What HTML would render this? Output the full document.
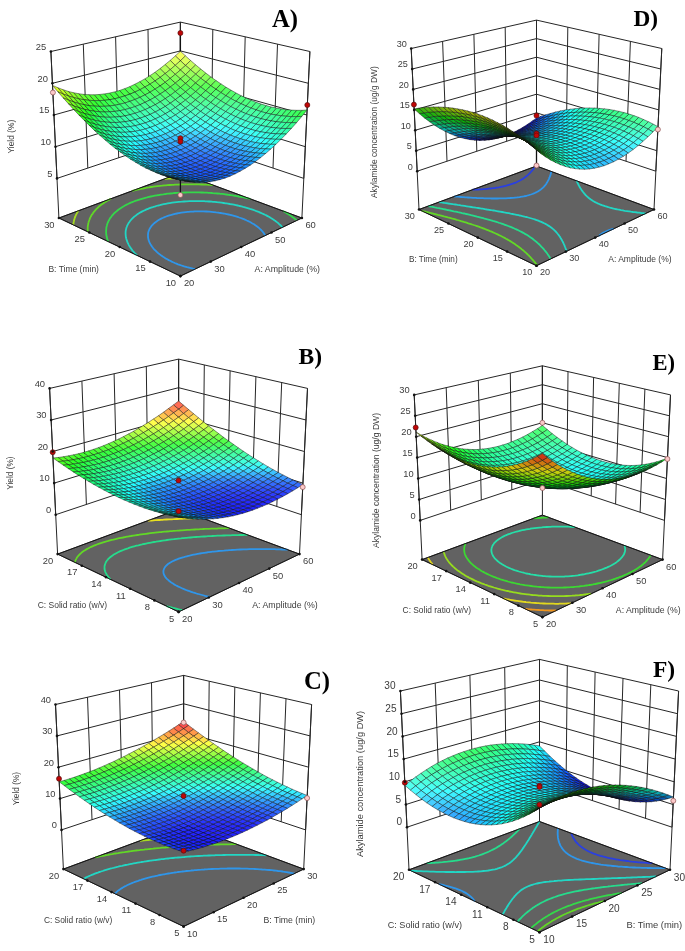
<!DOCTYPE html>
<html><head><meta charset="utf-8"><title>Response surface plots</title>
<style>html,body{margin:0;padding:0;background:#fff}svg{display:block}text{font-family:"Liberation Sans","DejaVu Sans",sans-serif}</style>
</head><body>
<svg width="685" height="951" viewBox="0 0 685 951">
<rect width="685" height="951" fill="#fff"/>
<g id="pA"><path d="M57.0,178.4L180.4,137.1L303.8,178.4M55.5,146.7L180.4,108.4L305.3,146.7M53.9,115.0L180.4,79.6L306.9,115.0M52.4,83.3L180.4,50.9L308.4,83.3M50.9,51.5L180.4,22.1L309.9,51.5M57.0,178.4L50.9,51.5M87.8,168.1L83.3,44.2M118.7,157.8L115.6,36.8M149.5,147.4L148.0,29.5M180.4,137.1L180.4,22.1M303.8,178.4L309.9,51.5M273.0,168.1L277.5,44.2M242.1,157.8L245.2,36.8M211.3,147.4L212.8,29.5M180.4,137.1L180.4,22.1M58.9,218.0L50.9,51.5M301.9,218.0L309.9,51.5M180.4,173.0L180.4,22.1" fill="none" stroke="#262626" stroke-width="1.00"/>
<path d="M58.9,218.0L180.4,276.1L301.9,218.0L180.4,173.0Z" fill="#626262" stroke="#222" stroke-width="0.8"/>
<path d="M78.3,210.8L77.8,211.6L77.3,212.5L77.2,212.6L76.7,213.6L76.4,214.1L76.1,214.6L75.7,215.6L75.7,215.7L75.2,216.7L75.1,217.1L74.8,217.8L74.6,218.6L74.5,218.9L74.1,220.0L74.1,220.1L73.9,221.2L73.8,221.5L73.6,222.4L73.6,222.8L73.4,223.6L73.4,224.2L73.3,224.9M194.2,178.1L194.0,178.1L191.1,178.1L191.0,178.1L188.1,178.1L187.9,178.1L185.1,178.1L184.9,178.1L181.9,178.1L181.9,178.1L179.0,178.2L178.7,178.2L176.2,178.3L175.4,178.3L173.5,178.4L171.9,178.5L170.8,178.5L168.3,178.7L168.2,178.7L165.6,178.8L164.6,178.9" fill="none" stroke="#a6dc20" stroke-width="1.8" stroke-linecap="butt"/>
<path d="M110.8,198.8L110.6,198.9L109.3,199.6L108.1,200.3L106.9,201.0L105.7,201.7L104.8,202.2L104.5,202.4L103.4,203.2L102.4,203.9L101.3,204.7L101.1,204.8L100.3,205.5L99.3,206.3L98.4,207.1L98.4,207.1L97.5,208.0L96.6,208.8L96.3,209.1L95.8,209.7L95.0,210.6L94.6,211.0L94.2,211.5L93.5,212.4L93.2,212.8L92.8,213.4L92.1,214.4L92.0,214.6L91.5,215.3L91.0,216.2L90.9,216.4L90.4,217.4L90.2,217.8L89.9,218.5L89.6,219.3L89.5,219.5L89.1,220.6L89.0,220.8L88.7,221.8L88.6,222.3L88.4,222.9L88.2,223.7L88.2,224.1L88.0,225.1L87.9,225.3L87.8,226.5L87.8,226.5L87.7,227.8L87.7,227.9L87.7,229.1L87.7,229.2L87.7,230.4L87.7,230.5L87.8,231.8L87.8,231.8M212.9,185.1L211.9,185.0L209.4,184.8L209.1,184.8L206.8,184.7L205.4,184.6L204.1,184.6L201.9,184.5L201.5,184.5L198.7,184.4L198.5,184.4L195.9,184.3L195.3,184.3L193.0,184.3L192.1,184.3L190.0,184.3L189.0,184.3L186.9,184.3L186.0,184.3L183.8,184.4L183.1,184.4L180.5,184.4L180.3,184.5L177.5,184.6L177.1,184.6L174.9,184.7L173.6,184.8L172.2,184.8L169.9,185.0L169.7,185.0L167.2,185.2L166.0,185.3L164.7,185.4L162.3,185.6L161.9,185.7L160.0,185.9L157.7,186.2L157.5,186.2L155.4,186.4L153.2,186.7L152.6,186.8L151.1,187.0L149.0,187.4L147.2,187.7L146.9,187.7L144.9,188.1L142.9,188.5L140.9,188.8L140.8,188.9L139.0,189.3L137.2,189.7L135.3,190.1L133.5,190.5L132.1,190.9" fill="none" stroke="#62d826" stroke-width="1.8" stroke-linecap="butt"/>
<path d="M250.4,198.9L250.2,198.9L248.4,198.5L246.6,198.0L244.7,197.6L242.8,197.2L242.1,197.1L240.9,196.8L238.9,196.5L236.9,196.1L235.6,195.9L234.9,195.8L232.8,195.4L230.7,195.1L230.0,195.0L228.6,194.8L226.4,194.5L225.0,194.3L224.2,194.2L221.9,193.9L220.4,193.8L219.6,193.7L217.3,193.5L216.1,193.4L214.9,193.3L212.4,193.1L212.1,193.0L209.9,192.9L208.3,192.8L207.4,192.7L204.7,192.6L204.7,192.6L202.0,192.5L201.2,192.5L199.3,192.4L197.9,192.4L196.4,192.4L194.7,192.4L193.5,192.4L191.6,192.4L190.4,192.4L188.7,192.4L187.3,192.4L185.8,192.5L184.0,192.5L183.0,192.6L180.5,192.7L180.3,192.7L177.7,192.9L176.9,192.9L175.1,193.0L173.1,193.2L172.6,193.3L170.2,193.5L169.0,193.6L167.8,193.7L165.5,194.0L164.5,194.1L163.3,194.3L161.1,194.6L159.6,194.9L159.0,195.0L156.9,195.3L154.8,195.7L153.8,195.9L152.8,196.1L150.9,196.5L149.0,196.9L147.1,197.4L146.2,197.6L145.3,197.8L143.6,198.3L141.8,198.8L140.1,199.3L138.5,199.8L136.9,200.4L135.3,200.9L133.8,201.5L132.3,202.1L130.8,202.7L129.4,203.3L128.0,204.0L126.7,204.6L125.4,205.3L124.1,206.0L123.8,206.2L122.9,206.7L121.7,207.4L120.6,208.2L119.5,209.0L119.0,209.3L118.4,209.7L117.4,210.5L116.4,211.4L115.9,211.7L115.4,212.2L114.5,213.0L113.7,213.9L113.6,213.9L112.8,214.8L112.0,215.7L111.9,215.8L111.3,216.7L110.6,217.6L110.6,217.6L109.9,218.6L109.5,219.3L109.3,219.6L108.7,220.7L108.6,221.0L108.2,221.7L107.9,222.5L107.7,222.8L107.3,223.9L107.3,224.1L107.0,225.0L106.9,225.5L106.7,226.2L106.5,227.0L106.4,227.4L106.3,228.4L106.3,228.6L106.2,229.8L106.2,229.9L106.1,231.1L106.1,231.2L106.1,232.4L106.1,232.5L106.2,233.7L106.2,233.9L106.4,235.0L106.4,235.3L106.6,236.2L106.7,236.8L106.9,237.5L107.1,238.3L107.2,238.7L107.5,239.9L107.6,239.9L108.0,241.0L108.1,241.5M296.8,220.4L295.8,219.6L295.8,219.6L294.8,218.8L293.8,218.0L292.8,217.2L292.8,217.2L291.7,216.4L290.6,215.6L289.5,214.9L288.9,214.5L288.4,214.1L287.2,213.4L286.0,212.7L284.8,212.0L283.6,211.3L283.2,211.1" fill="none" stroke="#34d84a" stroke-width="1.8" stroke-linecap="butt"/>
<path d="M282.5,227.3L281.6,226.4L280.9,225.6L280.8,225.5L279.8,224.6L278.9,223.8L278.5,223.4L277.9,222.9L276.9,222.1L275.8,221.3L275.2,220.8L274.7,220.5L273.6,219.7L272.5,219.0L271.3,218.2L270.5,217.8L270.1,217.5L268.9,216.8L267.6,216.1L266.3,215.4L265.0,214.8L263.6,214.1L262.2,213.5L260.8,212.9L259.4,212.3L259.4,212.2L257.9,211.6L256.4,211.1L254.9,210.5L253.4,209.9L253.3,209.9L251.7,209.4L250.1,208.9L248.4,208.3L246.7,207.8L245.0,207.3L243.2,206.9L241.4,206.4L239.7,206.0L239.6,206.0L237.7,205.5L235.8,205.1L233.9,204.7L232.4,204.4L231.9,204.3L229.9,204.0L227.8,203.6L226.5,203.4L225.7,203.3L223.6,203.0L221.5,202.7L221.4,202.7L219.1,202.4L216.9,202.2L216.8,202.1L214.4,201.9L212.7,201.8L212.0,201.7L209.5,201.5L208.9,201.5L206.9,201.4L205.2,201.3L204.3,201.2L201.8,201.2L201.6,201.1L198.7,201.1L198.5,201.1L195.8,201.1L195.4,201.1L192.7,201.1L192.4,201.1L189.5,201.2L189.5,201.2L186.8,201.3L186.1,201.4L184.1,201.5L182.5,201.6L181.6,201.7L179.1,201.9L178.6,201.9L176.7,202.1L174.3,202.4L174.3,202.4L172.1,202.7L169.9,203.1L169.5,203.1L167.7,203.4L165.7,203.8L163.8,204.2L163.7,204.2L161.7,204.6L159.8,205.1L158.0,205.5L156.2,206.0L155.4,206.3L154.5,206.5L152.8,207.1L151.1,207.6L149.6,208.2L148.0,208.8L146.5,209.4L145.1,210.1L143.7,210.7L142.3,211.4L141.9,211.6L141.0,212.1L139.8,212.8L138.6,213.5L137.4,214.3L136.3,215.1L136.2,215.2L135.3,215.9L134.2,216.7L133.3,217.6L133.2,217.6L132.4,218.4L131.5,219.3L131.1,219.7L130.7,220.3L129.9,221.2L129.6,221.7L129.2,222.2L128.5,223.2L128.4,223.4L128.0,224.2L127.5,225.1L127.4,225.3L126.9,226.4L126.8,226.7L126.5,227.5L126.3,228.2L126.2,228.6L126.0,229.6L125.9,229.8L125.7,231.0L125.7,231.1L125.6,232.3L125.6,232.4L125.6,233.6L125.6,233.8L125.7,235.0L125.7,235.1L125.8,236.3L125.8,236.4L126.0,237.6L126.1,237.9L126.3,238.8L126.5,239.4L126.7,240.0L127.0,241.0L127.1,241.2L127.5,242.3L127.7,242.7L128.1,243.5L128.5,244.4L128.6,244.6L129.2,245.7L129.6,246.3L129.9,246.8L130.6,247.9L130.9,248.3L131.3,248.9L132.1,250.0L132.4,250.4L132.9,251.0L133.8,252.0L134.4,252.7L134.7,253.0L135.6,254.0L136.6,254.9L136.9,255.3" fill="none" stroke="#22d6c4" stroke-width="1.8" stroke-linecap="butt"/>
<path d="M195.1,269.0L193.0,268.6L191.2,268.2L191.0,268.2L189.0,267.7L187.0,267.2L185.1,266.6L184.2,266.4L183.3,266.1L181.5,265.5L179.7,264.9L178.0,264.3L176.4,263.6L174.8,263.0L173.2,262.3L171.7,261.6L170.2,260.8L168.7,260.1L167.3,259.3L166.0,258.6L164.6,257.8L163.4,256.9L162.1,256.1L161.9,255.9L160.9,255.3L159.8,254.4L158.6,253.5L157.6,252.6L157.5,252.5L156.5,251.7L155.6,250.7L154.7,249.8L154.6,249.8L153.7,248.8L152.9,247.8L152.7,247.5L152.1,246.7L151.4,245.7L151.2,245.5L150.7,244.6L150.1,243.6L150.1,243.5L149.5,242.4L149.3,241.9L149.1,241.3L148.7,240.3L148.7,240.1L148.3,238.9L148.3,238.7L148.1,237.6L148.1,237.3L148.0,236.4L148.0,235.9L148.0,235.0L148.0,234.6L148.1,233.7L148.1,233.3L148.3,232.2L148.4,232.1L148.7,230.9L148.8,230.7L149.2,229.8L149.5,229.1L149.7,228.7L150.3,227.7L150.5,227.4L151.0,226.7L151.7,225.7L152.0,225.4L152.6,224.8L153.5,223.9L154.2,223.2L154.5,223.0L155.5,222.2L156.6,221.4L157.8,220.6L158.4,220.2L159.0,219.8L160.3,219.1L161.7,218.4L163.1,217.8L164.6,217.1L166.2,216.5L167.8,215.9L169.5,215.4L171.2,214.9L171.5,214.8L173.1,214.4L175.0,213.9L177.0,213.5L178.4,213.2L179.1,213.1L181.2,212.7L183.4,212.4L183.5,212.4L185.8,212.1L187.5,211.9L188.3,211.8L190.9,211.6L191.3,211.6L193.6,211.5L194.7,211.4L196.4,211.4L197.9,211.4L199.4,211.3L200.8,211.4L202.6,211.4L203.7,211.4L206.0,211.5L206.4,211.5L209.0,211.7L209.7,211.7L211.5,211.9L213.7,212.1L213.9,212.1L216.2,212.4L218.3,212.6L218.4,212.7L220.6,213.0L222.7,213.3L223.6,213.5L224.7,213.7L226.7,214.1L228.6,214.5L230.5,214.9L230.5,215.0L232.4,215.4L234.1,215.9L235.9,216.4L237.6,216.9L239.2,217.5L240.8,218.0L242.4,218.6L243.9,219.2L245.4,219.8L246.8,220.5L248.2,221.1L249.6,221.8L250.9,222.5L252.1,223.2L253.4,223.9L253.7,224.1L254.6,224.7L255.7,225.5L256.8,226.3L257.9,227.1L258.0,227.1L258.9,227.9L259.9,228.8L260.7,229.5L260.8,229.7L261.7,230.6L262.5,231.5L262.6,231.6L263.3,232.5L264.0,233.4L264.0,233.5L264.6,234.5L265.1,235.3L265.2,235.5" fill="none" stroke="#2f96ea" stroke-width="1.8" stroke-linecap="butt"/>
<path d="M58.9,218.0L180.4,276.1L301.9,218.0L180.4,173.0Z" fill="none" stroke="#111" stroke-width="0.9"/>
<path d="M180.4,195.0L180.4,179.6" stroke="#111" stroke-width="1.3" fill="none"/>
<circle cx="180.4" cy="195.0" r="2.5" fill="#fcc8c8" stroke="#8a5050" stroke-width="0.7"/>
<g stroke="#101010" stroke-width="0.45" stroke-linejoin="round"><path d="M180.4,60.7L185.5,55.9L180.4,51.2L175.3,55.9Z" fill="#f5ff5f"/><path d="M185.5,65.4L190.6,60.5L185.5,55.9L180.4,60.7Z" fill="#ddff5e"/><path d="M190.6,69.8L195.7,64.9L190.6,60.5L185.5,65.4Z" fill="#c6ff5d"/><path d="M195.7,74.1L200.8,69.1L195.7,64.9L190.6,69.8Z" fill="#b0ff5c"/><path d="M200.7,78.2L205.8,73.1L200.8,69.1L195.7,74.1Z" fill="#9cff5b"/><path d="M205.8,82.0L210.9,76.9L205.8,73.1L200.7,78.2Z" fill="#89ff5a"/><path d="M210.8,85.7L215.9,80.5L210.9,76.9L205.8,82.0Z" fill="#77ff59"/><path d="M215.9,89.2L221.0,83.9L215.9,80.5L210.8,85.7Z" fill="#66ff58"/><path d="M220.9,92.6L226.0,87.2L221.0,83.9L215.9,89.2Z" fill="#57ff56"/><path d="M225.9,95.7L231.1,90.2L226.0,87.2L220.9,92.6Z" fill="#55ff62"/><path d="M230.9,98.6L236.1,93.0L231.1,90.2L225.9,95.7Z" fill="#53ff6c"/><path d="M236.0,101.3L241.1,95.7L236.1,93.0L230.9,98.6Z" fill="#52ff74"/><path d="M241.0,103.7L246.2,98.1L241.1,95.7L236.0,101.3Z" fill="#50ff7b"/><path d="M246.0,106.0L251.2,100.3L246.2,98.1L241.0,103.7Z" fill="#4eff81"/><path d="M251.1,108.1L256.2,102.3L251.2,100.3L246.0,106.0Z" fill="#4dff85"/><path d="M256.1,109.9L261.3,104.1L256.2,102.3L251.1,108.1Z" fill="#4bff87"/><path d="M261.1,111.6L266.3,105.6L261.3,104.1L256.1,109.9Z" fill="#49ff88"/><path d="M266.2,113.0L271.4,107.0L266.3,105.6L261.1,111.6Z" fill="#47ff87"/><path d="M271.2,114.2L276.5,108.1L271.4,107.0L266.2,113.0Z" fill="#45ff84"/><path d="M276.3,115.1L281.5,109.0L276.5,108.1L271.2,114.2Z" fill="#43ff80"/><path d="M281.4,115.8L286.6,109.7L281.5,109.0L276.3,115.1Z" fill="#41ff7a"/><path d="M286.5,116.3L291.7,110.1L286.6,109.7L281.4,115.8Z" fill="#3fff72"/><path d="M291.6,116.6L296.8,110.3L291.7,110.1L286.5,116.3Z" fill="#3dff68"/><path d="M296.7,116.6L302.0,110.3L296.8,110.3L291.6,116.6Z" fill="#3bff5c"/><path d="M301.8,116.4L307.1,110.0L302.0,110.3L296.7,116.6Z" fill="#39ff4d"/><path d="M175.3,65.3L180.4,60.7L175.3,55.9L170.2,60.4Z" fill="#ddff5e"/><path d="M180.4,70.0L185.5,65.4L180.4,60.7L175.3,65.3Z" fill="#c4ff5d"/><path d="M185.5,74.5L190.6,69.8L185.5,65.4L180.4,70.0Z" fill="#adff5c"/><path d="M190.6,78.8L195.7,74.1L190.6,69.8L185.5,74.5Z" fill="#97ff5b"/><path d="M195.6,83.0L200.7,78.2L195.7,74.1L190.6,78.8Z" fill="#82ff5a"/><path d="M200.7,87.0L205.8,82.0L200.7,78.2L195.6,83.0Z" fill="#6eff59"/><path d="M205.7,90.7L210.8,85.7L205.8,82.0L200.7,87.0Z" fill="#5cff58"/><path d="M210.7,94.3L215.9,89.2L210.8,85.7L205.7,90.7Z" fill="#56ff62"/><path d="M215.8,97.7L220.9,92.6L215.9,89.2L210.7,94.3Z" fill="#55ff70"/><path d="M220.8,100.8L225.9,95.7L220.9,92.6L215.8,97.7Z" fill="#54ff7c"/><path d="M225.8,103.8L230.9,98.6L225.9,95.7L220.8,100.8Z" fill="#52ff86"/><path d="M230.8,106.6L236.0,101.3L230.9,98.6L225.8,103.8Z" fill="#50ff8f"/><path d="M235.9,109.1L241.0,103.7L236.0,101.3L230.8,106.6Z" fill="#4fff97"/><path d="M240.9,111.5L246.0,106.0L241.0,103.7L235.9,109.1Z" fill="#4dff9d"/><path d="M245.9,113.6L251.1,108.1L246.0,106.0L240.9,111.5Z" fill="#4bffa1"/><path d="M250.9,115.5L256.1,109.9L251.1,108.1L245.9,113.6Z" fill="#49ffa4"/><path d="M256.0,117.2L261.1,111.6L256.1,109.9L250.9,115.5Z" fill="#47ffa6"/><path d="M261.0,118.7L266.2,113.0L261.1,111.6L256.0,117.2Z" fill="#45ffa5"/><path d="M266.1,119.9L271.2,114.2L266.2,113.0L261.0,118.7Z" fill="#43ffa3"/><path d="M271.1,120.9L276.3,115.1L271.2,114.2L266.1,119.9Z" fill="#41ffa0"/><path d="M276.2,121.7L281.4,115.8L276.3,115.1L271.1,120.9Z" fill="#3fff9a"/><path d="M281.3,122.3L286.5,116.3L281.4,115.8L276.2,121.7Z" fill="#3dff92"/><path d="M286.4,122.6L291.6,116.6L286.5,116.3L281.3,122.3Z" fill="#3bff89"/><path d="M291.5,122.7L296.7,116.6L291.6,116.6L286.4,122.6Z" fill="#39ff7d"/><path d="M296.6,122.6L301.8,116.4L296.7,116.6L291.5,122.7Z" fill="#37ff70"/><path d="M170.2,69.6L175.3,65.3L170.2,60.4L165.1,64.6Z" fill="#c7ff5c"/><path d="M175.3,74.3L180.4,70.0L175.3,65.3L170.2,69.6Z" fill="#aeff5b"/><path d="M180.4,78.9L185.5,74.5L180.4,70.0L175.3,74.3Z" fill="#96ff5a"/><path d="M185.5,83.4L190.6,78.8L185.5,74.5L180.4,78.9Z" fill="#7fff5a"/><path d="M190.5,87.6L195.6,83.0L190.6,78.8L185.5,83.4Z" fill="#6aff59"/><path d="M195.6,91.6L200.7,87.0L195.6,83.0L190.5,87.6Z" fill="#57ff59"/><path d="M200.6,95.4L205.7,90.7L200.7,87.0L195.6,91.6Z" fill="#56ff6a"/><path d="M205.7,99.1L210.7,94.3L205.7,90.7L200.6,95.4Z" fill="#55ff79"/><path d="M210.7,102.5L215.8,97.7L210.7,94.3L205.7,99.1Z" fill="#54ff87"/><path d="M215.7,105.8L220.8,100.8L215.8,97.7L210.7,102.5Z" fill="#52ff94"/><path d="M220.7,108.8L225.8,103.8L220.8,100.8L215.7,105.8Z" fill="#51ff9f"/><path d="M225.7,111.6L230.8,106.6L225.8,103.8L220.7,108.8Z" fill="#4fffa8"/><path d="M230.8,114.3L235.9,109.1L230.8,106.6L225.7,111.6Z" fill="#4dffb1"/><path d="M235.8,116.7L240.9,111.5L235.9,109.1L230.8,114.3Z" fill="#4bffb7"/><path d="M240.8,118.9L245.9,113.6L240.9,111.5L235.8,116.7Z" fill="#4affbc"/><path d="M245.8,120.8L250.9,115.5L245.9,113.6L240.8,118.9Z" fill="#48ffc0"/><path d="M250.8,122.6L256.0,117.2L250.9,115.5L245.8,120.8Z" fill="#46ffc2"/><path d="M255.9,124.1L261.0,118.7L256.0,117.2L250.8,122.6Z" fill="#44ffc2"/><path d="M260.9,125.4L266.1,119.9L261.0,118.7L255.9,124.1Z" fill="#42ffc1"/><path d="M266.0,126.5L271.1,120.9L266.1,119.9L260.9,125.4Z" fill="#40ffbd"/><path d="M271.0,127.4L276.2,121.7L271.1,120.9L266.0,126.5Z" fill="#3dffb8"/><path d="M276.1,128.0L281.3,122.3L276.2,121.7L271.0,127.4Z" fill="#3bffb1"/><path d="M281.2,128.4L286.4,122.6L281.3,122.3L276.1,128.0Z" fill="#39ffa8"/><path d="M286.2,128.5L291.5,122.7L286.4,122.6L281.2,128.4Z" fill="#37ff9d"/><path d="M291.4,128.4L296.6,122.6L291.5,122.7L286.2,128.5Z" fill="#35ff90"/><path d="M165.1,73.6L170.2,69.6L165.1,64.6L160.0,68.6Z" fill="#b2ff5a"/><path d="M170.2,78.4L175.3,74.3L170.2,69.6L165.1,73.6Z" fill="#98ff5a"/><path d="M175.3,83.1L180.4,78.9L175.3,74.3L170.2,78.4Z" fill="#80ff59"/><path d="M180.4,87.6L185.5,83.4L180.4,78.9L175.3,83.1Z" fill="#69ff58"/><path d="M185.5,91.9L190.5,87.6L185.5,83.4L180.4,87.6Z" fill="#57ff5b"/><path d="M190.5,96.0L195.6,91.6L190.5,87.6L185.5,91.9Z" fill="#56ff6e"/><path d="M195.5,99.9L200.6,95.4L195.6,91.6L190.5,96.0Z" fill="#55ff7f"/><path d="M200.6,103.6L205.7,99.1L200.6,95.4L195.5,99.9Z" fill="#53ff8f"/><path d="M205.6,107.1L210.7,102.5L205.7,99.1L200.6,103.6Z" fill="#52ff9d"/><path d="M210.6,110.4L215.7,105.8L210.7,102.5L205.6,107.1Z" fill="#50ffaa"/><path d="M215.6,113.5L220.7,108.8L215.7,105.8L210.6,110.4Z" fill="#4fffb6"/><path d="M220.7,116.4L225.7,111.6L220.7,108.8L215.6,113.5Z" fill="#4dffc0"/><path d="M225.7,119.1L230.8,114.3L225.7,111.6L220.7,116.4Z" fill="#4cffc9"/><path d="M230.7,121.6L235.8,116.7L230.8,114.3L225.7,119.1Z" fill="#4affd0"/><path d="M235.7,123.8L240.8,118.9L235.8,116.7L230.7,121.6Z" fill="#48ffd5"/><path d="M240.7,125.9L245.8,120.8L240.8,118.9L235.7,123.8Z" fill="#46ffda"/><path d="M245.7,127.7L250.8,122.6L245.8,120.8L240.7,125.9Z" fill="#44ffdc"/><path d="M250.7,129.3L255.9,124.1L250.8,122.6L245.7,127.7Z" fill="#42ffdd"/><path d="M255.8,130.7L260.9,125.4L255.9,124.1L250.7,129.3Z" fill="#40ffdc"/><path d="M260.8,131.8L266.0,126.5L260.9,125.4L255.8,130.7Z" fill="#3effd9"/><path d="M265.9,132.7L271.0,127.4L266.0,126.5L260.8,131.8Z" fill="#3cffd4"/><path d="M270.9,133.4L276.1,128.0L271.0,127.4L265.9,132.7Z" fill="#39ffce"/><path d="M276.0,133.8L281.2,128.4L276.1,128.0L270.9,133.4Z" fill="#37ffc5"/><path d="M281.1,134.0L286.2,128.5L281.2,128.4L276.0,133.8Z" fill="#35ffbb"/><path d="M286.2,134.0L291.4,128.4L286.2,128.5L281.1,134.0Z" fill="#33ffae"/><path d="M160.1,77.4L165.1,73.6L160.0,68.6L155.0,72.3Z" fill="#9fff59"/><path d="M165.2,82.3L170.2,78.4L165.1,73.6L160.1,77.4Z" fill="#85ff58"/><path d="M170.3,87.0L175.3,83.1L170.2,78.4L165.2,82.3Z" fill="#6cff57"/><path d="M175.3,91.6L180.4,87.6L175.3,83.1L170.3,87.0Z" fill="#56ff58"/><path d="M180.4,95.9L185.5,91.9L180.4,87.6L175.3,91.6Z" fill="#55ff6d"/><path d="M185.4,100.1L190.5,96.0L185.5,91.9L180.4,95.9Z" fill="#54ff80"/><path d="M190.5,104.1L195.5,99.9L190.5,96.0L185.4,100.1Z" fill="#53ff92"/><path d="M195.5,107.9L200.6,103.6L195.5,99.9L190.5,104.1Z" fill="#51ffa2"/><path d="M200.5,111.4L205.6,107.1L200.6,103.6L195.5,107.9Z" fill="#50ffb1"/><path d="M205.6,114.8L210.6,110.4L205.6,107.1L200.5,111.4Z" fill="#4fffbf"/><path d="M210.6,118.0L215.6,113.5L210.6,110.4L205.6,114.8Z" fill="#4dffcb"/><path d="M215.6,120.9L220.7,116.4L215.6,113.5L210.6,118.0Z" fill="#4bffd6"/><path d="M220.6,123.7L225.7,119.1L220.7,116.4L215.6,120.9Z" fill="#4affdf"/><path d="M225.6,126.2L230.7,121.6L225.7,119.1L220.6,123.7Z" fill="#48ffe7"/><path d="M230.6,128.6L235.7,123.8L230.7,121.6L225.6,126.2Z" fill="#46ffed"/><path d="M235.6,130.7L240.7,125.9L235.7,123.8L230.6,128.6Z" fill="#44fff1"/><path d="M240.6,132.5L245.7,127.7L240.7,125.9L235.6,130.7Z" fill="#42fff4"/><path d="M245.6,134.2L250.7,129.3L245.7,127.7L240.6,132.5Z" fill="#40fff6"/><path d="M250.7,135.6L255.8,130.7L250.7,129.3L245.6,134.2Z" fill="#3efff5"/><path d="M255.7,136.8L260.8,131.8L255.8,130.7L250.7,135.6Z" fill="#3cfff3"/><path d="M260.7,137.8L265.9,132.7L260.8,131.8L255.7,136.8Z" fill="#3affef"/><path d="M265.8,138.5L270.9,133.4L265.9,132.7L260.7,137.8Z" fill="#37ffe9"/><path d="M270.8,139.0L276.0,133.8L270.9,133.4L265.8,138.5Z" fill="#35ffe1"/><path d="M275.9,139.3L281.1,134.0L276.0,133.8L270.8,139.0Z" fill="#33ffd7"/><path d="M281.0,139.3L286.2,134.0L281.1,134.0L275.9,139.3Z" fill="#31ffca"/><path d="M155.0,80.9L160.1,77.4L155.0,72.3L149.9,75.7Z" fill="#8eff57"/><path d="M160.1,85.9L165.2,82.3L160.1,77.4L155.0,80.9Z" fill="#73ff56"/><path d="M165.2,90.7L170.3,87.0L165.2,82.3L160.1,85.9Z" fill="#59ff55"/><path d="M170.3,95.3L175.3,91.6L170.3,87.0L165.2,90.7Z" fill="#54ff67"/><path d="M175.3,99.7L180.4,95.9L175.3,91.6L170.3,95.3Z" fill="#53ff7d"/><path d="M180.4,103.9L185.4,100.1L180.4,95.9L175.3,99.7Z" fill="#52ff90"/><path d="M185.4,108.0L190.5,104.1L185.4,100.1L180.4,103.9Z" fill="#51ffa3"/><path d="M190.5,111.8L195.5,107.9L190.5,104.1L185.4,108.0Z" fill="#4fffb4"/><path d="M195.5,115.5L200.5,111.4L195.5,107.9L190.5,111.8Z" fill="#4effc3"/><path d="M200.5,118.9L205.6,114.8L200.5,111.4L195.5,115.5Z" fill="#4dffd1"/><path d="M205.5,122.2L210.6,118.0L205.6,114.8L200.5,118.9Z" fill="#4bffde"/><path d="M210.5,125.2L215.6,120.9L210.6,118.0L205.5,122.2Z" fill="#49ffe9"/><path d="M215.5,128.0L220.6,123.7L215.6,120.9L210.5,125.2Z" fill="#48fff3"/><path d="M220.5,130.6L225.6,126.2L220.6,123.7L215.5,128.0Z" fill="#46fffb"/><path d="M225.5,133.0L230.6,128.6L225.6,126.2L220.5,130.6Z" fill="#44faff"/><path d="M230.5,135.2L235.6,130.7L230.6,128.6L225.5,133.0Z" fill="#42f3ff"/><path d="M235.5,137.1L240.6,132.5L235.6,130.7L230.5,135.2Z" fill="#40eeff"/><path d="M240.6,138.8L245.6,134.2L240.6,132.5L235.5,137.1Z" fill="#3eebff"/><path d="M245.6,140.3L250.7,135.6L245.6,134.2L240.6,138.8Z" fill="#3cebff"/><path d="M250.6,141.6L255.7,136.8L250.7,135.6L245.6,140.3Z" fill="#3aeeff"/><path d="M255.6,142.6L260.7,137.8L255.7,136.8L250.6,141.6Z" fill="#37f3ff"/><path d="M260.7,143.4L265.8,138.5L260.7,137.8L255.6,142.6Z" fill="#35fbff"/><path d="M265.7,143.9L270.8,139.0L265.8,138.5L260.7,143.4Z" fill="#33fffa"/><path d="M270.8,144.3L275.9,139.3L270.8,139.0L265.7,143.9Z" fill="#31fff0"/><path d="M275.9,144.3L281.0,139.3L275.9,139.3L270.8,144.3Z" fill="#2fffe5"/><path d="M150.0,84.1L155.0,80.9L149.9,75.7L144.8,78.9Z" fill="#7eff54"/><path d="M155.1,89.1L160.1,85.9L155.0,80.9L150.0,84.1Z" fill="#62ff54"/><path d="M160.2,94.0L165.2,90.7L160.1,85.9L155.1,89.1Z" fill="#53ff5e"/><path d="M165.2,98.7L170.3,95.3L165.2,90.7L160.2,94.0Z" fill="#52ff75"/><path d="M170.3,103.2L175.3,99.7L170.3,95.3L165.2,98.7Z" fill="#51ff8b"/><path d="M175.4,107.5L180.4,103.9L175.3,99.7L170.3,103.2Z" fill="#50ff9f"/><path d="M180.4,111.6L185.4,108.0L180.4,103.9L175.4,107.5Z" fill="#4fffb2"/><path d="M185.4,115.5L190.5,111.8L185.4,108.0L180.4,111.6Z" fill="#4dffc3"/><path d="M190.5,119.2L195.5,115.5L190.5,111.8L185.4,115.5Z" fill="#4cffd3"/><path d="M195.5,122.7L200.5,118.9L195.5,115.5L190.5,119.2Z" fill="#4affe2"/><path d="M200.5,126.0L205.5,122.2L200.5,118.9L195.5,122.7Z" fill="#49ffef"/><path d="M205.5,129.1L210.5,125.2L205.5,122.2L200.5,126.0Z" fill="#47fffb"/><path d="M210.5,132.0L215.5,128.0L210.5,125.2L205.5,129.1Z" fill="#45f5ff"/><path d="M215.5,134.7L220.5,130.6L215.5,128.0L210.5,132.0Z" fill="#44e8ff"/><path d="M220.5,137.1L225.5,133.0L220.5,130.6L215.5,134.7Z" fill="#42deff"/><path d="M225.5,139.4L230.5,135.2L225.5,133.0L220.5,137.1Z" fill="#40d6ff"/><path d="M230.5,141.4L235.5,137.1L230.5,135.2L225.5,139.4Z" fill="#3ed1ff"/><path d="M235.5,143.2L240.6,138.8L235.5,137.1L230.5,141.4Z" fill="#3ccdff"/><path d="M240.5,144.7L245.6,140.3L240.6,138.8L235.5,143.2Z" fill="#39cdff"/><path d="M245.5,146.0L250.6,141.6L245.6,140.3L240.5,144.7Z" fill="#37ceff"/><path d="M250.5,147.1L255.6,142.6L250.6,141.6L245.5,146.0Z" fill="#35d3ff"/><path d="M255.6,148.0L260.7,143.4L255.6,142.6L250.5,147.1Z" fill="#33daff"/><path d="M260.6,148.6L265.7,143.9L260.7,143.4L255.6,148.0Z" fill="#31e4ff"/><path d="M265.7,148.9L270.8,144.3L265.7,143.9L260.6,148.6Z" fill="#2ff1ff"/><path d="M270.7,149.1L275.9,144.3L270.8,144.3L265.7,148.9Z" fill="#2cfffd"/><path d="M144.9,87.0L150.0,84.1L144.8,78.9L139.8,81.7Z" fill="#6fff52"/><path d="M150.0,92.2L155.1,89.1L150.0,84.1L144.9,87.0Z" fill="#53ff51"/><path d="M155.1,97.1L160.2,94.0L155.1,89.1L150.0,92.2Z" fill="#51ff69"/><path d="M160.2,101.9L165.2,98.7L160.2,94.0L155.1,97.1Z" fill="#50ff80"/><path d="M165.3,106.4L170.3,103.2L165.2,98.7L160.2,101.9Z" fill="#4fff97"/><path d="M170.3,110.8L175.4,107.5L170.3,103.2L165.3,106.4Z" fill="#4dffac"/><path d="M175.4,115.0L180.4,111.6L175.4,107.5L170.3,110.8Z" fill="#4cffbf"/><path d="M180.4,118.9L185.4,115.5L180.4,111.6L175.4,115.0Z" fill="#4bffd1"/><path d="M185.4,122.7L190.5,119.2L185.4,115.5L180.4,118.9Z" fill="#49ffe2"/><path d="M190.4,126.3L195.5,122.7L190.5,119.2L185.4,122.7Z" fill="#48fff1"/><path d="M195.4,129.7L200.5,126.0L195.5,122.7L190.4,126.3Z" fill="#46ffff"/><path d="M200.5,132.8L205.5,129.1L200.5,126.0L195.4,129.7Z" fill="#45edff"/><path d="M205.5,135.8L210.5,132.0L205.5,129.1L200.5,132.8Z" fill="#43ddff"/><path d="M210.4,138.5L215.5,134.7L210.5,132.0L205.5,135.8Z" fill="#41d0ff"/><path d="M215.4,141.0L220.5,137.1L215.5,134.7L210.4,138.5Z" fill="#3fc6ff"/><path d="M220.4,143.3L225.5,139.4L220.5,137.1L215.4,141.0Z" fill="#3dbeff"/><path d="M225.4,145.4L230.5,141.4L225.5,139.4L220.4,143.3Z" fill="#3bb8ff"/><path d="M230.4,147.2L235.5,143.2L230.5,141.4L225.4,145.4Z" fill="#39b4ff"/><path d="M235.4,148.8L240.5,144.7L235.5,143.2L230.4,147.2Z" fill="#37b3ff"/><path d="M240.5,150.2L245.5,146.0L240.5,144.7L235.4,148.8Z" fill="#35b4ff"/><path d="M245.5,151.3L250.5,147.1L245.5,146.0L240.5,150.2Z" fill="#33b7ff"/><path d="M250.5,152.2L255.6,148.0L250.5,147.1L245.5,151.3Z" fill="#31bdff"/><path d="M255.5,152.9L260.6,148.6L255.6,148.0L250.5,152.2Z" fill="#2ec6ff"/><path d="M260.6,153.3L265.7,148.9L260.6,148.6L255.5,152.9Z" fill="#2cd3ff"/><path d="M265.6,153.5L270.7,149.1L265.7,148.9L260.6,153.3Z" fill="#2ae2ff"/><path d="M139.9,89.7L144.9,87.0L139.8,81.7L134.7,84.3Z" fill="#63ff50"/><path d="M145.0,94.9L150.0,92.2L144.9,87.0L139.9,89.7Z" fill="#4fff58"/><path d="M150.1,99.9L155.1,97.1L150.0,92.2L145.0,94.9Z" fill="#4eff72"/><path d="M155.2,104.7L160.2,101.9L155.1,97.1L150.1,99.9Z" fill="#4dff8a"/><path d="M160.2,109.4L165.3,106.4L160.2,101.9L155.2,104.7Z" fill="#4cffa1"/><path d="M165.3,113.8L170.3,110.8L165.3,106.4L160.2,109.4Z" fill="#4bffb6"/><path d="M170.3,118.0L175.4,115.0L170.3,110.8L165.3,113.8Z" fill="#4affca"/><path d="M175.4,122.1L180.4,118.9L175.4,115.0L170.3,118.0Z" fill="#48ffdd"/><path d="M180.4,125.9L185.4,122.7L180.4,118.9L175.4,122.1Z" fill="#47ffee"/><path d="M185.4,129.6L190.4,126.3L185.4,122.7L180.4,125.9Z" fill="#45fffe"/><path d="M190.4,133.0L195.4,129.7L190.4,126.3L185.4,129.6Z" fill="#44ebff"/><path d="M195.4,136.2L200.5,132.8L195.4,129.7L190.4,133.0Z" fill="#42d9ff"/><path d="M200.4,139.2L205.5,135.8L200.5,132.8L195.4,136.2Z" fill="#40c9ff"/><path d="M205.4,142.0L210.4,138.5L205.5,135.8L200.4,139.2Z" fill="#3fbcff"/><path d="M210.4,144.6L215.4,141.0L210.4,138.5L205.4,142.0Z" fill="#3db1ff"/><path d="M215.4,146.9L220.4,143.3L215.4,141.0L210.4,144.6Z" fill="#3ba9ff"/><path d="M220.4,149.0L225.4,145.4L220.4,143.3L215.4,146.9Z" fill="#39a3ff"/><path d="M225.4,150.9L230.4,147.2L225.4,145.4L220.4,149.0Z" fill="#379fff"/><path d="M230.4,152.6L235.4,148.8L230.4,147.2L225.4,150.9Z" fill="#349dff"/><path d="M235.4,154.1L240.5,150.2L235.4,148.8L230.4,152.6Z" fill="#329dff"/><path d="M240.4,155.3L245.5,151.3L240.5,150.2L235.4,154.1Z" fill="#30a0ff"/><path d="M245.4,156.2L250.5,152.2L245.5,151.3L240.4,155.3Z" fill="#2ea5ff"/><path d="M250.5,156.9L255.5,152.9L250.5,152.2L245.4,156.2Z" fill="#2cadff"/><path d="M255.5,157.4L260.6,153.3L255.5,152.9L250.5,156.9Z" fill="#2ab8ff"/><path d="M260.6,157.6L265.6,153.5L260.6,153.3L255.5,157.4Z" fill="#27c6ff"/><path d="M134.8,92.1L139.9,89.7L134.7,84.3L129.7,86.7Z" fill="#58ff4d"/><path d="M139.9,97.4L145.0,94.9L139.9,89.7L134.8,92.1Z" fill="#4cff5e"/><path d="M145.0,102.4L150.1,99.9L145.0,94.9L139.9,97.4Z" fill="#4bff78"/><path d="M150.1,107.3L155.2,104.7L150.1,99.9L145.0,102.4Z" fill="#4aff91"/><path d="M155.2,112.0L160.2,109.4L155.2,104.7L150.1,107.3Z" fill="#49ffa9"/><path d="M160.3,116.5L165.3,113.8L160.2,109.4L155.2,112.0Z" fill="#48ffbf"/><path d="M165.3,120.8L170.3,118.0L165.3,113.8L160.3,116.5Z" fill="#47ffd4"/><path d="M170.4,124.9L175.4,122.1L170.3,118.0L165.3,120.8Z" fill="#46ffe7"/><path d="M175.4,128.8L180.4,125.9L175.4,122.1L170.4,124.9Z" fill="#44fff9"/><path d="M180.4,132.5L185.4,129.6L180.4,125.9L175.4,128.8Z" fill="#43f0ff"/><path d="M185.4,136.0L190.4,133.0L185.4,129.6L180.4,132.5Z" fill="#41daff"/><path d="M190.4,139.3L195.4,136.2L190.4,133.0L185.4,136.0Z" fill="#3fc8ff"/><path d="M195.4,142.4L200.4,139.2L195.4,136.2L190.4,139.3Z" fill="#3eb8ff"/><path d="M200.4,145.2L205.4,142.0L200.4,139.2L195.4,142.4Z" fill="#3cabff"/><path d="M205.4,147.9L210.4,144.6L205.4,142.0L200.4,145.2Z" fill="#3aa0ff"/><path d="M210.4,150.3L215.4,146.9L210.4,144.6L205.4,147.9Z" fill="#3898ff"/><path d="M215.4,152.4L220.4,149.0L215.4,146.9L210.4,150.3Z" fill="#3691ff"/><path d="M220.4,154.4L225.4,150.9L220.4,149.0L215.4,152.4Z" fill="#348dff"/><path d="M225.4,156.1L230.4,152.6L225.4,150.9L220.4,154.4Z" fill="#328bff"/><path d="M230.4,157.6L235.4,154.1L230.4,152.6L225.4,156.1Z" fill="#308aff"/><path d="M235.4,158.9L240.4,155.3L235.4,154.1L230.4,157.6Z" fill="#2d8cff"/><path d="M240.4,159.9L245.4,156.2L240.4,155.3L235.4,158.9Z" fill="#2b91ff"/><path d="M245.4,160.7L250.5,156.9L245.4,156.2L240.4,159.9Z" fill="#2998ff"/><path d="M250.5,161.2L255.5,157.4L250.5,156.9L245.4,160.7Z" fill="#27a2ff"/><path d="M255.5,161.5L260.6,157.6L255.5,157.4L250.5,161.2Z" fill="#25afff"/><path d="M129.8,94.2L134.8,92.1L129.7,86.7L124.6,88.7Z" fill="#4fff4a"/><path d="M134.9,99.5L139.9,97.4L134.8,92.1L129.8,94.2Z" fill="#4aff62"/><path d="M140.0,104.7L145.0,102.4L139.9,97.4L134.9,99.5Z" fill="#49ff7d"/><path d="M145.1,109.6L150.1,107.3L145.0,102.4L140.0,104.7Z" fill="#48ff97"/><path d="M150.2,114.4L155.2,112.0L150.1,107.3L145.1,109.6Z" fill="#47ffaf"/><path d="M155.2,118.9L160.3,116.5L155.2,112.0L150.2,114.4Z" fill="#45ffc6"/><path d="M160.3,123.3L165.3,120.8L160.3,116.5L155.2,118.9Z" fill="#44ffdb"/><path d="M165.3,127.5L170.4,124.9L165.3,120.8L160.3,123.3Z" fill="#43ffef"/><path d="M170.4,131.4L175.4,128.8L170.4,124.9L165.3,127.5Z" fill="#41fbff"/><path d="M175.4,135.2L180.4,132.5L175.4,128.8L170.4,131.4Z" fill="#40e3ff"/><path d="M180.4,138.8L185.4,136.0L180.4,132.5L175.4,135.2Z" fill="#3ecdff"/><path d="M185.4,142.1L190.4,139.3L185.4,136.0L180.4,138.8Z" fill="#3dbaff"/><path d="M190.4,145.2L195.4,142.4L190.4,139.3L185.4,142.1Z" fill="#3babff"/><path d="M195.4,148.1L200.4,145.2L195.4,142.4L190.4,145.2Z" fill="#399dff"/><path d="M200.4,150.8L205.4,147.9L200.4,145.2L195.4,148.1Z" fill="#3792ff"/><path d="M205.4,153.3L210.4,150.3L205.4,147.9L200.4,150.8Z" fill="#358aff"/><path d="M210.4,155.5L215.4,152.4L210.4,150.3L205.4,153.3Z" fill="#3383ff"/><path d="M215.4,157.6L220.4,154.4L215.4,152.4L210.4,155.5Z" fill="#317eff"/><path d="M220.4,159.3L225.4,156.1L220.4,154.4L215.4,157.6Z" fill="#2f7cff"/><path d="M225.4,160.9L230.4,157.6L225.4,156.1L220.4,159.3Z" fill="#2d7bff"/><path d="M230.4,162.2L235.4,158.9L230.4,157.6L225.4,160.9Z" fill="#2b7cff"/><path d="M235.4,163.3L240.4,159.9L235.4,158.9L230.4,162.2Z" fill="#2880ff"/><path d="M240.4,164.1L245.4,160.7L240.4,159.9L235.4,163.3Z" fill="#2686ff"/><path d="M245.4,164.7L250.5,161.2L245.4,160.7L240.4,164.1Z" fill="#248fff"/><path d="M250.5,165.0L255.5,161.5L250.5,161.2L245.4,164.7Z" fill="#229bff"/><path d="M124.7,96.0L129.8,94.2L124.6,88.7L119.5,90.5Z" fill="#48ff47"/><path d="M129.8,101.4L134.9,99.5L129.8,94.2L124.7,96.0Z" fill="#47ff64"/><path d="M135.0,106.6L140.0,104.7L134.9,99.5L129.8,101.4Z" fill="#46ff80"/><path d="M140.1,111.6L145.1,109.6L140.0,104.7L135.0,106.6Z" fill="#45ff9a"/><path d="M145.2,116.4L150.2,114.4L145.1,109.6L140.1,111.6Z" fill="#44ffb3"/><path d="M150.2,121.1L155.2,118.9L150.2,114.4L145.2,116.4Z" fill="#42ffca"/><path d="M155.3,125.5L160.3,123.3L155.2,118.9L150.2,121.1Z" fill="#41ffe0"/><path d="M160.3,129.7L165.3,127.5L160.3,123.3L155.3,125.5Z" fill="#40fff5"/><path d="M165.4,133.8L170.4,131.4L165.3,127.5L160.3,129.7Z" fill="#3ef2ff"/><path d="M170.4,137.6L175.4,135.2L170.4,131.4L165.4,133.8Z" fill="#3dd9ff"/><path d="M175.4,141.2L180.4,138.8L175.4,135.2L170.4,137.6Z" fill="#3bc3ff"/><path d="M180.4,144.6L185.4,142.1L180.4,138.8L175.4,141.2Z" fill="#39b0ff"/><path d="M185.4,147.8L190.4,145.2L185.4,142.1L180.4,144.6Z" fill="#38a0ff"/><path d="M190.4,150.8L195.4,148.1L190.4,145.2L185.4,147.8Z" fill="#3692ff"/><path d="M195.4,153.5L200.4,150.8L195.4,148.1L190.4,150.8Z" fill="#3487ff"/><path d="M200.4,156.0L205.4,153.3L200.4,150.8L195.4,153.5Z" fill="#327eff"/><path d="M205.4,158.3L210.4,155.5L205.4,153.3L200.4,156.0Z" fill="#3077ff"/><path d="M210.4,160.4L215.4,157.6L210.4,155.5L205.4,158.3Z" fill="#2e72ff"/><path d="M215.4,162.2L220.4,159.3L215.4,157.6L210.4,160.4Z" fill="#2c6fff"/><path d="M220.3,163.8L225.4,160.9L220.4,159.3L215.4,162.2Z" fill="#2a6eff"/><path d="M225.3,165.2L230.4,162.2L225.4,160.9L220.3,163.8Z" fill="#286fff"/><path d="M230.4,166.3L235.4,163.3L230.4,162.2L225.3,165.2Z" fill="#2573ff"/><path d="M235.4,167.2L240.4,164.1L235.4,163.3L230.4,166.3Z" fill="#2378ff"/><path d="M240.4,167.8L245.4,164.7L240.4,164.1L235.4,167.2Z" fill="#2181ff"/><path d="M245.4,168.2L250.5,165.0L245.4,164.7L240.4,167.8Z" fill="#1f8cff"/><path d="M119.6,97.5L124.7,96.0L119.5,90.5L114.5,91.9Z" fill="#45ff45"/><path d="M124.8,103.0L129.8,101.4L124.7,96.0L119.6,97.5Z" fill="#44ff63"/><path d="M129.9,108.3L135.0,106.6L129.8,101.4L124.8,103.0Z" fill="#43ff80"/><path d="M135.0,113.3L140.1,111.6L135.0,106.6L129.9,108.3Z" fill="#42ff9b"/><path d="M140.1,118.2L145.2,116.4L140.1,111.6L135.0,113.3Z" fill="#40ffb5"/><path d="M145.2,122.9L150.2,121.1L145.2,116.4L140.1,118.2Z" fill="#3fffcd"/><path d="M150.3,127.4L155.3,125.5L150.2,121.1L145.2,122.9Z" fill="#3effe3"/><path d="M155.3,131.7L160.3,129.7L155.3,125.5L150.3,127.4Z" fill="#3dfff8"/><path d="M160.3,135.8L165.4,133.8L160.3,129.7L155.3,131.7Z" fill="#3becff"/><path d="M165.4,139.7L170.4,137.6L165.4,133.8L160.3,135.8Z" fill="#3ad2ff"/><path d="M170.4,143.3L175.4,141.2L170.4,137.6L165.4,139.7Z" fill="#38bcff"/><path d="M175.4,146.8L180.4,144.6L175.4,141.2L170.4,143.3Z" fill="#36a9ff"/><path d="M180.4,150.0L185.4,147.8L180.4,144.6L175.4,146.8Z" fill="#3598ff"/><path d="M185.4,153.1L190.4,150.8L185.4,147.8L180.4,150.0Z" fill="#338aff"/><path d="M190.4,155.9L195.4,153.5L190.4,150.8L185.4,153.1Z" fill="#317fff"/><path d="M195.4,158.5L200.4,156.0L195.4,153.5L190.4,155.9Z" fill="#2f76ff"/><path d="M200.4,160.8L205.4,158.3L200.4,156.0L195.4,158.5Z" fill="#2d6fff"/><path d="M205.4,162.9L210.4,160.4L205.4,158.3L200.4,160.8Z" fill="#2b69ff"/><path d="M210.4,164.8L215.4,162.2L210.4,160.4L205.4,162.9Z" fill="#2966ff"/><path d="M215.3,166.5L220.3,163.8L215.4,162.2L210.4,164.8Z" fill="#2765ff"/><path d="M220.3,167.9L225.3,165.2L220.3,163.8L215.3,166.5Z" fill="#2565ff"/><path d="M225.3,169.1L230.4,166.3L225.3,165.2L220.3,167.9Z" fill="#2368ff"/><path d="M230.4,170.0L235.4,167.2L230.4,166.3L225.3,169.1Z" fill="#206dff"/><path d="M235.4,170.7L240.4,167.8L235.4,167.2L230.4,170.0Z" fill="#1e75ff"/><path d="M240.4,171.1L245.4,168.2L240.4,167.8L235.4,170.7Z" fill="#1c7fff"/><path d="M114.6,98.8L119.6,97.5L114.5,91.9L109.4,93.1Z" fill="#42ff42"/><path d="M119.7,104.3L124.8,103.0L119.6,97.5L114.6,98.8Z" fill="#41ff61"/><path d="M124.9,109.6L129.9,108.3L124.8,103.0L119.7,104.3Z" fill="#40ff7e"/><path d="M130.0,114.7L135.0,113.3L129.9,108.3L124.9,109.6Z" fill="#3eff9a"/><path d="M135.1,119.7L140.1,118.2L135.0,113.3L130.0,114.7Z" fill="#3dffb4"/><path d="M140.2,124.4L145.2,122.9L140.1,118.2L135.1,119.7Z" fill="#3cffcd"/><path d="M145.2,129.0L150.3,127.4L145.2,122.9L140.2,124.4Z" fill="#3bffe4"/><path d="M150.3,133.3L155.3,131.7L150.3,127.4L145.2,129.0Z" fill="#39fffa"/><path d="M155.3,137.5L160.3,135.8L155.3,131.7L150.3,133.3Z" fill="#38e9ff"/><path d="M160.4,141.4L165.4,139.7L160.3,135.8L155.3,137.5Z" fill="#36cfff"/><path d="M165.4,145.2L170.4,143.3L165.4,139.7L160.4,141.4Z" fill="#35b8ff"/><path d="M170.4,148.7L175.4,146.8L170.4,143.3L165.4,145.2Z" fill="#33a4ff"/><path d="M175.4,152.0L180.4,150.0L175.4,146.8L170.4,148.7Z" fill="#3194ff"/><path d="M180.4,155.1L185.4,153.1L180.4,150.0L175.4,152.0Z" fill="#3085ff"/><path d="M185.4,157.9L190.4,155.9L185.4,153.1L180.4,155.1Z" fill="#2e79ff"/><path d="M190.4,160.6L195.4,158.5L190.4,155.9L185.4,157.9Z" fill="#2c70ff"/><path d="M195.4,163.0L200.4,160.8L195.4,158.5L190.4,160.6Z" fill="#2a69ff"/><path d="M200.4,165.2L205.4,162.9L200.4,160.8L195.4,163.0Z" fill="#2863ff"/><path d="M205.4,167.1L210.4,164.8L205.4,162.9L200.4,165.2Z" fill="#265fff"/><path d="M210.3,168.8L215.3,166.5L210.4,164.8L205.4,167.1Z" fill="#245eff"/><path d="M215.3,170.3L220.3,167.9L215.3,166.5L210.3,168.8Z" fill="#225eff"/><path d="M220.3,171.5L225.3,169.1L220.3,167.9L215.3,170.3Z" fill="#1f60ff"/><path d="M225.3,172.5L230.4,170.0L225.3,169.1L220.3,171.5Z" fill="#1d65ff"/><path d="M230.4,173.2L235.4,170.7L230.4,170.0L225.3,172.5Z" fill="#1b6cff"/><path d="M235.4,173.7L240.4,171.1L235.4,170.7L230.4,173.2Z" fill="#1976ff"/><path d="M109.5,99.7L114.6,98.8L109.4,93.1L104.3,93.9Z" fill="#41ff3e"/><path d="M114.7,105.3L119.7,104.3L114.6,98.8L109.5,99.7Z" fill="#3dff5b"/><path d="M119.8,110.7L124.9,109.6L119.7,104.3L114.7,105.3Z" fill="#3cff79"/><path d="M124.9,115.9L130.0,114.7L124.9,109.6L119.8,110.7Z" fill="#3bff96"/><path d="M130.0,120.9L135.1,119.7L130.0,114.7L124.9,115.9Z" fill="#3affb1"/><path d="M135.1,125.7L140.2,124.4L135.1,119.7L130.0,120.9Z" fill="#39ffca"/><path d="M140.2,130.3L145.2,129.0L140.2,124.4L135.1,125.7Z" fill="#38ffe2"/><path d="M145.3,134.7L150.3,133.3L145.2,129.0L140.2,130.3Z" fill="#36fff8"/><path d="M150.3,138.9L155.3,137.5L150.3,133.3L145.3,134.7Z" fill="#35eaff"/><path d="M155.4,142.9L160.4,141.4L155.3,137.5L150.3,138.9Z" fill="#33cfff"/><path d="M160.4,146.7L165.4,145.2L160.4,141.4L155.4,142.9Z" fill="#31b8ff"/><path d="M165.4,150.3L170.4,148.7L165.4,145.2L160.4,146.7Z" fill="#30a3ff"/><path d="M170.4,153.6L175.4,152.0L170.4,148.7L165.4,150.3Z" fill="#2e92ff"/><path d="M175.4,156.8L180.4,155.1L175.4,152.0L170.4,153.6Z" fill="#2c83ff"/><path d="M180.4,159.7L185.4,157.9L180.4,155.1L175.4,156.8Z" fill="#2a77ff"/><path d="M185.4,162.4L190.4,160.6L185.4,157.9L180.4,159.7Z" fill="#286dff"/><path d="M190.4,164.8L195.4,163.0L190.4,160.6L185.4,162.4Z" fill="#2665ff"/><path d="M195.4,167.1L200.4,165.2L195.4,163.0L190.4,164.8Z" fill="#245fff"/><path d="M200.4,169.1L205.4,167.1L200.4,165.2L195.4,167.1Z" fill="#225bff"/><path d="M205.4,170.8L210.3,168.8L205.4,167.1L200.4,169.1Z" fill="#2059ff"/><path d="M210.3,172.4L215.3,170.3L210.3,168.8L205.4,170.8Z" fill="#1e59ff"/><path d="M215.3,173.6L220.3,171.5L215.3,170.3L210.3,172.4Z" fill="#1c5cff"/><path d="M220.4,174.7L225.3,172.5L220.3,171.5L215.3,173.6Z" fill="#1a60ff"/><path d="M225.4,175.4L230.4,173.2L225.3,172.5L220.4,174.7Z" fill="#1867ff"/><path d="M230.4,176.0L235.4,173.7L230.4,173.2L225.4,175.4Z" fill="#1770ff"/><path d="M104.4,100.3L109.5,99.7L104.3,93.9L99.2,94.5Z" fill="#43ff3b"/><path d="M109.6,106.0L114.7,105.3L109.5,99.7L104.4,100.3Z" fill="#3aff54"/><path d="M114.7,111.4L119.8,110.7L114.7,105.3L109.6,106.0Z" fill="#39ff72"/><path d="M119.9,116.7L124.9,115.9L119.8,110.7L114.7,111.4Z" fill="#38ff8f"/><path d="M125.0,121.7L130.0,120.9L124.9,115.9L119.9,116.7Z" fill="#37ffab"/><path d="M130.1,126.6L135.1,125.7L130.0,120.9L125.0,121.7Z" fill="#36ffc5"/><path d="M135.2,131.3L140.2,130.3L135.1,125.7L130.1,126.6Z" fill="#34ffdd"/><path d="M140.2,135.7L145.3,134.7L140.2,130.3L135.2,131.3Z" fill="#33fff4"/><path d="M145.3,140.0L150.3,138.9L145.3,134.7L140.2,135.7Z" fill="#31efff"/><path d="M150.3,144.0L155.4,142.9L150.3,138.9L145.3,140.0Z" fill="#30d3ff"/><path d="M155.4,147.9L160.4,146.7L155.4,142.9L150.3,144.0Z" fill="#2ebaff"/><path d="M160.4,151.5L165.4,150.3L160.4,146.7L155.4,147.9Z" fill="#2ca5ff"/><path d="M165.4,154.9L170.4,153.6L165.4,150.3L160.4,151.5Z" fill="#2b93ff"/><path d="M170.4,158.1L175.4,156.8L170.4,153.6L165.4,154.9Z" fill="#2983ff"/><path d="M175.4,161.1L180.4,159.7L175.4,156.8L170.4,158.1Z" fill="#2777ff"/><path d="M180.4,163.9L185.4,162.4L180.4,159.7L175.4,161.1Z" fill="#256cff"/><path d="M185.4,166.4L190.4,164.8L185.4,162.4L180.4,163.9Z" fill="#2364ff"/><path d="M190.4,168.7L195.4,167.1L190.4,164.8L185.4,166.4Z" fill="#215eff"/><path d="M195.4,170.7L200.4,169.1L195.4,167.1L190.4,168.7Z" fill="#1f5aff"/><path d="M200.4,172.5L205.4,170.8L200.4,169.1L195.4,170.7Z" fill="#1d58ff"/><path d="M205.4,174.1L210.3,172.4L205.4,170.8L200.4,172.5Z" fill="#1b57ff"/><path d="M210.4,175.4L215.3,173.6L210.3,172.4L205.4,174.1Z" fill="#1959ff"/><path d="M215.4,176.5L220.4,174.7L215.3,173.6L210.4,175.4Z" fill="#175eff"/><path d="M220.4,177.3L225.4,175.4L220.4,174.7L215.4,176.5Z" fill="#1664ff"/><path d="M225.4,177.9L230.4,176.0L225.4,175.4L220.4,177.3Z" fill="#146eff"/><path d="M99.3,100.6L104.4,100.3L99.2,94.5L94.1,94.8Z" fill="#48ff38"/><path d="M104.5,106.3L109.6,106.0L104.4,100.3L99.3,100.6Z" fill="#37ff49"/><path d="M109.7,111.8L114.7,111.4L109.6,106.0L104.5,106.3Z" fill="#36ff68"/><path d="M114.8,117.1L119.9,116.7L114.7,111.4L109.7,111.8Z" fill="#35ff86"/><path d="M119.9,122.3L125.0,121.7L119.9,116.7L114.8,117.1Z" fill="#34ffa2"/><path d="M125.0,127.2L130.1,126.6L125.0,121.7L119.9,122.3Z" fill="#32ffbd"/><path d="M130.1,131.9L135.2,131.3L130.1,126.6L125.0,127.2Z" fill="#31ffd6"/><path d="M135.2,136.4L140.2,135.7L135.2,131.3L130.1,131.9Z" fill="#2fffee"/><path d="M140.3,140.8L145.3,140.0L140.2,135.7L135.2,136.4Z" fill="#2ef8ff"/><path d="M145.3,144.9L150.3,144.0L145.3,140.0L140.3,140.8Z" fill="#2cdaff"/><path d="M150.3,148.8L155.4,147.9L150.3,144.0L145.3,144.9Z" fill="#2bc1ff"/><path d="M155.4,152.5L160.4,151.5L155.4,147.9L150.3,148.8Z" fill="#29aaff"/><path d="M160.4,155.9L165.4,154.9L160.4,151.5L155.4,152.5Z" fill="#2797ff"/><path d="M165.4,159.2L170.4,158.1L165.4,154.9L160.4,155.9Z" fill="#2687ff"/><path d="M170.4,162.2L175.4,161.1L170.4,158.1L165.4,159.2Z" fill="#247aff"/><path d="M175.4,165.0L180.4,163.9L175.4,161.1L170.4,162.2Z" fill="#226fff"/><path d="M180.4,167.6L185.4,166.4L180.4,163.9L175.4,165.0Z" fill="#2066ff"/><path d="M185.4,169.9L190.4,168.7L185.4,166.4L180.4,167.6Z" fill="#1e60ff"/><path d="M190.4,172.0L195.4,170.7L190.4,168.7L185.4,169.9Z" fill="#1c5bff"/><path d="M195.4,173.9L200.4,172.5L195.4,170.7L190.4,172.0Z" fill="#1a59ff"/><path d="M200.4,175.5L205.4,174.1L200.4,172.5L195.4,173.9Z" fill="#1858ff"/><path d="M205.4,176.9L210.4,175.4L205.4,174.1L200.4,175.5Z" fill="#165aff"/><path d="M210.4,178.0L215.4,176.5L210.4,175.4L205.4,176.9Z" fill="#155eff"/><path d="M215.4,178.9L220.4,177.3L215.4,176.5L210.4,178.0Z" fill="#1365ff"/><path d="M220.4,179.5L225.4,177.9L220.4,177.3L215.4,178.9Z" fill="#116eff"/><path d="M94.2,100.6L99.3,100.6L94.1,94.8L89.0,94.7Z" fill="#50ff35"/><path d="M99.4,106.4L104.5,106.3L99.3,100.6L94.2,100.6Z" fill="#34ff3c"/><path d="M104.6,112.0L109.7,111.8L104.5,106.3L99.4,106.4Z" fill="#33ff5c"/><path d="M109.7,117.3L114.8,117.1L109.7,111.8L104.6,112.0Z" fill="#32ff7a"/><path d="M114.9,122.5L119.9,122.3L114.8,117.1L109.7,117.3Z" fill="#30ff97"/><path d="M120.0,127.5L125.0,127.2L119.9,122.3L114.9,122.5Z" fill="#2fffb2"/><path d="M125.1,132.3L130.1,131.9L125.0,127.2L120.0,127.5Z" fill="#2effcc"/><path d="M130.2,136.8L135.2,136.4L130.1,131.9L125.1,132.3Z" fill="#2cffe4"/><path d="M135.2,141.2L140.3,140.8L135.2,136.4L130.2,136.8Z" fill="#2bfffb"/><path d="M140.3,145.4L145.3,144.9L140.3,140.8L135.2,141.2Z" fill="#29e6ff"/><path d="M145.3,149.3L150.3,148.8L145.3,144.9L140.3,145.4Z" fill="#27cbff"/><path d="M150.4,153.1L155.4,152.5L150.3,148.8L145.3,149.3Z" fill="#26b4ff"/><path d="M155.4,156.6L160.4,155.9L155.4,152.5L150.4,153.1Z" fill="#24a0ff"/><path d="M160.4,159.9L165.4,159.2L160.4,155.9L155.4,156.6Z" fill="#228fff"/><path d="M165.4,163.0L170.4,162.2L165.4,159.2L160.4,159.9Z" fill="#2080ff"/><path d="M170.4,165.8L175.4,165.0L170.4,162.2L165.4,163.0Z" fill="#1f75ff"/><path d="M175.4,168.4L180.4,167.6L175.4,165.0L170.4,165.8Z" fill="#1d6bff"/><path d="M180.4,170.8L185.4,169.9L180.4,167.6L175.4,168.4Z" fill="#1b64ff"/><path d="M185.4,173.0L190.4,172.0L185.4,169.9L180.4,170.8Z" fill="#1960ff"/><path d="M190.4,174.9L195.4,173.9L190.4,172.0L185.4,173.0Z" fill="#175dff"/><path d="M195.4,176.6L200.4,175.5L195.4,173.9L190.4,174.9Z" fill="#155cff"/><path d="M200.4,178.0L205.4,176.9L200.4,175.5L195.4,176.6Z" fill="#135eff"/><path d="M205.4,179.2L210.4,178.0L205.4,176.9L200.4,178.0Z" fill="#1262ff"/><path d="M210.4,180.1L215.4,178.9L210.4,178.0L205.4,179.2Z" fill="#1069ff"/><path d="M215.4,180.7L220.4,179.5L215.4,178.9L210.4,180.1Z" fill="#0e72ff"/><path d="M89.1,100.3L94.2,100.6L89.0,94.7L83.8,94.4Z" fill="#5aff32"/><path d="M94.3,106.1L99.4,106.4L94.2,100.6L89.1,100.3Z" fill="#36ff31"/><path d="M99.5,111.8L104.6,112.0L99.4,106.4L94.3,106.1Z" fill="#30ff4c"/><path d="M104.6,117.2L109.7,117.3L104.6,112.0L99.5,111.8Z" fill="#2eff6b"/><path d="M109.8,122.4L114.9,122.5L109.7,117.3L104.6,117.2Z" fill="#2dff89"/><path d="M114.9,127.4L120.0,127.5L114.9,122.5L109.8,122.4Z" fill="#2cffa5"/><path d="M120.0,132.3L125.1,132.3L120.0,127.5L114.9,127.4Z" fill="#2affbf"/><path d="M125.1,136.9L130.2,136.8L125.1,132.3L120.0,132.3Z" fill="#29ffd8"/><path d="M130.2,141.3L135.2,141.2L130.2,136.8L125.1,136.9Z" fill="#27ffef"/><path d="M135.2,145.6L140.3,145.4L135.2,141.2L130.2,141.3Z" fill="#26f7ff"/><path d="M140.3,149.6L145.3,149.3L140.3,145.4L135.2,145.6Z" fill="#24daff"/><path d="M145.3,153.4L150.4,153.1L145.3,149.3L140.3,149.6Z" fill="#23c1ff"/><path d="M150.4,156.9L155.4,156.6L150.4,153.1L145.3,153.4Z" fill="#21acff"/><path d="M155.4,160.3L160.4,159.9L155.4,156.6L150.4,156.9Z" fill="#1f9aff"/><path d="M160.4,163.4L165.4,163.0L160.4,159.9L155.4,160.3Z" fill="#1d8bff"/><path d="M165.4,166.3L170.4,165.8L165.4,163.0L160.4,163.4Z" fill="#1b7eff"/><path d="M170.4,169.0L175.4,168.4L170.4,165.8L165.4,166.3Z" fill="#1a74ff"/><path d="M175.4,171.4L180.4,170.8L175.4,168.4L170.4,169.0Z" fill="#186dff"/><path d="M180.4,173.6L185.4,173.0L180.4,170.8L175.4,171.4Z" fill="#1667ff"/><path d="M185.4,175.6L190.4,174.9L185.4,173.0L180.4,173.6Z" fill="#1464ff"/><path d="M190.4,177.3L195.4,176.6L190.4,174.9L185.4,175.6Z" fill="#1264ff"/><path d="M195.4,178.8L200.4,178.0L195.4,176.6L190.4,177.3Z" fill="#1165ff"/><path d="M200.4,180.0L205.4,179.2L200.4,178.0L195.4,178.8Z" fill="#0f69ff"/><path d="M205.4,180.9L210.4,180.1L205.4,179.2L200.4,180.0Z" fill="#0d70ff"/><path d="M210.4,181.7L215.4,180.7L210.4,180.1L205.4,180.9Z" fill="#0c78fb"/><path d="M83.9,99.7L89.1,100.3L83.8,94.4L78.7,93.7Z" fill="#68ff2f"/><path d="M89.1,105.6L94.3,106.1L89.1,100.3L83.9,99.7Z" fill="#43ff2e"/><path d="M94.3,111.2L99.5,111.8L94.3,106.1L89.1,105.6Z" fill="#2cff3a"/><path d="M99.5,116.7L104.6,117.2L99.5,111.8L94.3,111.2Z" fill="#2bff5a"/><path d="M104.7,122.0L109.8,122.4L104.6,117.2L99.5,116.7Z" fill="#2aff78"/><path d="M109.8,127.1L114.9,127.4L109.8,122.4L104.7,122.0Z" fill="#29ff94"/><path d="M114.9,132.0L120.0,132.3L114.9,127.4L109.8,127.1Z" fill="#27ffaf"/><path d="M120.0,136.7L125.1,136.9L120.0,132.3L114.9,132.0Z" fill="#26ffc9"/><path d="M125.1,141.1L130.2,141.3L125.1,136.9L120.0,136.7Z" fill="#24ffe0"/><path d="M130.2,145.4L135.2,145.6L130.2,141.3L125.1,141.1Z" fill="#23fff6"/><path d="M135.3,149.5L140.3,149.6L135.2,145.6L130.2,145.4Z" fill="#21eeff"/><path d="M140.3,153.3L145.3,153.4L140.3,149.6L135.3,149.5Z" fill="#1fd4ff"/><path d="M145.3,156.9L150.4,156.9L145.3,153.4L140.3,153.3Z" fill="#1ebdff"/><path d="M150.4,160.3L155.4,160.3L150.4,156.9L145.3,156.9Z" fill="#1caaff"/><path d="M155.4,163.5L160.4,163.4L155.4,160.3L150.4,160.3Z" fill="#1a99ff"/><path d="M160.4,166.5L165.4,166.3L160.4,163.4L155.4,163.5Z" fill="#188cff"/><path d="M165.4,169.2L170.4,169.0L165.4,166.3L160.4,166.5Z" fill="#1781ff"/><path d="M170.4,171.7L175.4,171.4L170.4,169.0L165.4,169.2Z" fill="#1579ff"/><path d="M175.4,173.9L180.4,173.6L175.4,171.4L170.4,171.7Z" fill="#1373ff"/><path d="M180.4,175.9L185.4,175.6L180.4,173.6L175.4,173.9Z" fill="#1170ff"/><path d="M185.4,177.7L190.4,177.3L185.4,175.6L180.4,175.9Z" fill="#106fff"/><path d="M190.4,179.2L195.4,178.8L190.4,177.3L185.4,177.7Z" fill="#0e71ff"/><path d="M195.4,180.5L200.4,180.0L195.4,178.8L190.4,179.2Z" fill="#0c74fd"/><path d="M200.4,181.5L205.4,180.9L200.4,180.0L195.4,180.5Z" fill="#0b79f9"/><path d="M205.4,182.2L210.4,181.7L205.4,180.9L200.4,181.5Z" fill="#0981f6"/><path d="M78.8,98.8L83.9,99.7L78.7,93.7L73.5,92.7Z" fill="#79ff2c"/><path d="M84.0,104.7L89.1,105.6L83.9,99.7L78.8,98.8Z" fill="#53ff2b"/><path d="M89.2,110.4L94.3,111.2L89.1,105.6L84.0,104.7Z" fill="#2eff29"/><path d="M94.4,115.9L99.5,116.7L94.3,111.2L89.2,110.4Z" fill="#28ff45"/><path d="M99.6,121.3L104.7,122.0L99.5,116.7L94.4,115.9Z" fill="#27ff64"/><path d="M104.7,126.4L109.8,127.1L104.7,122.0L99.6,121.3Z" fill="#25ff81"/><path d="M109.8,131.3L114.9,132.0L109.8,127.1L104.7,126.4Z" fill="#24ff9c"/><path d="M115.0,136.1L120.0,136.7L114.9,132.0L109.8,131.3Z" fill="#23ffb6"/><path d="M120.0,140.6L125.1,141.1L120.0,136.7L115.0,136.1Z" fill="#21ffce"/><path d="M125.1,144.9L130.2,145.4L125.1,141.1L120.0,140.6Z" fill="#1fffe5"/><path d="M130.2,149.0L135.3,149.5L130.2,145.4L125.1,144.9Z" fill="#1efff9"/><path d="M135.2,152.9L140.3,153.3L135.3,149.5L130.2,149.0Z" fill="#1cecff"/><path d="M140.3,156.6L145.3,156.9L140.3,153.3L135.2,152.9Z" fill="#1bd3ff"/><path d="M145.3,160.1L150.4,160.3L145.3,156.9L140.3,156.6Z" fill="#19bfff"/><path d="M150.4,163.3L155.4,163.5L150.4,160.3L145.3,160.1Z" fill="#17adff"/><path d="M155.4,166.3L160.4,166.5L155.4,163.5L150.4,163.3Z" fill="#159eff"/><path d="M160.4,169.0L165.4,169.2L160.4,166.5L155.4,166.3Z" fill="#1493ff"/><path d="M165.4,171.6L170.4,171.7L165.4,169.2L160.4,169.0Z" fill="#128aff"/><path d="M170.4,173.9L175.4,173.9L170.4,171.7L165.4,171.6Z" fill="#1084ff"/><path d="M175.4,175.9L180.4,175.9L175.4,173.9L170.4,173.9Z" fill="#0f80ff"/><path d="M180.4,177.7L185.4,177.7L180.4,175.9L175.4,175.9Z" fill="#0d7ffe"/><path d="M185.4,179.3L190.4,179.2L185.4,177.7L180.4,177.7Z" fill="#0b7ffb"/><path d="M190.4,180.6L195.4,180.5L190.4,179.2L185.4,179.3Z" fill="#0a81f7"/><path d="M195.4,181.6L200.4,181.5L195.4,180.5L190.4,180.6Z" fill="#0886f4"/><path d="M200.4,182.4L205.4,182.2L200.4,181.5L195.4,181.6Z" fill="#078ef0"/><path d="M73.6,97.5L78.8,98.8L73.5,92.7L68.3,91.4Z" fill="#8dff29"/><path d="M78.8,103.5L84.0,104.7L78.8,98.8L73.6,97.5Z" fill="#66ff28"/><path d="M84.0,109.2L89.2,110.4L84.0,104.7L78.8,103.5Z" fill="#41ff26"/><path d="M89.2,114.8L94.4,115.9L89.2,110.4L84.0,109.2Z" fill="#25ff2d"/><path d="M94.4,120.2L99.6,121.3L94.4,115.9L89.2,114.8Z" fill="#24ff4c"/><path d="M99.6,125.4L104.7,126.4L99.6,121.3L94.4,120.2Z" fill="#22ff6a"/><path d="M104.7,130.4L109.8,131.3L104.7,126.4L99.6,125.4Z" fill="#21ff86"/><path d="M109.9,135.2L115.0,136.1L109.8,131.3L104.7,130.4Z" fill="#20ffa0"/><path d="M115.0,139.7L120.0,140.6L115.0,136.1L109.9,135.2Z" fill="#1effb9"/><path d="M120.0,144.1L125.1,144.9L120.0,140.6L115.0,139.7Z" fill="#1cffd0"/><path d="M125.1,148.3L130.2,149.0L125.1,144.9L120.0,144.1Z" fill="#1bffe5"/><path d="M130.2,152.2L135.2,152.9L130.2,149.0L125.1,148.3Z" fill="#19fff8"/><path d="M135.2,155.9L140.3,156.6L135.2,152.9L130.2,152.2Z" fill="#18f0ff"/><path d="M140.3,159.4L145.3,160.1L140.3,156.6L135.2,155.9Z" fill="#16d9ff"/><path d="M145.3,162.7L150.4,163.3L145.3,160.1L140.3,159.4Z" fill="#14c6ff"/><path d="M150.3,165.8L155.4,166.3L150.4,163.3L145.3,162.7Z" fill="#13b7ff"/><path d="M155.4,168.6L160.4,169.0L155.4,166.3L150.3,165.8Z" fill="#11aaff"/><path d="M160.4,171.1L165.4,171.6L160.4,169.0L155.4,168.6Z" fill="#0fa0ff"/><path d="M165.4,173.5L170.4,173.9L165.4,171.6L160.4,171.1Z" fill="#0e9aff"/><path d="M170.4,175.6L175.4,175.9L170.4,173.9L165.4,173.5Z" fill="#0c94fc"/><path d="M175.4,177.4L180.4,177.7L175.4,175.9L170.4,175.6Z" fill="#0b91f9"/><path d="M180.4,179.0L185.4,179.3L180.4,177.7L175.4,177.4Z" fill="#0990f5"/><path d="M185.4,180.3L190.4,180.6L185.4,179.3L180.4,179.0Z" fill="#0892f2"/><path d="M190.4,181.4L195.4,181.6L190.4,180.6L185.4,180.3Z" fill="#0697ee"/><path d="M195.4,182.3L200.4,182.4L195.4,181.6L190.4,181.4Z" fill="#059feb"/><path d="M68.3,95.9L73.6,97.5L68.3,91.4L63.1,89.7Z" fill="#a4ff26"/><path d="M73.6,101.9L78.8,103.5L73.6,97.5L68.3,95.9Z" fill="#7dff25"/><path d="M78.9,107.7L84.0,109.2L78.8,103.5L73.6,101.9Z" fill="#57ff24"/><path d="M84.1,113.4L89.2,114.8L84.0,109.2L78.9,107.7Z" fill="#33ff22"/><path d="M89.3,118.8L94.4,120.2L89.2,114.8L84.1,113.4Z" fill="#21ff31"/><path d="M94.4,124.0L99.6,125.4L94.4,120.2L89.3,118.8Z" fill="#1fff50"/><path d="M99.6,129.1L104.7,130.4L99.6,125.4L94.4,124.0Z" fill="#1eff6c"/><path d="M104.7,133.9L109.9,135.2L104.7,130.4L99.6,129.1Z" fill="#1dff87"/><path d="M109.8,138.5L115.0,139.7L109.9,135.2L104.7,133.9Z" fill="#1bffa0"/><path d="M115.0,143.0L120.0,144.1L115.0,139.7L109.8,138.5Z" fill="#1affb7"/><path d="M120.0,147.2L125.1,148.3L120.0,144.1L115.0,143.0Z" fill="#18ffcd"/><path d="M125.1,151.2L130.2,152.2L125.1,148.3L120.0,147.2Z" fill="#16ffe1"/><path d="M130.2,154.9L135.2,155.9L130.2,152.2L125.1,151.2Z" fill="#15fff2"/><path d="M135.2,158.5L140.3,159.4L135.2,155.9L130.2,154.9Z" fill="#13faff"/><path d="M140.3,161.8L145.3,162.7L140.3,159.4L135.2,158.5Z" fill="#12e6ff"/><path d="M145.3,164.9L150.3,165.8L145.3,162.7L140.3,161.8Z" fill="#10d5ff"/><path d="M150.3,167.7L155.4,168.6L150.3,165.8L145.3,164.9Z" fill="#0ec7ff"/><path d="M155.3,170.3L160.4,171.1L155.4,168.6L150.3,167.7Z" fill="#0dbcfe"/><path d="M160.4,172.7L165.4,173.5L160.4,171.1L155.3,170.3Z" fill="#0bb2fb"/><path d="M165.4,174.9L170.4,175.6L165.4,173.5L160.4,172.7Z" fill="#0aabf7"/><path d="M170.4,176.7L175.4,177.4L170.4,175.6L165.4,174.9Z" fill="#08a7f4"/><path d="M175.4,178.4L180.4,179.0L175.4,177.4L170.4,176.7Z" fill="#07a6f0"/><path d="M180.4,179.8L185.4,180.3L180.4,179.0L175.4,178.4Z" fill="#06a8ed"/><path d="M185.4,180.9L190.4,181.4L185.4,180.3L180.4,179.8Z" fill="#04ade9"/><path d="M190.4,181.8L195.4,182.3L190.4,181.4L185.4,180.9Z" fill="#03b4e5"/><path d="M63.1,94.0L68.3,95.9L63.1,89.7L57.8,87.7Z" fill="#bfff23"/><path d="M68.4,100.0L73.6,101.9L68.3,95.9L63.1,94.0Z" fill="#97ff22"/><path d="M73.6,105.9L78.9,107.7L73.6,101.9L68.4,100.0Z" fill="#71ff21"/><path d="M78.9,111.6L84.1,113.4L78.9,107.7L73.6,105.9Z" fill="#4cff1f"/><path d="M84.1,117.1L89.3,118.8L84.1,113.4L78.9,111.6Z" fill="#29ff1e"/><path d="M89.3,122.3L94.4,124.0L89.3,118.8L84.1,117.1Z" fill="#1dff32"/><path d="M94.4,127.4L99.6,129.1L94.4,124.0L89.3,122.3Z" fill="#1bff4f"/><path d="M99.6,132.3L104.7,133.9L99.6,129.1L94.4,127.4Z" fill="#1aff6a"/><path d="M104.7,137.0L109.8,138.5L104.7,133.9L99.6,132.3Z" fill="#18ff84"/><path d="M109.8,141.5L115.0,143.0L109.8,138.5L104.7,137.0Z" fill="#17ff9c"/><path d="M114.9,145.7L120.0,147.2L115.0,143.0L109.8,141.5Z" fill="#15ffb2"/><path d="M120.0,149.7L125.1,151.2L120.0,147.2L114.9,145.7Z" fill="#14ffc6"/><path d="M125.1,153.6L130.2,154.9L125.1,151.2L120.0,149.7Z" fill="#12ffd8"/><path d="M130.1,157.1L135.2,158.5L130.2,154.9L125.1,153.6Z" fill="#11ffe8"/><path d="M135.2,160.5L140.3,161.8L135.2,158.5L130.1,157.1Z" fill="#0ffff6"/><path d="M140.2,163.6L145.3,164.9L140.3,161.8L135.2,160.5Z" fill="#0efaff"/><path d="M145.3,166.5L150.3,167.7L145.3,164.9L140.2,163.6Z" fill="#0ce9fc"/><path d="M150.3,169.2L155.3,170.3L150.3,167.7L145.3,166.5Z" fill="#0adaf9"/><path d="M155.3,171.6L160.4,172.7L155.3,170.3L150.3,169.2Z" fill="#09cff5"/><path d="M160.3,173.8L165.4,174.9L160.4,172.7L155.3,171.6Z" fill="#08c8f2"/><path d="M165.4,175.7L170.4,176.7L165.4,174.9L160.3,173.8Z" fill="#06c3ee"/><path d="M170.4,177.4L175.4,178.4L170.4,176.7L165.4,175.7Z" fill="#05c1eb"/><path d="M175.4,178.8L180.4,179.8L175.4,178.4L170.4,177.4Z" fill="#04c3e7"/><path d="M180.4,180.0L185.4,180.9L180.4,179.8L175.4,178.8Z" fill="#03c7e4"/><path d="M185.4,180.9L190.4,181.8L185.4,180.9L180.4,180.0Z" fill="#02cee0"/><path d="M57.8,91.7L63.1,94.0L57.8,87.7L52.5,85.4Z" fill="#deff21"/><path d="M63.1,97.8L68.4,100.0L63.1,94.0L57.8,91.7Z" fill="#b5ff1f"/><path d="M68.4,103.7L73.6,105.9L68.4,100.0L63.1,97.8Z" fill="#8eff1e"/><path d="M73.7,109.5L78.9,111.6L73.6,105.9L68.4,103.7Z" fill="#69ff1d"/><path d="M78.9,115.0L84.1,117.1L78.9,111.6L73.7,109.5Z" fill="#45ff1b"/><path d="M84.1,120.3L89.3,122.3L84.1,117.1L78.9,115.0Z" fill="#23ff1a"/><path d="M89.3,125.4L94.4,127.4L89.3,122.3L84.1,120.3Z" fill="#19ff2f"/><path d="M94.4,130.4L99.6,132.3L94.4,127.4L89.3,125.4Z" fill="#17ff4a"/><path d="M99.6,135.1L104.7,137.0L99.6,132.3L94.4,130.4Z" fill="#16ff64"/><path d="M104.7,139.6L109.8,141.5L104.7,137.0L99.6,135.1Z" fill="#14ff7d"/><path d="M109.8,143.9L114.9,145.7L109.8,141.5L104.7,139.6Z" fill="#13ff93"/><path d="M114.9,148.0L120.0,149.7L114.9,145.7L109.8,143.9Z" fill="#11ffa7"/><path d="M120.0,151.8L125.1,153.6L120.0,149.7L114.9,148.0Z" fill="#10ffba"/><path d="M125.1,155.5L130.1,157.1L125.1,153.6L120.0,151.8Z" fill="#0effca"/><path d="M130.1,158.9L135.2,160.5L130.1,157.1L125.1,155.5Z" fill="#0dfed7"/><path d="M135.2,162.0L140.2,163.6L135.2,160.5L130.1,158.9Z" fill="#0bfae1"/><path d="M140.2,165.0L145.3,166.5L140.2,163.6L135.2,162.0Z" fill="#0af7e8"/><path d="M145.2,167.7L150.3,169.2L145.3,166.5L140.2,165.0Z" fill="#08f4ed"/><path d="M150.3,170.1L155.3,171.6L150.3,169.2L145.2,167.7Z" fill="#07f0ef"/><path d="M155.3,172.3L160.3,173.8L155.3,171.6L150.3,170.1Z" fill="#06eaed"/><path d="M160.3,174.3L165.4,175.7L160.3,173.8L155.3,172.3Z" fill="#04e4e9"/><path d="M165.3,176.0L170.4,177.4L165.4,175.7L160.3,174.3Z" fill="#03e2e6"/><path d="M170.4,177.5L175.4,178.8L170.4,177.4L165.3,176.0Z" fill="#02e2e2"/><path d="M175.4,178.7L180.4,180.0L175.4,178.8L170.4,177.5Z" fill="#01ded9"/><path d="M180.4,179.6L185.4,180.9L180.4,180.0L175.4,178.7Z" fill="#01dbcf"/></g>
<path d="M180.4,33.0L180.4,51.2" stroke="#111" stroke-width="1.3" fill="none"/>
<circle cx="180.4" cy="33.0" r="2.5" fill="#c00606" stroke="#5a1010" stroke-width="0.7"/>
<circle cx="52.9" cy="92.5" r="2.5" fill="#fcc8c8" stroke="#8a5050" stroke-width="0.7"/>
<circle cx="307.3" cy="105.0" r="2.5" fill="#c00606" stroke="#5a1010" stroke-width="0.7"/>
<circle cx="180.4" cy="138.2" r="2.5" fill="#c00606" stroke="#5a1010" stroke-width="0.7"/>
<circle cx="180.4" cy="141.4" r="2.5" fill="#c00606" stroke="#5a1010" stroke-width="0.7"/>
<circle cx="57.0" cy="178.4" r="1.3" fill="#111"/><circle cx="55.5" cy="146.7" r="1.3" fill="#111"/><circle cx="53.9" cy="115.0" r="1.3" fill="#111"/><circle cx="52.4" cy="83.3" r="1.3" fill="#111"/><circle cx="50.9" cy="51.5" r="1.3" fill="#111"/><circle cx="180.4" cy="276.1" r="1.3" fill="#111"/><circle cx="150.0" cy="261.6" r="1.3" fill="#111"/><circle cx="119.7" cy="247.0" r="1.3" fill="#111"/><circle cx="89.3" cy="232.5" r="1.3" fill="#111"/><circle cx="58.9" cy="218.0" r="1.3" fill="#111"/><circle cx="180.4" cy="276.1" r="1.3" fill="#111"/><circle cx="210.8" cy="261.6" r="1.3" fill="#111"/><circle cx="241.2" cy="247.0" r="1.3" fill="#111"/><circle cx="271.5" cy="232.5" r="1.3" fill="#111"/><circle cx="301.9" cy="218.0" r="1.3" fill="#111"/>
<g font-size="9.4" fill="#3c3c3c"><text x="52.4" y="176.7" text-anchor="end">5</text><text x="50.9" y="145.0" text-anchor="end">10</text><text x="49.4" y="113.2" text-anchor="end">15</text><text x="47.9" y="81.5" text-anchor="end">20</text><text x="46.3" y="49.8" text-anchor="end">25</text><text x="176.1" y="285.9" text-anchor="end">10</text><text x="145.7" y="271.4" text-anchor="end">15</text><text x="115.3" y="256.8" text-anchor="end">20</text><text x="84.9" y="242.3" text-anchor="end">25</text><text x="54.6" y="227.8" text-anchor="end">30</text><text x="183.9" y="286.2" text-anchor="start">20</text><text x="214.3" y="271.7" text-anchor="start">30</text><text x="244.7" y="257.1" text-anchor="start">40</text><text x="275.1" y="242.6" text-anchor="start">50</text><text x="305.4" y="228.1" text-anchor="start">60</text></g>
<text x="73.7" y="272.3" font-size="8.5" fill="#3c3c3c" text-anchor="middle">B: Time (min)</text>
<text x="287.3" y="272.3" font-size="8.8" fill="#3c3c3c" text-anchor="middle">A: Amplitude (%)</text>
<text transform="translate(13.9,136.6) rotate(-90)" font-size="8.4" fill="#3c3c3c" text-anchor="middle">Yield (%)</text>
<text x="272.0" y="27.3" style="font-family:'Liberation Serif',serif;font-weight:bold;font-size:24.7px" fill="#000">A)</text></g>
<g id="pB"><path d="M55.7,514.7L178.6,473.6L301.4,514.7M54.2,483.1L178.6,445.0L302.9,483.1M52.7,451.5L178.6,416.4L304.4,451.5M51.1,420.0L178.6,387.7L306.0,420.0M49.6,388.4L178.6,359.1L307.5,388.4M55.7,514.7L49.6,388.4M86.4,504.4L81.9,381.1M117.1,494.1L114.1,373.8M147.8,483.9L146.3,366.4M178.6,473.6L178.6,359.1M301.4,514.7L307.5,388.4M276.8,506.4L281.7,382.5M252.3,498.2L255.9,376.7M227.7,490.0L230.1,370.8M203.1,481.8L204.3,365.0M178.6,473.6L178.6,359.1M57.6,554.1L49.6,388.4M299.5,554.1L307.5,388.4M178.6,509.3L178.6,359.1" fill="none" stroke="#262626" stroke-width="1.00"/>
<path d="M57.6,554.1L178.6,611.9L299.5,554.1L178.6,509.3Z" fill="#626262" stroke="#222" stroke-width="0.8"/>
<path d="M202.1,518.1L200.3,518.1L199.2,518.1L197.0,518.2L196.4,518.2L193.8,518.3L193.6,518.3L190.8,518.4L190.5,518.4L188.0,518.5L187.2,518.6L185.2,518.7L183.8,518.7L182.5,518.8L180.5,518.9L179.7,518.9L177.0,519.0L177.0,519.0L174.4,519.1L173.6,519.2L171.7,519.3L170.0,519.4L169.1,519.4L166.5,519.5L166.4,519.5L163.8,519.7L162.8,519.8L161.3,519.8L159.2,520.0L158.7,520.0L156.2,520.2L155.4,520.2L153.6,520.3L151.6,520.5L151.1,520.5L148.6,520.7L147.8,520.7" fill="none" stroke="#e8e020" stroke-width="1.8" stroke-linecap="butt"/>
<path d="M229.3,528.1L227.5,528.2L226.3,528.2L224.5,528.3L223.4,528.3L221.4,528.4L220.4,528.4L218.3,528.4L217.5,528.5L215.1,528.6L214.6,528.6L211.9,528.7L211.7,528.7L208.9,528.8L208.7,528.8L206.1,528.9L205.4,528.9L203.3,529.0L202.1,529.1L200.5,529.2L198.7,529.3L197.8,529.3L195.3,529.4L195.1,529.5L192.4,529.6L191.8,529.6L189.7,529.8L188.3,529.9L187.1,529.9L184.7,530.1L184.5,530.1L181.9,530.3L181.1,530.3L179.4,530.5L177.4,530.6L176.8,530.7L174.3,530.9L173.6,530.9L171.8,531.1L169.7,531.2L169.3,531.3L166.9,531.5L165.7,531.6L164.5,531.7L162.1,531.9L161.6,532.0L159.7,532.2L157.4,532.4L157.4,532.4L155.0,532.7L153.1,532.9L152.7,532.9L150.4,533.2L148.6,533.4L148.2,533.5L146.0,533.8L143.8,534.1L143.7,534.1L141.6,534.4L139.4,534.7L138.9,534.8L137.3,535.0L135.2,535.3L133.5,535.6L133.1,535.6L131.0,536.0L129.0,536.3L127.7,536.6L126.9,536.7L125.0,537.1L123.0,537.5L121.2,537.8L121.1,537.8L119.1,538.2L117.3,538.6L115.4,539.1L113.6,539.5L113.4,539.6L111.8,539.9L110.0,540.4L108.3,540.9L106.5,541.3L104.9,541.8L103.2,542.3L101.6,542.9L100.0,543.4L98.6,543.9L98.4,543.9L96.9,544.5L95.4,545.1L95.4,545.1L93.9,545.7L92.5,546.3L91.1,546.9L89.8,547.5L88.5,548.2L87.2,548.9L86.0,549.6L84.9,550.3L84.8,550.3L83.7,551.1L82.6,551.8L81.6,552.6L81.3,552.9L80.6,553.5L79.7,554.3L79.0,555.1L78.9,555.2L78.1,556.1L77.4,556.9L77.3,557.0L76.7,558.0L76.4,558.6L76.1,559.1L75.6,560.1L75.6,560.2L75.2,561.2L75.1,561.7L74.9,562.4" fill="none" stroke="#62d826" stroke-width="1.8" stroke-linecap="butt"/>
<path d="M182.3,610.1L180.2,609.7L179.6,609.5L178.2,609.2L176.2,608.7L174.2,608.2L173.4,608.0L172.2,607.7L170.3,607.2L168.3,606.7L166.6,606.2M247.6,534.9L245.7,534.9L244.4,534.9L242.7,535.0L241.3,535.0L239.8,535.0L238.2,535.1L236.8,535.1L235.2,535.1L233.8,535.2L232.2,535.2L230.7,535.3L229.2,535.3L227.6,535.4L226.3,535.4L224.5,535.5L223.4,535.5L221.3,535.6L220.5,535.6L218.1,535.7L217.7,535.7L214.9,535.9L214.8,535.9L212.1,536.0L211.5,536.1L209.3,536.2L208.1,536.2L206.6,536.3L204.7,536.5L203.9,536.5L201.3,536.7L201.2,536.7L198.7,536.9L197.6,536.9L196.1,537.0L193.9,537.2L193.5,537.2L190.9,537.5L190.2,537.5L188.4,537.7L186.4,537.9L185.9,537.9L183.5,538.1L182.4,538.2L181.0,538.4L178.6,538.6L178.4,538.7L176.3,538.9L174.2,539.1L173.9,539.2L171.6,539.4L169.8,539.7L169.3,539.7L167.0,540.0L165.2,540.3L164.8,540.3L162.6,540.6L160.4,541.0L160.4,541.0L158.3,541.3L156.1,541.7L155.2,541.8L154.1,542.0L152.0,542.4L149.9,542.8L149.4,542.9L147.9,543.2L146.0,543.6L144.0,544.0L142.9,544.2L142.1,544.4L140.2,544.8L138.4,545.3L136.6,545.7L134.8,546.2L134.3,546.3L133.0,546.7L131.3,547.2L129.6,547.7L128.0,548.3L126.4,548.8L124.8,549.4L123.3,550.0L121.8,550.6L120.3,551.2L118.9,551.8L117.6,552.5L116.3,553.2L115.0,553.9L114.8,554.0L113.8,554.6L112.6,555.4L111.5,556.2L110.5,557.0L110.4,557.0L109.5,557.8L108.6,558.7L108.1,559.2L107.8,559.6L107.0,560.5L106.6,561.1L106.3,561.5L105.7,562.5L105.6,562.8L105.3,563.6L105.0,564.3L104.9,564.8L104.7,565.8L104.6,565.9L104.5,567.2L104.5,567.2L104.5,568.5L104.6,568.5L104.7,569.7L104.8,570.0L105.0,570.9L105.2,571.5L105.4,572.1L105.9,573.2L105.9,573.2L106.5,574.3L106.9,575.0L107.2,575.4L107.9,576.4L108.4,577.0L108.7,577.4L109.6,578.4L110.4,579.3" fill="none" stroke="#26dc8c" stroke-width="1.8" stroke-linecap="butt"/>
<path d="M209.9,596.9L207.9,596.5L206.0,596.0L205.1,595.8L204.0,595.5L202.1,595.0L200.2,594.5L198.3,594.0L197.6,593.8L196.5,593.5L194.7,592.9L192.9,592.4L191.2,591.8L189.5,591.2L187.8,590.6L186.1,590.0L186.0,589.9L184.5,589.3L182.9,588.7L181.4,588.0L179.9,587.3L178.4,586.6L177.0,585.9L176.2,585.5L175.6,585.2L174.2,584.4L173.0,583.6L171.7,582.8L170.5,582.0L169.4,581.1L169.2,581.0L168.4,580.2L167.4,579.3L166.4,578.4L166.4,578.4L165.6,577.4L164.9,576.4L164.9,576.3L164.3,575.3L164.0,574.6L163.8,574.2L163.5,573.0L163.5,573.0L163.4,571.7L163.4,571.6L163.5,570.4L163.5,570.3L163.9,569.2L164.1,568.7L164.4,568.1L165.0,567.1L165.1,567.0L165.8,566.1L166.7,565.2L167.2,564.8L167.7,564.3L168.8,563.5L170.0,562.7L171.3,562.0L172.6,561.3L174.1,560.6L175.6,559.9L177.1,559.3L178.7,558.7L180.4,558.1L182.1,557.6L183.9,557.1L185.7,556.5L187.6,556.1L187.7,556.0L189.5,555.6L191.5,555.1L193.5,554.7L194.0,554.6L195.6,554.3L197.7,553.9L199.3,553.6L199.9,553.5L202.1,553.1L204.1,552.8L204.3,552.8L206.6,552.5L208.4,552.2L209.0,552.1L211.4,551.8L212.5,551.7L213.8,551.6L216.3,551.3L216.5,551.3L218.8,551.0L220.2,550.9L221.3,550.8L223.9,550.6L223.9,550.6L226.6,550.3L227.4,550.3L229.3,550.2L230.8,550.1L232.0,550.0L234.1,549.8L234.8,549.8L237.4,549.7L237.7,549.7L240.5,549.5L240.5,549.5L243.5,549.4L243.6,549.4L246.5,549.3L246.7,549.3L249.5,549.2L249.7,549.2L252.6,549.2L252.6,549.2L255.5,549.1L255.8,549.1L258.4,549.1L259.0,549.1L261.2,549.1L262.3,549.1L263.9,549.1L265.7,549.1L266.7,549.1L269.2,549.1L269.3,549.1L272.0,549.2L272.7,549.2L274.6,549.2L276.3,549.3L277.2,549.3L279.7,549.4L280.0,549.4L282.3,549.5L283.8,549.6L284.7,549.6L287.2,549.7L287.7,549.7" fill="none" stroke="#2f96ea" stroke-width="1.8" stroke-linecap="butt"/>
<path d="M57.6,554.1L178.6,611.9L299.5,554.1L178.6,509.3Z" fill="none" stroke="#111" stroke-width="0.9"/>
<g stroke="#101010" stroke-width="0.45" stroke-linejoin="round"><path d="M178.6,409.2L183.6,405.3L178.6,401.0L173.5,404.9Z" fill="#ff6b54"/><path d="M183.6,413.5L188.7,409.6L183.6,405.3L178.6,409.2Z" fill="#ff9354"/><path d="M188.6,417.6L193.7,413.8L188.7,409.6L183.6,413.5Z" fill="#ffb953"/><path d="M193.7,421.7L198.7,417.9L193.7,413.8L188.6,417.6Z" fill="#ffde52"/><path d="M198.7,425.8L203.7,422.0L198.7,417.9L193.7,421.7Z" fill="#fcff51"/><path d="M203.7,429.7L208.7,426.0L203.7,422.0L198.7,425.8Z" fill="#d8ff4f"/><path d="M208.7,433.6L213.7,429.8L208.7,426.0L203.7,429.7Z" fill="#b6ff4e"/><path d="M213.7,437.4L218.7,433.6L213.7,429.8L208.7,433.6Z" fill="#94ff4d"/><path d="M218.7,441.1L223.7,437.4L218.7,433.6L213.7,437.4Z" fill="#74ff4c"/><path d="M223.6,444.7L228.7,441.0L223.7,437.4L218.7,441.1Z" fill="#54ff4b"/><path d="M228.6,448.2L233.7,444.5L228.7,441.0L223.6,444.7Z" fill="#4aff5e"/><path d="M233.6,451.6L238.6,448.0L233.7,444.5L228.6,448.2Z" fill="#48ff79"/><path d="M238.5,455.0L243.6,451.4L238.6,448.0L233.6,451.6Z" fill="#47ff93"/><path d="M243.5,458.2L248.5,454.7L243.6,451.4L238.5,455.0Z" fill="#46ffac"/><path d="M248.4,461.4L253.5,457.8L248.5,454.7L243.5,458.2Z" fill="#44ffc3"/><path d="M253.4,464.5L258.4,460.9L253.5,457.8L248.4,461.4Z" fill="#43ffda"/><path d="M258.3,467.4L263.4,464.0L258.4,460.9L253.4,464.5Z" fill="#41ffef"/><path d="M263.3,470.3L268.3,466.9L263.4,464.0L258.3,467.4Z" fill="#40f8ff"/><path d="M268.2,473.1L273.2,469.7L268.3,466.9L263.3,470.3Z" fill="#3edbff"/><path d="M273.1,475.8L278.2,472.4L273.2,469.7L268.2,473.1Z" fill="#3dc1ff"/><path d="M278.1,478.4L283.1,475.0L278.2,472.4L273.1,475.8Z" fill="#3babff"/><path d="M283.0,480.9L288.0,477.5L283.1,475.0L278.1,478.4Z" fill="#3a97ff"/><path d="M287.9,483.2L293.0,480.0L288.0,477.5L283.0,480.9Z" fill="#3887ff"/><path d="M292.9,485.5L297.9,482.3L293.0,480.0L287.9,483.2Z" fill="#3679ff"/><path d="M297.8,487.7L302.9,484.5L297.9,482.3L292.9,485.5Z" fill="#356dff"/><path d="M173.5,412.9L178.6,409.2L173.5,404.9L168.4,408.6Z" fill="#ff8c53"/><path d="M178.5,417.2L183.6,413.5L178.6,409.2L173.5,412.9Z" fill="#ffb252"/><path d="M183.6,421.3L188.6,417.6L183.6,413.5L178.5,417.2Z" fill="#ffd851"/><path d="M188.6,425.4L193.7,421.7L188.6,417.6L183.6,421.3Z" fill="#fffd50"/><path d="M193.6,429.4L198.7,425.8L193.7,421.7L188.6,425.4Z" fill="#ddff4f"/><path d="M198.6,433.4L203.7,429.7L198.7,425.8L193.6,429.4Z" fill="#b9ff4e"/><path d="M203.6,437.2L208.7,433.6L203.7,429.7L198.6,433.4Z" fill="#97ff4d"/><path d="M208.6,440.9L213.7,437.4L208.7,433.6L203.6,437.2Z" fill="#76ff4c"/><path d="M213.6,444.6L218.7,441.1L213.7,437.4L208.6,440.9Z" fill="#56ff4a"/><path d="M218.6,448.2L223.6,444.7L218.7,441.1L213.6,444.6Z" fill="#49ff5c"/><path d="M223.6,451.7L228.6,448.2L223.6,444.7L218.6,448.2Z" fill="#48ff77"/><path d="M228.5,455.1L233.6,451.6L228.6,448.2L223.6,451.7Z" fill="#46ff92"/><path d="M233.5,458.4L238.5,455.0L233.6,451.6L228.5,455.1Z" fill="#45ffac"/><path d="M238.4,461.7L243.5,458.2L238.5,455.0L233.5,458.4Z" fill="#44ffc4"/><path d="M243.4,464.8L248.4,461.4L243.5,458.2L238.4,461.7Z" fill="#42ffdb"/><path d="M248.3,467.8L253.4,464.5L248.4,461.4L243.4,464.8Z" fill="#41fff2"/><path d="M253.3,470.8L258.3,467.4L253.4,464.5L248.3,467.8Z" fill="#3ff3ff"/><path d="M258.2,473.6L263.3,470.3L258.3,467.4L253.3,470.8Z" fill="#3ed5ff"/><path d="M263.2,476.4L268.2,473.1L263.3,470.3L258.2,473.6Z" fill="#3cbbff"/><path d="M268.1,479.0L273.1,475.8L268.2,473.1L263.2,476.4Z" fill="#3ba4ff"/><path d="M273.0,481.6L278.1,478.4L273.1,475.8L268.1,479.0Z" fill="#3990ff"/><path d="M278.0,484.0L283.0,480.9L278.1,478.4L273.0,481.6Z" fill="#377fff"/><path d="M282.9,486.4L287.9,483.2L283.0,480.9L278.0,484.0Z" fill="#3671ff"/><path d="M287.9,488.6L292.9,485.5L287.9,483.2L282.9,486.4Z" fill="#3465ff"/><path d="M292.8,490.8L297.8,487.7L292.9,485.5L287.9,488.6Z" fill="#325bff"/><path d="M168.5,416.6L173.5,412.9L168.4,408.6L163.4,412.3Z" fill="#ffaa52"/><path d="M173.5,420.8L178.5,417.2L173.5,412.9L168.5,416.6Z" fill="#ffd151"/><path d="M178.6,424.9L183.6,421.3L178.5,417.2L173.5,420.8Z" fill="#fff650"/><path d="M183.6,429.0L188.6,425.4L183.6,421.3L178.6,424.9Z" fill="#e3ff4f"/><path d="M188.6,433.0L193.6,429.4L188.6,425.4L183.6,429.0Z" fill="#bfff4d"/><path d="M193.6,436.9L198.6,433.4L193.6,429.4L188.6,433.0Z" fill="#9cff4c"/><path d="M198.6,440.7L203.6,437.2L198.6,433.4L193.6,436.9Z" fill="#7aff4b"/><path d="M203.6,444.4L208.6,440.9L203.6,437.2L198.6,440.7Z" fill="#59ff4a"/><path d="M208.6,448.1L213.6,444.6L208.6,440.9L203.6,444.4Z" fill="#49ff58"/><path d="M213.6,451.6L218.6,448.2L213.6,444.6L208.6,448.1Z" fill="#47ff74"/><path d="M218.5,455.1L223.6,451.7L218.6,448.2L213.6,451.6Z" fill="#46ff90"/><path d="M223.5,458.5L228.5,455.1L223.6,451.7L218.5,455.1Z" fill="#45ffaa"/><path d="M228.5,461.8L233.5,458.4L228.5,455.1L223.5,458.5Z" fill="#43ffc3"/><path d="M233.4,465.0L238.4,461.7L233.5,458.4L228.5,461.8Z" fill="#42ffdb"/><path d="M238.4,468.1L243.4,464.8L238.4,461.7L233.4,465.0Z" fill="#40fff2"/><path d="M243.3,471.1L248.3,467.8L243.4,464.8L238.4,468.1Z" fill="#3ff1ff"/><path d="M248.3,474.0L253.3,470.8L248.3,467.8L243.3,471.1Z" fill="#3dd2ff"/><path d="M253.2,476.8L258.2,473.6L253.3,470.8L248.3,474.0Z" fill="#3cb7ff"/><path d="M258.1,479.5L263.2,476.4L258.2,473.6L253.2,476.8Z" fill="#3aa0ff"/><path d="M263.1,482.2L268.1,479.0L263.2,476.4L258.1,479.5Z" fill="#388bff"/><path d="M268.0,484.7L273.0,481.6L268.1,479.0L263.1,482.2Z" fill="#377aff"/><path d="M273.0,487.1L278.0,484.0L273.0,481.6L268.0,484.7Z" fill="#356bff"/><path d="M277.9,489.4L282.9,486.4L278.0,484.0L273.0,487.1Z" fill="#335fff"/><path d="M282.9,491.6L287.9,488.6L282.9,486.4L277.9,489.4Z" fill="#3254ff"/><path d="M287.8,493.7L292.8,490.8L287.9,488.6L282.9,491.6Z" fill="#304cff"/><path d="M163.4,420.0L168.5,416.6L163.4,412.3L158.4,415.8Z" fill="#ffc750"/><path d="M168.5,424.2L173.5,420.8L168.5,416.6L163.4,420.0Z" fill="#ffee4f"/><path d="M173.5,428.4L178.6,424.9L173.5,420.8L168.5,424.2Z" fill="#ebff4e"/><path d="M178.5,432.4L183.6,429.0L178.6,424.9L173.5,428.4Z" fill="#c6ff4d"/><path d="M183.6,436.4L188.6,433.0L183.6,429.0L178.5,432.4Z" fill="#a3ff4c"/><path d="M188.6,440.2L193.6,436.9L188.6,433.0L183.6,436.4Z" fill="#80ff4b"/><path d="M193.6,444.0L198.6,440.7L193.6,436.9L188.6,440.2Z" fill="#5fff49"/><path d="M198.6,447.7L203.6,444.4L198.6,440.7L193.6,444.0Z" fill="#48ff52"/><path d="M203.6,451.4L208.6,448.1L203.6,444.4L198.6,447.7Z" fill="#47ff6f"/><path d="M208.5,454.9L213.6,451.6L208.6,448.1L203.6,451.4Z" fill="#45ff8b"/><path d="M213.5,458.3L218.5,455.1L213.6,451.6L208.5,454.9Z" fill="#44ffa6"/><path d="M218.5,461.7L223.5,458.5L218.5,455.1L213.5,458.3Z" fill="#43ffc0"/><path d="M223.4,465.0L228.5,461.8L223.5,458.5L218.5,461.7Z" fill="#41ffd9"/><path d="M228.4,468.1L233.4,465.0L228.5,461.8L223.4,465.0Z" fill="#40fff0"/><path d="M233.4,471.2L238.4,468.1L233.4,465.0L228.4,468.1Z" fill="#3ef3ff"/><path d="M238.3,474.2L243.3,471.1L238.4,468.1L233.4,471.2Z" fill="#3dd3ff"/><path d="M243.3,477.1L248.3,474.0L243.3,471.1L238.3,474.2Z" fill="#3bb6ff"/><path d="M248.2,479.9L253.2,476.8L248.3,474.0L243.3,477.1Z" fill="#399eff"/><path d="M253.1,482.5L258.1,479.5L253.2,476.8L248.2,479.9Z" fill="#3889ff"/><path d="M258.1,485.1L263.1,482.2L258.1,479.5L253.1,482.5Z" fill="#3677ff"/><path d="M263.0,487.6L268.0,484.7L263.1,482.2L258.1,485.1Z" fill="#3468ff"/><path d="M268.0,490.0L273.0,487.1L268.0,484.7L263.0,487.6Z" fill="#335bff"/><path d="M272.9,492.3L277.9,489.4L273.0,487.1L268.0,490.0Z" fill="#3150ff"/><path d="M277.9,494.4L282.9,491.6L277.9,489.4L272.9,492.3Z" fill="#2f48ff"/><path d="M282.8,496.5L287.8,493.7L282.9,491.6L277.9,494.4Z" fill="#2e41ff"/><path d="M158.4,423.4L163.4,420.0L158.4,415.8L153.3,419.1Z" fill="#ffe34f"/><path d="M163.5,427.6L168.5,424.2L163.4,420.0L158.4,423.4Z" fill="#f5ff4e"/><path d="M168.5,431.7L173.5,428.4L168.5,424.2L163.5,427.6Z" fill="#d0ff4c"/><path d="M173.5,435.7L178.5,432.4L173.5,428.4L168.5,431.7Z" fill="#acff4b"/><path d="M178.5,439.6L183.6,436.4L178.5,432.4L173.5,435.7Z" fill="#88ff4a"/><path d="M183.6,443.5L188.6,440.2L183.6,436.4L178.5,439.6Z" fill="#66ff49"/><path d="M188.6,447.3L193.6,444.0L188.6,440.2L183.6,443.5Z" fill="#48ff4a"/><path d="M193.6,450.9L198.6,447.7L193.6,444.0L188.6,447.3Z" fill="#46ff68"/><path d="M198.6,454.5L203.6,451.4L198.6,447.7L193.6,450.9Z" fill="#45ff85"/><path d="M203.5,458.0L208.5,454.9L203.6,451.4L198.6,454.5Z" fill="#43ffa0"/><path d="M208.5,461.5L213.5,458.3L208.5,454.9L203.5,458.0Z" fill="#42ffbb"/><path d="M213.5,464.8L218.5,461.7L213.5,458.3L208.5,461.5Z" fill="#41ffd4"/><path d="M218.4,468.0L223.4,465.0L218.5,461.7L213.5,464.8Z" fill="#3fffed"/><path d="M223.4,471.2L228.4,468.1L223.4,465.0L218.4,468.0Z" fill="#3ef7ff"/><path d="M228.3,474.2L233.4,471.2L228.4,468.1L223.4,471.2Z" fill="#3cd6ff"/><path d="M233.3,477.1L238.3,474.2L233.4,471.2L228.3,474.2Z" fill="#3ab8ff"/><path d="M238.2,480.0L243.3,477.1L238.3,474.2L233.3,477.1Z" fill="#399fff"/><path d="M243.2,482.7L248.2,479.9L243.3,477.1L238.2,480.0Z" fill="#3789ff"/><path d="M248.1,485.4L253.1,482.5L248.2,479.9L243.2,482.7Z" fill="#3676ff"/><path d="M253.1,488.0L258.1,485.1L253.1,482.5L248.1,485.4Z" fill="#3466ff"/><path d="M258.0,490.4L263.0,487.6L258.1,485.1L253.1,488.0Z" fill="#3259ff"/><path d="M263.0,492.7L268.0,490.0L263.0,487.6L258.0,490.4Z" fill="#304eff"/><path d="M267.9,495.0L272.9,492.3L268.0,490.0L263.0,492.7Z" fill="#2f45ff"/><path d="M272.9,497.1L277.9,494.4L272.9,492.3L267.9,495.0Z" fill="#2d3dff"/><path d="M277.8,499.1L282.8,496.5L277.9,494.4L272.9,497.1Z" fill="#2b38ff"/><path d="M153.4,426.6L158.4,423.4L153.3,419.1L148.3,422.4Z" fill="#fffd4d"/><path d="M158.4,430.8L163.5,427.6L158.4,423.4L153.4,426.6Z" fill="#dbff4c"/><path d="M163.5,434.9L168.5,431.7L163.5,427.6L158.4,430.8Z" fill="#b6ff4b"/><path d="M168.5,438.9L173.5,435.7L168.5,431.7L163.5,434.9Z" fill="#92ff4a"/><path d="M173.5,442.8L178.5,439.6L173.5,435.7L168.5,438.9Z" fill="#6fff48"/><path d="M178.5,446.6L183.6,443.5L178.5,439.6L173.5,442.8Z" fill="#4dff47"/><path d="M183.6,450.3L188.6,447.3L183.6,443.5L178.5,446.6Z" fill="#46ff5f"/><path d="M188.6,454.0L193.6,450.9L188.6,447.3L183.6,450.3Z" fill="#44ff7d"/><path d="M193.5,457.6L198.6,454.5L193.6,450.9L188.6,454.0Z" fill="#43ff99"/><path d="M198.5,461.0L203.5,458.0L198.6,454.5L193.5,457.6Z" fill="#41ffb4"/><path d="M203.5,464.4L208.5,461.5L203.5,458.0L198.5,461.0Z" fill="#40ffce"/><path d="M208.5,467.7L213.5,464.8L208.5,461.5L203.5,464.4Z" fill="#3fffe7"/><path d="M213.4,470.9L218.4,468.0L213.5,464.8L208.5,467.7Z" fill="#3dffff"/><path d="M218.4,474.0L223.4,471.2L218.4,468.0L213.4,470.9Z" fill="#3bdcff"/><path d="M223.4,477.1L228.3,474.2L223.4,471.2L218.4,474.0Z" fill="#3abdff"/><path d="M228.3,480.0L233.3,477.1L228.3,474.2L223.4,477.1Z" fill="#38a2ff"/><path d="M233.3,482.8L238.2,480.0L233.3,477.1L228.3,480.0Z" fill="#378bff"/><path d="M238.2,485.5L243.2,482.7L238.2,480.0L233.3,482.8Z" fill="#3577ff"/><path d="M243.1,488.1L248.1,485.4L243.2,482.7L238.2,485.5Z" fill="#3366ff"/><path d="M248.1,490.6L253.1,488.0L248.1,485.4L243.1,488.1Z" fill="#3158ff"/><path d="M253.0,493.0L258.0,490.4L253.1,488.0L248.1,490.6Z" fill="#304dff"/><path d="M258.0,495.3L263.0,492.7L258.0,490.4L253.0,493.0Z" fill="#2e43ff"/><path d="M262.9,497.5L267.9,495.0L263.0,492.7L258.0,495.3Z" fill="#2c3bff"/><path d="M267.9,499.6L272.9,497.1L267.9,495.0L262.9,497.5Z" fill="#2b35ff"/><path d="M272.8,501.6L277.8,499.1L272.9,497.1L267.9,499.6Z" fill="#2931ff"/><path d="M148.4,429.7L153.4,426.6L148.3,422.4L143.3,425.5Z" fill="#e8ff4c"/><path d="M153.4,433.9L158.4,430.8L153.4,426.6L148.4,429.7Z" fill="#c2ff4a"/><path d="M158.5,437.9L163.5,434.9L158.4,430.8L153.4,433.9Z" fill="#9eff49"/><path d="M163.5,441.9L168.5,438.9L163.5,434.9L158.5,437.9Z" fill="#7aff48"/><path d="M168.5,445.8L173.5,442.8L168.5,438.9L163.5,441.9Z" fill="#58ff47"/><path d="M173.5,449.6L178.5,446.6L173.5,442.8L168.5,445.8Z" fill="#45ff54"/><path d="M178.5,453.3L183.6,450.3L178.5,446.6L173.5,449.6Z" fill="#44ff72"/><path d="M183.5,456.9L188.6,454.0L183.6,450.3L178.5,453.3Z" fill="#42ff8f"/><path d="M188.5,460.5L193.5,457.6L188.6,454.0L183.5,456.9Z" fill="#41ffab"/><path d="M193.5,463.9L198.5,461.0L193.5,457.6L188.5,460.5Z" fill="#3fffc6"/><path d="M198.5,467.3L203.5,464.4L198.5,461.0L193.5,463.9Z" fill="#3effe0"/><path d="M203.5,470.5L208.5,467.7L203.5,464.4L198.5,467.3Z" fill="#3cfff8"/><path d="M208.4,473.7L213.4,470.9L208.5,467.7L203.5,470.5Z" fill="#3be5ff"/><path d="M213.4,476.8L218.4,474.0L213.4,470.9L208.4,473.7Z" fill="#39c4ff"/><path d="M218.4,479.8L223.4,477.1L218.4,474.0L213.4,476.8Z" fill="#38a8ff"/><path d="M223.3,482.6L228.3,480.0L223.4,477.1L218.4,479.8Z" fill="#3690ff"/><path d="M228.3,485.4L233.3,482.8L228.3,480.0L223.3,482.6Z" fill="#347aff"/><path d="M233.2,488.1L238.2,485.5L233.3,482.8L228.3,485.4Z" fill="#3369ff"/><path d="M238.2,490.7L243.1,488.1L238.2,485.5L233.2,488.1Z" fill="#315aff"/><path d="M243.1,493.2L248.1,490.6L243.1,488.1L238.2,490.7Z" fill="#2f4dff"/><path d="M248.1,495.5L253.0,493.0L248.1,490.6L243.1,493.2Z" fill="#2d43ff"/><path d="M253.0,497.8L258.0,495.3L253.0,493.0L248.1,495.5Z" fill="#2c3bff"/><path d="M258.0,500.0L262.9,497.5L258.0,495.3L253.0,497.8Z" fill="#2a34ff"/><path d="M262.9,502.0L267.9,499.6L262.9,497.5L258.0,500.0Z" fill="#282fff"/><path d="M267.9,504.0L272.8,501.6L267.9,499.6L262.9,502.0Z" fill="#262bff"/><path d="M143.4,432.7L148.4,429.7L143.3,425.5L138.3,428.5Z" fill="#d1ff4a"/><path d="M148.4,436.8L153.4,433.9L148.4,429.7L143.4,432.7Z" fill="#acff49"/><path d="M153.5,440.9L158.5,437.9L153.4,433.9L148.4,436.8Z" fill="#87ff47"/><path d="M158.5,444.8L163.5,441.9L158.5,437.9L153.5,440.9Z" fill="#64ff46"/><path d="M163.5,448.7L168.5,445.8L163.5,441.9L158.5,444.8Z" fill="#45ff48"/><path d="M168.5,452.4L173.5,449.6L168.5,445.8L163.5,448.7Z" fill="#43ff66"/><path d="M173.5,456.1L178.5,453.3L173.5,449.6L168.5,452.4Z" fill="#42ff84"/><path d="M178.6,459.7L183.5,456.9L178.5,453.3L173.5,456.1Z" fill="#40ffa0"/><path d="M183.5,463.2L188.5,460.5L183.5,456.9L178.6,459.7Z" fill="#3fffbc"/><path d="M188.5,466.6L193.5,463.9L188.5,460.5L183.5,463.2Z" fill="#3dffd6"/><path d="M193.5,470.0L198.5,467.3L193.5,463.9L188.5,466.6Z" fill="#3cffef"/><path d="M198.5,473.2L203.5,470.5L198.5,467.3L193.5,470.0Z" fill="#3af2ff"/><path d="M203.4,476.3L208.4,473.7L203.5,470.5L198.5,473.2Z" fill="#39cfff"/><path d="M208.4,479.4L213.4,476.8L208.4,473.7L203.4,476.3Z" fill="#37b1ff"/><path d="M213.4,482.3L218.4,479.8L213.4,476.8L208.4,479.4Z" fill="#3597ff"/><path d="M218.3,485.2L223.3,482.6L218.4,479.8L213.4,482.3Z" fill="#3480ff"/><path d="M223.3,487.9L228.3,485.4L223.3,482.6L218.3,485.2Z" fill="#326dff"/><path d="M228.2,490.6L233.2,488.1L228.3,485.4L223.3,487.9Z" fill="#305dff"/><path d="M233.2,493.1L238.2,490.7L233.2,488.1L228.2,490.6Z" fill="#2e50ff"/><path d="M238.1,495.5L243.1,493.2L238.2,490.7L233.2,493.1Z" fill="#2d45ff"/><path d="M243.1,497.9L248.1,495.5L243.1,493.2L238.1,495.5Z" fill="#2b3cff"/><path d="M248.0,500.1L253.0,497.8L248.1,495.5L243.1,497.9Z" fill="#2935ff"/><path d="M253.0,502.2L258.0,500.0L253.0,497.8L248.0,500.1Z" fill="#272fff"/><path d="M257.9,504.2L262.9,502.0L258.0,500.0L253.0,502.2Z" fill="#262bff"/><path d="M262.9,506.1L267.9,504.0L262.9,502.0L257.9,504.2Z" fill="#2427ff"/><path d="M138.3,435.6L143.4,432.7L138.3,428.5L133.3,431.4Z" fill="#bbff48"/><path d="M143.4,439.6L148.4,436.8L143.4,432.7L138.3,435.6Z" fill="#96ff47"/><path d="M148.5,443.6L153.5,440.9L148.4,436.8L143.4,439.6Z" fill="#72ff45"/><path d="M153.5,447.6L158.5,444.8L153.5,440.9L148.5,443.6Z" fill="#4fff44"/><path d="M158.5,451.4L163.5,448.7L158.5,444.8L153.5,447.6Z" fill="#43ff58"/><path d="M163.5,455.1L168.5,452.4L163.5,448.7L158.5,451.4Z" fill="#41ff76"/><path d="M168.6,458.8L173.5,456.1L168.5,452.4L163.5,455.1Z" fill="#40ff94"/><path d="M173.6,462.4L178.6,459.7L173.5,456.1L168.6,458.8Z" fill="#3effb0"/><path d="M178.5,465.8L183.5,463.2L178.6,459.7L173.6,462.4Z" fill="#3dffcb"/><path d="M183.5,469.2L188.5,466.6L183.5,463.2L178.5,465.8Z" fill="#3bffe5"/><path d="M188.5,472.5L193.5,470.0L188.5,466.6L183.5,469.2Z" fill="#3afffd"/><path d="M193.5,475.7L198.5,473.2L193.5,470.0L188.5,472.5Z" fill="#38ddff"/><path d="M198.5,478.8L203.4,476.3L198.5,473.2L193.5,475.7Z" fill="#36bdff"/><path d="M203.4,481.8L208.4,479.4L203.4,476.3L198.5,478.8Z" fill="#35a1ff"/><path d="M208.4,484.8L213.4,482.3L208.4,479.4L203.4,481.8Z" fill="#3389ff"/><path d="M213.3,487.6L218.3,485.2L213.4,482.3L208.4,484.8Z" fill="#3174ff"/><path d="M218.3,490.3L223.3,487.9L218.3,485.2L213.3,487.6Z" fill="#3062ff"/><path d="M223.3,492.9L228.2,490.6L223.3,487.9L218.3,490.3Z" fill="#2e54ff"/><path d="M228.2,495.4L233.2,493.1L228.2,490.6L223.3,492.9Z" fill="#2c48ff"/><path d="M233.2,497.8L238.1,495.5L233.2,493.1L228.2,495.4Z" fill="#2a3eff"/><path d="M238.1,500.1L243.1,497.9L238.1,495.5L233.2,497.8Z" fill="#2936ff"/><path d="M243.1,502.3L248.0,500.1L243.1,497.9L238.1,500.1Z" fill="#2730ff"/><path d="M248.0,504.3L253.0,502.2L248.0,500.1L243.1,502.3Z" fill="#252bff"/><path d="M253.0,506.3L257.9,504.2L253.0,502.2L248.0,504.3Z" fill="#2327ff"/><path d="M257.9,508.1L262.9,506.1L257.9,504.2L253.0,506.3Z" fill="#2124ff"/><path d="M133.3,438.3L138.3,435.6L133.3,431.4L128.3,434.1Z" fill="#a7ff46"/><path d="M138.4,442.3L143.4,439.6L138.3,435.6L133.3,438.3Z" fill="#83ff45"/><path d="M143.5,446.3L148.5,443.6L143.4,439.6L138.4,442.3Z" fill="#5fff44"/><path d="M148.5,450.2L153.5,447.6L148.5,443.6L143.5,446.3Z" fill="#42ff48"/><path d="M153.5,454.0L158.5,451.4L153.5,447.6L148.5,450.2Z" fill="#41ff67"/><path d="M158.5,457.7L163.5,455.1L158.5,451.4L153.5,454.0Z" fill="#3fff85"/><path d="M163.6,461.3L168.6,458.8L163.5,455.1L158.5,457.7Z" fill="#3effa1"/><path d="M168.6,464.9L173.6,462.4L168.6,458.8L163.6,461.3Z" fill="#3cffbd"/><path d="M173.6,468.3L178.5,465.8L173.6,462.4L168.6,464.9Z" fill="#3bffd8"/><path d="M178.5,471.7L183.5,469.2L178.5,465.8L173.6,468.3Z" fill="#39fff1"/><path d="M183.5,474.9L188.5,472.5L183.5,469.2L178.5,471.7Z" fill="#37efff"/><path d="M188.5,478.1L193.5,475.7L188.5,472.5L183.5,474.9Z" fill="#36ccff"/><path d="M193.5,481.2L198.5,478.8L193.5,475.7L188.5,478.1Z" fill="#34aeff"/><path d="M198.4,484.2L203.4,481.8L198.5,478.8L193.5,481.2Z" fill="#3294ff"/><path d="M203.4,487.0L208.4,484.8L203.4,481.8L198.4,484.2Z" fill="#317dff"/><path d="M208.4,489.8L213.3,487.6L208.4,484.8L203.4,487.0Z" fill="#2f6aff"/><path d="M213.3,492.5L218.3,490.3L213.3,487.6L208.4,489.8Z" fill="#2d5aff"/><path d="M218.3,495.0L223.3,492.9L218.3,490.3L213.3,492.5Z" fill="#2b4dff"/><path d="M223.2,497.5L228.2,495.4L223.3,492.9L218.3,495.0Z" fill="#2a42ff"/><path d="M228.2,499.9L233.2,497.8L228.2,495.4L223.2,497.5Z" fill="#2839ff"/><path d="M233.1,502.1L238.1,500.1L233.2,497.8L228.2,499.9Z" fill="#2632ff"/><path d="M238.1,504.2L243.1,502.3L238.1,500.1L233.1,502.1Z" fill="#242cff"/><path d="M243.1,506.3L248.0,504.3L243.1,502.3L238.1,504.2Z" fill="#2328ff"/><path d="M248.0,508.2L253.0,506.3L248.0,504.3L243.1,506.3Z" fill="#2125ff"/><path d="M253.0,510.0L257.9,508.1L253.0,506.3L248.0,508.2Z" fill="#1f22ff"/><path d="M128.3,440.9L133.3,438.3L128.3,434.1L123.3,436.7Z" fill="#95ff44"/><path d="M133.4,444.9L138.4,442.3L133.3,438.3L128.3,440.9Z" fill="#71ff43"/><path d="M138.5,448.8L143.5,446.3L138.4,442.3L133.4,444.9Z" fill="#4dff42"/><path d="M143.5,452.7L148.5,450.2L143.5,446.3L138.5,448.8Z" fill="#40ff55"/><path d="M148.5,456.5L153.5,454.0L148.5,450.2L143.5,452.7Z" fill="#3fff74"/><path d="M153.6,460.1L158.5,457.7L153.5,454.0L148.5,456.5Z" fill="#3dff91"/><path d="M158.6,463.7L163.6,461.3L158.5,457.7L153.6,460.1Z" fill="#3cffad"/><path d="M163.6,467.2L168.6,464.9L163.6,461.3L158.6,463.7Z" fill="#3affc9"/><path d="M168.6,470.7L173.6,468.3L168.6,464.9L163.6,467.2Z" fill="#38ffe3"/><path d="M173.6,474.0L178.5,471.7L173.6,468.3L168.6,470.7Z" fill="#37fffc"/><path d="M178.5,477.2L183.5,474.9L178.5,471.7L173.6,474.0Z" fill="#35e0ff"/><path d="M183.5,480.3L188.5,478.1L183.5,474.9L178.5,477.2Z" fill="#33bfff"/><path d="M188.5,483.4L193.5,481.2L188.5,478.1L183.5,480.3Z" fill="#32a3ff"/><path d="M193.5,486.3L198.4,484.2L193.5,481.2L188.5,483.4Z" fill="#308aff"/><path d="M198.4,489.1L203.4,487.0L198.4,484.2L193.5,486.3Z" fill="#2e75ff"/><path d="M203.4,491.9L208.4,489.8L203.4,487.0L198.4,489.1Z" fill="#2d63ff"/><path d="M208.4,494.5L213.3,492.5L208.4,489.8L203.4,491.9Z" fill="#2b54ff"/><path d="M213.3,497.0L218.3,495.0L213.3,492.5L208.4,494.5Z" fill="#2948ff"/><path d="M218.3,499.5L223.2,497.5L218.3,495.0L213.3,497.0Z" fill="#273eff"/><path d="M223.2,501.8L228.2,499.9L223.2,497.5L218.3,499.5Z" fill="#2536ff"/><path d="M228.2,504.0L233.1,502.1L228.2,499.9L223.2,501.8Z" fill="#242fff"/><path d="M233.1,506.1L238.1,504.2L233.1,502.1L228.2,504.0Z" fill="#222aff"/><path d="M238.1,508.1L243.1,506.3L238.1,504.2L233.1,506.1Z" fill="#2026ff"/><path d="M243.1,509.9L248.0,508.2L243.1,506.3L238.1,508.1Z" fill="#1e23ff"/><path d="M248.0,511.7L253.0,510.0L248.0,508.2L243.1,509.9Z" fill="#1d21ff"/><path d="M123.3,443.3L128.3,440.9L123.3,436.7L118.3,439.2Z" fill="#84ff42"/><path d="M128.4,447.3L133.4,444.9L128.3,440.9L123.3,443.3Z" fill="#60ff41"/><path d="M133.5,451.2L138.5,448.8L133.4,444.9L128.4,447.3Z" fill="#40ff42"/><path d="M138.5,455.0L143.5,452.7L138.5,448.8L133.5,451.2Z" fill="#3eff61"/><path d="M143.5,458.8L148.5,456.5L143.5,452.7L138.5,455.0Z" fill="#3dff7f"/><path d="M148.6,462.4L153.6,460.1L148.5,456.5L143.5,458.8Z" fill="#3bff9c"/><path d="M153.6,466.0L158.6,463.7L153.6,460.1L148.6,462.4Z" fill="#39ffb8"/><path d="M158.6,469.5L163.6,467.2L158.6,463.7L153.6,466.0Z" fill="#38ffd2"/><path d="M163.6,472.8L168.6,470.7L163.6,467.2L158.6,469.5Z" fill="#36ffec"/><path d="M168.6,476.1L173.6,474.0L168.6,470.7L163.6,472.8Z" fill="#35f7ff"/><path d="M173.6,479.3L178.5,477.2L173.6,474.0L168.6,476.1Z" fill="#33d4ff"/><path d="M178.5,482.4L183.5,480.3L178.5,477.2L173.6,479.3Z" fill="#31b5ff"/><path d="M183.5,485.4L188.5,483.4L183.5,480.3L178.5,482.4Z" fill="#2f9aff"/><path d="M188.5,488.3L193.5,486.3L188.5,483.4L183.5,485.4Z" fill="#2e83ff"/><path d="M193.5,491.1L198.4,489.1L193.5,486.3L188.5,488.3Z" fill="#2c6fff"/><path d="M198.4,493.8L203.4,491.9L198.4,489.1L193.5,491.1Z" fill="#2a5eff"/><path d="M203.4,496.4L208.4,494.5L203.4,491.9L198.4,493.8Z" fill="#2850ff"/><path d="M208.3,498.9L213.3,497.0L208.4,494.5L203.4,496.4Z" fill="#2745ff"/><path d="M213.3,501.3L218.3,499.5L213.3,497.0L208.3,498.9Z" fill="#253bff"/><path d="M218.3,503.5L223.2,501.8L218.3,499.5L213.3,501.3Z" fill="#2334ff"/><path d="M223.2,505.7L228.2,504.0L223.2,501.8L218.3,503.5Z" fill="#212eff"/><path d="M228.2,507.7L233.1,506.1L228.2,504.0L223.2,505.7Z" fill="#2029ff"/><path d="M233.1,509.7L238.1,508.1L233.1,506.1L228.2,507.7Z" fill="#1e25ff"/><path d="M238.1,511.5L243.1,509.9L238.1,508.1L233.1,509.7Z" fill="#1c23ff"/><path d="M243.1,513.2L248.0,511.7L243.1,509.9L238.1,511.5Z" fill="#1a21ff"/><path d="M118.3,445.6L123.3,443.3L118.3,439.2L113.3,441.5Z" fill="#75ff40"/><path d="M123.4,449.6L128.4,447.3L123.3,443.3L118.3,445.6Z" fill="#52ff3f"/><path d="M128.5,453.4L133.5,451.2L128.4,447.3L123.4,449.6Z" fill="#3dff4c"/><path d="M133.5,457.2L138.5,455.0L133.5,451.2L128.5,453.4Z" fill="#3cff6a"/><path d="M138.6,460.9L143.5,458.8L138.5,455.0L133.5,457.2Z" fill="#3aff88"/><path d="M143.6,464.6L148.6,462.4L143.5,458.8L138.6,460.9Z" fill="#39ffa4"/><path d="M148.6,468.1L153.6,466.0L148.6,462.4L143.6,464.6Z" fill="#37ffc0"/><path d="M153.6,471.5L158.6,469.5L153.6,466.0L148.6,468.1Z" fill="#36ffda"/><path d="M158.6,474.9L163.6,472.8L158.6,469.5L153.6,471.5Z" fill="#34fff3"/><path d="M163.6,478.1L168.6,476.1L163.6,472.8L158.6,474.9Z" fill="#32edff"/><path d="M168.6,481.3L173.6,479.3L168.6,476.1L163.6,478.1Z" fill="#31cbff"/><path d="M173.6,484.4L178.5,482.4L173.6,479.3L168.6,481.3Z" fill="#2faeff"/><path d="M178.6,487.3L183.5,485.4L178.5,482.4L173.6,484.4Z" fill="#2d94ff"/><path d="M183.5,490.2L188.5,488.3L183.5,485.4L178.6,487.3Z" fill="#2b7eff"/><path d="M188.5,492.9L193.5,491.1L188.5,488.3L183.5,490.2Z" fill="#2a6bff"/><path d="M193.5,495.6L198.4,493.8L193.5,491.1L188.5,492.9Z" fill="#285bff"/><path d="M198.4,498.1L203.4,496.4L198.4,493.8L193.5,495.6Z" fill="#264eff"/><path d="M203.4,500.6L208.3,498.9L203.4,496.4L198.4,498.1Z" fill="#2443ff"/><path d="M208.3,502.9L213.3,501.3L208.3,498.9L203.4,500.6Z" fill="#223aff"/><path d="M213.3,505.1L218.3,503.5L213.3,501.3L208.3,502.9Z" fill="#2133ff"/><path d="M218.3,507.2L223.2,505.7L218.3,503.5L213.3,505.1Z" fill="#1f2eff"/><path d="M223.2,509.2L228.2,507.7L223.2,505.7L218.3,507.2Z" fill="#1d29ff"/><path d="M228.2,511.1L233.1,509.7L228.2,507.7L223.2,509.2Z" fill="#1b26ff"/><path d="M233.2,512.9L238.1,511.5L233.1,509.7L228.2,511.1Z" fill="#1a24ff"/><path d="M238.1,514.6L243.1,513.2L238.1,511.5L233.2,512.9Z" fill="#1822ff"/><path d="M113.3,447.7L118.3,445.6L113.3,441.5L108.3,443.7Z" fill="#68ff3e"/><path d="M118.4,451.7L123.4,449.6L118.3,445.6L113.3,447.7Z" fill="#45ff3d"/><path d="M123.5,455.5L128.5,453.4L123.4,449.6L118.4,451.7Z" fill="#3bff54"/><path d="M128.5,459.3L133.5,457.2L128.5,453.4L123.5,455.5Z" fill="#3aff72"/><path d="M133.6,463.0L138.6,460.9L133.5,457.2L128.5,459.3Z" fill="#38ff8f"/><path d="M138.6,466.6L143.6,464.6L138.6,460.9L133.6,463.0Z" fill="#37ffab"/><path d="M143.6,470.1L148.6,468.1L143.6,464.6L138.6,466.6Z" fill="#35ffc6"/><path d="M148.6,473.5L153.6,471.5L148.6,468.1L143.6,470.1Z" fill="#33ffdf"/><path d="M153.6,476.8L158.6,474.9L153.6,471.5L148.6,473.5Z" fill="#32fff8"/><path d="M158.6,480.0L163.6,478.1L158.6,474.9L153.6,476.8Z" fill="#30e6ff"/><path d="M163.6,483.1L168.6,481.3L163.6,478.1L158.6,480.0Z" fill="#2ec6ff"/><path d="M168.6,486.1L173.6,484.4L168.6,481.3L163.6,483.1Z" fill="#2caaff"/><path d="M173.6,489.0L178.6,487.3L173.6,484.4L168.6,486.1Z" fill="#2b91ff"/><path d="M178.6,491.9L183.5,490.2L178.6,487.3L173.6,489.0Z" fill="#297cff"/><path d="M183.5,494.6L188.5,492.9L183.5,490.2L178.6,491.9Z" fill="#276aff"/><path d="M188.5,497.2L193.5,495.6L188.5,492.9L183.5,494.6Z" fill="#255bff"/><path d="M193.5,499.7L198.4,498.1L193.5,495.6L188.5,497.2Z" fill="#244eff"/><path d="M198.4,502.1L203.4,500.6L198.4,498.1L193.5,499.7Z" fill="#2244ff"/><path d="M203.4,504.4L208.3,502.9L203.4,500.6L198.4,502.1Z" fill="#203bff"/><path d="M208.3,506.6L213.3,505.1L208.3,502.9L203.4,504.4Z" fill="#1e35ff"/><path d="M213.3,508.6L218.3,507.2L213.3,505.1L208.3,506.6Z" fill="#1d2fff"/><path d="M218.3,510.6L223.2,509.2L218.3,507.2L213.3,508.6Z" fill="#1b2bff"/><path d="M223.2,512.4L228.2,511.1L223.2,509.2L218.3,510.6Z" fill="#1928ff"/><path d="M228.2,514.2L233.2,512.9L228.2,511.1L223.2,512.4Z" fill="#1727ff"/><path d="M233.2,515.8L238.1,514.6L233.2,512.9L228.2,514.2Z" fill="#1626ff"/><path d="M108.3,449.8L113.3,447.7L108.3,443.7L103.3,445.8Z" fill="#5dff3c"/><path d="M113.4,453.7L118.4,451.7L113.3,447.7L108.3,449.8Z" fill="#3bff3b"/><path d="M118.5,457.5L123.5,455.5L118.4,451.7L113.4,453.7Z" fill="#39ff5a"/><path d="M123.5,461.2L128.5,459.3L123.5,455.5L118.5,457.5Z" fill="#38ff78"/><path d="M128.6,464.9L133.6,463.0L128.5,459.3L123.5,461.2Z" fill="#36ff94"/><path d="M133.6,468.4L138.6,466.6L133.6,463.0L128.6,464.9Z" fill="#34ffaf"/><path d="M138.6,471.9L143.6,470.1L138.6,466.6L133.6,468.4Z" fill="#33ffca"/><path d="M143.6,475.2L148.6,473.5L143.6,470.1L138.6,471.9Z" fill="#31ffe3"/><path d="M148.6,478.5L153.6,476.8L148.6,473.5L143.6,475.2Z" fill="#2ffffa"/><path d="M153.6,481.7L158.6,480.0L153.6,476.8L148.6,478.5Z" fill="#2ee3ff"/><path d="M158.6,484.8L163.6,483.1L158.6,480.0L153.6,481.7Z" fill="#2cc4ff"/><path d="M163.6,487.7L168.6,486.1L163.6,483.1L158.6,484.8Z" fill="#2aa9ff"/><path d="M168.6,490.6L173.6,489.0L168.6,486.1L163.6,487.7Z" fill="#2891ff"/><path d="M173.6,493.4L178.6,491.9L173.6,489.0L168.6,490.6Z" fill="#277dff"/><path d="M178.5,496.1L183.5,494.6L178.6,491.9L173.6,493.4Z" fill="#256cff"/><path d="M183.5,498.6L188.5,497.2L183.5,494.6L178.5,496.1Z" fill="#235dff"/><path d="M188.5,501.1L193.5,499.7L188.5,497.2L183.5,498.6Z" fill="#2151ff"/><path d="M193.5,503.5L198.4,502.1L193.5,499.7L188.5,501.1Z" fill="#1f47ff"/><path d="M198.4,505.7L203.4,504.4L198.4,502.1L193.5,503.5Z" fill="#1e3fff"/><path d="M203.4,507.8L208.3,506.6L203.4,504.4L198.4,505.7Z" fill="#1c38ff"/><path d="M208.4,509.9L213.3,508.6L208.3,506.6L203.4,507.8Z" fill="#1a33ff"/><path d="M213.3,511.8L218.3,510.6L213.3,508.6L208.4,509.9Z" fill="#1930ff"/><path d="M218.3,513.5L223.2,512.4L218.3,510.6L213.3,511.8Z" fill="#172dff"/><path d="M223.3,515.2L228.2,514.2L223.2,512.4L218.3,513.5Z" fill="#152cff"/><path d="M228.2,516.8L233.2,515.8L228.2,514.2L223.3,515.2Z" fill="#142dff"/><path d="M103.3,451.6L108.3,449.8L103.3,445.8L98.3,447.7Z" fill="#54ff3a"/><path d="M108.4,455.5L113.4,453.7L108.3,449.8L103.3,451.6Z" fill="#39ff40"/><path d="M113.5,459.3L118.5,457.5L113.4,453.7L108.4,455.5Z" fill="#37ff5e"/><path d="M118.5,463.0L123.5,461.2L118.5,457.5L113.5,459.3Z" fill="#35ff7b"/><path d="M123.6,466.6L128.6,464.9L123.5,461.2L118.5,463.0Z" fill="#34ff97"/><path d="M128.6,470.1L133.6,468.4L128.6,464.9L123.6,466.6Z" fill="#32ffb2"/><path d="M133.6,473.5L138.6,471.9L133.6,468.4L128.6,470.1Z" fill="#30ffcb"/><path d="M138.6,476.9L143.6,475.2L138.6,471.9L133.6,473.5Z" fill="#2fffe4"/><path d="M143.7,480.1L148.6,478.5L143.6,475.2L138.6,476.9Z" fill="#2dfffb"/><path d="M148.7,483.2L153.6,481.7L148.6,478.5L143.7,480.1Z" fill="#2be4ff"/><path d="M153.6,486.3L158.6,484.8L153.6,481.7L148.7,483.2Z" fill="#2ac5ff"/><path d="M158.6,489.2L163.6,487.7L158.6,484.8L153.6,486.3Z" fill="#28abff"/><path d="M163.6,492.0L168.6,490.6L163.6,487.7L158.6,489.2Z" fill="#2694ff"/><path d="M168.6,494.8L173.6,493.4L168.6,490.6L163.6,492.0Z" fill="#2480ff"/><path d="M173.6,497.4L178.5,496.1L173.6,493.4L168.6,494.8Z" fill="#2270ff"/><path d="M178.5,499.9L183.5,498.6L178.5,496.1L173.6,497.4Z" fill="#2162ff"/><path d="M183.5,502.3L188.5,501.1L183.5,498.6L178.5,499.9Z" fill="#1f56ff"/><path d="M188.5,504.7L193.5,503.5L188.5,501.1L183.5,502.3Z" fill="#1d4cff"/><path d="M193.5,506.8L198.4,505.7L193.5,503.5L188.5,504.7Z" fill="#1b44ff"/><path d="M198.4,508.9L203.4,507.8L198.4,505.7L193.5,506.8Z" fill="#1a3eff"/><path d="M203.4,510.9L208.4,509.9L203.4,507.8L198.4,508.9Z" fill="#183aff"/><path d="M208.4,512.8L213.3,511.8L208.4,509.9L203.4,510.9Z" fill="#1637ff"/><path d="M213.3,514.5L218.3,513.5L213.3,511.8L208.4,512.8Z" fill="#1536ff"/><path d="M218.3,516.1L223.3,515.2L218.3,513.5L213.3,514.5Z" fill="#1335ff"/><path d="M223.3,517.6L228.2,516.8L223.3,515.2L218.3,516.1Z" fill="#1137ff"/><path d="M98.3,453.3L103.3,451.6L98.3,447.7L93.3,449.4Z" fill="#4dff38"/><path d="M103.4,457.2L108.4,455.5L103.3,451.6L98.3,453.3Z" fill="#36ff42"/><path d="M108.5,460.9L113.5,459.3L108.4,455.5L103.4,457.2Z" fill="#35ff60"/><path d="M113.5,464.6L118.5,463.0L113.5,459.3L108.5,460.9Z" fill="#33ff7c"/><path d="M118.6,468.2L123.6,466.6L118.5,463.0L113.5,464.6Z" fill="#32ff98"/><path d="M123.6,471.7L128.6,470.1L123.6,466.6L118.6,468.2Z" fill="#30ffb2"/><path d="M128.6,475.0L133.6,473.5L128.6,470.1L123.6,471.7Z" fill="#2effcb"/><path d="M133.7,478.3L138.6,476.9L133.6,473.5L128.6,475.0Z" fill="#2cffe2"/><path d="M138.7,481.5L143.7,480.1L138.6,476.9L133.7,478.3Z" fill="#2bfff9"/><path d="M143.7,484.6L148.7,483.2L143.7,480.1L138.7,481.5Z" fill="#29e8ff"/><path d="M148.7,487.6L153.6,486.3L148.7,483.2L143.7,484.6Z" fill="#27caff"/><path d="M153.7,490.5L158.6,489.2L153.6,486.3L148.7,487.6Z" fill="#25b1ff"/><path d="M158.6,493.3L163.6,492.0L158.6,489.2L153.7,490.5Z" fill="#249aff"/><path d="M163.6,496.0L168.6,494.8L163.6,492.0L158.6,493.3Z" fill="#2287ff"/><path d="M168.6,498.6L173.6,497.4L168.6,494.8L163.6,496.0Z" fill="#2077ff"/><path d="M173.6,501.1L178.5,499.9L173.6,497.4L168.6,498.6Z" fill="#1e69ff"/><path d="M178.5,503.4L183.5,502.3L178.5,499.9L173.6,501.1Z" fill="#1d5eff"/><path d="M183.5,505.7L188.5,504.7L183.5,502.3L178.5,503.4Z" fill="#1b55ff"/><path d="M188.5,507.8L193.5,506.8L188.5,504.7L183.5,505.7Z" fill="#194dff"/><path d="M193.5,509.9L198.4,508.9L193.5,506.8L188.5,507.8Z" fill="#1748ff"/><path d="M198.4,511.8L203.4,510.9L198.4,508.9L193.5,509.9Z" fill="#1644ff"/><path d="M203.4,513.6L208.4,512.8L203.4,510.9L198.4,511.8Z" fill="#1442ff"/><path d="M208.4,515.3L213.3,514.5L208.4,512.8L203.4,513.6Z" fill="#1242ff"/><path d="M213.3,516.8L218.3,516.1L213.3,514.5L208.4,515.3Z" fill="#1143ff"/><path d="M218.3,518.3L223.3,517.6L218.3,516.1L213.3,516.8Z" fill="#0f46ff"/><path d="M93.3,454.9L98.3,453.3L93.3,449.4L88.2,451.0Z" fill="#48ff36"/><path d="M98.4,458.7L103.4,457.2L98.3,453.3L93.3,454.9Z" fill="#34ff42"/><path d="M103.5,462.4L108.5,460.9L103.4,457.2L98.4,458.7Z" fill="#33ff5f"/><path d="M108.5,466.1L113.5,464.6L108.5,460.9L103.5,462.4Z" fill="#31ff7b"/><path d="M113.6,469.6L118.6,468.2L113.5,464.6L108.5,466.1Z" fill="#2fff96"/><path d="M118.6,473.0L123.6,471.7L118.6,468.2L113.6,469.6Z" fill="#2effb0"/><path d="M123.6,476.4L128.6,475.0L123.6,471.7L118.6,473.0Z" fill="#2cffc8"/><path d="M128.7,479.6L133.7,478.3L128.6,475.0L123.6,476.4Z" fill="#2affdf"/><path d="M133.7,482.8L138.7,481.5L133.7,478.3L128.7,479.6Z" fill="#28fff4"/><path d="M138.7,485.8L143.7,484.6L138.7,481.5L133.7,482.8Z" fill="#27f0ff"/><path d="M143.7,488.8L148.7,487.6L143.7,484.6L138.7,485.8Z" fill="#25d3ff"/><path d="M148.7,491.7L153.7,490.5L148.7,487.6L143.7,488.8Z" fill="#23baff"/><path d="M153.7,494.4L158.6,493.3L153.7,490.5L148.7,491.7Z" fill="#21a4ff"/><path d="M158.6,497.0L163.6,496.0L158.6,493.3L153.7,494.4Z" fill="#2091ff"/><path d="M163.6,499.6L168.6,498.6L163.6,496.0L158.6,497.0Z" fill="#1e82ff"/><path d="M168.6,502.0L173.6,501.1L168.6,498.6L163.6,499.6Z" fill="#1c74ff"/><path d="M173.6,504.3L178.5,503.4L173.6,501.1L168.6,502.0Z" fill="#1a69ff"/><path d="M178.5,506.5L183.5,505.7L178.5,503.4L173.6,504.3Z" fill="#1961ff"/><path d="M183.5,508.6L188.5,507.8L183.5,505.7L178.5,506.5Z" fill="#175aff"/><path d="M188.5,510.6L193.5,509.9L188.5,507.8L183.5,508.6Z" fill="#1555ff"/><path d="M193.5,512.5L198.4,511.8L193.5,509.9L188.5,510.6Z" fill="#1452ff"/><path d="M198.4,514.2L203.4,513.6L198.4,511.8L193.5,512.5Z" fill="#1251ff"/><path d="M203.4,515.9L208.4,515.3L203.4,513.6L198.4,514.2Z" fill="#1052ff"/><path d="M208.4,517.4L213.3,516.8L208.4,515.3L203.4,515.9Z" fill="#0f55ff"/><path d="M213.4,518.8L218.3,518.3L213.3,516.8L208.4,517.4Z" fill="#0d5aff"/><path d="M88.3,456.3L93.3,454.9L88.2,451.0L83.2,452.5Z" fill="#45ff34"/><path d="M93.4,460.1L98.4,458.7L93.3,454.9L88.3,456.3Z" fill="#32ff40"/><path d="M98.5,463.8L103.5,462.4L98.4,458.7L93.4,460.1Z" fill="#30ff5d"/><path d="M103.5,467.4L108.5,466.1L103.5,462.4L98.5,463.8Z" fill="#2fff78"/><path d="M108.6,470.9L113.6,469.6L108.5,466.1L103.5,467.4Z" fill="#2dff92"/><path d="M113.6,474.3L118.6,473.0L113.6,469.6L108.6,470.9Z" fill="#2bffab"/><path d="M118.6,477.6L123.6,476.4L118.6,473.0L113.6,474.3Z" fill="#2affc2"/><path d="M123.7,480.8L128.7,479.6L123.6,476.4L118.6,477.6Z" fill="#28ffd9"/><path d="M128.7,483.9L133.7,482.8L128.7,479.6L123.7,480.8Z" fill="#26ffee"/><path d="M133.7,486.9L138.7,485.8L133.7,482.8L128.7,483.9Z" fill="#24fcff"/><path d="M138.7,489.8L143.7,488.8L138.7,485.8L133.7,486.9Z" fill="#22e0ff"/><path d="M143.7,492.6L148.7,491.7L143.7,488.8L138.7,489.8Z" fill="#21c7ff"/><path d="M148.7,495.3L153.7,494.4L148.7,491.7L143.7,492.6Z" fill="#1fb2ff"/><path d="M153.7,497.9L158.6,497.0L153.7,494.4L148.7,495.3Z" fill="#1da0ff"/><path d="M158.6,500.4L163.6,499.6L158.6,497.0L153.7,497.9Z" fill="#1b90ff"/><path d="M163.6,502.8L168.6,502.0L163.6,499.6L158.6,500.4Z" fill="#1a83ff"/><path d="M168.6,505.1L173.6,504.3L168.6,502.0L163.6,502.8Z" fill="#1879ff"/><path d="M173.6,507.2L178.5,506.5L173.6,504.3L168.6,505.1Z" fill="#1671ff"/><path d="M178.6,509.3L183.5,508.6L178.5,506.5L173.6,507.2Z" fill="#156bff"/><path d="M183.5,511.2L188.5,510.6L183.5,508.6L178.6,509.3Z" fill="#1367ff"/><path d="M188.5,513.0L193.5,512.5L188.5,510.6L183.5,511.2Z" fill="#1165ff"/><path d="M193.5,514.7L198.4,514.2L193.5,512.5L188.5,513.0Z" fill="#1066ff"/><path d="M198.5,516.3L203.4,515.9L198.4,514.2L193.5,514.7Z" fill="#0e68ff"/><path d="M203.4,517.7L208.4,517.4L203.4,515.9L198.5,516.3Z" fill="#0d6cfe"/><path d="M208.4,519.1L213.4,518.8L208.4,517.4L203.4,517.7Z" fill="#0b72fb"/><path d="M83.3,457.6L88.3,456.3L83.2,452.5L78.2,453.8Z" fill="#44ff31"/><path d="M88.4,461.3L93.4,460.1L88.3,456.3L83.3,457.6Z" fill="#30ff3c"/><path d="M93.4,465.0L98.5,463.8L93.4,460.1L88.4,461.3Z" fill="#2eff58"/><path d="M98.5,468.5L103.5,467.4L98.5,463.8L93.4,465.0Z" fill="#2cff72"/><path d="M103.6,472.0L108.6,470.9L103.5,467.4L98.5,468.5Z" fill="#2bff8c"/><path d="M108.6,475.3L113.6,474.3L108.6,470.9L103.6,472.0Z" fill="#29ffa4"/><path d="M113.6,478.6L118.6,477.6L113.6,474.3L108.6,475.3Z" fill="#27ffbb"/><path d="M118.7,481.8L123.7,480.8L118.6,477.6L113.6,478.6Z" fill="#25ffd0"/><path d="M123.7,484.9L128.7,483.9L123.7,480.8L118.7,481.8Z" fill="#24ffe4"/><path d="M128.7,487.8L133.7,486.9L128.7,483.9L123.7,484.9Z" fill="#22fff7"/><path d="M133.7,490.7L138.7,489.8L133.7,486.9L128.7,487.8Z" fill="#20f1ff"/><path d="M138.7,493.4L143.7,492.6L138.7,489.8L133.7,490.7Z" fill="#1ed9ff"/><path d="M143.7,496.1L148.7,495.3L143.7,492.6L138.7,493.4Z" fill="#1dc4ff"/><path d="M148.7,498.7L153.7,497.9L148.7,495.3L143.7,496.1Z" fill="#1bb2ff"/><path d="M153.7,501.1L158.6,500.4L153.7,497.9L148.7,498.7Z" fill="#19a3ff"/><path d="M158.6,503.4L163.6,502.8L158.6,500.4L153.7,501.1Z" fill="#1797ff"/><path d="M163.6,505.6L168.6,505.1L163.6,502.8L158.6,503.4Z" fill="#168eff"/><path d="M168.6,507.7L173.6,507.2L168.6,505.1L163.6,505.6Z" fill="#1486ff"/><path d="M173.6,509.7L178.6,509.3L173.6,507.2L168.6,507.7Z" fill="#1381ff"/><path d="M178.6,511.6L183.5,511.2L178.6,509.3L173.6,509.7Z" fill="#117fff"/><path d="M183.5,513.4L188.5,513.0L183.5,511.2L178.6,511.6Z" fill="#0f7eff"/><path d="M188.5,515.0L193.5,514.7L188.5,513.0L183.5,513.4Z" fill="#0e80ff"/><path d="M193.5,516.5L198.5,516.3L193.5,514.7L188.5,515.0Z" fill="#0c84fd"/><path d="M198.5,517.9L203.4,517.7L198.5,516.3L193.5,516.5Z" fill="#0b89fa"/><path d="M203.5,519.2L208.4,519.1L203.4,517.7L198.5,517.9Z" fill="#0a90f7"/><path d="M78.3,458.7L83.3,457.6L78.2,453.8L73.2,454.9Z" fill="#46ff2f"/><path d="M83.4,462.4L88.4,461.3L83.3,457.6L78.3,458.7Z" fill="#2eff35"/><path d="M88.4,466.0L93.4,465.0L88.4,461.3L83.4,462.4Z" fill="#2cff50"/><path d="M93.5,469.5L98.5,468.5L93.4,465.0L88.4,466.0Z" fill="#2aff6a"/><path d="M98.5,472.9L103.6,472.0L98.5,468.5L93.5,469.5Z" fill="#28ff83"/><path d="M103.6,476.3L108.6,475.3L103.6,472.0L98.5,472.9Z" fill="#27ff9a"/><path d="M108.6,479.5L113.6,478.6L108.6,475.3L103.6,476.3Z" fill="#25ffb0"/><path d="M113.6,482.6L118.7,481.8L113.6,478.6L108.6,479.5Z" fill="#23ffc5"/><path d="M118.7,485.6L123.7,484.9L118.7,481.8L113.6,482.6Z" fill="#21ffd8"/><path d="M123.7,488.6L128.7,487.8L123.7,484.9L118.7,485.6Z" fill="#20ffea"/><path d="M128.7,491.4L133.7,490.7L128.7,487.8L123.7,488.6Z" fill="#1efffa"/><path d="M133.7,494.1L138.7,493.4L133.7,490.7L128.7,491.4Z" fill="#1cefff"/><path d="M138.7,496.7L143.7,496.1L138.7,493.4L133.7,494.1Z" fill="#1adbff"/><path d="M143.7,499.2L148.7,498.7L143.7,496.1L138.7,496.7Z" fill="#19caff"/><path d="M148.7,501.6L153.7,501.1L148.7,498.7L143.7,499.2Z" fill="#17bcff"/><path d="M153.6,503.9L158.6,503.4L153.7,501.1L148.7,501.6Z" fill="#15b1ff"/><path d="M158.6,506.0L163.6,505.6L158.6,503.4L153.6,503.9Z" fill="#14a8ff"/><path d="M163.6,508.1L168.6,507.7L163.6,505.6L158.6,506.0Z" fill="#12a2ff"/><path d="M168.6,510.0L173.6,509.7L168.6,507.7L163.6,508.1Z" fill="#109eff"/><path d="M173.6,511.8L178.6,511.6L173.6,509.7L168.6,510.0Z" fill="#0f9cff"/><path d="M178.5,513.5L183.5,513.4L178.6,511.6L173.6,511.8Z" fill="#0d9eff"/><path d="M183.5,515.1L188.5,515.0L183.5,513.4L178.5,513.5Z" fill="#0ca0fc"/><path d="M188.5,516.6L193.5,516.5L188.5,515.0L183.5,515.1Z" fill="#0ba4f9"/><path d="M193.5,517.9L198.5,517.9L193.5,516.5L188.5,516.6Z" fill="#09abf6"/><path d="M198.5,519.1L203.5,519.2L198.5,517.9L193.5,517.9Z" fill="#08b5f3"/><path d="M73.2,459.7L78.3,458.7L73.2,454.9L68.1,455.9Z" fill="#4aff2d"/><path d="M78.3,463.3L83.4,462.4L78.3,458.7L73.2,459.7Z" fill="#2bff2c"/><path d="M83.4,466.9L88.4,466.0L83.4,462.4L78.3,463.3Z" fill="#2aff46"/><path d="M88.5,470.4L93.5,469.5L88.4,466.0L83.4,466.9Z" fill="#28ff5f"/><path d="M93.5,473.7L98.5,472.9L93.5,469.5L88.5,470.4Z" fill="#26ff77"/><path d="M98.6,477.0L103.6,476.3L98.5,472.9L93.5,473.7Z" fill="#24ff8e"/><path d="M103.6,480.2L108.6,479.5L103.6,476.3L98.6,477.0Z" fill="#23ffa3"/><path d="M108.6,483.3L113.6,482.6L108.6,479.5L103.6,480.2Z" fill="#21ffb7"/><path d="M113.6,486.3L118.7,485.6L113.6,482.6L108.6,483.3Z" fill="#1fffc9"/><path d="M118.7,489.1L123.7,488.6L118.7,485.6L113.6,486.3Z" fill="#1dffda"/><path d="M123.7,491.9L128.7,491.4L123.7,488.6L118.7,489.1Z" fill="#1cffe9"/><path d="M128.7,494.6L133.7,494.1L128.7,491.4L123.7,491.9Z" fill="#1afff7"/><path d="M133.7,497.1L138.7,496.7L133.7,494.1L128.7,494.6Z" fill="#18f8ff"/><path d="M138.7,499.6L143.7,499.2L138.7,496.7L133.7,497.1Z" fill="#16e8ff"/><path d="M143.7,501.9L148.7,501.6L143.7,499.2L138.7,499.6Z" fill="#15daff"/><path d="M148.6,504.1L153.6,503.9L148.7,501.6L143.7,501.9Z" fill="#13d0ff"/><path d="M153.6,506.3L158.6,506.0L153.6,503.9L148.6,504.1Z" fill="#12c8ff"/><path d="M158.6,508.3L163.6,508.1L158.6,506.0L153.6,506.3Z" fill="#10c3ff"/><path d="M163.6,510.1L168.6,510.0L163.6,508.1L158.6,508.3Z" fill="#0ec1ff"/><path d="M168.6,511.9L173.6,511.8L168.6,510.0L163.6,510.1Z" fill="#0dc1fe"/><path d="M173.6,513.5L178.5,513.5L173.6,511.8L168.6,511.9Z" fill="#0cc2fb"/><path d="M178.5,515.1L183.5,515.1L178.5,513.5L173.6,513.5Z" fill="#0ac5f8"/><path d="M183.5,516.5L188.5,516.6L183.5,515.1L178.5,515.1Z" fill="#09ccf5"/><path d="M188.5,517.7L193.5,517.9L188.5,516.6L183.5,516.5Z" fill="#08d5f2"/><path d="M193.5,518.9L198.5,519.1L193.5,517.9L188.5,517.7Z" fill="#06e1ee"/><path d="M68.2,460.5L73.2,459.7L68.1,455.9L63.1,456.8Z" fill="#50ff2b"/><path d="M73.3,464.1L78.3,463.3L73.2,459.7L68.2,460.5Z" fill="#32ff29"/><path d="M78.4,467.6L83.4,466.9L78.3,463.3L73.3,464.1Z" fill="#27ff3a"/><path d="M83.4,471.0L88.5,470.4L83.4,466.9L78.4,467.6Z" fill="#26ff52"/><path d="M88.5,474.4L93.5,473.7L88.5,470.4L83.4,471.0Z" fill="#24ff69"/><path d="M93.5,477.6L98.6,477.0L93.5,473.7L88.5,474.4Z" fill="#22ff7f"/><path d="M98.6,480.7L103.6,480.2L98.6,477.0L93.5,477.6Z" fill="#20ff93"/><path d="M103.6,483.8L108.6,483.3L103.6,480.2L98.6,480.7Z" fill="#1fffa6"/><path d="M108.6,486.7L113.6,486.3L108.6,483.3L103.6,483.8Z" fill="#1dffb8"/><path d="M113.6,489.5L118.7,489.1L113.6,486.3L108.6,486.7Z" fill="#1bffc7"/><path d="M118.7,492.3L123.7,491.9L118.7,489.1L113.6,489.5Z" fill="#19ffd6"/><path d="M123.7,494.9L128.7,494.6L123.7,491.9L118.7,492.3Z" fill="#18ffe3"/><path d="M128.7,497.4L133.7,497.1L128.7,494.6L123.7,494.9Z" fill="#16ffee"/><path d="M133.7,499.8L138.7,499.6L133.7,497.1L128.7,497.4Z" fill="#14fff7"/><path d="M138.7,502.1L143.7,501.9L138.7,499.6L133.7,499.8Z" fill="#13ffff"/><path d="M143.6,504.2L148.6,504.1L143.7,501.9L138.7,502.1Z" fill="#11f6ff"/><path d="M148.6,506.3L153.6,506.3L148.6,504.1L143.6,504.2Z" fill="#10f0ff"/><path d="M153.6,508.2L158.6,508.3L153.6,506.3L148.6,506.3Z" fill="#0eecff"/><path d="M158.6,510.1L163.6,510.1L158.6,508.3L153.6,508.2Z" fill="#0deafd"/><path d="M163.6,511.8L168.6,511.9L163.6,510.1L158.6,510.1Z" fill="#0beafa"/><path d="M168.6,513.3L173.6,513.5L168.6,511.9L163.6,511.8Z" fill="#0aecf7"/><path d="M173.6,514.8L178.5,515.1L173.6,513.5L168.6,513.3Z" fill="#08f2f4"/><path d="M178.6,516.1L183.5,516.5L178.5,515.1L173.6,514.8Z" fill="#07f1eb"/><path d="M183.5,517.3L188.5,517.7L183.5,516.5L178.6,516.1Z" fill="#06eedf"/><path d="M188.5,518.4L193.5,518.9L188.5,517.7L183.5,517.3Z" fill="#05ead1"/><path d="M63.1,461.1L68.2,460.5L63.1,456.8L58.0,457.5Z" fill="#59ff28"/><path d="M68.2,464.7L73.3,464.1L68.2,460.5L63.1,461.1Z" fill="#3cff27"/><path d="M73.3,468.2L78.4,467.6L73.3,464.1L68.2,464.7Z" fill="#25ff2b"/><path d="M78.4,471.6L83.4,471.0L78.4,467.6L73.3,468.2Z" fill="#23ff42"/><path d="M83.4,474.9L88.5,474.4L83.4,471.0L78.4,471.6Z" fill="#22ff58"/><path d="M88.5,478.0L93.5,477.6L88.5,474.4L83.4,474.9Z" fill="#20ff6d"/><path d="M93.5,481.1L98.6,480.7L93.5,477.6L88.5,478.0Z" fill="#1eff81"/><path d="M98.6,484.1L103.6,483.8L98.6,480.7L93.5,481.1Z" fill="#1cff93"/><path d="M103.6,487.0L108.6,486.7L103.6,483.8L98.6,484.1Z" fill="#1bffa3"/><path d="M108.6,489.8L113.6,489.5L108.6,486.7L103.6,487.0Z" fill="#19ffb2"/><path d="M113.6,492.4L118.7,492.3L113.6,489.5L108.6,489.8Z" fill="#17ffbf"/><path d="M118.6,495.0L123.7,494.9L118.7,492.3L113.6,492.4Z" fill="#16ffcb"/><path d="M123.6,497.5L128.7,497.4L123.7,494.9L118.6,495.0Z" fill="#14ffd5"/><path d="M128.6,499.8L133.7,499.8L128.7,497.4L123.6,497.5Z" fill="#12ffdd"/><path d="M133.6,502.0L138.7,502.1L133.7,499.8L128.6,499.8Z" fill="#11ffe4"/><path d="M138.6,504.2L143.6,504.2L138.7,502.1L133.6,502.0Z" fill="#0fffe8"/><path d="M143.6,506.2L148.6,506.3L143.6,504.2L138.6,504.2Z" fill="#0effeb"/><path d="M148.6,508.0L153.6,508.2L148.6,506.3L143.6,506.2Z" fill="#0cfcea"/><path d="M153.6,509.8L158.6,510.1L153.6,508.2L148.6,508.0Z" fill="#0bf9e6"/><path d="M158.6,511.4L163.6,511.8L158.6,510.1L153.6,509.8Z" fill="#09f6e0"/><path d="M163.6,513.0L168.6,513.3L163.6,511.8L158.6,511.4Z" fill="#08f3d9"/><path d="M168.6,514.4L173.6,514.8L168.6,513.3L163.6,513.0Z" fill="#07f0d0"/><path d="M173.6,515.6L178.6,516.1L173.6,514.8L168.6,514.4Z" fill="#06edc4"/><path d="M178.6,516.8L183.5,517.3L178.6,516.1L173.6,515.6Z" fill="#05e9b8"/><path d="M183.5,517.8L188.5,518.4L183.5,517.3L178.6,516.8Z" fill="#03e6aa"/><path d="M58.1,461.6L63.1,461.1L58.0,457.5L53.0,458.0Z" fill="#65ff26"/><path d="M63.2,465.1L68.2,464.7L63.1,461.1L58.1,461.6Z" fill="#48ff24"/><path d="M68.3,468.6L73.3,468.2L68.2,464.7L63.2,465.1Z" fill="#2dff23"/><path d="M73.3,471.9L78.4,471.6L73.3,468.2L68.3,468.6Z" fill="#21ff2f"/><path d="M78.4,475.2L83.4,474.9L78.4,471.6L73.3,471.9Z" fill="#1fff45"/><path d="M83.4,478.3L88.5,478.0L83.4,474.9L78.4,475.2Z" fill="#1eff59"/><path d="M88.5,481.3L93.5,481.1L88.5,478.0L83.4,478.3Z" fill="#1cff6b"/><path d="M93.5,484.3L98.6,484.1L93.5,481.1L88.5,481.3Z" fill="#1aff7c"/><path d="M98.5,487.1L103.6,487.0L98.6,484.1L93.5,484.3Z" fill="#18ff8c"/><path d="M103.6,489.8L108.6,489.8L103.6,487.0L98.5,487.1Z" fill="#17ff99"/><path d="M108.6,492.5L113.6,492.4L108.6,489.8L103.6,489.8Z" fill="#15ffa6"/><path d="M113.6,495.0L118.6,495.0L113.6,492.4L108.6,492.5Z" fill="#13ffb0"/><path d="M118.6,497.4L123.6,497.5L118.6,495.0L113.6,495.0Z" fill="#12ffb9"/><path d="M123.6,499.7L128.6,499.8L123.6,497.5L118.6,497.4Z" fill="#10ffc0"/><path d="M128.6,501.8L133.6,502.0L128.6,499.8L123.6,499.7Z" fill="#0fffc6"/><path d="M133.6,503.9L138.6,504.2L133.6,502.0L128.6,501.8Z" fill="#0dffc9"/><path d="M138.6,505.8L143.6,506.2L138.6,504.2L133.6,503.9Z" fill="#0cfcc8"/><path d="M143.6,507.7L148.6,508.0L143.6,506.2L138.6,505.8Z" fill="#0af8c5"/><path d="M148.6,509.4L153.6,509.8L148.6,508.0L143.6,507.7Z" fill="#09f5c1"/><path d="M153.6,510.9L158.6,511.4L153.6,509.8L148.6,509.4Z" fill="#08f2ba"/><path d="M158.6,512.4L163.6,513.0L158.6,511.4L153.6,510.9Z" fill="#06efb2"/><path d="M163.6,513.7L168.6,514.4L163.6,513.0L158.6,512.4Z" fill="#05eca8"/><path d="M168.6,514.9L173.6,515.6L168.6,514.4L163.6,513.7Z" fill="#04e89c"/><path d="M173.6,516.0L178.6,516.8L173.6,515.6L168.6,514.9Z" fill="#03e58f"/><path d="M178.6,517.0L183.5,517.8L178.6,516.8L173.6,516.0Z" fill="#02e280"/></g>
<circle cx="52.7" cy="452.2" r="2.5" fill="#c00606" stroke="#5a1010" stroke-width="0.7"/>
<circle cx="302.7" cy="487.1" r="2.5" fill="#fcc8c8" stroke="#8a5050" stroke-width="0.7"/>
<circle cx="178.6" cy="511.2" r="2.5" fill="#c00606" stroke="#5a1010" stroke-width="0.7"/>
<circle cx="178.5" cy="480.5" r="2.5" fill="#c00606" stroke="#5a1010" stroke-width="0.7"/>
<circle cx="55.7" cy="514.7" r="1.3" fill="#111"/><circle cx="54.2" cy="483.1" r="1.3" fill="#111"/><circle cx="52.7" cy="451.5" r="1.3" fill="#111"/><circle cx="51.1" cy="420.0" r="1.3" fill="#111"/><circle cx="49.6" cy="388.4" r="1.3" fill="#111"/><circle cx="178.6" cy="611.9" r="1.3" fill="#111"/><circle cx="154.4" cy="600.4" r="1.3" fill="#111"/><circle cx="130.2" cy="588.8" r="1.3" fill="#111"/><circle cx="106.0" cy="577.2" r="1.3" fill="#111"/><circle cx="81.8" cy="565.7" r="1.3" fill="#111"/><circle cx="57.6" cy="554.1" r="1.3" fill="#111"/><circle cx="178.6" cy="611.9" r="1.3" fill="#111"/><circle cx="208.8" cy="597.5" r="1.3" fill="#111"/><circle cx="239.0" cy="583.0" r="1.3" fill="#111"/><circle cx="269.3" cy="568.6" r="1.3" fill="#111"/><circle cx="299.5" cy="554.1" r="1.3" fill="#111"/>
<g font-size="9.4" fill="#3c3c3c"><text x="51.2" y="513.0" text-anchor="end">0</text><text x="49.7" y="481.4" text-anchor="end">10</text><text x="48.1" y="449.8" text-anchor="end">20</text><text x="46.6" y="418.3" text-anchor="end">30</text><text x="45.1" y="386.7" text-anchor="end">40</text><text x="174.2" y="621.7" text-anchor="end">5</text><text x="150.0" y="610.1" text-anchor="end">8</text><text x="125.8" y="598.5" text-anchor="end">11</text><text x="101.7" y="587.0" text-anchor="end">14</text><text x="77.5" y="575.4" text-anchor="end">17</text><text x="53.3" y="563.9" text-anchor="end">20</text><text x="182.1" y="622.0" text-anchor="start">20</text><text x="212.3" y="607.5" text-anchor="start">30</text><text x="242.5" y="593.1" text-anchor="start">40</text><text x="272.8" y="578.6" text-anchor="start">50</text><text x="303.0" y="564.2" text-anchor="start">60</text></g>
<text x="72.4" y="608.2" font-size="8.5" fill="#3c3c3c" text-anchor="middle">C: Solid ratio (w/v)</text>
<text x="285.0" y="608.2" font-size="8.8" fill="#3c3c3c" text-anchor="middle">A: Amplitude (%)</text>
<text transform="translate(12.8,473.1) rotate(-90)" font-size="8.3" fill="#3c3c3c" text-anchor="middle">Yield (%)</text>
<text x="298.5" y="364.2" style="font-family:'Liberation Serif',serif;font-weight:bold;font-size:23.5px" fill="#000">B)</text></g>
<g id="pC"><path d="M61.5,829.9L183.6,789.1L305.6,829.9M60.0,798.6L183.6,760.7L307.1,798.6M58.5,767.2L183.6,732.3L308.6,767.2M57.0,735.9L183.6,703.8L310.1,735.9M55.5,704.5L183.6,675.4L311.6,704.5M61.5,829.9L55.5,704.5M92.0,819.7L87.5,697.2M122.5,809.5L119.5,690.0M153.0,799.3L151.5,682.7M183.6,789.1L183.6,675.4M305.6,829.9L311.6,704.5M281.2,821.8L286.0,698.7M256.8,813.6L260.4,692.9M232.4,805.4L234.8,687.0M208.0,797.3L209.2,681.2M183.6,789.1L183.6,675.4M63.4,869.1L55.5,704.5M303.7,869.1L311.6,704.5M183.6,824.6L183.6,675.4" fill="none" stroke="#262626" stroke-width="1.00"/>
<path d="M63.4,869.1L183.6,926.5L303.7,869.1L183.6,824.6Z" fill="#626262" stroke="#222" stroke-width="0.8"/>
<path d="M214.9,836.2L212.2,836.3L212.0,836.3L209.2,836.4L209.0,836.4L206.3,836.5L205.8,836.5L203.5,836.6L202.5,836.7L200.8,836.7L199.3,836.8L198.0,836.8L195.9,836.9L195.3,837.0L192.6,837.1L192.6,837.1L189.9,837.2L189.2,837.3L187.2,837.4L185.7,837.4L184.5,837.5L182.2,837.6L181.9,837.6L179.3,837.8L178.7,837.8L176.7,837.9L175.1,838.0L174.1,838.1L171.6,838.3L171.4,838.3L169.1,838.4L167.7,838.5L166.5,838.6L164.1,838.8L164.0,838.8L161.6,839.0L160.2,839.1L159.1,839.1L156.7,839.3L156.3,839.4L154.2,839.5L152.3,839.7L151.8,839.7L149.4,839.9L148.3,840.0L147.1,840.1L144.7,840.3L144.1,840.4L142.4,840.6L140.0,840.8L139.9,840.8" fill="none" stroke="#a6dc20" stroke-width="1.8" stroke-linecap="butt"/>
<path d="M236.3,844.2L235.9,844.2L233.2,844.2L233.0,844.2L230.2,844.3L230.0,844.3L227.2,844.3L227.1,844.3L224.2,844.4L224.0,844.4L221.2,844.4L221.0,844.4L218.3,844.5L217.9,844.5L215.4,844.6L214.8,844.6L212.5,844.7L211.6,844.7L209.7,844.8L208.4,844.9L206.9,844.9L205.1,845.0L204.1,845.0L201.9,845.1L201.3,845.1L198.6,845.3L198.5,845.3L195.9,845.4L195.1,845.4L193.2,845.5L191.7,845.6L190.6,845.7L188.2,845.8L187.9,845.8L185.3,846.0L184.7,846.0L182.7,846.2L181.1,846.3L180.2,846.3L177.6,846.5L177.4,846.5L175.1,846.7L173.7,846.8L172.6,846.9L170.1,847.1L169.9,847.1L167.6,847.3L166.1,847.4L165.2,847.5L162.8,847.7L162.1,847.7L160.4,847.9L158.1,848.1L158.0,848.1L155.6,848.3L153.9,848.5L153.3,848.6L151.0,848.8L149.7,849.0L148.7,849.1L146.4,849.3L145.3,849.4L144.1,849.6L141.8,849.8L140.8,849.9L139.6,850.1L137.4,850.4L136.1,850.5L135.2,850.6L133.0,850.9L131.3,851.1L130.9,851.2L128.7,851.5L126.6,851.8L126.2,851.8L124.5,852.1L122.4,852.4L120.9,852.6L120.3,852.7L118.2,853.1L116.2,853.4L115.3,853.5L114.2,853.7L112.2,854.1L110.2,854.4L109.2,854.6L108.2,854.8L106.3,855.1L104.3,855.5L102.6,855.8L102.4,855.9L100.5,856.2L98.6,856.6L96.7,857.0L95.2,857.3" fill="none" stroke="#62d826" stroke-width="1.8" stroke-linecap="butt"/>
<path d="M266.4,855.3L266.0,855.3L263.4,855.2L262.8,855.2L260.8,855.1L259.2,855.1L258.2,855.0L255.7,855.0L255.6,855.0L252.9,854.9L252.2,854.9L250.2,854.9L248.9,854.9L247.5,854.8L245.6,854.8L244.8,854.8L242.3,854.8L242.0,854.8L239.2,854.8L239.1,854.8L236.3,854.8L235.9,854.8L233.4,854.8L232.8,854.8L230.5,854.9L229.7,854.9L227.5,854.9L226.7,854.9L224.5,855.0L223.7,855.0L221.5,855.1L220.8,855.1L218.4,855.1L217.8,855.2L215.2,855.2L215.0,855.3L212.1,855.4L212.0,855.4L209.3,855.5L208.8,855.5L206.6,855.6L205.5,855.6L203.8,855.7L202.2,855.8L201.1,855.9L198.8,856.0L198.4,856.0L195.8,856.2L195.3,856.2L193.1,856.3L191.8,856.4L190.6,856.5L188.2,856.7L188.0,856.7L185.4,856.9L184.5,857.0L182.9,857.1L180.7,857.3L180.4,857.3L178.0,857.5L176.8,857.6L175.5,857.7L173.1,858.0L172.9,858.0L170.7,858.2L168.8,858.4L168.4,858.5L166.0,858.7L164.6,858.9L163.7,859.0L161.4,859.2L160.3,859.4L159.1,859.5L156.9,859.8L155.7,860.0L154.7,860.1L152.5,860.4L151.0,860.6L150.3,860.7L148.1,861.0L146.1,861.3L146.0,861.3L143.9,861.7L141.8,862.0L140.8,862.2L139.7,862.3L137.6,862.7L135.6,863.1L135.2,863.1L133.6,863.4L131.6,863.8L129.6,864.2L129.0,864.3L127.7,864.6L125.7,865.0L123.8,865.4L122.1,865.8L122.0,865.8L120.1,866.2L118.2,866.7L116.4,867.1L114.6,867.5L113.6,867.8L112.8,868.0L111.1,868.5L109.4,868.9L107.7,869.4L106.0,869.9L104.3,870.4L102.7,871.0L101.0,871.5L99.6,872.0L99.4,872.0L97.9,872.6L96.3,873.1L94.8,873.7L93.3,874.3L91.8,874.9L90.4,875.5L89.4,875.9L89.0,876.1L87.6,876.7L86.2,877.4L84.9,878.1L83.6,878.7" fill="none" stroke="#22d6c4" stroke-width="1.8" stroke-linecap="butt"/>
<path d="M294.5,873.5L292.5,873.2L290.6,872.8L289.0,872.5L288.6,872.5L286.6,872.1L284.5,871.8L283.3,871.7L282.4,871.5L280.3,871.2L278.2,871.0L278.2,871.0L276.0,870.7L273.8,870.5L273.5,870.4L271.5,870.2L269.2,870.0L269.0,870.0L266.9,869.8L264.8,869.7L264.6,869.6L262.2,869.5L260.8,869.4L259.8,869.3L257.3,869.1L256.9,869.1L254.8,869.0L253.2,868.9L252.3,868.9L249.7,868.8L249.5,868.8L247.1,868.7L246.0,868.7L244.4,868.6L242.6,868.6L241.7,868.6L239.2,868.5L239.0,868.5L236.2,868.5L236.0,868.5L233.4,868.5L232.8,868.5L230.5,868.5L229.7,868.5L227.6,868.5L226.6,868.6L224.6,868.6L223.6,868.6L221.5,868.7L220.7,868.7L218.4,868.8L217.8,868.8L215.3,868.9L214.9,868.9L212.1,869.0L212.0,869.0L209.4,869.2L208.7,869.2L206.7,869.3L205.3,869.4L204.0,869.5L201.8,869.6L201.4,869.7L198.8,869.9L198.2,869.9L196.3,870.1L194.5,870.2L193.8,870.3L191.3,870.5L190.7,870.6L188.9,870.8L186.7,871.0L186.5,871.0L184.1,871.3L182.6,871.5L181.8,871.6L179.5,871.9L178.2,872.0L177.2,872.2L174.9,872.5L173.7,872.7L172.7,872.8L170.6,873.2L168.8,873.5L168.4,873.5L166.3,873.9L164.2,874.3L163.5,874.4L162.2,874.6L160.1,875.0L158.1,875.4L157.6,875.6L156.2,875.9L154.2,876.3L152.3,876.7L150.7,877.1L150.5,877.2L148.6,877.7L146.8,878.2L145.0,878.7L143.3,879.2L141.5,879.7L141.2,879.8L139.9,880.2L138.2,880.8L136.6,881.3L135.0,881.9L133.4,882.5L131.9,883.1L130.4,883.7L129.0,884.4L127.5,885.0L126.2,885.7L124.8,886.4L123.8,887.0L123.5,887.1L122.3,887.9L121.1,888.6L119.9,889.4L118.8,890.2L118.3,890.6L117.7,891.0L116.7,891.9L115.7,892.8L115.4,893.1L114.8,893.7" fill="none" stroke="#2f96ea" stroke-width="1.8" stroke-linecap="butt"/>
<path d="M63.4,869.1L183.6,926.5L303.7,869.1L183.6,824.6Z" fill="none" stroke="#111" stroke-width="0.9"/>
<g stroke="#101010" stroke-width="0.45" stroke-linejoin="round"><path d="M183.6,728.7L188.6,725.4L183.6,721.5L178.5,724.8Z" fill="#ff4c4c"/><path d="M188.6,732.5L193.6,729.2L188.6,725.4L183.6,728.7Z" fill="#ff734b"/><path d="M193.6,736.2L198.6,732.9L193.6,729.2L188.6,732.5Z" fill="#ff994a"/><path d="M198.6,739.9L203.6,736.6L198.6,732.9L193.6,736.2Z" fill="#ffbe49"/><path d="M203.5,743.5L208.6,740.2L203.6,736.6L198.6,739.9Z" fill="#ffe249"/><path d="M208.5,747.0L213.5,743.7L208.6,740.2L203.5,743.5Z" fill="#faff48"/><path d="M213.5,750.5L218.5,747.1L213.5,743.7L208.5,747.0Z" fill="#d8ff47"/><path d="M218.4,753.9L223.5,750.5L218.5,747.1L213.5,750.5Z" fill="#b7ff46"/><path d="M223.4,757.2L228.4,753.8L223.5,750.5L218.4,753.9Z" fill="#98ff45"/><path d="M228.3,760.4L233.4,757.0L228.4,753.8L223.4,757.2Z" fill="#7aff44"/><path d="M233.3,763.5L238.3,760.2L233.4,757.0L228.3,760.4Z" fill="#5dff43"/><path d="M238.2,766.6L243.2,763.2L238.3,760.2L233.3,763.5Z" fill="#42ff43"/><path d="M243.2,769.6L248.2,766.2L243.2,763.2L238.2,766.6Z" fill="#41ff5c"/><path d="M248.1,772.5L253.1,769.1L248.2,766.2L243.2,769.6Z" fill="#40ff73"/><path d="M253.0,775.3L258.0,771.9L253.1,769.1L248.1,772.5Z" fill="#3fff89"/><path d="M257.9,778.1L262.9,774.7L258.0,771.9L253.0,775.3Z" fill="#3eff9e"/><path d="M262.9,780.7L267.9,777.4L262.9,774.7L257.9,778.1Z" fill="#3dffb2"/><path d="M267.8,783.3L272.8,779.9L267.9,777.4L262.9,780.7Z" fill="#3cffc4"/><path d="M272.7,785.8L277.7,782.4L272.8,779.9L267.8,783.3Z" fill="#3bffd5"/><path d="M277.6,788.2L282.6,784.8L277.7,782.4L272.7,785.8Z" fill="#3affe4"/><path d="M282.5,790.5L287.6,787.1L282.6,784.8L277.6,788.2Z" fill="#39fff2"/><path d="M287.5,792.7L292.5,789.4L287.6,787.1L282.5,790.5Z" fill="#38ffff"/><path d="M292.4,794.8L297.4,791.5L292.5,789.4L287.5,792.7Z" fill="#36f1ff"/><path d="M297.3,796.9L302.3,793.5L297.4,791.5L292.4,794.8Z" fill="#35e5ff"/><path d="M302.2,798.8L307.2,795.5L302.3,793.5L297.3,796.9Z" fill="#34daff"/><path d="M178.5,732.0L183.6,728.7L178.5,724.8L173.5,728.1Z" fill="#ff6a4b"/><path d="M183.6,735.8L188.6,732.5L183.6,728.7L178.5,732.0Z" fill="#ff914a"/><path d="M188.6,739.5L193.6,736.2L188.6,732.5L183.6,735.8Z" fill="#ffb749"/><path d="M193.5,743.2L198.6,739.9L193.6,736.2L188.6,739.5Z" fill="#ffdc48"/><path d="M198.5,746.8L203.5,743.5L198.6,739.9L193.5,743.2Z" fill="#ffff48"/><path d="M203.5,750.3L208.5,747.0L203.5,743.5L198.5,746.8Z" fill="#dcff47"/><path d="M208.5,753.8L213.5,750.5L208.5,747.0L203.5,750.3Z" fill="#baff46"/><path d="M213.4,757.1L218.4,753.9L213.5,750.5L208.5,753.8Z" fill="#9aff45"/><path d="M218.4,760.5L223.4,757.2L218.4,753.9L213.4,757.1Z" fill="#7bff44"/><path d="M223.3,763.7L228.3,760.4L223.4,757.2L218.4,760.5Z" fill="#5dff43"/><path d="M228.3,766.8L233.3,763.5L228.3,760.4L223.3,763.7Z" fill="#42ff44"/><path d="M233.2,769.9L238.2,766.6L233.3,763.5L228.3,766.8Z" fill="#41ff5e"/><path d="M238.2,772.9L243.2,769.6L238.2,766.6L233.2,769.9Z" fill="#40ff76"/><path d="M243.1,775.8L248.1,772.5L243.2,769.6L238.2,772.9Z" fill="#3fff8d"/><path d="M248.0,778.6L253.0,775.3L248.1,772.5L243.1,775.8Z" fill="#3effa3"/><path d="M252.9,781.4L257.9,778.1L253.0,775.3L248.0,778.6Z" fill="#3dffb8"/><path d="M257.9,784.0L262.9,780.7L257.9,778.1L252.9,781.4Z" fill="#3cffcb"/><path d="M262.8,786.6L267.8,783.3L262.9,780.7L257.9,784.0Z" fill="#3bffdd"/><path d="M267.7,789.1L272.7,785.8L267.8,783.3L262.8,786.6Z" fill="#3affee"/><path d="M272.6,791.5L277.6,788.2L272.7,785.8L267.7,789.1Z" fill="#39fffd"/><path d="M277.5,793.8L282.5,790.5L277.6,788.2L272.6,791.5Z" fill="#38f0ff"/><path d="M282.5,796.0L287.5,792.7L282.5,790.5L277.5,793.8Z" fill="#36e1ff"/><path d="M287.4,798.1L292.4,794.8L287.5,792.7L282.5,796.0Z" fill="#35d3ff"/><path d="M292.3,800.2L297.3,796.9L292.4,794.8L287.4,798.1Z" fill="#34c8ff"/><path d="M297.2,802.1L302.2,798.8L297.3,796.9L292.3,800.2Z" fill="#33beff"/><path d="M173.5,735.2L178.5,732.0L173.5,728.1L168.5,731.3Z" fill="#ff874a"/><path d="M178.5,739.0L183.6,735.8L178.5,732.0L173.5,735.2Z" fill="#ffae49"/><path d="M183.6,742.7L188.6,739.5L183.6,735.8L178.5,739.0Z" fill="#ffd448"/><path d="M188.5,746.4L193.5,743.2L188.6,739.5L183.6,742.7Z" fill="#fff848"/><path d="M193.5,750.0L198.5,746.8L193.5,743.2L188.5,746.4Z" fill="#e2ff47"/><path d="M198.5,753.5L203.5,750.3L198.5,746.8L193.5,750.0Z" fill="#c0ff46"/><path d="M203.5,757.0L208.5,753.8L203.5,750.3L198.5,753.5Z" fill="#9eff45"/><path d="M208.4,760.4L213.4,757.1L208.5,753.8L203.5,757.0Z" fill="#7eff44"/><path d="M213.4,763.7L218.4,760.5L213.4,757.1L208.4,760.4Z" fill="#5fff43"/><path d="M218.3,766.9L223.3,763.7L218.4,760.5L213.4,763.7Z" fill="#42ff43"/><path d="M223.3,770.0L228.3,766.8L223.3,763.7L218.3,766.9Z" fill="#41ff5e"/><path d="M228.2,773.1L233.2,769.9L228.3,766.8L223.3,770.0Z" fill="#40ff77"/><path d="M233.2,776.1L238.2,772.9L233.2,769.9L228.2,773.1Z" fill="#3fff8f"/><path d="M238.1,779.0L243.1,775.8L238.2,772.9L233.2,776.1Z" fill="#3effa6"/><path d="M243.0,781.8L248.0,778.6L243.1,775.8L238.1,779.0Z" fill="#3dffbc"/><path d="M247.9,784.6L252.9,781.4L248.0,778.6L243.0,781.8Z" fill="#3cffd0"/><path d="M252.9,787.2L257.9,784.0L252.9,781.4L247.9,784.6Z" fill="#3bffe3"/><path d="M257.8,789.8L262.8,786.6L257.9,784.0L252.9,787.2Z" fill="#3afff5"/><path d="M262.7,792.3L267.7,789.1L262.8,786.6L257.8,789.8Z" fill="#39f7ff"/><path d="M267.6,794.7L272.6,791.5L267.7,789.1L262.7,792.3Z" fill="#38e4ff"/><path d="M272.5,797.0L277.5,793.8L272.6,791.5L267.6,794.7Z" fill="#36d3ff"/><path d="M277.5,799.2L282.5,796.0L277.5,793.8L272.5,797.0Z" fill="#35c5ff"/><path d="M282.4,801.3L287.4,798.1L282.5,796.0L277.5,799.2Z" fill="#34b8ff"/><path d="M287.3,803.3L292.3,800.2L287.4,798.1L282.4,801.3Z" fill="#33aeff"/><path d="M292.2,805.3L297.2,802.1L292.3,800.2L287.3,803.3Z" fill="#32a5ff"/><path d="M168.5,738.3L173.5,735.2L168.5,731.3L163.5,734.4Z" fill="#ffa349"/><path d="M173.6,742.1L178.5,739.0L173.5,735.2L168.5,738.3Z" fill="#ffca48"/><path d="M178.6,745.8L183.6,742.7L178.5,739.0L173.6,742.1Z" fill="#fff048"/><path d="M183.5,749.5L188.5,746.4L183.6,742.7L178.6,745.8Z" fill="#eaff47"/><path d="M188.5,753.1L193.5,750.0L188.5,746.4L183.5,749.5Z" fill="#c6ff46"/><path d="M193.5,756.7L198.5,753.5L193.5,750.0L188.5,753.1Z" fill="#a4ff45"/><path d="M198.5,760.1L203.5,757.0L198.5,753.5L193.5,756.7Z" fill="#83ff44"/><path d="M203.4,763.5L208.4,760.4L203.5,757.0L198.5,760.1Z" fill="#63ff43"/><path d="M208.4,766.8L213.4,763.7L208.4,760.4L203.4,763.5Z" fill="#44ff42"/><path d="M213.4,770.0L218.3,766.9L213.4,763.7L208.4,766.8Z" fill="#41ff5c"/><path d="M218.3,773.2L223.3,770.0L218.3,766.9L213.4,770.0Z" fill="#40ff76"/><path d="M223.2,776.3L228.2,773.1L223.3,770.0L218.3,773.2Z" fill="#3fff8f"/><path d="M228.2,779.3L233.2,776.1L228.2,773.1L223.2,776.3Z" fill="#3effa7"/><path d="M233.1,782.2L238.1,779.0L233.2,776.1L228.2,779.3Z" fill="#3dffbe"/><path d="M238.0,785.0L243.0,781.8L238.1,779.0L233.1,782.2Z" fill="#3cffd4"/><path d="M243.0,787.7L247.9,784.6L243.0,781.8L238.0,785.0Z" fill="#3bffe8"/><path d="M247.9,790.4L252.9,787.2L247.9,784.6L243.0,787.7Z" fill="#3afffa"/><path d="M252.8,792.9L257.8,789.8L252.9,787.2L247.9,790.4Z" fill="#39efff"/><path d="M257.7,795.4L262.7,792.3L257.8,789.8L252.8,792.9Z" fill="#38dbff"/><path d="M262.6,797.8L267.6,794.7L262.7,792.3L257.7,795.4Z" fill="#36c9ff"/><path d="M267.6,800.1L272.5,797.0L267.6,794.7L262.6,797.8Z" fill="#35b9ff"/><path d="M272.5,802.3L277.5,799.2L272.5,797.0L267.6,800.1Z" fill="#34abff"/><path d="M277.4,804.4L282.4,801.3L277.5,799.2L272.5,802.3Z" fill="#33a0ff"/><path d="M282.3,806.4L287.3,803.3L282.4,801.3L277.4,804.4Z" fill="#3296ff"/><path d="M287.3,808.4L292.2,805.3L287.3,803.3L282.3,806.4Z" fill="#308eff"/><path d="M163.5,741.3L168.5,738.3L163.5,734.4L158.5,737.4Z" fill="#ffbe48"/><path d="M168.6,745.1L173.6,742.1L168.5,738.3L163.5,741.3Z" fill="#ffe548"/><path d="M173.6,748.9L178.6,745.8L173.6,742.1L168.6,745.1Z" fill="#f4ff47"/><path d="M178.6,752.6L183.5,749.5L178.6,745.8L173.6,748.9Z" fill="#cfff46"/><path d="M183.6,756.2L188.5,753.1L183.5,749.5L178.6,752.6Z" fill="#acff45"/><path d="M188.5,759.7L193.5,756.7L188.5,753.1L183.6,756.2Z" fill="#8aff44"/><path d="M193.5,763.2L198.5,760.1L193.5,756.7L188.5,759.7Z" fill="#69ff43"/><path d="M198.5,766.6L203.4,763.5L198.5,760.1L193.5,763.2Z" fill="#49ff42"/><path d="M203.4,769.9L208.4,766.8L203.4,763.5L198.5,766.6Z" fill="#41ff58"/><path d="M208.4,773.1L213.4,770.0L208.4,766.8L203.4,769.9Z" fill="#40ff73"/><path d="M213.3,776.3L218.3,773.2L213.4,770.0L208.4,773.1Z" fill="#3fff8e"/><path d="M218.3,779.3L223.2,776.3L218.3,773.2L213.3,776.3Z" fill="#3effa7"/><path d="M223.2,782.3L228.2,779.3L223.2,776.3L218.3,779.3Z" fill="#3dffbe"/><path d="M228.1,785.2L233.1,782.2L228.2,779.3L223.2,782.3Z" fill="#3cffd5"/><path d="M233.1,788.0L238.0,785.0L233.1,782.2L228.1,785.2Z" fill="#3bffea"/><path d="M238.0,790.8L243.0,787.7L238.0,785.0L233.1,788.0Z" fill="#3afffe"/><path d="M242.9,793.4L247.9,790.4L243.0,787.7L238.0,790.8Z" fill="#39e9ff"/><path d="M247.8,796.0L252.8,792.9L247.9,790.4L242.9,793.4Z" fill="#38d4ff"/><path d="M252.7,798.5L257.7,795.4L252.8,792.9L247.8,796.0Z" fill="#36c1ff"/><path d="M257.7,800.9L262.6,797.8L257.7,795.4L252.7,798.5Z" fill="#35b0ff"/><path d="M262.6,803.1L267.6,800.1L262.6,797.8L257.7,800.9Z" fill="#34a1ff"/><path d="M267.5,805.3L272.5,802.3L267.6,800.1L262.6,803.1Z" fill="#3395ff"/><path d="M272.4,807.5L277.4,804.4L272.5,802.3L267.5,805.3Z" fill="#328aff"/><path d="M277.3,809.5L282.3,806.4L277.4,804.4L272.4,807.5Z" fill="#3081ff"/><path d="M282.3,811.4L287.3,808.4L282.3,806.4L277.3,809.5Z" fill="#2f7aff"/><path d="M158.6,744.3L163.5,741.3L158.5,737.4L153.5,740.4Z" fill="#ffd848"/><path d="M163.6,748.1L168.6,745.1L163.5,741.3L158.6,744.3Z" fill="#ffff47"/><path d="M168.6,751.9L173.6,748.9L168.6,745.1L163.6,748.1Z" fill="#daff46"/><path d="M173.6,755.6L178.6,752.6L173.6,748.9L168.6,751.9Z" fill="#b6ff45"/><path d="M178.6,759.2L183.6,756.2L178.6,752.6L173.6,755.6Z" fill="#93ff44"/><path d="M183.5,762.7L188.5,759.7L183.6,756.2L178.6,759.2Z" fill="#71ff43"/><path d="M188.5,766.2L193.5,763.2L188.5,759.7L183.5,762.7Z" fill="#50ff42"/><path d="M193.5,769.6L198.5,766.6L193.5,763.2L188.5,766.2Z" fill="#41ff52"/><path d="M198.4,772.9L203.4,769.9L198.5,766.6L193.5,769.6Z" fill="#40ff6e"/><path d="M203.4,776.1L208.4,773.1L203.4,769.9L198.4,772.9Z" fill="#3fff8a"/><path d="M208.3,779.3L213.3,776.3L208.4,773.1L203.4,776.1Z" fill="#3effa4"/><path d="M213.3,782.3L218.3,779.3L213.3,776.3L208.3,779.3Z" fill="#3dffbc"/><path d="M218.2,785.3L223.2,782.3L218.3,779.3L213.3,782.3Z" fill="#3cffd4"/><path d="M223.2,788.2L228.1,785.2L223.2,782.3L218.2,785.3Z" fill="#3bffea"/><path d="M228.1,791.0L233.1,788.0L228.1,785.2L223.2,788.2Z" fill="#3affff"/><path d="M233.0,793.8L238.0,790.8L233.1,788.0L228.1,791.0Z" fill="#39e6ff"/><path d="M237.9,796.4L242.9,793.4L238.0,790.8L233.0,793.8Z" fill="#38d0ff"/><path d="M242.9,799.0L247.8,796.0L242.9,793.4L237.9,796.4Z" fill="#36bbff"/><path d="M247.8,801.4L252.7,798.5L247.8,796.0L242.9,799.0Z" fill="#35a9ff"/><path d="M252.7,803.8L257.7,800.9L252.7,798.5L247.8,801.4Z" fill="#349aff"/><path d="M257.6,806.1L262.6,803.1L257.7,800.9L252.7,803.8Z" fill="#338cff"/><path d="M262.5,808.3L267.5,805.3L262.6,803.1L257.6,806.1Z" fill="#3280ff"/><path d="M267.5,810.4L272.4,807.5L267.5,805.3L262.5,808.3Z" fill="#3076ff"/><path d="M272.4,812.4L277.3,809.5L272.4,807.5L267.5,810.4Z" fill="#2f6eff"/><path d="M277.3,814.3L282.3,811.4L277.3,809.5L272.4,812.4Z" fill="#2e68ff"/><path d="M153.6,747.2L158.6,744.3L153.5,740.4L148.6,743.3Z" fill="#fff147"/><path d="M158.6,751.0L163.6,748.1L158.6,744.3L153.6,747.2Z" fill="#e7ff46"/><path d="M163.6,754.8L168.6,751.9L163.6,748.1L158.6,751.0Z" fill="#c2ff45"/><path d="M168.6,758.5L173.6,755.6L168.6,751.9L163.6,754.8Z" fill="#9eff44"/><path d="M173.6,762.1L178.6,759.2L173.6,755.6L168.6,758.5Z" fill="#7bff43"/><path d="M178.6,765.6L183.5,762.7L178.6,759.2L173.6,762.1Z" fill="#59ff42"/><path d="M183.5,769.1L188.5,766.2L183.5,762.7L178.6,765.6Z" fill="#41ff4a"/><path d="M188.5,772.5L193.5,769.6L188.5,766.2L183.5,769.1Z" fill="#40ff67"/><path d="M193.5,775.8L198.4,772.9L193.5,769.6L188.5,772.5Z" fill="#3fff84"/><path d="M198.4,779.0L203.4,776.1L198.4,772.9L193.5,775.8Z" fill="#3eff9f"/><path d="M203.4,782.2L208.3,779.3L203.4,776.1L198.4,779.0Z" fill="#3dffb8"/><path d="M208.3,785.2L213.3,782.3L208.3,779.3L203.4,782.2Z" fill="#3cffd1"/><path d="M213.3,788.2L218.2,785.3L213.3,782.3L208.3,785.2Z" fill="#3bffe8"/><path d="M218.2,791.1L223.2,788.2L218.2,785.3L213.3,788.2Z" fill="#3afffe"/><path d="M223.1,793.9L228.1,791.0L223.2,788.2L218.2,791.1Z" fill="#39e6ff"/><path d="M228.0,796.7L233.0,793.8L228.1,791.0L223.1,793.9Z" fill="#38ceff"/><path d="M233.0,799.3L237.9,796.4L233.0,793.8L228.0,796.7Z" fill="#36b9ff"/><path d="M237.9,801.9L242.9,799.0L237.9,796.4L233.0,799.3Z" fill="#35a5ff"/><path d="M242.8,804.3L247.8,801.4L242.9,799.0L237.9,801.9Z" fill="#3495ff"/><path d="M247.7,806.7L252.7,803.8L247.8,801.4L242.8,804.3Z" fill="#3386ff"/><path d="M252.6,809.0L257.6,806.1L252.7,803.8L247.7,806.7Z" fill="#3279ff"/><path d="M257.6,811.2L262.5,808.3L257.6,806.1L252.6,809.0Z" fill="#306eff"/><path d="M262.5,813.3L267.5,810.4L262.5,808.3L257.6,811.2Z" fill="#2f65ff"/><path d="M267.4,815.3L272.4,812.4L267.5,810.4L262.5,813.3Z" fill="#2e5eff"/><path d="M272.3,817.2L277.3,814.3L272.4,812.4L267.4,815.3Z" fill="#2d58ff"/><path d="M148.6,750.0L153.6,747.2L148.6,743.3L143.6,746.1Z" fill="#f6ff46"/><path d="M153.6,753.9L158.6,751.0L153.6,747.2L148.6,750.0Z" fill="#d0ff45"/><path d="M158.6,757.6L163.6,754.8L158.6,751.0L153.6,753.9Z" fill="#abff44"/><path d="M163.6,761.3L168.6,758.5L163.6,754.8L158.6,757.6Z" fill="#87ff43"/><path d="M168.6,764.9L173.6,762.1L168.6,758.5L163.6,761.3Z" fill="#64ff42"/><path d="M173.6,768.5L178.6,765.6L173.6,762.1L168.6,764.9Z" fill="#42ff41"/><path d="M178.6,771.9L183.5,769.1L178.6,765.6L173.6,768.5Z" fill="#40ff5e"/><path d="M183.6,775.3L188.5,772.5L183.5,769.1L178.6,771.9Z" fill="#3fff7c"/><path d="M188.5,778.6L193.5,775.8L188.5,772.5L183.6,775.3Z" fill="#3eff98"/><path d="M193.5,781.9L198.4,779.0L193.5,775.8L188.5,778.6Z" fill="#3dffb2"/><path d="M198.4,785.0L203.4,782.2L198.4,779.0L193.5,781.9Z" fill="#3cffcc"/><path d="M203.4,788.1L208.3,785.2L203.4,782.2L198.4,785.0Z" fill="#3bffe4"/><path d="M208.3,791.1L213.3,788.2L208.3,785.2L203.4,788.1Z" fill="#3afffb"/><path d="M213.2,794.0L218.2,791.1L213.3,788.2L208.3,791.1Z" fill="#39e8ff"/><path d="M218.2,796.8L223.1,793.9L218.2,791.1L213.2,794.0Z" fill="#38cfff"/><path d="M223.1,799.5L228.0,796.7L223.1,793.9L218.2,796.8Z" fill="#36b8ff"/><path d="M228.0,802.1L233.0,799.3L228.0,796.7L223.1,799.5Z" fill="#35a4ff"/><path d="M232.9,804.7L237.9,801.9L233.0,799.3L228.0,802.1Z" fill="#3492ff"/><path d="M237.9,807.1L242.8,804.3L237.9,801.9L232.9,804.7Z" fill="#3382ff"/><path d="M242.8,809.5L247.7,806.7L242.8,804.3L237.9,807.1Z" fill="#3274ff"/><path d="M247.7,811.8L252.6,809.0L247.7,806.7L242.8,809.5Z" fill="#3069ff"/><path d="M252.6,813.9L257.6,811.2L252.6,809.0L247.7,811.8Z" fill="#2f5fff"/><path d="M257.5,816.0L262.5,813.3L257.6,811.2L252.6,813.9Z" fill="#2e57ff"/><path d="M262.5,818.0L267.4,815.3L262.5,813.3L257.5,816.0Z" fill="#2d50ff"/><path d="M267.4,819.9L272.3,817.2L267.4,815.3L262.5,818.0Z" fill="#2c4bff"/><path d="M143.6,752.8L148.6,750.0L143.6,746.1L138.6,748.9Z" fill="#dfff45"/><path d="M148.7,756.6L153.6,753.9L148.6,750.0L143.6,752.8Z" fill="#b9ff44"/><path d="M153.7,760.4L158.6,757.6L153.6,753.9L148.7,756.6Z" fill="#95ff43"/><path d="M158.7,764.1L163.6,761.3L158.6,757.6L153.7,760.4Z" fill="#71ff42"/><path d="M163.7,767.7L168.6,764.9L163.6,761.3L158.7,764.1Z" fill="#4eff41"/><path d="M168.6,771.2L173.6,768.5L168.6,764.9L163.7,767.7Z" fill="#40ff53"/><path d="M173.6,774.7L178.6,771.9L173.6,768.5L168.6,771.2Z" fill="#3fff72"/><path d="M178.6,778.1L183.6,775.3L178.6,771.9L173.6,774.7Z" fill="#3eff8f"/><path d="M183.5,781.4L188.5,778.6L183.6,775.3L178.6,778.1Z" fill="#3dffaa"/><path d="M188.5,784.6L193.5,781.9L188.5,778.6L183.5,781.4Z" fill="#3cffc5"/><path d="M193.5,787.8L198.4,785.0L193.5,781.9L188.5,784.6Z" fill="#3bffde"/><path d="M198.4,790.8L203.4,788.1L198.4,785.0L193.5,787.8Z" fill="#3afff6"/><path d="M203.3,793.8L208.3,791.1L203.4,788.1L198.4,790.8Z" fill="#39edff"/><path d="M208.3,796.7L213.2,794.0L208.3,791.1L203.3,793.8Z" fill="#38d2ff"/><path d="M213.2,799.5L218.2,796.8L213.2,794.0L208.3,796.7Z" fill="#36baff"/><path d="M218.1,802.2L223.1,799.5L218.2,796.8L213.2,799.5Z" fill="#35a5ff"/><path d="M223.1,804.9L228.0,802.1L223.1,799.5L218.1,802.2Z" fill="#3491ff"/><path d="M228.0,807.4L232.9,804.7L228.0,802.1L223.1,804.9Z" fill="#3381ff"/><path d="M232.9,809.8L237.9,807.1L232.9,804.7L228.0,807.4Z" fill="#3272ff"/><path d="M237.8,812.2L242.8,809.5L237.9,807.1L232.9,809.8Z" fill="#3065ff"/><path d="M242.7,814.5L247.7,811.8L242.8,809.5L237.8,812.2Z" fill="#2f5aff"/><path d="M247.7,816.6L252.6,813.9L247.7,811.8L242.7,814.5Z" fill="#2e51ff"/><path d="M252.6,818.7L257.5,816.0L252.6,813.9L247.7,816.6Z" fill="#2d4aff"/><path d="M257.5,820.7L262.5,818.0L257.5,816.0L252.6,818.7Z" fill="#2c44ff"/><path d="M262.4,822.6L267.4,819.9L262.5,818.0L257.5,820.7Z" fill="#2a40ff"/><path d="M138.7,755.5L143.6,752.8L138.6,748.9L133.6,751.5Z" fill="#caff44"/><path d="M143.7,759.3L148.7,756.6L143.6,752.8L138.7,755.5Z" fill="#a4ff43"/><path d="M148.7,763.1L153.7,760.4L148.7,756.6L143.7,759.3Z" fill="#80ff42"/><path d="M153.7,766.8L158.7,764.1L153.7,760.4L148.7,763.1Z" fill="#5cff41"/><path d="M158.7,770.4L163.7,767.7L158.7,764.1L153.7,766.8Z" fill="#40ff46"/><path d="M163.7,773.9L168.6,771.2L163.7,767.7L158.7,770.4Z" fill="#3fff66"/><path d="M168.7,777.4L173.6,774.7L168.6,771.2L163.7,773.9Z" fill="#3eff84"/><path d="M173.6,780.8L178.6,778.1L173.6,774.7L168.7,777.4Z" fill="#3dffa0"/><path d="M178.6,784.1L183.5,781.4L178.6,778.1L173.6,780.8Z" fill="#3cffbc"/><path d="M183.5,787.3L188.5,784.6L183.5,781.4L178.6,784.1Z" fill="#3bffd6"/><path d="M188.5,790.4L193.5,787.8L188.5,784.6L183.5,787.3Z" fill="#3affef"/><path d="M193.4,793.5L198.4,790.8L193.5,787.8L188.5,790.4Z" fill="#39f5ff"/><path d="M198.4,796.5L203.3,793.8L198.4,790.8L193.4,793.5Z" fill="#38d9ff"/><path d="M203.3,799.4L208.3,796.7L203.3,793.8L198.4,796.5Z" fill="#36bfff"/><path d="M208.3,802.2L213.2,799.5L208.3,796.7L203.3,799.4Z" fill="#35a8ff"/><path d="M213.2,804.9L218.1,802.2L213.2,799.5L208.3,802.2Z" fill="#3493ff"/><path d="M218.1,807.5L223.1,804.9L218.1,802.2L213.2,804.9Z" fill="#3381ff"/><path d="M223.0,810.0L228.0,807.4L223.1,804.9L218.1,807.5Z" fill="#3271ff"/><path d="M228.0,812.5L232.9,809.8L228.0,807.4L223.0,810.0Z" fill="#3064ff"/><path d="M232.9,814.8L237.8,812.2L232.9,809.8L228.0,812.5Z" fill="#2f58ff"/><path d="M237.8,817.1L242.7,814.5L237.8,812.2L232.9,814.8Z" fill="#2e4eff"/><path d="M242.7,819.2L247.7,816.6L242.7,814.5L237.8,817.1Z" fill="#2d46ff"/><path d="M247.6,821.3L252.6,818.7L247.7,816.6L242.7,819.2Z" fill="#2b3fff"/><path d="M252.6,823.3L257.5,820.7L252.6,818.7L247.6,821.3Z" fill="#2a3aff"/><path d="M257.5,825.1L262.4,822.6L257.5,820.7L252.6,823.3Z" fill="#2937ff"/><path d="M133.7,758.1L138.7,755.5L133.6,751.5L128.7,754.1Z" fill="#b6ff43"/><path d="M138.7,761.9L143.7,759.3L138.7,755.5L133.7,758.1Z" fill="#91ff42"/><path d="M143.7,765.7L148.7,763.1L143.7,759.3L138.7,761.9Z" fill="#6cff41"/><path d="M148.7,769.3L153.7,766.8L148.7,763.1L143.7,765.7Z" fill="#49ff40"/><path d="M153.7,773.0L158.7,770.4L153.7,766.8L148.7,769.3Z" fill="#3fff58"/><path d="M158.7,776.5L163.7,773.9L158.7,770.4L153.7,773.0Z" fill="#3eff77"/><path d="M163.7,780.0L168.7,777.4L163.7,773.9L158.7,776.5Z" fill="#3dff94"/><path d="M168.7,783.4L173.6,780.8L168.7,777.4L163.7,780.0Z" fill="#3cffb1"/><path d="M173.6,786.7L178.6,784.1L173.6,780.8L168.7,783.4Z" fill="#3bffcc"/><path d="M178.6,789.9L183.5,787.3L178.6,784.1L173.6,786.7Z" fill="#3affe6"/><path d="M183.5,793.0L188.5,790.4L183.5,787.3L178.6,789.9Z" fill="#39ffff"/><path d="M188.5,796.1L193.4,793.5L188.5,790.4L183.5,793.0Z" fill="#38e1ff"/><path d="M193.4,799.0L198.4,796.5L193.4,793.5L188.5,796.1Z" fill="#36c6ff"/><path d="M198.4,801.9L203.3,799.4L198.4,796.5L193.4,799.0Z" fill="#35aeff"/><path d="M203.3,804.7L208.3,802.2L203.3,799.4L198.4,801.9Z" fill="#3498ff"/><path d="M208.2,807.4L213.2,804.9L208.3,802.2L203.3,804.7Z" fill="#3384ff"/><path d="M213.2,810.1L218.1,807.5L213.2,804.9L208.2,807.4Z" fill="#3273ff"/><path d="M218.1,812.6L223.0,810.0L218.1,807.5L213.2,810.1Z" fill="#3064ff"/><path d="M223.0,815.0L228.0,812.5L223.0,810.0L218.1,812.6Z" fill="#2f57ff"/><path d="M227.9,817.4L232.9,814.8L228.0,812.5L223.0,815.0Z" fill="#2e4dff"/><path d="M232.9,819.6L237.8,817.1L232.9,814.8L227.9,817.4Z" fill="#2d44ff"/><path d="M237.8,821.8L242.7,819.2L237.8,817.1L232.9,819.6Z" fill="#2b3cff"/><path d="M242.7,823.8L247.6,821.3L242.7,819.2L237.8,821.8Z" fill="#2a37ff"/><path d="M247.6,825.8L252.6,823.3L247.6,821.3L242.7,823.8Z" fill="#2932ff"/><path d="M252.5,827.6L257.5,825.1L252.6,823.3L247.6,825.8Z" fill="#282fff"/><path d="M128.7,760.6L133.7,758.1L128.7,754.1L123.7,756.7Z" fill="#a3ff42"/><path d="M133.8,764.4L138.7,761.9L133.7,758.1L128.7,760.6Z" fill="#7eff41"/><path d="M138.8,768.2L143.7,765.7L138.7,761.9L133.8,764.4Z" fill="#5aff40"/><path d="M143.8,771.9L148.7,769.3L143.7,765.7L138.8,768.2Z" fill="#3fff48"/><path d="M148.8,775.5L153.7,773.0L148.7,769.3L143.8,771.9Z" fill="#3eff67"/><path d="M153.8,779.0L158.7,776.5L153.7,773.0L148.8,775.5Z" fill="#3dff86"/><path d="M158.8,782.5L163.7,780.0L158.7,776.5L153.8,779.0Z" fill="#3cffa4"/><path d="M163.7,785.9L168.7,783.4L163.7,780.0L158.8,782.5Z" fill="#3bffc0"/><path d="M168.7,789.2L173.6,786.7L168.7,783.4L163.7,785.9Z" fill="#3affdb"/><path d="M173.7,792.4L178.6,789.9L173.6,786.7L168.7,789.2Z" fill="#39fff5"/><path d="M178.6,795.5L183.5,793.0L178.6,789.9L173.7,792.4Z" fill="#38edff"/><path d="M183.6,798.6L188.5,796.1L183.5,793.0L178.6,795.5Z" fill="#36d0ff"/><path d="M188.5,801.5L193.4,799.0L188.5,796.1L183.6,798.6Z" fill="#35b6ff"/><path d="M193.4,804.4L198.4,801.9L193.4,799.0L188.5,801.5Z" fill="#349eff"/><path d="M198.4,807.2L203.3,804.7L198.4,801.9L193.4,804.4Z" fill="#3389ff"/><path d="M203.3,809.9L208.2,807.4L203.3,804.7L198.4,807.2Z" fill="#3277ff"/><path d="M208.2,812.5L213.2,810.1L208.2,807.4L203.3,809.9Z" fill="#3067ff"/><path d="M213.1,815.1L218.1,812.6L213.2,810.1L208.2,812.5Z" fill="#2f59ff"/><path d="M218.1,817.5L223.0,815.0L218.1,812.6L213.1,815.1Z" fill="#2e4dff"/><path d="M223.0,819.8L227.9,817.4L223.0,815.0L218.1,817.5Z" fill="#2d43ff"/><path d="M227.9,822.0L232.9,819.6L227.9,817.4L223.0,819.8Z" fill="#2b3bff"/><path d="M232.8,824.2L237.8,821.8L232.9,819.6L227.9,822.0Z" fill="#2a35ff"/><path d="M237.8,826.2L242.7,823.8L237.8,821.8L232.8,824.2Z" fill="#2930ff"/><path d="M242.7,828.2L247.6,825.8L242.7,823.8L237.8,826.2Z" fill="#282cff"/><path d="M247.6,830.0L252.5,827.6L247.6,825.8L242.7,828.2Z" fill="#262aff"/><path d="M123.8,763.0L128.7,760.6L123.7,756.7L118.7,759.1Z" fill="#92ff41"/><path d="M128.8,766.8L133.8,764.4L128.7,760.6L123.8,763.0Z" fill="#6dff40"/><path d="M133.8,770.6L138.8,768.2L133.8,764.4L128.8,766.8Z" fill="#49ff3f"/><path d="M138.8,774.3L143.8,771.9L138.8,768.2L133.8,770.6Z" fill="#3eff56"/><path d="M143.8,777.9L148.8,775.5L143.8,771.9L138.8,774.3Z" fill="#3dff76"/><path d="M148.8,781.5L153.8,779.0L148.8,775.5L143.8,777.9Z" fill="#3cff94"/><path d="M153.8,784.9L158.8,782.5L153.8,779.0L148.8,781.5Z" fill="#3bffb2"/><path d="M158.8,788.3L163.7,785.9L158.8,782.5L153.8,784.9Z" fill="#3affce"/><path d="M163.7,791.6L168.7,789.2L163.7,785.9L158.8,788.3Z" fill="#39ffe8"/><path d="M168.7,794.8L173.7,792.4L168.7,789.2L163.7,791.6Z" fill="#38fbff"/><path d="M173.7,797.9L178.6,795.5L173.7,792.4L168.7,794.8Z" fill="#36dcff"/><path d="M178.6,801.0L183.6,798.6L178.6,795.5L173.7,797.9Z" fill="#35c1ff"/><path d="M183.6,804.0L188.5,801.5L183.6,798.6L178.6,801.0Z" fill="#34a7ff"/><path d="M188.5,806.8L193.4,804.4L188.5,801.5L183.6,804.0Z" fill="#3391ff"/><path d="M193.4,809.6L198.4,807.2L193.4,804.4L188.5,806.8Z" fill="#327dff"/><path d="M198.4,812.3L203.3,809.9L198.4,807.2L193.4,809.6Z" fill="#306bff"/><path d="M203.3,814.9L208.2,812.5L203.3,809.9L198.4,812.3Z" fill="#2f5cff"/><path d="M208.2,817.4L213.1,815.1L208.2,812.5L203.3,814.9Z" fill="#2e4fff"/><path d="M213.1,819.8L218.1,817.5L213.1,815.1L208.2,817.4Z" fill="#2d44ff"/><path d="M218.1,822.2L223.0,819.8L218.1,817.5L213.1,819.8Z" fill="#2b3cff"/><path d="M223.0,824.4L227.9,822.0L223.0,819.8L218.1,822.2Z" fill="#2a34ff"/><path d="M227.9,826.5L232.8,824.2L227.9,822.0L223.0,824.4Z" fill="#292fff"/><path d="M232.8,828.6L237.8,826.2L232.8,824.2L227.9,826.5Z" fill="#282bff"/><path d="M237.7,830.5L242.7,828.2L237.8,826.2L232.8,828.6Z" fill="#2628ff"/><path d="M242.7,832.3L247.6,830.0L242.7,828.2L237.7,830.5Z" fill="#2526ff"/><path d="M118.8,765.4L123.8,763.0L118.7,759.1L113.8,761.5Z" fill="#82ff40"/><path d="M123.9,769.2L128.8,766.8L123.8,763.0L118.8,765.4Z" fill="#5dff3f"/><path d="M128.9,773.0L133.8,770.6L128.8,766.8L123.9,769.2Z" fill="#3eff43"/><path d="M133.9,776.7L138.8,774.3L133.8,770.6L128.9,773.0Z" fill="#3dff64"/><path d="M138.9,780.3L143.8,777.9L138.8,774.3L133.9,776.7Z" fill="#3cff83"/><path d="M143.9,783.8L148.8,781.5L143.8,777.9L138.9,780.3Z" fill="#3bffa1"/><path d="M148.9,787.3L153.8,784.9L148.8,781.5L143.9,783.8Z" fill="#3affbe"/><path d="M153.8,790.6L158.8,788.3L153.8,784.9L148.9,787.3Z" fill="#39ffda"/><path d="M158.8,793.9L163.7,791.6L158.8,788.3L153.8,790.6Z" fill="#38fff5"/><path d="M163.8,797.1L168.7,794.8L163.7,791.6L158.8,793.9Z" fill="#36ecff"/><path d="M168.7,800.3L173.7,797.9L168.7,794.8L163.8,797.1Z" fill="#35ceff"/><path d="M173.7,803.3L178.6,801.0L173.7,797.9L168.7,800.3Z" fill="#34b3ff"/><path d="M178.6,806.3L183.6,804.0L178.6,801.0L173.7,803.3Z" fill="#339bff"/><path d="M183.6,809.1L188.5,806.8L183.6,804.0L178.6,806.3Z" fill="#3285ff"/><path d="M188.5,811.9L193.4,809.6L188.5,806.8L183.6,809.1Z" fill="#3072ff"/><path d="M193.4,814.6L198.4,812.3L193.4,809.6L188.5,811.9Z" fill="#2f62ff"/><path d="M198.3,817.2L203.3,814.9L198.4,812.3L193.4,814.6Z" fill="#2e54ff"/><path d="M203.3,819.7L208.2,817.4L203.3,814.9L198.3,817.2Z" fill="#2d48ff"/><path d="M208.2,822.1L213.1,819.8L208.2,817.4L203.3,819.7Z" fill="#2b3eff"/><path d="M213.1,824.4L218.1,822.2L213.1,819.8L208.2,822.1Z" fill="#2a35ff"/><path d="M218.0,826.6L223.0,824.4L218.1,822.2L213.1,824.4Z" fill="#292fff"/><path d="M223.0,828.8L227.9,826.5L223.0,824.4L218.0,826.6Z" fill="#282aff"/><path d="M227.9,830.8L232.8,828.6L227.9,826.5L223.0,828.8Z" fill="#2627ff"/><path d="M232.8,832.7L237.7,830.5L232.8,828.6L227.9,830.8Z" fill="#2525ff"/><path d="M237.7,834.5L242.7,832.3L237.7,830.5L232.8,832.7Z" fill="#2424ff"/><path d="M113.9,767.6L118.8,765.4L113.8,761.5L108.8,763.7Z" fill="#73ff3f"/><path d="M118.9,771.5L123.9,769.2L118.8,765.4L113.9,767.6Z" fill="#4eff3e"/><path d="M123.9,775.2L128.9,773.0L123.9,769.2L118.9,771.5Z" fill="#3dff50"/><path d="M128.9,778.9L133.9,776.7L128.9,773.0L123.9,775.2Z" fill="#3cff70"/><path d="M133.9,782.5L138.9,780.3L133.9,776.7L128.9,778.9Z" fill="#3bff8f"/><path d="M138.9,786.1L143.9,783.8L138.9,780.3L133.9,782.5Z" fill="#3affad"/><path d="M143.9,789.5L148.9,787.3L143.9,783.8L138.9,786.1Z" fill="#39ffca"/><path d="M148.9,792.9L153.8,790.6L148.9,787.3L143.9,789.5Z" fill="#38ffe5"/><path d="M153.9,796.2L158.8,793.9L153.8,790.6L148.9,792.9Z" fill="#36feff"/><path d="M158.8,799.4L163.8,797.1L158.8,793.9L153.9,796.2Z" fill="#35dfff"/><path d="M163.8,802.5L168.7,800.3L163.8,797.1L158.8,799.4Z" fill="#34c2ff"/><path d="M168.7,805.6L173.7,803.3L168.7,800.3L163.8,802.5Z" fill="#33a8ff"/><path d="M173.7,808.5L178.6,806.3L173.7,803.3L168.7,805.6Z" fill="#3291ff"/><path d="M178.6,811.4L183.6,809.1L178.6,806.3L173.7,808.5Z" fill="#307cff"/><path d="M183.5,814.1L188.5,811.9L183.6,809.1L178.6,811.4Z" fill="#2f6aff"/><path d="M188.5,816.8L193.4,814.6L188.5,811.9L183.5,814.1Z" fill="#2e5aff"/><path d="M193.4,819.4L198.3,817.2L193.4,814.6L188.5,816.8Z" fill="#2d4cff"/><path d="M198.3,821.9L203.3,819.7L198.3,817.2L193.4,819.4Z" fill="#2b41ff"/><path d="M203.3,824.3L208.2,822.1L203.3,819.7L198.3,821.9Z" fill="#2a38ff"/><path d="M208.2,826.6L213.1,824.4L208.2,822.1L203.3,824.3Z" fill="#2931ff"/><path d="M213.1,828.8L218.0,826.6L213.1,824.4L208.2,826.6Z" fill="#282bff"/><path d="M218.0,830.9L223.0,828.8L218.0,826.6L213.1,828.8Z" fill="#2627ff"/><path d="M223.0,832.9L227.9,830.8L223.0,828.8L218.0,830.9Z" fill="#2525ff"/><path d="M227.9,834.8L232.8,832.7L227.9,830.8L223.0,832.9Z" fill="#2424ff"/><path d="M232.8,836.6L237.7,834.5L232.8,832.7L227.9,834.8Z" fill="#2323ff"/><path d="M108.9,769.8L113.9,767.6L108.8,763.7L103.9,765.9Z" fill="#65ff3e"/><path d="M114.0,773.7L118.9,771.5L113.9,767.6L108.9,769.8Z" fill="#41ff3d"/><path d="M119.0,777.4L123.9,775.2L118.9,771.5L114.0,773.7Z" fill="#3cff5b"/><path d="M124.0,781.1L128.9,778.9L123.9,775.2L119.0,777.4Z" fill="#3bff7b"/><path d="M129.0,784.7L133.9,782.5L128.9,778.9L124.0,781.1Z" fill="#3aff9a"/><path d="M134.0,788.3L138.9,786.1L133.9,782.5L129.0,784.7Z" fill="#39ffb7"/><path d="M139.0,791.7L143.9,789.5L138.9,786.1L134.0,788.3Z" fill="#38ffd4"/><path d="M143.9,795.1L148.9,792.9L143.9,789.5L139.0,791.7Z" fill="#36ffef"/><path d="M148.9,798.4L153.9,796.2L148.9,792.9L143.9,795.1Z" fill="#35f2ff"/><path d="M153.9,801.6L158.8,799.4L153.9,796.2L148.9,798.4Z" fill="#34d3ff"/><path d="M158.8,804.7L163.8,802.5L158.8,799.4L153.9,801.6Z" fill="#33b7ff"/><path d="M163.8,807.7L168.7,805.6L163.8,802.5L158.8,804.7Z" fill="#329eff"/><path d="M168.7,810.6L173.7,808.5L168.7,805.6L163.8,807.7Z" fill="#3088ff"/><path d="M173.7,813.5L178.6,811.4L173.7,808.5L168.7,810.6Z" fill="#2f74ff"/><path d="M178.6,816.3L183.5,814.1L178.6,811.4L173.7,813.5Z" fill="#2e63ff"/><path d="M183.5,818.9L188.5,816.8L183.5,814.1L178.6,816.3Z" fill="#2d54ff"/><path d="M188.5,821.5L193.4,819.4L188.5,816.8L183.5,818.9Z" fill="#2c47ff"/><path d="M193.4,824.0L198.3,821.9L193.4,819.4L188.5,821.5Z" fill="#2a3cff"/><path d="M198.3,826.4L203.3,824.3L198.3,821.9L193.4,824.0Z" fill="#2934ff"/><path d="M203.3,828.7L208.2,826.6L203.3,824.3L198.3,826.4Z" fill="#282dff"/><path d="M208.2,830.9L213.1,828.8L208.2,826.6L203.3,828.7Z" fill="#2628ff"/><path d="M213.1,833.0L218.0,830.9L213.1,828.8L208.2,830.9Z" fill="#2525ff"/><path d="M218.0,834.9L223.0,832.9L218.0,830.9L213.1,833.0Z" fill="#2424ff"/><path d="M223.0,836.8L227.9,834.8L223.0,832.9L218.0,834.9Z" fill="#2323ff"/><path d="M227.9,838.6L232.8,836.6L227.9,834.8L223.0,836.8Z" fill="#2121ff"/><path d="M104.0,771.9L108.9,769.8L103.9,765.9L98.9,768.0Z" fill="#59ff3d"/><path d="M109.0,775.8L114.0,773.7L108.9,769.8L104.0,771.9Z" fill="#3cff43"/><path d="M114.0,779.5L119.0,777.4L114.0,773.7L109.0,775.8Z" fill="#3bff64"/><path d="M119.0,783.2L124.0,781.1L119.0,777.4L114.0,779.5Z" fill="#3aff84"/><path d="M124.0,786.8L129.0,784.7L124.0,781.1L119.0,783.2Z" fill="#39ffa3"/><path d="M129.0,790.3L134.0,788.3L129.0,784.7L124.0,786.8Z" fill="#38ffc0"/><path d="M134.0,793.8L139.0,791.7L134.0,788.3L129.0,790.3Z" fill="#36ffdc"/><path d="M139.0,797.2L143.9,795.1L139.0,791.7L134.0,793.8Z" fill="#35fff7"/><path d="M144.0,800.4L148.9,798.4L143.9,795.1L139.0,797.2Z" fill="#34e8ff"/><path d="M148.9,803.6L153.9,801.6L148.9,798.4L144.0,800.4Z" fill="#33caff"/><path d="M153.9,806.7L158.8,804.7L153.9,801.6L148.9,803.6Z" fill="#32afff"/><path d="M158.9,809.8L163.8,807.7L158.8,804.7L153.9,806.7Z" fill="#3097ff"/><path d="M163.8,812.7L168.7,810.6L163.8,807.7L158.9,809.8Z" fill="#2f81ff"/><path d="M168.7,815.5L173.7,813.5L168.7,810.6L163.8,812.7Z" fill="#2e6eff"/><path d="M173.7,818.3L178.6,816.3L173.7,813.5L168.7,815.5Z" fill="#2d5dff"/><path d="M178.6,820.9L183.5,818.9L178.6,816.3L173.7,818.3Z" fill="#2c4fff"/><path d="M183.5,823.5L188.5,821.5L183.5,818.9L178.6,820.9Z" fill="#2a43ff"/><path d="M188.5,826.0L193.4,824.0L188.5,821.5L183.5,823.5Z" fill="#2939ff"/><path d="M193.4,828.4L198.3,826.4L193.4,824.0L188.5,826.0Z" fill="#2831ff"/><path d="M198.3,830.6L203.3,828.7L198.3,826.4L193.4,828.4Z" fill="#262bff"/><path d="M203.3,832.8L208.2,830.9L203.3,828.7L198.3,830.6Z" fill="#2526ff"/><path d="M208.2,834.9L213.1,833.0L208.2,830.9L203.3,832.8Z" fill="#2424ff"/><path d="M213.1,836.9L218.0,834.9L213.1,833.0L208.2,834.9Z" fill="#2323ff"/><path d="M218.0,838.8L223.0,836.8L218.0,834.9L213.1,836.9Z" fill="#2121ff"/><path d="M223.0,840.5L227.9,838.6L223.0,836.8L218.0,838.8Z" fill="#2020ff"/><path d="M99.0,774.0L104.0,771.9L98.9,768.0L94.0,770.1Z" fill="#4eff3c"/><path d="M104.0,777.8L109.0,775.8L104.0,771.9L99.0,774.0Z" fill="#3bff4c"/><path d="M109.1,781.5L114.0,779.5L109.0,775.8L104.0,777.8Z" fill="#3aff6d"/><path d="M114.1,785.2L119.0,783.2L114.0,779.5L109.1,781.5Z" fill="#39ff8c"/><path d="M119.1,788.8L124.0,786.8L119.0,783.2L114.1,785.2Z" fill="#38ffab"/><path d="M124.1,792.3L129.0,790.3L124.0,786.8L119.1,788.8Z" fill="#36ffc8"/><path d="M129.1,795.8L134.0,793.8L129.0,790.3L124.1,792.3Z" fill="#35ffe4"/><path d="M134.1,799.1L139.0,797.2L134.0,793.8L129.1,795.8Z" fill="#34fffe"/><path d="M139.0,802.4L144.0,800.4L139.0,797.2L134.1,799.1Z" fill="#33e0ff"/><path d="M144.0,805.6L148.9,803.6L144.0,800.4L139.0,802.4Z" fill="#32c3ff"/><path d="M149.0,808.7L153.9,806.7L148.9,803.6L144.0,805.6Z" fill="#30a8ff"/><path d="M153.9,811.7L158.9,809.8L153.9,806.7L149.0,808.7Z" fill="#2f91ff"/><path d="M158.9,814.6L163.8,812.7L158.9,809.8L153.9,811.7Z" fill="#2e7bff"/><path d="M163.8,817.5L168.7,815.5L163.8,812.7L158.9,814.6Z" fill="#2d69ff"/><path d="M168.8,820.2L173.7,818.3L168.7,815.5L163.8,817.5Z" fill="#2c59ff"/><path d="M173.7,822.9L178.6,820.9L173.7,818.3L168.8,820.2Z" fill="#2a4bff"/><path d="M178.6,825.4L183.5,823.5L178.6,820.9L173.7,822.9Z" fill="#2940ff"/><path d="M183.5,827.9L188.5,826.0L183.5,823.5L178.6,825.4Z" fill="#2836ff"/><path d="M188.5,830.3L193.4,828.4L188.5,826.0L183.5,827.9Z" fill="#262fff"/><path d="M193.4,832.5L198.3,830.6L193.4,828.4L188.5,830.3Z" fill="#2529ff"/><path d="M198.3,834.7L203.3,832.8L198.3,830.6L193.4,832.5Z" fill="#2425ff"/><path d="M203.3,836.8L208.2,834.9L203.3,832.8L198.3,834.7Z" fill="#2323ff"/><path d="M208.2,838.7L213.1,836.9L208.2,834.9L203.3,836.8Z" fill="#2121ff"/><path d="M213.1,840.6L218.0,838.8L213.1,836.9L208.2,838.7Z" fill="#2020ff"/><path d="M218.0,842.3L223.0,840.5L218.0,838.8L213.1,840.6Z" fill="#1f1fff"/><path d="M94.1,775.9L99.0,774.0L94.0,770.1L89.0,772.0Z" fill="#44ff3b"/><path d="M99.1,779.7L104.0,777.8L99.0,774.0L94.1,775.9Z" fill="#3aff53"/><path d="M104.1,783.5L109.1,781.5L104.0,777.8L99.1,779.7Z" fill="#39ff74"/><path d="M109.1,787.1L114.1,785.2L109.1,781.5L104.1,783.5Z" fill="#38ff93"/><path d="M114.1,790.7L119.1,788.8L114.1,785.2L109.1,787.1Z" fill="#36ffb1"/><path d="M119.1,794.3L124.1,792.3L119.1,788.8L114.1,790.7Z" fill="#35ffce"/><path d="M124.1,797.7L129.1,795.8L124.1,792.3L119.1,794.3Z" fill="#34ffe9"/><path d="M129.1,801.0L134.1,799.1L129.1,795.8L124.1,797.7Z" fill="#33f9ff"/><path d="M134.1,804.3L139.0,802.4L134.1,799.1L129.1,801.0Z" fill="#32daff"/><path d="M139.1,807.5L144.0,805.6L139.0,802.4L134.1,804.3Z" fill="#31bdff"/><path d="M144.0,810.6L149.0,808.7L144.0,805.6L139.1,807.5Z" fill="#2fa3ff"/><path d="M149.0,813.6L153.9,811.7L149.0,808.7L144.0,810.6Z" fill="#2e8cff"/><path d="M153.9,816.5L158.9,814.6L153.9,811.7L149.0,813.6Z" fill="#2d78ff"/><path d="M158.9,819.3L163.8,817.5L158.9,814.6L153.9,816.5Z" fill="#2c66ff"/><path d="M163.8,822.1L168.8,820.2L163.8,817.5L158.9,819.3Z" fill="#2a56ff"/><path d="M168.8,824.7L173.7,822.9L168.8,820.2L163.8,822.1Z" fill="#2949ff"/><path d="M173.7,827.3L178.6,825.4L173.7,822.9L168.8,824.7Z" fill="#283eff"/><path d="M178.6,829.7L183.5,827.9L178.6,825.4L173.7,827.3Z" fill="#2735ff"/><path d="M183.6,832.0L188.5,830.3L183.5,827.9L178.6,829.7Z" fill="#252eff"/><path d="M188.5,834.3L193.4,832.5L188.5,830.3L183.6,832.0Z" fill="#2428ff"/><path d="M193.4,836.5L198.3,834.7L193.4,832.5L188.5,834.3Z" fill="#2324ff"/><path d="M198.3,838.5L203.3,836.8L198.3,834.7L193.4,836.5Z" fill="#2122ff"/><path d="M203.3,840.4L208.2,838.7L203.3,836.8L198.3,838.5Z" fill="#2020ff"/><path d="M208.2,842.3L213.1,840.6L208.2,838.7L203.3,840.4Z" fill="#1f1fff"/><path d="M213.1,844.0L218.0,842.3L213.1,840.6L208.2,842.3Z" fill="#1e1eff"/><path d="M89.1,777.7L94.1,775.9L89.0,772.0L84.0,773.8Z" fill="#3cff3a"/><path d="M94.1,781.6L99.1,779.7L94.1,775.9L89.1,777.7Z" fill="#39ff59"/><path d="M99.2,785.3L104.1,783.5L99.1,779.7L94.1,781.6Z" fill="#38ff79"/><path d="M104.2,789.0L109.1,787.1L104.1,783.5L99.2,785.3Z" fill="#36ff98"/><path d="M109.2,792.6L114.1,790.7L109.1,787.1L104.2,789.0Z" fill="#35ffb6"/><path d="M114.2,796.1L119.1,794.3L114.1,790.7L109.2,792.6Z" fill="#34ffd2"/><path d="M119.2,799.5L124.1,797.7L119.1,794.3L114.2,796.1Z" fill="#33ffed"/><path d="M124.2,802.9L129.1,801.0L124.1,797.7L119.2,799.5Z" fill="#32f4ff"/><path d="M129.2,806.1L134.1,804.3L129.1,801.0L124.2,802.9Z" fill="#31d5ff"/><path d="M134.1,809.3L139.1,807.5L134.1,804.3L129.2,806.1Z" fill="#2fb9ff"/><path d="M139.1,812.4L144.0,810.6L139.1,807.5L134.1,809.3Z" fill="#2ea0ff"/><path d="M144.0,815.4L149.0,813.6L144.0,810.6L139.1,812.4Z" fill="#2d8aff"/><path d="M149.0,818.3L153.9,816.5L149.0,813.6L144.0,815.4Z" fill="#2c76ff"/><path d="M153.9,821.1L158.9,819.3L153.9,816.5L149.0,818.3Z" fill="#2a64ff"/><path d="M158.9,823.8L163.8,822.1L158.9,819.3L153.9,821.1Z" fill="#2955ff"/><path d="M163.8,826.4L168.8,824.7L163.8,822.1L158.9,823.8Z" fill="#2848ff"/><path d="M168.8,829.0L173.7,827.3L168.8,824.7L163.8,826.4Z" fill="#273eff"/><path d="M173.7,831.4L178.6,829.7L173.7,827.3L168.8,829.0Z" fill="#2535ff"/><path d="M178.6,833.7L183.6,832.0L178.6,829.7L173.7,831.4Z" fill="#242eff"/><path d="M183.6,836.0L188.5,834.3L183.6,832.0L178.6,833.7Z" fill="#2328ff"/><path d="M188.5,838.1L193.4,836.5L188.5,834.3L183.6,836.0Z" fill="#2124ff"/><path d="M193.4,840.1L198.3,838.5L193.4,836.5L188.5,838.1Z" fill="#2022ff"/><path d="M198.3,842.1L203.3,840.4L198.3,838.5L193.4,840.1Z" fill="#1f20ff"/><path d="M203.3,843.9L208.2,842.3L203.3,840.4L198.3,842.1Z" fill="#1e1fff"/><path d="M208.2,845.6L213.1,844.0L208.2,842.3L203.3,843.9Z" fill="#1c1eff"/><path d="M84.1,779.5L89.1,777.7L84.0,773.8L79.1,775.6Z" fill="#39ff3c"/><path d="M89.2,783.3L94.1,781.6L89.1,777.7L84.1,779.5Z" fill="#38ff5d"/><path d="M94.2,787.1L99.2,785.3L94.1,781.6L89.2,783.3Z" fill="#36ff7d"/><path d="M99.2,790.7L104.2,789.0L99.2,785.3L94.2,787.1Z" fill="#35ff9c"/><path d="M104.2,794.3L109.2,792.6L104.2,789.0L99.2,790.7Z" fill="#34ffb9"/><path d="M109.3,797.8L114.2,796.1L109.2,792.6L104.2,794.3Z" fill="#33ffd5"/><path d="M114.2,801.2L119.2,799.5L114.2,796.1L109.3,797.8Z" fill="#32fff0"/><path d="M119.2,804.6L124.2,802.9L119.2,799.5L114.2,801.2Z" fill="#31f1ff"/><path d="M124.2,807.8L129.2,806.1L124.2,802.9L119.2,804.6Z" fill="#2fd3ff"/><path d="M129.2,811.0L134.1,809.3L129.2,806.1L124.2,807.8Z" fill="#2eb8ff"/><path d="M134.1,814.1L139.1,812.4L134.1,809.3L129.2,811.0Z" fill="#2d9fff"/><path d="M139.1,817.0L144.0,815.4L139.1,812.4L134.1,814.1Z" fill="#2c89ff"/><path d="M144.1,819.9L149.0,818.3L144.0,815.4L139.1,817.0Z" fill="#2a75ff"/><path d="M149.0,822.7L153.9,821.1L149.0,818.3L144.1,819.9Z" fill="#2964ff"/><path d="M154.0,825.5L158.9,823.8L153.9,821.1L149.0,822.7Z" fill="#2855ff"/><path d="M158.9,828.1L163.8,826.4L158.9,823.8L154.0,825.5Z" fill="#2749ff"/><path d="M163.8,830.6L168.8,829.0L163.8,826.4L158.9,828.1Z" fill="#253eff"/><path d="M168.8,833.0L173.7,831.4L168.8,829.0L163.8,830.6Z" fill="#2436ff"/><path d="M173.7,835.3L178.6,833.7L173.7,831.4L168.8,833.0Z" fill="#232fff"/><path d="M178.6,837.6L183.6,836.0L178.6,833.7L173.7,835.3Z" fill="#212aff"/><path d="M183.5,839.7L188.5,838.1L183.6,836.0L178.6,837.6Z" fill="#2026ff"/><path d="M188.5,841.7L193.4,840.1L188.5,838.1L183.5,839.7Z" fill="#1f23ff"/><path d="M193.4,843.6L198.3,842.1L193.4,840.1L188.5,841.7Z" fill="#1e21ff"/><path d="M198.3,845.4L203.3,843.9L198.3,842.1L193.4,843.6Z" fill="#1c20ff"/><path d="M203.3,847.1L208.2,845.6L203.3,843.9L198.3,845.4Z" fill="#1b20ff"/><path d="M79.2,781.2L84.1,779.5L79.1,775.6L74.1,777.3Z" fill="#38ff3f"/><path d="M84.2,785.0L89.2,783.3L84.1,779.5L79.2,781.2Z" fill="#36ff60"/><path d="M89.3,788.7L94.2,787.1L89.2,783.3L84.2,785.0Z" fill="#35ff80"/><path d="M94.3,792.4L99.2,790.7L94.2,787.1L89.3,788.7Z" fill="#34ff9e"/><path d="M99.3,796.0L104.2,794.3L99.2,790.7L94.3,792.4Z" fill="#33ffbb"/><path d="M104.3,799.5L109.3,797.8L104.2,794.3L99.3,796.0Z" fill="#32ffd7"/><path d="M109.3,802.9L114.2,801.2L109.3,797.8L104.3,799.5Z" fill="#31fff1"/><path d="M114.3,806.2L119.2,804.6L114.2,801.2L109.3,802.9Z" fill="#2ff0ff"/><path d="M119.3,809.4L124.2,807.8L119.2,804.6L114.3,806.2Z" fill="#2ed3ff"/><path d="M124.2,812.6L129.2,811.0L124.2,807.8L119.3,809.4Z" fill="#2db8ff"/><path d="M129.2,815.7L134.1,814.1L129.2,811.0L124.2,812.6Z" fill="#2c9fff"/><path d="M134.2,818.6L139.1,817.0L134.1,814.1L129.2,815.7Z" fill="#2a8aff"/><path d="M139.1,821.5L144.1,819.9L139.1,817.0L134.2,818.6Z" fill="#2976ff"/><path d="M144.1,824.3L149.0,822.7L144.1,819.9L139.1,821.5Z" fill="#2866ff"/><path d="M149.0,827.0L154.0,825.5L149.0,822.7L144.1,824.3Z" fill="#2757ff"/><path d="M154.0,829.6L158.9,828.1L154.0,825.5L149.0,827.0Z" fill="#254bff"/><path d="M158.9,832.1L163.8,830.6L158.9,828.1L154.0,829.6Z" fill="#2441ff"/><path d="M163.8,834.5L168.8,833.0L163.8,830.6L158.9,832.1Z" fill="#2338ff"/><path d="M168.8,836.8L173.7,835.3L168.8,833.0L163.8,834.5Z" fill="#2132ff"/><path d="M173.7,839.0L178.6,837.6L173.7,835.3L168.8,836.8Z" fill="#202cff"/><path d="M178.6,841.1L183.5,839.7L178.6,837.6L173.7,839.0Z" fill="#1f28ff"/><path d="M183.6,843.1L188.5,841.7L183.5,839.7L178.6,841.1Z" fill="#1e26ff"/><path d="M188.5,845.0L193.4,843.6L188.5,841.7L183.6,843.1Z" fill="#1c24ff"/><path d="M193.4,846.8L198.3,845.4L193.4,843.6L188.5,845.0Z" fill="#1b24ff"/><path d="M198.3,848.5L203.3,847.1L198.3,845.4L193.4,846.8Z" fill="#1a25ff"/><path d="M74.2,782.7L79.2,781.2L74.1,777.3L69.1,778.9Z" fill="#37ff41"/><path d="M79.3,786.6L84.2,785.0L79.2,781.2L74.2,782.7Z" fill="#35ff61"/><path d="M84.3,790.3L89.3,788.7L84.2,785.0L79.3,786.6Z" fill="#34ff81"/><path d="M89.3,793.9L94.3,792.4L89.3,788.7L84.3,790.3Z" fill="#33ff9f"/><path d="M94.3,797.5L99.3,796.0L94.3,792.4L89.3,793.9Z" fill="#32ffbb"/><path d="M99.3,801.0L104.3,799.5L99.3,796.0L94.3,797.5Z" fill="#31ffd7"/><path d="M104.3,804.4L109.3,802.9L104.3,799.5L99.3,801.0Z" fill="#2ffff1"/><path d="M109.3,807.7L114.3,806.2L109.3,802.9L104.3,804.4Z" fill="#2ef1ff"/><path d="M114.3,811.0L119.3,809.4L114.3,806.2L109.3,807.7Z" fill="#2dd4ff"/><path d="M119.3,814.1L124.2,812.6L119.3,809.4L114.3,811.0Z" fill="#2cb9ff"/><path d="M124.3,817.2L129.2,815.7L124.2,812.6L119.3,814.1Z" fill="#2aa1ff"/><path d="M129.2,820.1L134.2,818.6L129.2,815.7L124.3,817.2Z" fill="#298cff"/><path d="M134.2,823.0L139.1,821.5L134.2,818.6L129.2,820.1Z" fill="#2879ff"/><path d="M139.1,825.8L144.1,824.3L139.1,821.5L134.2,823.0Z" fill="#2769ff"/><path d="M144.1,828.5L149.0,827.0L144.1,824.3L139.1,825.8Z" fill="#255bff"/><path d="M149.0,831.0L154.0,829.6L149.0,827.0L144.1,828.5Z" fill="#244fff"/><path d="M154.0,833.5L158.9,832.1L154.0,829.6L149.0,831.0Z" fill="#2345ff"/><path d="M158.9,835.9L163.8,834.5L158.9,832.1L154.0,833.5Z" fill="#223cff"/><path d="M163.8,838.2L168.8,836.8L163.8,834.5L158.9,835.9Z" fill="#2036ff"/><path d="M168.8,840.4L173.7,839.0L168.8,836.8L163.8,838.2Z" fill="#1f31ff"/><path d="M173.7,842.5L178.6,841.1L173.7,839.0L168.8,840.4Z" fill="#1e2dff"/><path d="M178.6,844.5L183.6,843.1L178.6,841.1L173.7,842.5Z" fill="#1c2aff"/><path d="M183.5,846.3L188.5,845.0L183.6,843.1L178.6,844.5Z" fill="#1b29ff"/><path d="M188.5,848.1L193.4,846.8L188.5,845.0L183.5,846.3Z" fill="#1a29ff"/><path d="M193.4,849.8L198.3,848.5L193.4,846.8L188.5,848.1Z" fill="#192bff"/><path d="M69.2,784.2L74.2,782.7L69.1,778.9L64.2,780.4Z" fill="#35ff41"/><path d="M74.3,788.0L79.3,786.6L74.2,782.7L69.2,784.2Z" fill="#34ff61"/><path d="M79.3,791.8L84.3,790.3L79.3,786.6L74.3,788.0Z" fill="#33ff80"/><path d="M84.4,795.4L89.3,793.9L84.3,790.3L79.3,791.8Z" fill="#32ff9e"/><path d="M89.4,799.0L94.3,797.5L89.3,793.9L84.4,795.4Z" fill="#31ffba"/><path d="M94.4,802.4L99.3,801.0L94.3,797.5L89.4,799.0Z" fill="#2fffd5"/><path d="M99.4,805.8L104.3,804.4L99.3,801.0L94.4,802.4Z" fill="#2effef"/><path d="M104.4,809.2L109.3,807.7L104.3,804.4L99.4,805.8Z" fill="#2df4ff"/><path d="M109.4,812.4L114.3,811.0L109.3,807.7L104.4,809.2Z" fill="#2cd7ff"/><path d="M114.3,815.5L119.3,814.1L114.3,811.0L109.4,812.4Z" fill="#2abdff"/><path d="M119.3,818.5L124.3,817.2L119.3,814.1L114.3,815.5Z" fill="#29a6ff"/><path d="M124.3,821.5L129.2,820.1L124.3,817.2L119.3,818.5Z" fill="#2891ff"/><path d="M129.2,824.4L134.2,823.0L129.2,820.1L124.3,821.5Z" fill="#277eff"/><path d="M134.2,827.1L139.1,825.8L134.2,823.0L129.2,824.4Z" fill="#256eff"/><path d="M139.1,829.8L144.1,828.5L139.1,825.8L134.2,827.1Z" fill="#2460ff"/><path d="M144.1,832.4L149.0,831.0L144.1,828.5L139.1,829.8Z" fill="#2354ff"/><path d="M149.0,834.8L154.0,833.5L149.0,831.0L144.1,832.4Z" fill="#224aff"/><path d="M154.0,837.2L158.9,835.9L154.0,833.5L149.0,834.8Z" fill="#2042ff"/><path d="M158.9,839.5L163.8,838.2L158.9,835.9L154.0,837.2Z" fill="#1f3bff"/><path d="M163.8,841.7L168.8,840.4L163.8,838.2L158.9,839.5Z" fill="#1e37ff"/><path d="M168.8,843.7L173.7,842.5L168.8,840.4L163.8,841.7Z" fill="#1c33ff"/><path d="M173.7,845.7L178.6,844.5L173.7,842.5L168.8,843.7Z" fill="#1b31ff"/><path d="M178.6,847.6L183.5,846.3L178.6,844.5L173.7,845.7Z" fill="#1a30ff"/><path d="M183.6,849.3L188.5,848.1L183.5,846.3L178.6,847.6Z" fill="#1931ff"/><path d="M188.5,850.9L193.4,849.8L188.5,848.1L183.6,849.3Z" fill="#1833ff"/><path d="M64.3,785.6L69.2,784.2L64.2,780.4L59.2,781.8Z" fill="#34ff40"/><path d="M69.3,789.4L74.3,788.0L69.2,784.2L64.3,785.6Z" fill="#33ff60"/><path d="M74.4,793.1L79.3,791.8L74.3,788.0L69.3,789.4Z" fill="#32ff7e"/><path d="M79.4,796.8L84.4,795.4L79.3,791.8L74.4,793.1Z" fill="#31ff9b"/><path d="M84.4,800.3L89.4,799.0L84.4,795.4L79.4,796.8Z" fill="#30ffb7"/><path d="M89.4,803.8L94.4,802.4L89.4,799.0L84.4,800.3Z" fill="#2effd2"/><path d="M94.4,807.2L99.4,805.8L94.4,802.4L89.4,803.8Z" fill="#2dffeb"/><path d="M99.4,810.5L104.4,809.2L99.4,805.8L94.4,807.2Z" fill="#2cfaff"/><path d="M104.4,813.7L109.4,812.4L104.4,809.2L99.4,810.5Z" fill="#2bddff"/><path d="M109.4,816.8L114.3,815.5L109.4,812.4L104.4,813.7Z" fill="#29c3ff"/><path d="M114.4,819.8L119.3,818.5L114.3,815.5L109.4,816.8Z" fill="#28acff"/><path d="M119.3,822.8L124.3,821.5L119.3,818.5L114.4,819.8Z" fill="#2797ff"/><path d="M124.3,825.6L129.2,824.4L124.3,821.5L119.3,822.8Z" fill="#2585ff"/><path d="M129.2,828.4L134.2,827.1L129.2,824.4L124.3,825.6Z" fill="#2475ff"/><path d="M134.2,831.0L139.1,829.8L134.2,827.1L129.2,828.4Z" fill="#2367ff"/><path d="M139.1,833.6L144.1,832.4L139.1,829.8L134.2,831.0Z" fill="#225bff"/><path d="M144.1,836.1L149.0,834.8L144.1,832.4L139.1,833.6Z" fill="#2051ff"/><path d="M149.0,838.4L154.0,837.2L149.0,834.8L144.1,836.1Z" fill="#1f49ff"/><path d="M154.0,840.7L158.9,839.5L154.0,837.2L149.0,838.4Z" fill="#1e43ff"/><path d="M158.9,842.8L163.8,841.7L158.9,839.5L154.0,840.7Z" fill="#1d3fff"/><path d="M163.8,844.9L168.8,843.7L163.8,841.7L158.9,842.8Z" fill="#1b3bff"/><path d="M168.8,846.8L173.7,845.7L168.8,843.7L163.8,844.9Z" fill="#1a3aff"/><path d="M173.7,848.7L178.6,847.6L173.7,845.7L168.8,846.8Z" fill="#193aff"/><path d="M178.6,850.4L183.6,849.3L178.6,847.6L173.7,848.7Z" fill="#183bff"/><path d="M183.6,852.0L188.5,850.9L183.6,849.3L178.6,850.4Z" fill="#163eff"/></g>
<circle cx="59.0" cy="778.7" r="2.5" fill="#c00606" stroke="#5a1010" stroke-width="0.7"/>
<circle cx="307.1" cy="798.1" r="2.5" fill="#fcc8c8" stroke="#8a5050" stroke-width="0.7"/>
<circle cx="183.6" cy="850.7" r="2.5" fill="#c00606" stroke="#5a1010" stroke-width="0.7"/>
<circle cx="183.5" cy="796.0" r="2.5" fill="#c00606" stroke="#5a1010" stroke-width="0.7"/>
<circle cx="183.6" cy="722.5" r="2.5" fill="#fcc8c8" stroke="#8a5050" stroke-width="0.7"/>
<circle cx="61.5" cy="829.9" r="1.3" fill="#111"/><circle cx="60.0" cy="798.6" r="1.3" fill="#111"/><circle cx="58.5" cy="767.2" r="1.3" fill="#111"/><circle cx="57.0" cy="735.9" r="1.3" fill="#111"/><circle cx="55.5" cy="704.5" r="1.3" fill="#111"/><circle cx="183.6" cy="926.5" r="1.3" fill="#111"/><circle cx="159.5" cy="915.0" r="1.3" fill="#111"/><circle cx="135.5" cy="903.6" r="1.3" fill="#111"/><circle cx="111.5" cy="892.1" r="1.3" fill="#111"/><circle cx="87.4" cy="880.6" r="1.3" fill="#111"/><circle cx="63.4" cy="869.1" r="1.3" fill="#111"/><circle cx="183.6" cy="926.5" r="1.3" fill="#111"/><circle cx="213.6" cy="912.2" r="1.3" fill="#111"/><circle cx="243.6" cy="897.8" r="1.3" fill="#111"/><circle cx="273.7" cy="883.5" r="1.3" fill="#111"/><circle cx="303.7" cy="869.1" r="1.3" fill="#111"/>
<g font-size="9.3" fill="#3c3c3c"><text x="57.0" y="828.2" text-anchor="end">0</text><text x="55.5" y="796.9" text-anchor="end">10</text><text x="54.0" y="765.5" text-anchor="end">20</text><text x="52.5" y="734.2" text-anchor="end">30</text><text x="51.0" y="702.8" text-anchor="end">40</text><text x="179.3" y="936.2" text-anchor="end">5</text><text x="155.2" y="924.7" text-anchor="end">8</text><text x="131.2" y="913.3" text-anchor="end">11</text><text x="107.2" y="901.8" text-anchor="end">14</text><text x="83.1" y="890.3" text-anchor="end">17</text><text x="59.1" y="878.8" text-anchor="end">20</text><text x="187.0" y="936.5" text-anchor="start">10</text><text x="217.1" y="922.2" text-anchor="start">15</text><text x="247.1" y="907.8" text-anchor="start">20</text><text x="277.2" y="893.4" text-anchor="start">25</text><text x="307.2" y="879.1" text-anchor="start">30</text></g>
<text x="78.1" y="922.8" font-size="8.4" fill="#3c3c3c" text-anchor="middle">C: Solid ratio (w/v)</text>
<text x="289.3" y="922.8" font-size="8.7" fill="#3c3c3c" text-anchor="middle">B: Time (min)</text>
<text transform="translate(18.9,788.6) rotate(-90)" font-size="8.3" fill="#3c3c3c" text-anchor="middle">Yield (%)</text>
<text x="304.0" y="688.6" style="font-family:'Liberation Serif',serif;font-weight:bold;font-size:24.7px" fill="#000">C)</text></g>
<g id="pD"><path d="M417.2,171.2L536.5,131.3L655.8,171.2M416.2,150.7L536.5,112.8L656.8,150.7M415.2,130.3L536.5,94.2L657.8,130.3M414.2,109.9L536.5,75.7L658.8,109.9M413.2,89.4L536.5,57.2L659.8,89.4M412.2,69.0L536.5,38.6L660.8,69.0M411.2,48.5L536.5,20.1L661.8,48.5M417.2,171.2L411.2,48.5M447.0,161.2L442.6,41.4M476.8,151.2L473.9,34.3M506.7,141.3L505.2,27.2M536.5,131.3L536.5,20.1M655.8,171.2L661.8,48.5M626.0,161.2L630.4,41.4M596.2,151.2L599.1,34.3M566.3,141.3L567.8,27.2M536.5,131.3L536.5,20.1M419.0,209.5L411.2,48.5M654.0,209.5L661.8,48.5M536.5,166.0L536.5,20.1" fill="none" stroke="#262626" stroke-width="1.00"/>
<path d="M419.0,209.5L536.5,265.7L654.0,209.5L536.5,166.0Z" fill="#626262" stroke="#222" stroke-width="0.8"/>
<path d="M534.9,166.6L534.4,167.4L533.9,168.1L533.8,168.3L533.2,169.2L532.9,169.6L532.5,170.0L531.9,170.9L531.6,171.1L531.1,171.7L530.4,172.5L530.1,172.8L529.6,173.3L528.8,174.1L528.3,174.6L528.0,174.9L527.1,175.7L526.1,176.5L525.9,176.6L525.1,177.2L524.1,177.9L523.1,178.7L522.4,179.1L521.9,179.4L520.8,180.0L519.6,180.7L518.3,181.3L517.0,182.0L515.6,182.6L514.2,183.1L512.7,183.7L511.2,184.2L509.6,184.7L508.0,185.2L506.3,185.7L504.5,186.1L502.8,186.5L502.7,186.5L500.8,186.9L498.9,187.3L496.9,187.6L496.7,187.7L494.9,188.0L492.8,188.2L491.8,188.4L490.6,188.5L488.4,188.7L487.4,188.8L486.1,189.0L483.8,189.2L483.3,189.2L481.4,189.3L479.5,189.4L479.0,189.5L476.6,189.6L475.9,189.6L474.0,189.7L472.4,189.7" fill="none" stroke="#2a40e0" stroke-width="1.8" stroke-linecap="butt"/>
<path d="M551.4,171.5L551.1,172.5L551.1,172.6L550.8,173.6L550.8,173.8L550.6,174.6L550.4,175.1L550.2,175.6L549.9,176.4L549.9,176.6L549.5,177.5L549.4,177.7L549.1,178.5L548.9,179.1L548.7,179.5L548.2,180.4L548.2,180.5L547.7,181.4L547.4,181.9L547.2,182.3L546.6,183.3L546.5,183.4L546.0,184.2L545.3,185.1L545.3,185.1L544.6,185.9L543.8,186.8L543.8,186.8L543.0,187.6L542.1,188.4L541.6,188.9L541.1,189.2L540.1,190.0L539.0,190.7L537.9,191.4L537.3,191.8L536.6,192.1L535.3,192.8L533.9,193.4L532.4,194.0L530.9,194.5L529.2,195.0L528.9,195.1L527.5,195.5L525.6,196.0L523.7,196.4L522.1,196.6L521.7,196.7L519.6,197.1L517.4,197.3L517.3,197.4L515.2,197.6L513.2,197.8L512.9,197.8L510.4,198.0L509.5,198.1L508.0,198.2L506.0,198.3L505.4,198.3L502.8,198.4L502.6,198.4L500.1,198.4L499.4,198.4L497.4,198.5L496.3,198.5L494.6,198.5L493.2,198.5L491.7,198.5L490.2,198.4L488.8,198.4L487.3,198.4L485.8,198.3L484.4,198.3L482.8,198.2L481.5,198.2L479.8,198.1L478.7,198.1L476.7,198.0L475.9,197.9L473.6,197.8L473.1,197.8L470.5,197.6L470.4,197.6L467.6,197.5L467.3,197.4L464.9,197.3L464.1,197.2L462.2,197.1L460.8,197.0L459.6,196.9L457.6,196.7L456.9,196.7L454.3,196.5L454.2,196.5" fill="none" stroke="#2f96ea" stroke-width="1.8" stroke-linecap="butt"/>
<path d="M598.7,235.9L599.4,235.4L600.5,234.5L601.7,233.7L602.9,232.9L604.3,232.2L605.8,231.5L607.3,230.8L609.0,230.2L610.7,229.6L612.6,229.0L613.7,228.8" fill="none" stroke="#2f96ea" stroke-width="1.8" stroke-linecap="butt"/>
<path d="M566.7,251.2L566.4,250.5L566.3,250.1L565.8,248.9L565.8,248.9L565.4,247.8L565.2,247.2L564.9,246.6L564.5,245.6L564.5,245.5L564.0,244.4L563.8,243.9L563.5,243.3L563.0,242.2L563.0,242.2L562.4,241.1L562.1,240.5L561.8,240.0L561.2,239.0L561.1,238.7L560.6,238.0L560.0,236.9L559.9,236.9L559.3,235.9L558.6,235.0L558.6,234.9L557.8,234.0L557.0,233.0L557.0,233.0L556.2,232.1L555.4,231.2L555.0,230.8L554.5,230.3L553.5,229.4L552.5,228.6L552.1,228.3L551.5,227.7L550.4,226.9L549.2,226.1L548.0,225.4L546.9,224.7L546.8,224.7L545.5,223.9L544.2,223.3L542.8,222.6L541.3,221.9L539.8,221.3L538.3,220.7L536.7,220.1L535.0,219.6L535.0,219.5L533.4,219.0L531.7,218.5L529.9,218.0L528.1,217.5L526.3,217.0L526.1,217.0L524.4,216.5L522.5,216.1L520.6,215.6L519.7,215.5L518.6,215.2L516.6,214.8L514.6,214.4L514.1,214.3L512.6,214.0L510.6,213.6L508.9,213.2L508.5,213.2L506.4,212.8L504.3,212.4L504.0,212.3L502.2,212.0L500.0,211.6L499.2,211.5L497.9,211.3L495.7,210.9L494.7,210.7L493.6,210.5L491.4,210.2L490.2,210.0L489.2,209.8L487.0,209.5L485.8,209.3L484.7,209.1L482.5,208.7L481.5,208.6L480.3,208.4L478.0,208.0L477.2,207.9L475.8,207.7L473.5,207.3L473.0,207.3L471.3,207.0L469.0,206.6L468.8,206.6L466.7,206.3L464.7,206.0L464.5,205.9L462.2,205.6L460.6,205.4L459.9,205.2L457.6,204.9L456.5,204.7L455.3,204.5L453.0,204.2L452.4,204.1L450.7,203.8L448.4,203.5L448.4,203.5L446.1,203.1L444.4,202.9L443.7,202.8L441.4,202.4L440.4,202.3L439.1,202.1M645.7,213.5L644.0,213.3L643.6,213.2L641.4,213.0L639.3,212.7L639.3,212.7L637.2,212.5L635.1,212.2L634.4,212.1L633.0,212.0L631.0,211.7L629.3,211.4L628.9,211.4L626.9,211.1L624.9,210.8L623.8,210.6L622.9,210.4L621.0,210.1L619.1,209.7L617.5,209.4L617.2,209.3L615.4,209.0L613.5,208.5L611.8,208.1L610.0,207.7L609.4,207.5L608.3,207.2L606.7,206.7L605.0,206.2L603.5,205.7L601.9,205.2L600.5,204.6L599.1,204.0L597.7,203.4L596.4,202.8L595.1,202.1L594.4,201.7L593.9,201.4L592.7,200.7L591.6,200.0L590.5,199.3L589.8,198.7L589.5,198.5L588.5,197.7L587.6,196.9L587.2,196.5L586.7,196.1L585.9,195.3L585.2,194.6L585.1,194.4L584.3,193.6L583.7,192.8L583.6,192.7L582.9,191.8L582.4,191.1L582.2,190.9L581.6,190.0L581.3,189.5L581.0,189.1L580.4,188.2L580.3,188.0L579.8,187.3L579.4,186.5L579.3,186.3L578.8,185.4L578.6,185.1L578.3,184.4L577.9,183.6L577.8,183.5L577.3,182.5L577.2,182.2L576.9,181.5L576.6,180.9" fill="none" stroke="#22d6c4" stroke-width="1.8" stroke-linecap="butt"/>
<path d="M550.7,258.9L550.3,258.2L550.0,257.8L549.4,256.8L549.0,256.3L548.7,255.7L548.0,254.7L547.7,254.3L547.2,253.6L546.5,252.6L546.1,252.2L545.7,251.6L544.9,250.6L544.4,250.0L544.1,249.6L543.3,248.7L542.5,247.8L542.4,247.7L541.5,246.8L540.6,245.8L540.2,245.4L539.7,244.9L538.8,244.0L537.8,243.1L537.5,242.8L536.8,242.2L535.8,241.4L534.7,240.5L534.0,239.9L533.7,239.7L532.6,238.8L531.5,238.0L530.3,237.2L529.1,236.4L529.0,236.3L527.9,235.6L526.7,234.8L525.4,234.1L524.1,233.3L522.8,232.6L521.5,231.9L520.1,231.2L518.7,230.5L517.3,229.8L515.8,229.2L514.3,228.5L512.8,227.8L511.3,227.2L509.8,226.6L508.2,226.0L506.6,225.4L504.9,224.8L503.3,224.2L501.6,223.6L499.9,223.0L499.1,222.8L498.2,222.5L496.4,221.9L494.7,221.4L492.9,220.9L491.1,220.3L490.5,220.2L489.3,219.8L487.4,219.3L485.6,218.8L483.7,218.3L483.4,218.2L481.8,217.8L479.9,217.3L478.0,216.8L477.1,216.6L476.0,216.3L474.1,215.8L472.1,215.4L471.2,215.2L470.1,214.9L468.1,214.4L466.1,214.0L465.7,213.9L464.1,213.5L462.1,213.1L460.4,212.7L460.0,212.6L458.0,212.2L455.9,211.7L455.3,211.6L453.8,211.3L451.7,210.8L450.3,210.5L449.6,210.4L447.5,210.0L445.5,209.5L445.4,209.5L443.3,209.1L441.2,208.7L440.7,208.6L439.0,208.2L436.9,207.8L436.0,207.6L434.7,207.4L432.6,206.9L431.4,206.7L430.4,206.5L428.3,206.1" fill="none" stroke="#26dc8c" stroke-width="1.8" stroke-linecap="butt"/>
<path d="M537.3,265.3L536.5,264.3L536.4,264.2L535.7,263.3L534.9,262.2L534.6,262.0L534.0,261.2L533.2,260.3L532.6,259.6L532.3,259.3L531.4,258.3L530.5,257.3L530.4,257.2L529.6,256.4L528.7,255.4L527.8,254.6L527.7,254.5L526.8,253.6L525.8,252.7L524.8,251.8L524.8,251.8L523.8,250.9L522.7,250.0L521.6,249.1L521.2,248.7L520.6,248.3L519.5,247.4L518.3,246.6L517.2,245.7L516.4,245.2L516.0,244.9L514.8,244.1L513.6,243.3L512.4,242.5L511.2,241.7L509.9,240.9L508.8,240.3L508.6,240.2L507.3,239.4L506.0,238.7L504.6,237.9L503.3,237.2L501.9,236.5L500.5,235.8L499.0,235.1L497.6,234.4L496.1,233.7L494.6,233.0L493.1,232.4L491.6,231.7L490.0,231.1L488.5,230.4L486.9,229.8L485.3,229.2L483.6,228.5L483.4,228.5L482.0,227.9L480.4,227.3L478.7,226.7L477.0,226.1L475.3,225.5L473.6,225.0L472.2,224.5L471.8,224.4L470.1,223.8L468.3,223.3L466.5,222.7L464.7,222.1L463.8,221.9L462.9,221.6L461.1,221.1L459.2,220.5L457.4,220.0L456.6,219.8L455.5,219.4L453.6,218.9L451.7,218.4L450.0,217.9L449.8,217.9L447.9,217.4L445.9,216.8L444.0,216.3L443.9,216.3L442.1,215.8L440.1,215.3L438.1,214.8L438.0,214.8L436.1,214.3L434.1,213.8L432.5,213.4L432.1,213.3L430.1,212.8L428.1,212.3L427.1,212.1L426.1,211.9L424.0,211.4L422.0,210.9L421.8,210.8" fill="none" stroke="#62d826" stroke-width="1.8" stroke-linecap="butt"/>
<path d="M419.0,209.5L536.5,265.7L654.0,209.5L536.5,166.0Z" fill="none" stroke="#111" stroke-width="0.9"/>
<path d="M536.5,165.5L536.5,150.1" stroke="#111" stroke-width="1.3" fill="none"/>
<circle cx="536.5" cy="165.5" r="2.5" fill="#fcc8c8" stroke="#8a5050" stroke-width="0.7"/>
<g stroke="#101010" stroke-width="0.45" stroke-linejoin="round"><path d="M536.5,119.9L541.3,116.2L536.5,117.9L531.7,121.5Z" fill="#0a2cf8"/><path d="M541.3,118.4L546.1,114.7L541.3,116.2L536.5,119.9Z" fill="#0c54fd"/><path d="M546.1,117.0L551.0,113.3L546.1,114.7L541.3,118.4Z" fill="#0f7aff"/><path d="M551.0,115.8L555.8,112.0L551.0,113.3L546.1,117.0Z" fill="#119dff"/><path d="M555.8,114.8L560.7,110.9L555.8,112.0L551.0,115.8Z" fill="#14bcff"/><path d="M560.7,113.9L565.5,110.0L560.7,110.9L555.8,114.8Z" fill="#16d9ff"/><path d="M565.5,113.2L570.4,109.3L565.5,110.0L560.7,113.9Z" fill="#19f3ff"/><path d="M570.4,112.7L575.3,108.7L570.4,109.3L565.5,113.2Z" fill="#1cfff3"/><path d="M575.3,112.4L580.2,108.3L575.3,108.7L570.4,112.7Z" fill="#1fffde"/><path d="M580.1,112.2L585.0,108.0L580.2,108.3L575.3,112.4Z" fill="#22ffcc"/><path d="M585.0,112.2L589.9,108.0L585.0,108.0L580.1,112.2Z" fill="#26ffbc"/><path d="M589.9,112.4L594.8,108.1L589.9,108.0L585.0,112.2Z" fill="#29ffaf"/><path d="M594.8,112.7L599.7,108.4L594.8,108.1L589.9,112.4Z" fill="#2cffa4"/><path d="M599.7,113.3L604.6,108.9L599.7,108.4L594.8,112.7Z" fill="#2fff9b"/><path d="M604.5,114.0L609.5,109.5L604.6,108.9L599.7,113.3Z" fill="#33ff95"/><path d="M609.4,114.9L614.4,110.4L609.5,109.5L604.5,114.0Z" fill="#36ff90"/><path d="M614.3,116.0L619.2,111.4L614.4,110.4L609.4,114.9Z" fill="#39ff8e"/><path d="M619.2,117.3L624.1,112.6L619.2,111.4L614.3,116.0Z" fill="#3dff8e"/><path d="M624.0,118.8L629.0,114.0L624.1,112.6L619.2,117.3Z" fill="#40ff8f"/><path d="M628.9,120.5L633.8,115.6L629.0,114.0L624.0,118.8Z" fill="#43ff92"/><path d="M633.7,122.3L638.7,117.4L633.8,115.6L628.9,120.5Z" fill="#46ff96"/><path d="M638.5,124.4L643.5,119.5L638.7,117.4L633.7,122.3Z" fill="#49ff9c"/><path d="M643.4,126.7L648.4,121.7L643.5,119.5L638.5,124.4Z" fill="#4cffa4"/><path d="M648.2,129.2L653.2,124.1L648.4,121.7L643.4,126.7Z" fill="#4fffad"/><path d="M653.0,131.9L658.0,126.7L653.2,124.1L648.2,129.2Z" fill="#52ffb7"/><path d="M531.7,123.2L536.5,119.9L531.7,121.5L526.9,124.8Z" fill="#0813f4"/><path d="M536.5,121.7L541.3,118.4L536.5,119.9L531.7,123.2Z" fill="#0a3af9"/><path d="M541.3,120.5L546.1,117.0L541.3,118.4L536.5,121.7Z" fill="#0d60fd"/><path d="M546.1,119.3L551.0,115.8L546.1,117.0L541.3,120.5Z" fill="#0f83ff"/><path d="M551.0,118.4L555.8,114.8L551.0,115.8L546.1,119.3Z" fill="#11a3ff"/><path d="M555.8,117.5L560.7,113.9L555.8,114.8L551.0,118.4Z" fill="#14c0ff"/><path d="M560.7,116.9L565.5,113.2L560.7,113.9L555.8,117.5Z" fill="#17daff"/><path d="M565.5,116.4L570.4,112.7L565.5,113.2L560.7,116.9Z" fill="#1af2ff"/><path d="M570.4,116.1L575.3,112.4L570.4,112.7L565.5,116.4Z" fill="#1dfff7"/><path d="M575.3,116.0L580.1,112.2L575.3,112.4L570.4,116.1Z" fill="#20ffe5"/><path d="M580.1,116.1L585.0,112.2L580.1,112.2L575.3,116.0Z" fill="#23ffd5"/><path d="M585.0,116.3L589.9,112.4L585.0,112.2L580.1,116.1Z" fill="#26ffc7"/><path d="M589.9,116.7L594.8,112.7L589.9,112.4L585.0,116.3Z" fill="#29ffbc"/><path d="M594.7,117.3L599.7,113.3L594.8,112.7L589.9,116.7Z" fill="#2dffb4"/><path d="M599.6,118.1L604.5,114.0L599.7,113.3L594.7,117.3Z" fill="#30ffad"/><path d="M604.5,119.1L609.4,114.9L604.5,114.0L599.6,118.1Z" fill="#33ffa9"/><path d="M609.3,120.3L614.3,116.0L609.4,114.9L604.5,119.1Z" fill="#37ffa6"/><path d="M614.2,121.6L619.2,117.3L614.3,116.0L609.3,120.3Z" fill="#3affa5"/><path d="M619.1,123.2L624.0,118.8L619.2,117.3L614.2,121.6Z" fill="#3dffa7"/><path d="M623.9,125.0L628.9,120.5L624.0,118.8L619.1,123.2Z" fill="#41ffaa"/><path d="M628.7,126.9L633.7,122.3L628.9,120.5L623.9,125.0Z" fill="#44ffae"/><path d="M633.6,129.1L638.5,124.4L633.7,122.3L628.7,126.9Z" fill="#47ffb4"/><path d="M638.4,131.4L643.4,126.7L638.5,124.4L633.6,129.1Z" fill="#4affbc"/><path d="M643.2,134.0L648.2,129.2L643.4,126.7L638.4,131.4Z" fill="#4dffc5"/><path d="M648.0,136.8L653.0,131.9L648.2,129.2L643.2,134.0Z" fill="#50ffcf"/><path d="M526.9,126.2L531.7,123.2L526.9,124.8L522.1,127.8Z" fill="#0606ef"/><path d="M531.7,124.8L536.5,121.7L531.7,123.2L526.9,126.2Z" fill="#0825f4"/><path d="M536.5,123.6L541.3,120.5L536.5,121.7L531.7,124.8Z" fill="#0a49f9"/><path d="M541.3,122.5L546.1,119.3L541.3,120.5L536.5,123.6Z" fill="#0d6dfd"/><path d="M546.1,121.6L551.0,118.4L546.1,119.3L541.3,122.5Z" fill="#0f8dff"/><path d="M551.0,120.8L555.8,117.5L551.0,118.4L546.1,121.6Z" fill="#12aaff"/><path d="M555.8,120.3L560.7,116.9L555.8,117.5L551.0,120.8Z" fill="#14c4ff"/><path d="M560.7,119.9L565.5,116.4L560.7,116.9L555.8,120.3Z" fill="#17dcff"/><path d="M565.5,119.6L570.4,116.1L565.5,116.4L560.7,119.9Z" fill="#1af1ff"/><path d="M570.4,119.6L575.3,116.0L570.4,116.1L565.5,119.6Z" fill="#1dfffa"/><path d="M575.2,119.7L580.1,116.1L575.3,116.0L570.4,119.6Z" fill="#20ffea"/><path d="M580.1,120.0L585.0,116.3L580.1,116.1L575.2,119.7Z" fill="#23ffdd"/><path d="M585.0,120.5L589.9,116.7L585.0,116.3L580.1,120.0Z" fill="#27ffd2"/><path d="M589.8,121.1L594.7,117.3L589.9,116.7L585.0,120.5Z" fill="#2affc9"/><path d="M594.7,122.0L599.6,118.1L594.7,117.3L589.8,121.1Z" fill="#2dffc2"/><path d="M599.6,123.0L604.5,119.1L599.6,118.1L594.7,122.0Z" fill="#31ffbe"/><path d="M604.4,124.3L609.3,120.3L604.5,119.1L599.6,123.0Z" fill="#34ffbb"/><path d="M609.3,125.7L614.2,121.6L609.3,120.3L604.4,124.3Z" fill="#37ffbb"/><path d="M614.1,127.3L619.1,123.2L614.2,121.6L609.3,125.7Z" fill="#3bffbc"/><path d="M619.0,129.1L623.9,125.0L619.1,123.2L614.1,127.3Z" fill="#3effbf"/><path d="M623.8,131.2L628.7,126.9L623.9,125.0L619.0,129.1Z" fill="#41ffc4"/><path d="M628.6,133.4L633.6,129.1L628.7,126.9L623.8,131.2Z" fill="#44ffca"/><path d="M633.4,135.8L638.4,131.4L633.6,129.1L628.6,133.4Z" fill="#47ffd1"/><path d="M638.2,138.5L643.2,134.0L638.4,131.4L633.4,135.8Z" fill="#4affda"/><path d="M643.0,141.3L648.0,136.8L643.2,134.0L638.2,138.5Z" fill="#4dffe5"/><path d="M522.1,129.0L526.9,126.2L522.1,127.8L517.3,130.5Z" fill="#0505ea"/><path d="M526.9,127.6L531.7,124.8L526.9,126.2L522.1,129.0Z" fill="#0613ef"/><path d="M531.7,126.4L536.5,123.6L531.7,124.8L526.9,127.6Z" fill="#0837f4"/><path d="M536.5,125.4L541.3,122.5L536.5,123.6L531.7,126.4Z" fill="#0a59f9"/><path d="M541.3,124.5L546.1,121.6L541.3,122.5L536.5,125.4Z" fill="#0d7afe"/><path d="M546.1,123.8L551.0,120.8L546.1,121.6L541.3,124.5Z" fill="#0f98ff"/><path d="M551.0,123.3L555.8,120.3L551.0,120.8L546.1,123.8Z" fill="#12b2ff"/><path d="M555.8,123.0L560.7,119.9L555.8,120.3L551.0,123.3Z" fill="#14c9ff"/><path d="M560.7,122.8L565.5,119.6L560.7,119.9L555.8,123.0Z" fill="#17deff"/><path d="M565.5,122.8L570.4,119.6L565.5,119.6L560.7,122.8Z" fill="#1af1ff"/><path d="M570.4,123.0L575.2,119.7L570.4,119.6L565.5,122.8Z" fill="#1dfffd"/><path d="M575.2,123.3L580.1,120.0L575.2,119.7L570.4,123.0Z" fill="#20fff0"/><path d="M580.1,123.9L585.0,120.5L580.1,120.0L575.2,123.3Z" fill="#24ffe5"/><path d="M585.0,124.6L589.8,121.1L585.0,120.5L580.1,123.9Z" fill="#27ffdc"/><path d="M589.8,125.5L594.7,122.0L589.8,121.1L585.0,124.6Z" fill="#2affd5"/><path d="M594.7,126.6L599.6,123.0L594.7,122.0L589.8,125.5Z" fill="#2effd1"/><path d="M599.5,127.9L604.4,124.3L599.6,123.0L594.7,126.6Z" fill="#31ffce"/><path d="M604.4,129.4L609.3,125.7L604.4,124.3L599.5,127.9Z" fill="#34ffce"/><path d="M609.2,131.1L614.1,127.3L609.3,125.7L604.4,129.4Z" fill="#38ffcf"/><path d="M614.1,133.0L619.0,129.1L614.1,127.3L609.2,131.1Z" fill="#3bffd2"/><path d="M618.9,135.1L623.8,131.2L619.0,129.1L614.1,133.0Z" fill="#3effd7"/><path d="M623.7,137.4L628.6,133.4L623.8,131.2L618.9,135.1Z" fill="#41ffdd"/><path d="M628.5,139.9L633.4,135.8L628.6,133.4L623.7,137.4Z" fill="#44ffe5"/><path d="M633.3,142.6L638.2,138.5L633.4,135.8L628.5,139.9Z" fill="#47ffee"/><path d="M638.1,145.6L643.0,141.3L638.2,138.5L633.3,142.6Z" fill="#4afff9"/><path d="M517.3,131.4L522.1,129.0L517.3,130.5L512.6,132.8Z" fill="#0303e4"/><path d="M522.1,130.1L526.9,127.6L522.1,129.0L517.3,131.4Z" fill="#0505e9"/><path d="M526.9,128.9L531.7,126.4L526.9,127.6L522.1,130.1Z" fill="#0628ee"/><path d="M531.7,128.0L536.5,125.4L531.7,126.4L526.9,128.9Z" fill="#0849f3"/><path d="M536.5,127.1L541.3,124.5L536.5,125.4L531.7,128.0Z" fill="#0a69f8"/><path d="M541.3,126.5L546.1,123.8L541.3,124.5L536.5,127.1Z" fill="#0d88fd"/><path d="M546.1,126.0L551.0,123.3L546.1,123.8L541.3,126.5Z" fill="#0fa3ff"/><path d="M551.0,125.7L555.8,123.0L551.0,123.3L546.1,126.0Z" fill="#12baff"/><path d="M555.8,125.6L560.7,122.8L555.8,123.0L551.0,125.7Z" fill="#15cfff"/><path d="M560.7,125.7L565.5,122.8L560.7,122.8L555.8,125.6Z" fill="#17e1ff"/><path d="M565.5,125.9L570.4,123.0L565.5,122.8L560.7,125.7Z" fill="#1af1ff"/><path d="M570.4,126.3L575.2,123.3L570.4,123.0L565.5,125.9Z" fill="#1dffff"/><path d="M575.2,126.9L580.1,123.9L575.2,123.3L570.4,126.3Z" fill="#21fff4"/><path d="M580.1,127.7L585.0,124.6L580.1,123.9L575.2,126.9Z" fill="#24ffeb"/><path d="M584.9,128.7L589.8,125.5L585.0,124.6L580.1,127.7Z" fill="#27ffe5"/><path d="M589.8,129.9L594.7,126.6L589.8,125.5L584.9,128.7Z" fill="#2bffe0"/><path d="M594.6,131.2L599.5,127.9L594.7,126.6L589.8,129.9Z" fill="#2effde"/><path d="M599.5,132.8L604.4,129.4L599.5,127.9L594.6,131.2Z" fill="#31ffde"/><path d="M604.3,134.6L609.2,131.1L604.4,129.4L599.5,132.8Z" fill="#34ffdf"/><path d="M609.2,136.5L614.1,133.0L609.2,131.1L604.3,134.6Z" fill="#38ffe2"/><path d="M614.0,138.7L618.9,135.1L614.1,133.0L609.2,136.5Z" fill="#3bffe7"/><path d="M618.8,141.1L623.7,137.4L618.9,135.1L614.0,138.7Z" fill="#3effee"/><path d="M623.6,143.7L628.5,139.9L623.7,137.4L618.8,141.1Z" fill="#41fff6"/><path d="M628.4,146.5L633.3,142.6L628.5,139.9L623.6,143.7Z" fill="#44ffff"/><path d="M633.2,149.5L638.1,145.6L633.3,142.6L628.4,146.5Z" fill="#47f4ff"/><path d="M512.5,133.5L517.3,131.4L512.6,132.8L507.8,134.9Z" fill="#0202df"/><path d="M517.3,132.2L522.1,130.1L517.3,131.4L512.5,133.5Z" fill="#0303e4"/><path d="M522.1,131.1L526.9,128.9L522.1,130.1L517.3,132.2Z" fill="#041de9"/><path d="M526.9,130.2L531.7,128.0L526.9,128.9L522.1,131.1Z" fill="#063dee"/><path d="M531.7,129.4L536.5,127.1L531.7,128.0L526.9,130.2Z" fill="#085cf3"/><path d="M536.5,128.9L541.3,126.5L536.5,127.1L531.7,129.4Z" fill="#0a7af8"/><path d="M541.3,128.4L546.1,126.0L541.3,126.5L536.5,128.9Z" fill="#0d96fd"/><path d="M546.2,128.2L551.0,125.7L546.1,126.0L541.3,128.4Z" fill="#0faeff"/><path d="M551.0,128.1L555.8,125.6L551.0,125.7L546.2,128.2Z" fill="#12c3ff"/><path d="M555.8,128.2L560.7,125.7L555.8,125.6L551.0,128.1Z" fill="#15d5ff"/><path d="M560.7,128.5L565.5,125.9L560.7,125.7L555.8,128.2Z" fill="#17e5ff"/><path d="M565.5,129.0L570.4,126.3L565.5,125.9L560.7,128.5Z" fill="#1af2ff"/><path d="M570.4,129.7L575.2,126.9L570.4,126.3L565.5,129.0Z" fill="#1efdff"/><path d="M575.2,130.5L580.1,127.7L575.2,126.9L570.4,129.7Z" fill="#21fff8"/><path d="M580.1,131.6L584.9,128.7L580.1,127.7L575.2,130.5Z" fill="#24fff2"/><path d="M584.9,132.8L589.8,129.9L584.9,128.7L580.1,131.6Z" fill="#27ffed"/><path d="M589.8,134.3L594.6,131.2L589.8,129.9L584.9,132.8Z" fill="#2bffeb"/><path d="M594.6,135.9L599.5,132.8L594.6,131.2L589.8,134.3Z" fill="#2effeb"/><path d="M599.4,137.7L604.3,134.6L599.5,132.8L594.6,135.9Z" fill="#31ffed"/><path d="M604.3,139.7L609.2,136.5L604.3,134.6L599.4,137.7Z" fill="#34fff0"/><path d="M609.1,142.0L614.0,138.7L609.2,136.5L604.3,139.7Z" fill="#38fff5"/><path d="M613.9,144.4L618.8,141.1L614.0,138.7L609.1,142.0Z" fill="#3bfffc"/><path d="M618.7,147.1L623.6,143.7L618.8,141.1L613.9,144.4Z" fill="#3efaff"/><path d="M623.5,150.0L628.4,146.5L623.6,143.7L618.7,147.1Z" fill="#41f0ff"/><path d="M628.3,153.0L633.2,149.5L628.4,146.5L623.5,150.0Z" fill="#44e5ff"/><path d="M507.7,135.2L512.5,133.5L507.8,134.9L503.0,136.6Z" fill="#0000d9"/><path d="M512.5,134.0L517.3,132.2L512.5,133.5L507.7,135.2Z" fill="#0101de"/><path d="M517.3,133.0L522.1,131.1L517.3,132.2L512.5,134.0Z" fill="#0316e3"/><path d="M522.1,132.1L526.9,130.2L522.1,131.1L517.3,133.0Z" fill="#0435e8"/><path d="M526.9,131.4L531.7,129.4L526.9,130.2L522.1,132.1Z" fill="#0653ee"/><path d="M531.7,130.9L536.5,128.9L531.7,129.4L526.9,131.4Z" fill="#0870f3"/><path d="M536.5,130.5L541.3,128.4L536.5,128.9L531.7,130.9Z" fill="#0a8bf8"/><path d="M541.3,130.3L546.2,128.2L541.3,128.4L536.5,130.5Z" fill="#0ca5fd"/><path d="M546.2,130.3L551.0,128.1L546.2,128.2L541.3,130.3Z" fill="#0fbbff"/><path d="M551.0,130.5L555.8,128.2L551.0,128.1L546.2,130.3Z" fill="#12cdff"/><path d="M555.8,130.8L560.7,128.5L555.8,128.2L551.0,130.5Z" fill="#14dcff"/><path d="M560.7,131.4L565.5,129.0L560.7,128.5L555.8,130.8Z" fill="#17e9ff"/><path d="M565.5,132.1L570.4,129.7L565.5,129.0L560.7,131.4Z" fill="#1af4ff"/><path d="M570.4,133.0L575.2,130.5L570.4,129.7L565.5,132.1Z" fill="#1dfcff"/><path d="M575.2,134.1L580.1,131.6L575.2,130.5L570.4,133.0Z" fill="#21fffb"/><path d="M580.1,135.4L584.9,132.8L580.1,131.6L575.2,134.1Z" fill="#24fff7"/><path d="M584.9,136.9L589.8,134.3L584.9,132.8L580.1,135.4Z" fill="#27fff5"/><path d="M589.7,138.6L594.6,135.9L589.8,134.3L584.9,136.9Z" fill="#2afff5"/><path d="M594.6,140.5L599.4,137.7L594.6,135.9L589.7,138.6Z" fill="#2efff7"/><path d="M599.4,142.6L604.3,139.7L599.4,137.7L594.6,140.5Z" fill="#31fffb"/><path d="M604.2,144.9L609.1,142.0L604.3,139.7L599.4,142.6Z" fill="#34fdff"/><path d="M609.0,147.4L613.9,144.4L609.1,142.0L604.2,144.9Z" fill="#37f6ff"/><path d="M613.8,150.2L618.7,147.1L613.9,144.4L609.0,147.4Z" fill="#3aeeff"/><path d="M618.6,153.1L623.5,150.0L618.7,147.1L613.8,150.2Z" fill="#3de3ff"/><path d="M623.4,156.3L628.3,153.0L623.5,150.0L618.6,153.1Z" fill="#40d8ff"/><path d="M503.0,136.7L507.7,135.2L503.0,136.6L498.2,138.0Z" fill="#000093"/><path d="M507.7,135.5L512.5,134.0L507.7,135.2L503.0,136.7Z" fill="#0000d9"/><path d="M512.5,134.6L517.3,133.0L512.5,134.0L507.7,135.5Z" fill="#0113de"/><path d="M517.3,133.7L522.1,132.1L517.3,133.0L512.5,134.6Z" fill="#0231e3"/><path d="M522.1,133.1L526.9,131.4L522.1,132.1L517.3,133.7Z" fill="#044ee8"/><path d="M526.9,132.6L531.7,130.9L526.9,131.4L522.1,133.1Z" fill="#0669ed"/><path d="M531.7,132.3L536.5,130.5L531.7,130.9L526.9,132.6Z" fill="#0884f2"/><path d="M536.5,132.1L541.3,130.3L536.5,130.5L531.7,132.3Z" fill="#0a9df7"/><path d="M541.3,132.2L546.2,130.3L541.3,130.3L536.5,132.1Z" fill="#0cb4fd"/><path d="M546.2,132.4L551.0,130.5L546.2,130.3L541.3,132.2Z" fill="#0fc7ff"/><path d="M551.0,132.8L555.8,130.8L551.0,130.5L546.2,132.4Z" fill="#11d7ff"/><path d="M555.8,133.4L560.7,131.4L555.8,130.8L551.0,132.8Z" fill="#14e4ff"/><path d="M560.7,134.2L565.5,132.1L560.7,131.4L555.8,133.4Z" fill="#17eeff"/><path d="M565.5,135.2L570.4,133.0L565.5,132.1L560.7,134.2Z" fill="#1af6ff"/><path d="M570.4,136.3L575.2,134.1L570.4,133.0L565.5,135.2Z" fill="#1dfcff"/><path d="M575.2,137.7L580.1,135.4L575.2,134.1L570.4,136.3Z" fill="#20fffe"/><path d="M580.1,139.2L584.9,136.9L580.1,135.4L575.2,137.7Z" fill="#23fffc"/><path d="M584.9,141.0L589.7,138.6L584.9,136.9L580.1,139.2Z" fill="#27fffd"/><path d="M589.7,143.0L594.6,140.5L589.7,138.6L584.9,141.0Z" fill="#2affff"/><path d="M594.6,145.1L599.4,142.6L594.6,140.5L589.7,143.0Z" fill="#2dfbff"/><path d="M599.4,147.5L604.2,144.9L599.4,142.6L594.6,145.1Z" fill="#30f5ff"/><path d="M604.2,150.1L609.0,147.4L604.2,144.9L599.4,147.5Z" fill="#33edff"/><path d="M609.0,152.9L613.8,150.2L609.0,147.4L604.2,150.1Z" fill="#36e4ff"/><path d="M613.8,155.9L618.6,153.1L613.8,150.2L609.0,152.9Z" fill="#3adaff"/><path d="M618.6,159.1L623.4,156.3L618.6,153.1L613.8,155.9Z" fill="#3cceff"/><path d="M498.2,137.8L503.0,136.7L498.2,138.0L493.4,139.1Z" fill="#010197"/><path d="M502.9,136.7L507.7,135.5L503.0,136.7L498.2,137.8Z" fill="#000094"/><path d="M507.7,135.8L512.5,134.6L507.7,135.5L502.9,136.7Z" fill="#0014d8"/><path d="M512.5,135.0L517.3,133.7L512.5,134.6L507.7,135.8Z" fill="#0131dd"/><path d="M517.2,134.4L522.1,133.1L517.3,133.7L512.5,135.0Z" fill="#024ce2"/><path d="M522.0,134.0L526.9,132.6L522.1,133.1L517.2,134.4Z" fill="#0467e7"/><path d="M526.9,133.7L531.7,132.3L526.9,132.6L522.0,134.0Z" fill="#0680ec"/><path d="M531.7,133.6L536.5,132.1L531.7,132.3L526.9,133.7Z" fill="#0898f2"/><path d="M536.5,133.7L541.3,132.2L536.5,132.1L531.7,133.6Z" fill="#0aaff7"/><path d="M541.3,134.0L546.2,132.4L541.3,132.2L536.5,133.7Z" fill="#0cc4fc"/><path d="M546.2,134.4L551.0,132.8L546.2,132.4L541.3,134.0Z" fill="#0fd5ff"/><path d="M551.0,135.1L555.8,133.4L551.0,132.8L546.2,134.4Z" fill="#11e2ff"/><path d="M555.8,135.9L560.7,134.2L555.8,133.4L551.0,135.1Z" fill="#14ecff"/><path d="M560.7,137.0L565.5,135.2L560.7,134.2L555.8,135.9Z" fill="#17f4ff"/><path d="M565.5,138.2L570.4,136.3L565.5,135.2L560.7,137.0Z" fill="#1af9ff"/><path d="M570.4,139.6L575.2,137.7L570.4,136.3L565.5,138.2Z" fill="#1dfcff"/><path d="M575.2,141.2L580.1,139.2L575.2,137.7L570.4,139.6Z" fill="#20feff"/><path d="M580.1,143.1L584.9,141.0L580.1,139.2L575.2,141.2Z" fill="#23fdff"/><path d="M584.9,145.1L589.7,143.0L584.9,141.0L580.1,143.1Z" fill="#26faff"/><path d="M589.7,147.3L594.6,145.1L589.7,143.0L584.9,145.1Z" fill="#29f6ff"/><path d="M594.5,149.8L599.4,147.5L594.6,145.1L589.7,147.3Z" fill="#2cefff"/><path d="M599.3,152.4L604.2,150.1L599.4,147.5L594.5,149.8Z" fill="#2fe7ff"/><path d="M604.1,155.3L609.0,152.9L604.2,150.1L599.3,152.4Z" fill="#33deff"/><path d="M608.9,158.4L613.8,155.9L609.0,152.9L604.1,155.3Z" fill="#36d3ff"/><path d="M613.7,161.7L618.6,159.1L613.8,155.9L608.9,158.4Z" fill="#38c6ff"/><path d="M493.3,138.6L498.2,137.8L493.4,139.1L488.6,139.9Z" fill="#01019b"/><path d="M498.1,137.6L502.9,136.7L498.2,137.8L493.3,138.6Z" fill="#010198"/><path d="M502.9,136.7L507.7,135.8L502.9,136.7L498.1,137.6Z" fill="#001294"/><path d="M507.6,135.9L512.5,135.0L507.7,135.8L502.9,136.7Z" fill="#0034d7"/><path d="M512.4,135.4L517.2,134.4L512.5,135.0L507.6,135.9Z" fill="#014edc"/><path d="M517.2,135.0L522.0,134.0L517.2,134.4L512.4,135.4Z" fill="#0268e1"/><path d="M522.0,134.8L526.9,133.7L522.0,134.0L517.2,135.0Z" fill="#0480e6"/><path d="M526.8,134.7L531.7,133.6L526.9,133.7L522.0,134.8Z" fill="#0598ec"/><path d="M531.7,134.9L536.5,133.7L531.7,133.6L526.8,134.7Z" fill="#07aef1"/><path d="M536.5,135.2L541.3,134.0L536.5,133.7L531.7,134.9Z" fill="#09c2f6"/><path d="M541.3,135.7L546.2,134.4L541.3,134.0L536.5,135.2Z" fill="#0cd4fb"/><path d="M546.2,136.4L551.0,135.1L546.2,134.4L541.3,135.7Z" fill="#0ee3ff"/><path d="M551.0,137.3L555.8,135.9L551.0,135.1L546.2,136.4Z" fill="#11edff"/><path d="M555.9,138.4L560.7,137.0L555.8,135.9L551.0,137.3Z" fill="#14f4ff"/><path d="M560.7,139.7L565.5,138.2L560.7,137.0L555.9,138.4Z" fill="#16faff"/><path d="M565.5,141.2L570.4,139.6L565.5,138.2L560.7,139.7Z" fill="#19fdff"/><path d="M570.4,142.9L575.2,141.2L570.4,139.6L565.5,141.2Z" fill="#1cfdff"/><path d="M575.2,144.7L580.1,143.1L575.2,141.2L570.4,142.9Z" fill="#1ffcff"/><path d="M580.0,146.8L584.9,145.1L580.1,143.1L575.2,144.7Z" fill="#22f9ff"/><path d="M584.9,149.1L589.7,147.3L584.9,145.1L580.0,146.8Z" fill="#25f4ff"/><path d="M589.7,151.6L594.5,149.8L589.7,147.3L584.9,149.1Z" fill="#28edff"/><path d="M594.5,154.4L599.3,152.4L594.5,149.8L589.7,151.6Z" fill="#2be5ff"/><path d="M599.3,157.3L604.1,155.3L599.3,152.4L594.5,154.4Z" fill="#2edaff"/><path d="M604.1,160.5L608.9,158.4L604.1,155.3L599.3,157.3Z" fill="#31cfff"/><path d="M608.9,163.8L613.7,161.7L608.9,158.4L604.1,160.5Z" fill="#34c1ff"/><path d="M488.5,139.1L493.3,138.6L488.6,139.9L483.8,140.3Z" fill="#02029f"/><path d="M493.3,138.1L498.1,137.6L493.3,138.6L488.5,139.1Z" fill="#01079c"/><path d="M498.0,137.2L502.9,136.7L498.1,137.6L493.3,138.1Z" fill="#011998"/><path d="M502.8,136.5L507.6,135.9L502.9,136.7L498.0,137.2Z" fill="#002a95"/><path d="M507.6,136.0L512.4,135.4L507.6,135.9L502.8,136.5Z" fill="#0054d6"/><path d="M512.4,135.7L517.2,135.0L512.4,135.4L507.6,136.0Z" fill="#016cdb"/><path d="M517.2,135.5L522.0,134.8L517.2,135.0L512.4,135.7Z" fill="#0284e0"/><path d="M522.0,135.5L526.8,134.7L522.0,134.8L517.2,135.5Z" fill="#039ae6"/><path d="M526.8,135.7L531.7,134.9L526.8,134.7L522.0,135.5Z" fill="#05b0eb"/><path d="M531.7,136.1L536.5,135.2L531.7,134.9L526.8,135.7Z" fill="#07c3f0"/><path d="M536.5,136.7L541.3,135.7L536.5,135.2L531.7,136.1Z" fill="#09d5f5"/><path d="M541.3,137.4L546.2,136.4L541.3,135.7L536.5,136.7Z" fill="#0be5fb"/><path d="M546.2,138.4L551.0,137.3L546.2,136.4L541.3,137.4Z" fill="#0ef2ff"/><path d="M551.0,139.5L555.9,138.4L551.0,137.3L546.2,138.4Z" fill="#10f9ff"/><path d="M555.9,140.9L560.7,139.7L555.9,138.4L551.0,139.5Z" fill="#13feff"/><path d="M560.7,142.4L565.5,141.2L560.7,139.7L555.9,140.9Z" fill="#16fffe"/><path d="M565.5,144.1L570.4,142.9L565.5,141.2L560.7,142.4Z" fill="#19fffd"/><path d="M570.4,146.1L575.2,144.7L570.4,142.9L565.5,144.1Z" fill="#1cffff"/><path d="M575.2,148.2L580.0,146.8L575.2,144.7L570.4,146.1Z" fill="#1efbff"/><path d="M580.0,150.6L584.9,149.1L580.0,146.8L575.2,148.2Z" fill="#21f6ff"/><path d="M584.9,153.2L589.7,151.6L584.9,149.1L580.0,150.6Z" fill="#24eeff"/><path d="M589.7,156.0L594.5,154.4L589.7,151.6L584.9,153.2Z" fill="#27e5ff"/><path d="M594.5,159.0L599.3,157.3L594.5,154.4L589.7,156.0Z" fill="#2adaff"/><path d="M599.3,162.2L604.1,160.5L599.3,157.3L594.5,159.0Z" fill="#2dceff"/><path d="M604.1,165.7L608.9,163.8L604.1,160.5L599.3,162.2Z" fill="#30c0ff"/><path d="M483.7,139.2L488.5,139.1L483.8,140.3L479.0,140.4Z" fill="#0303a3"/><path d="M488.4,138.2L493.3,138.1L488.5,139.1L483.7,139.2Z" fill="#0211a0"/><path d="M493.2,137.4L498.0,137.2L493.3,138.1L488.4,138.2Z" fill="#02249c"/><path d="M498.0,136.8L502.8,136.5L498.0,137.2L493.2,137.4Z" fill="#013499"/><path d="M502.8,136.3L507.6,136.0L502.8,136.5L498.0,136.8Z" fill="#004396"/><path d="M507.6,136.0L512.4,135.7L507.6,136.0L502.8,136.3Z" fill="#005092"/><path d="M512.4,135.9L517.2,135.5L512.4,135.7L507.6,136.0Z" fill="#018bda"/><path d="M517.2,136.0L522.0,135.5L517.2,135.5L512.4,135.9Z" fill="#02a1e0"/><path d="M522.0,136.2L526.8,135.7L522.0,135.5L517.2,136.0Z" fill="#03b5e5"/><path d="M526.8,136.6L531.7,136.1L526.8,135.7L522.0,136.2Z" fill="#05c8ea"/><path d="M531.7,137.3L536.5,136.7L531.7,136.1L526.8,136.6Z" fill="#07d9ef"/><path d="M536.5,138.1L541.3,137.4L536.5,136.7L531.7,137.3Z" fill="#09e9f5"/><path d="M541.3,139.1L546.2,138.4L541.3,137.4L536.5,138.1Z" fill="#0bf6fa"/><path d="M546.2,140.3L551.0,139.5L546.2,138.4L541.3,139.1Z" fill="#0dfffc"/><path d="M551.0,141.7L555.9,140.9L551.0,139.5L546.2,140.3Z" fill="#10fff8"/><path d="M555.9,143.3L560.7,142.4L555.9,140.9L551.0,141.7Z" fill="#12fff6"/><path d="M560.7,145.1L565.5,144.1L560.7,142.4L555.9,143.3Z" fill="#15fff6"/><path d="M565.5,147.1L570.4,146.1L565.5,144.1L560.7,145.1Z" fill="#18fff9"/><path d="M570.4,149.3L575.2,148.2L570.4,146.1L565.5,147.1Z" fill="#1bfffd"/><path d="M575.2,151.7L580.0,150.6L575.2,148.2L570.4,149.3Z" fill="#1efbff"/><path d="M580.0,154.4L584.9,153.2L580.0,150.6L575.2,151.7Z" fill="#20f3ff"/><path d="M584.9,157.2L589.7,156.0L584.9,153.2L580.0,154.4Z" fill="#23e9ff"/><path d="M589.7,160.3L594.5,159.0L589.7,156.0L584.9,157.2Z" fill="#26ddff"/><path d="M594.5,163.6L599.3,162.2L594.5,159.0L589.7,160.3Z" fill="#29d0ff"/><path d="M599.2,167.1L604.1,165.7L599.3,162.2L594.5,163.6Z" fill="#2cc1ff"/><path d="M478.9,139.0L483.7,139.2L479.0,140.4L474.1,140.1Z" fill="#040aa6"/><path d="M483.6,138.1L488.4,138.2L483.7,139.2L478.9,139.0Z" fill="#031ea3"/><path d="M488.4,137.3L493.2,137.4L488.4,138.2L483.6,138.1Z" fill="#0231a0"/><path d="M493.1,136.7L498.0,136.8L493.2,137.4L488.4,137.3Z" fill="#02419d"/><path d="M497.9,136.3L502.8,136.3L498.0,136.8L493.1,136.7Z" fill="#01509a"/><path d="M502.7,136.0L507.6,136.0L502.8,136.3L497.9,136.3Z" fill="#005c96"/><path d="M507.5,135.9L512.4,135.9L507.6,136.0L502.7,136.0Z" fill="#006793"/><path d="M512.3,136.1L517.2,136.0L512.4,135.9L507.5,135.9Z" fill="#00aada"/><path d="M517.2,136.3L522.0,136.2L517.2,136.0L512.3,136.1Z" fill="#01bddf"/><path d="M522.0,136.8L526.8,136.6L522.0,136.2L517.2,136.3Z" fill="#03d0e4"/><path d="M526.8,137.5L531.7,137.3L526.8,136.6L522.0,136.8Z" fill="#04e0e9"/><path d="M531.7,138.4L536.5,138.1L531.7,137.3L526.8,137.5Z" fill="#06eeed"/><path d="M536.5,139.4L541.3,139.1L536.5,138.1L531.7,138.4Z" fill="#08f4eb"/><path d="M541.3,140.7L546.2,140.3L541.3,139.1L536.5,139.4Z" fill="#0af9ea"/><path d="M546.2,142.1L551.0,141.7L546.2,140.3L541.3,140.7Z" fill="#0dfeeb"/><path d="M551.0,143.8L555.9,143.3L551.0,141.7L546.2,142.1Z" fill="#0fffeb"/><path d="M555.9,145.6L560.7,145.1L555.9,143.3L551.0,143.8Z" fill="#12ffeb"/><path d="M560.7,147.7L565.5,147.1L560.7,145.1L555.9,145.6Z" fill="#14ffee"/><path d="M565.6,150.0L570.4,149.3L565.5,147.1L560.7,147.7Z" fill="#17fff3"/><path d="M570.4,152.5L575.2,151.7L570.4,149.3L565.6,150.0Z" fill="#1afffa"/><path d="M575.2,155.2L580.0,154.4L575.2,151.7L570.4,152.5Z" fill="#1dfbff"/><path d="M580.0,158.1L584.9,157.2L580.0,154.4L575.2,155.2Z" fill="#1ff0ff"/><path d="M584.8,161.2L589.7,160.3L584.9,157.2L580.0,158.1Z" fill="#22e4ff"/><path d="M589.6,164.6L594.5,163.6L589.7,160.3L584.8,161.2Z" fill="#25d6ff"/><path d="M594.4,168.2L599.2,167.1L594.5,163.6L589.6,164.6Z" fill="#28c6ff"/><path d="M474.0,138.4L478.9,139.0L474.1,140.1L469.3,139.5Z" fill="#051aaa"/><path d="M478.7,137.5L483.6,138.1L478.9,139.0L474.0,138.4Z" fill="#042fa7"/><path d="M483.5,136.8L488.4,137.3L483.6,138.1L478.7,137.5Z" fill="#0341a4"/><path d="M488.3,136.2L493.1,136.7L488.4,137.3L483.5,136.8Z" fill="#0351a1"/><path d="M493.1,135.9L497.9,136.3L493.1,136.7L488.3,136.2Z" fill="#025f9e"/><path d="M497.9,135.7L502.7,136.0L497.9,136.3L493.1,135.9Z" fill="#016c9a"/><path d="M502.7,135.6L507.5,135.9L502.7,136.0L497.9,135.7Z" fill="#017697"/><path d="M507.5,135.8L512.3,136.1L507.5,135.9L502.7,135.6Z" fill="#007f93"/><path d="M512.3,136.1L517.2,136.3L512.3,136.1L507.5,135.8Z" fill="#00c9d9"/><path d="M517.1,136.7L522.0,136.8L517.2,136.3L512.3,136.1Z" fill="#01dbde"/><path d="M522.0,137.4L526.8,137.5L522.0,136.8L517.1,136.7Z" fill="#03e3db"/><path d="M526.8,138.3L531.7,138.4L526.8,137.5L522.0,137.4Z" fill="#04e8d7"/><path d="M531.7,139.4L536.5,139.4L531.7,138.4L526.8,138.3Z" fill="#06edd4"/><path d="M536.5,140.7L541.3,140.7L536.5,139.4L531.7,139.4Z" fill="#08f2d4"/><path d="M541.3,142.2L546.2,142.1L541.3,140.7L536.5,140.7Z" fill="#0af8d5"/><path d="M546.2,143.9L551.0,143.8L546.2,142.1L541.3,142.2Z" fill="#0cfdd9"/><path d="M551.0,145.8L555.9,145.6L551.0,143.8L546.2,143.9Z" fill="#0fffdc"/><path d="M555.9,147.9L560.7,147.7L555.9,145.6L551.0,145.8Z" fill="#11ffe0"/><path d="M560.7,150.3L565.6,150.0L560.7,147.7L555.9,147.9Z" fill="#14ffe5"/><path d="M565.6,152.8L570.4,152.5L565.6,150.0L560.7,150.3Z" fill="#16ffed"/><path d="M570.4,155.6L575.2,155.2L570.4,152.5L565.6,152.8Z" fill="#19fff7"/><path d="M575.2,158.6L580.0,158.1L575.2,155.2L570.4,155.6Z" fill="#1bfcff"/><path d="M580.0,161.8L584.8,161.2L580.0,158.1L575.2,158.6Z" fill="#1eefff"/><path d="M584.8,165.2L589.6,164.6L584.8,161.2L580.0,161.8Z" fill="#21e0ff"/><path d="M589.6,168.9L594.4,168.2L589.6,164.6L584.8,165.2Z" fill="#23cfff"/><path d="M469.1,137.5L474.0,138.4L469.3,139.5L464.4,138.5Z" fill="#062eae"/><path d="M473.9,136.6L478.7,137.5L474.0,138.4L469.1,137.5Z" fill="#0542ab"/><path d="M478.6,136.0L483.5,136.8L478.7,137.5L473.9,136.6Z" fill="#0454a8"/><path d="M483.4,135.4L488.3,136.2L483.5,136.8L478.6,136.0Z" fill="#0464a5"/><path d="M488.2,135.1L493.1,135.9L488.3,136.2L483.4,135.4Z" fill="#0372a1"/><path d="M493.0,134.9L497.9,135.7L493.1,135.9L488.2,135.1Z" fill="#027e9e"/><path d="M497.8,135.0L502.7,135.6L497.9,135.7L493.0,134.9Z" fill="#01889b"/><path d="M502.6,135.2L507.5,135.8L502.7,135.6L497.8,135.0Z" fill="#019097"/><path d="M507.4,135.5L512.3,136.1L507.5,135.8L502.6,135.2Z" fill="#009491"/><path d="M512.3,136.1L517.1,136.7L512.3,136.1L507.4,135.5Z" fill="#00d8c7"/><path d="M517.1,136.9L522.0,137.4L517.1,136.7L512.3,136.1Z" fill="#01ddc2"/><path d="M522.0,137.8L526.8,138.3L522.0,137.4L517.1,136.9Z" fill="#02e2bd"/><path d="M526.8,139.0L531.7,139.4L526.8,138.3L522.0,137.8Z" fill="#04e7bb"/><path d="M531.6,140.4L536.5,140.7L531.7,139.4L526.8,139.0Z" fill="#05ecbb"/><path d="M536.5,141.9L541.3,142.2L536.5,140.7L531.6,140.4Z" fill="#07f1bd"/><path d="M541.4,143.7L546.2,143.9L541.3,142.2L536.5,141.9Z" fill="#09f6c0"/><path d="M546.2,145.6L551.0,145.8L546.2,143.9L541.4,143.7Z" fill="#0cfbc6"/><path d="M551.0,147.8L555.9,147.9L551.0,145.8L546.2,145.6Z" fill="#0effcd"/><path d="M555.9,150.2L560.7,150.3L555.9,147.9L551.0,147.8Z" fill="#10ffd4"/><path d="M560.7,152.8L565.6,152.8L560.7,150.3L555.9,150.2Z" fill="#13ffdc"/><path d="M565.6,155.6L570.4,155.6L565.6,152.8L560.7,152.8Z" fill="#15ffe6"/><path d="M570.4,158.7L575.2,158.6L570.4,155.6L565.6,155.6Z" fill="#18fff3"/><path d="M575.2,162.0L580.0,161.8L575.2,158.6L570.4,158.7Z" fill="#1afdff"/><path d="M580.0,165.4L584.8,165.2L580.0,161.8L575.2,162.0Z" fill="#1deeff"/><path d="M584.8,169.2L589.6,168.9L584.8,165.2L580.0,165.4Z" fill="#1fdcff"/><path d="M464.2,136.2L469.1,137.5L464.4,138.5L459.5,137.2Z" fill="#0744b0"/><path d="M469.0,135.4L473.9,136.6L469.1,137.5L464.2,136.2Z" fill="#0659ae"/><path d="M473.7,134.8L478.6,136.0L473.9,136.6L469.0,135.4Z" fill="#056aab"/><path d="M478.5,134.3L483.4,135.4L478.6,136.0L473.7,134.8Z" fill="#057aa8"/><path d="M483.3,134.0L488.2,135.1L483.4,135.4L478.5,134.3Z" fill="#0488a5"/><path d="M488.1,133.9L493.0,134.9L488.2,135.1L483.3,134.0Z" fill="#0394a2"/><path d="M492.9,133.9L497.8,135.0L493.0,134.9L488.1,133.9Z" fill="#029d9f"/><path d="M497.7,134.2L502.6,135.2L497.8,135.0L492.9,133.9Z" fill="#019b91"/><path d="M502.6,134.6L507.4,135.5L502.6,135.2L497.7,134.2Z" fill="#019884"/><path d="M507.4,135.2L512.3,136.1L507.4,135.5L502.6,134.6Z" fill="#009479"/><path d="M512.2,136.0L517.1,136.9L512.3,136.1L507.4,135.2Z" fill="#00d7a6"/><path d="M517.1,137.0L522.0,137.8L517.1,136.9L512.2,136.0Z" fill="#01dca2"/><path d="M521.9,138.2L526.8,139.0L522.0,137.8L517.1,137.0Z" fill="#02e19f"/><path d="M526.8,139.6L531.6,140.4L526.8,139.0L521.9,138.2Z" fill="#03e69f"/><path d="M531.6,141.3L536.5,141.9L531.6,140.4L526.8,139.6Z" fill="#05eba1"/><path d="M536.5,143.1L541.4,143.7L536.5,141.9L531.6,141.3Z" fill="#07f0a5"/><path d="M541.4,145.1L546.2,145.6L541.4,143.7L536.5,143.1Z" fill="#09f5ab"/><path d="M546.2,147.3L551.0,147.8L546.2,145.6L541.4,145.1Z" fill="#0bfab3"/><path d="M551.1,149.8L555.9,150.2L551.0,147.8L546.2,147.3Z" fill="#0dfebd"/><path d="M555.9,152.4L560.7,152.8L555.9,150.2L551.1,149.8Z" fill="#0fffc7"/><path d="M560.7,155.3L565.6,155.6L560.7,152.8L555.9,152.4Z" fill="#12ffd2"/><path d="M565.6,158.4L570.4,158.7L565.6,155.6L560.7,155.3Z" fill="#14ffdf"/><path d="M570.4,161.7L575.2,162.0L570.4,158.7L565.6,158.4Z" fill="#17ffee"/><path d="M575.2,165.3L580.0,165.4L575.2,162.0L570.4,161.7Z" fill="#19ffff"/><path d="M580.0,169.1L584.8,169.2L580.0,165.4L575.2,165.3Z" fill="#1bedff"/><path d="M459.3,134.6L464.2,136.2L459.5,137.2L454.6,135.6Z" fill="#085db0"/><path d="M464.1,133.8L469.0,135.4L464.2,136.2L459.3,134.6Z" fill="#0771b0"/><path d="M468.8,133.2L473.7,134.8L469.0,135.4L464.1,133.8Z" fill="#0684ae"/><path d="M473.6,132.8L478.5,134.3L473.7,134.8L468.8,133.2Z" fill="#0593ac"/><path d="M478.4,132.5L483.3,134.0L478.5,134.3L473.6,132.8Z" fill="#05a1a9"/><path d="M483.2,132.4L488.1,133.9L483.3,134.0L478.4,132.5Z" fill="#04a59f"/><path d="M488.0,132.5L492.9,133.9L488.1,133.9L483.2,132.4Z" fill="#03a28f"/><path d="M492.8,132.8L497.7,134.2L492.9,133.9L488.0,132.5Z" fill="#029f81"/><path d="M497.7,133.3L502.6,134.6L497.7,134.2L492.8,132.8Z" fill="#029c75"/><path d="M502.5,133.9L507.4,135.2L502.6,134.6L497.7,133.3Z" fill="#01986a"/><path d="M507.4,134.8L512.2,136.0L507.4,135.2L502.5,133.9Z" fill="#009561"/><path d="M512.2,135.8L517.1,137.0L512.2,136.0L507.4,134.8Z" fill="#00925a"/><path d="M517.1,137.1L521.9,138.2L517.1,137.0L512.2,135.8Z" fill="#01db81"/><path d="M521.9,138.6L526.8,139.6L521.9,138.2L517.1,137.1Z" fill="#02e081"/><path d="M526.8,140.2L531.6,141.3L526.8,139.6L521.9,138.6Z" fill="#03e583"/><path d="M531.6,142.1L536.5,143.1L531.6,141.3L526.8,140.2Z" fill="#05ea86"/><path d="M536.5,144.2L541.4,145.1L536.5,143.1L531.6,142.1Z" fill="#06ef8c"/><path d="M541.4,146.4L546.2,147.3L541.4,145.1L536.5,144.2Z" fill="#08f495"/><path d="M546.2,148.9L551.1,149.8L546.2,147.3L541.4,146.4Z" fill="#0af89f"/><path d="M551.1,151.7L555.9,152.4L551.1,149.8L546.2,148.9Z" fill="#0cfdac"/><path d="M555.9,154.6L560.7,155.3L555.9,152.4L551.1,151.7Z" fill="#0fffb9"/><path d="M560.8,157.8L565.6,158.4L560.7,155.3L555.9,154.6Z" fill="#11ffc7"/><path d="M565.6,161.2L570.4,161.7L565.6,158.4L560.8,157.8Z" fill="#13ffd7"/><path d="M570.4,164.8L575.2,165.3L570.4,161.7L565.6,161.2Z" fill="#15ffe8"/><path d="M575.2,168.6L580.0,169.1L575.2,165.3L570.4,164.8Z" fill="#18fffc"/><path d="M454.4,132.6L459.3,134.6L454.6,135.6L449.6,133.5Z" fill="#0978b0"/><path d="M459.1,131.9L464.1,133.8L459.3,134.6L454.4,132.6Z" fill="#088cb0"/><path d="M463.9,131.3L468.8,133.2L464.1,133.8L459.1,131.9Z" fill="#079fb0"/><path d="M468.7,130.9L473.6,132.8L468.8,133.2L463.9,131.3Z" fill="#06afae"/><path d="M473.5,130.6L478.4,132.5L473.6,132.8L468.7,130.9Z" fill="#06ac9b"/><path d="M478.3,130.6L483.2,132.4L478.4,132.5L473.5,130.6Z" fill="#05a98a"/><path d="M483.1,130.7L488.0,132.5L483.2,132.4L478.3,130.6Z" fill="#04a67b"/><path d="M487.9,131.1L492.8,132.8L488.0,132.5L483.1,130.7Z" fill="#03a36d"/><path d="M492.8,131.6L497.7,133.3L492.8,132.8L487.9,131.1Z" fill="#02a062"/><path d="M497.6,132.3L502.5,133.9L497.7,133.3L492.8,131.6Z" fill="#029c58"/><path d="M502.5,133.2L507.4,134.8L502.5,133.9L497.6,132.3Z" fill="#01994f"/><path d="M507.3,134.3L512.2,135.8L507.4,134.8L502.5,133.2Z" fill="#009648"/><path d="M512.2,135.6L517.1,137.1L512.2,135.8L507.3,134.3Z" fill="#009243"/><path d="M517.0,137.1L521.9,138.6L517.1,137.1L512.2,135.6Z" fill="#00da61"/><path d="M521.9,138.8L526.8,140.2L521.9,138.6L517.0,137.1Z" fill="#01df62"/><path d="M526.8,140.7L531.6,142.1L526.8,140.2L521.9,138.8Z" fill="#03e466"/><path d="M531.6,142.8L536.5,144.2L531.6,142.1L526.8,140.7Z" fill="#04e96c"/><path d="M536.5,145.2L541.4,146.4L536.5,144.2L531.6,142.8Z" fill="#06ed74"/><path d="M541.4,147.7L546.2,148.9L541.4,146.4L536.5,145.2Z" fill="#08f27e"/><path d="M546.2,150.5L551.1,151.7L546.2,148.9L541.4,147.7Z" fill="#0af78b"/><path d="M551.1,153.5L555.9,154.6L551.1,151.7L546.2,150.5Z" fill="#0cfb9a"/><path d="M555.9,156.7L560.8,157.8L555.9,154.6L551.1,153.5Z" fill="#0effab"/><path d="M560.8,160.2L565.6,161.2L560.8,157.8L555.9,156.7Z" fill="#10ffbb"/><path d="M565.6,163.8L570.4,164.8L565.6,161.2L560.8,160.2Z" fill="#12ffce"/><path d="M570.4,167.8L575.2,168.6L570.4,164.8L565.6,163.8Z" fill="#14ffe2"/><path d="M449.4,130.3L454.4,132.6L449.6,133.5L444.7,131.1Z" fill="#0a95b1"/><path d="M454.2,129.5L459.1,131.9L454.4,132.6L449.4,130.3Z" fill="#09a9b0"/><path d="M458.9,129.0L463.9,131.3L459.1,131.9L454.2,129.5Z" fill="#08b0a5"/><path d="M463.7,128.6L468.7,130.9L463.9,131.3L458.9,129.0Z" fill="#07b093"/><path d="M468.5,128.4L473.5,130.6L468.7,130.9L463.7,128.6Z" fill="#07af83"/><path d="M473.3,128.4L478.3,130.6L473.5,130.6L468.5,128.4Z" fill="#06ac72"/><path d="M478.1,128.6L483.1,130.7L478.3,130.6L473.3,128.4Z" fill="#05a963"/><path d="M483.0,129.0L487.9,131.1L483.1,130.7L478.1,128.6Z" fill="#04a656"/><path d="M487.8,129.5L492.8,131.6L487.9,131.1L483.0,129.0Z" fill="#03a34b"/><path d="M492.7,130.3L497.6,132.3L492.8,131.6L487.8,129.5Z" fill="#02a042"/><path d="M497.5,131.2L502.5,133.2L497.6,132.3L492.7,130.3Z" fill="#029d3a"/><path d="M502.4,132.3L507.3,134.3L502.5,133.2L497.5,131.2Z" fill="#019933"/><path d="M507.3,133.7L512.2,135.6L507.3,134.3L502.4,132.3Z" fill="#00962f"/><path d="M512.1,135.2L517.0,137.1L512.2,135.6L507.3,133.7Z" fill="#00932c"/><path d="M517.0,137.0L521.9,138.8L517.0,137.1L512.1,135.2Z" fill="#00d940"/><path d="M521.9,138.9L526.8,140.7L521.9,138.8L517.0,137.0Z" fill="#01de43"/><path d="M526.8,141.1L531.6,142.8L526.8,140.7L521.9,138.9Z" fill="#02e349"/><path d="M531.6,143.5L536.5,145.2L531.6,142.8L526.8,141.1Z" fill="#04e750"/><path d="M536.5,146.1L541.4,147.7L536.5,145.2L531.6,143.5Z" fill="#05ec5a"/><path d="M541.4,148.9L546.2,150.5L541.4,147.7L536.5,146.1Z" fill="#07f167"/><path d="M546.2,152.0L551.1,153.5L546.2,150.5L541.4,148.9Z" fill="#09f576"/><path d="M551.1,155.3L555.9,156.7L551.1,153.5L546.2,152.0Z" fill="#0bfa87"/><path d="M555.9,158.8L560.8,160.2L555.9,156.7L551.1,155.3Z" fill="#0dfe9b"/><path d="M560.8,162.5L565.6,163.8L560.8,160.2L555.9,158.8Z" fill="#0fffaf"/><path d="M565.6,166.5L570.4,167.8L565.6,163.8L560.8,162.5Z" fill="#11ffc4"/><path d="M444.4,127.5L449.4,130.3L444.7,131.1L439.7,128.4Z" fill="#0bb1ae"/><path d="M449.2,126.8L454.2,129.5L449.4,130.3L444.4,127.5Z" fill="#0ab199"/><path d="M453.9,126.3L458.9,129.0L454.2,129.5L449.2,126.8Z" fill="#09b087"/><path d="M458.7,126.0L463.7,128.6L458.9,129.0L453.9,126.3Z" fill="#08b075"/><path d="M463.5,125.8L468.5,128.4L463.7,128.6L458.7,126.0Z" fill="#08b065"/><path d="M468.4,125.8L473.3,128.4L468.5,128.4L463.5,125.8Z" fill="#07af57"/><path d="M473.2,126.1L478.1,128.6L473.3,128.4L468.4,125.8Z" fill="#06ac48"/><path d="M478.0,126.5L483.0,129.0L478.1,128.6L473.2,126.1Z" fill="#05aa3c"/><path d="M482.9,127.1L487.8,129.5L483.0,129.0L478.0,126.5Z" fill="#04a731"/><path d="M487.7,127.8L492.7,130.3L487.8,129.5L482.9,127.1Z" fill="#03a328"/><path d="M492.6,128.8L497.5,131.2L492.7,130.3L487.7,127.8Z" fill="#02a021"/><path d="M497.5,130.0L502.4,132.3L497.5,131.2L492.6,128.8Z" fill="#029d1b"/><path d="M502.3,131.4L507.3,133.7L502.4,132.3L497.5,130.0Z" fill="#019a17"/><path d="M507.2,133.0L512.1,135.2L507.3,133.7L502.3,131.4Z" fill="#019715"/><path d="M512.1,134.8L517.0,137.0L512.1,135.2L507.2,133.0Z" fill="#009314"/><path d="M517.0,136.8L521.9,138.9L517.0,137.0L512.1,134.8Z" fill="#00d81f"/><path d="M521.9,139.0L526.8,141.1L521.9,138.9L517.0,136.8Z" fill="#01dd24"/><path d="M526.7,141.4L531.6,143.5L526.8,141.1L521.9,139.0Z" fill="#02e22b"/><path d="M531.6,144.1L536.5,146.1L531.6,143.5L526.7,141.4Z" fill="#03e635"/><path d="M536.5,147.0L541.4,148.9L536.5,146.1L531.6,144.1Z" fill="#05eb41"/><path d="M541.4,150.1L546.2,152.0L541.4,148.9L536.5,147.0Z" fill="#07ef4f"/><path d="M546.2,153.4L551.1,155.3L546.2,152.0L541.4,150.1Z" fill="#08f461"/><path d="M551.1,157.0L555.9,158.8L551.1,155.3L546.2,153.4Z" fill="#0af874"/><path d="M555.9,160.8L560.8,162.5L555.9,158.8L551.1,157.0Z" fill="#0cfc8a"/><path d="M560.8,164.8L565.6,166.5L560.8,162.5L555.9,160.8Z" fill="#0effa2"/><path d="M439.4,124.4L444.4,127.5L439.7,128.4L434.6,125.2Z" fill="#0cb18c"/><path d="M444.1,123.8L449.2,126.8L444.4,127.5L439.4,124.4Z" fill="#0bb178"/><path d="M448.9,123.3L453.9,126.3L449.2,126.8L444.1,123.8Z" fill="#0ab166"/><path d="M453.7,123.0L458.7,126.0L453.9,126.3L448.9,123.3Z" fill="#09b055"/><path d="M458.5,122.8L463.5,125.8L458.7,126.0L453.7,123.0Z" fill="#08b045"/><path d="M463.4,122.9L468.4,125.8L463.5,125.8L458.5,122.8Z" fill="#08b037"/><path d="M468.2,123.1L473.2,126.1L468.4,125.8L463.4,122.9Z" fill="#07af2a"/><path d="M473.0,123.6L478.0,126.5L473.2,126.1L468.2,123.1Z" fill="#06ad1e"/><path d="M477.9,124.2L482.9,127.1L478.0,126.5L473.0,123.6Z" fill="#05aa14"/><path d="M482.8,125.0L487.7,127.8L482.9,127.1L477.9,124.2Z" fill="#04a70c"/><path d="M487.6,126.1L492.6,128.8L487.7,127.8L482.8,125.0Z" fill="#03a405"/><path d="M492.5,127.3L497.5,130.0L492.6,128.8L487.6,126.1Z" fill="#05a103"/><path d="M497.4,128.7L502.3,131.4L497.5,130.0L492.5,127.3Z" fill="#079d02"/><path d="M502.3,130.3L507.2,133.0L502.3,131.4L497.4,128.7Z" fill="#089a01"/><path d="M507.2,132.2L512.1,134.8L507.2,133.0L502.3,130.3Z" fill="#079701"/><path d="M512.1,134.2L517.0,136.8L512.1,134.8L507.2,132.2Z" fill="#059400"/><path d="M517.0,136.5L521.9,139.0L517.0,136.8L512.1,134.2Z" fill="#03d700"/><path d="M521.8,139.0L526.7,141.4L521.9,139.0L517.0,136.5Z" fill="#01dc04"/><path d="M526.7,141.7L531.6,144.1L526.7,141.4L521.8,139.0Z" fill="#02e00d"/><path d="M531.6,144.6L536.5,147.0L531.6,144.1L526.7,141.7Z" fill="#03e519"/><path d="M536.5,147.8L541.4,150.1L536.5,147.0L531.6,144.6Z" fill="#05e927"/><path d="M541.4,151.2L546.2,153.4L541.4,150.1L536.5,147.8Z" fill="#06ee37"/><path d="M546.2,154.8L551.1,157.0L546.2,153.4L541.4,151.2Z" fill="#08f24b"/><path d="M551.1,158.6L555.9,160.8L551.1,157.0L546.2,154.8Z" fill="#09f661"/><path d="M556.0,162.7L560.8,164.8L555.9,160.8L551.1,158.6Z" fill="#0bfa79"/><path d="M434.3,120.9L439.4,124.4L434.6,125.2L429.6,121.7Z" fill="#0db169"/><path d="M439.1,120.3L444.1,123.8L439.4,124.4L434.3,120.9Z" fill="#0cb155"/><path d="M443.9,119.8L448.9,123.3L444.1,123.8L439.1,120.3Z" fill="#0bb143"/><path d="M448.7,119.6L453.7,123.0L448.9,123.3L443.9,119.8Z" fill="#0ab132"/><path d="M453.5,119.5L458.5,122.8L453.7,123.0L448.7,119.6Z" fill="#09b022"/><path d="M458.3,119.6L463.4,122.9L458.5,122.8L453.5,119.5Z" fill="#08b014"/><path d="M463.2,119.8L468.2,123.1L463.4,122.9L458.3,119.6Z" fill="#08b008"/><path d="M468.0,120.3L473.0,123.6L468.2,123.1L463.2,119.8Z" fill="#11b007"/><path d="M472.9,121.0L477.9,124.2L473.0,123.6L468.0,120.3Z" fill="#19ad06"/><path d="M477.8,121.8L482.8,125.0L477.9,124.2L472.9,121.0Z" fill="#1faa05"/><path d="M482.7,122.9L487.6,126.1L482.8,125.0L477.8,121.8Z" fill="#23a704"/><path d="M487.5,124.1L492.5,127.3L487.6,126.1L482.7,122.9Z" fill="#26a403"/><path d="M492.4,125.6L497.4,128.7L492.5,127.3L487.5,124.1Z" fill="#27a103"/><path d="M497.3,127.3L502.3,130.3L497.4,128.7L492.4,125.6Z" fill="#279e02"/><path d="M502.2,129.2L507.2,132.2L502.3,130.3L497.3,127.3Z" fill="#259b01"/><path d="M507.1,131.3L512.1,134.2L507.2,132.2L502.2,129.2Z" fill="#229801"/><path d="M512.0,133.6L517.0,136.5L512.1,134.2L507.1,131.3Z" fill="#1e9400"/><path d="M516.9,136.1L521.8,139.0L517.0,136.5L512.0,133.6Z" fill="#25d700"/><path d="M521.8,138.9L526.7,141.7L521.8,139.0L516.9,136.1Z" fill="#1edb01"/><path d="M526.7,141.8L531.6,144.6L526.7,141.7L521.8,138.9Z" fill="#15df02"/><path d="M531.6,145.0L536.5,147.8L531.6,144.6L526.7,141.8Z" fill="#09e403"/><path d="M536.5,148.5L541.4,151.2L536.5,147.8L531.6,145.0Z" fill="#04e80c"/><path d="M541.4,152.2L546.2,154.8L541.4,151.2L536.5,148.5Z" fill="#06ec1f"/><path d="M546.3,156.1L551.1,158.6L546.2,154.8L541.4,152.2Z" fill="#07f135"/><path d="M551.1,160.2L556.0,162.7L551.1,158.6L546.3,156.1Z" fill="#09f54d"/><path d="M429.2,117.1L434.3,120.9L429.6,121.7L424.5,117.9Z" fill="#0eb243"/><path d="M434.0,116.5L439.1,120.3L434.3,120.9L429.2,117.1Z" fill="#0db12f"/><path d="M438.8,116.0L443.9,119.8L439.1,120.3L434.0,116.5Z" fill="#0cb11d"/><path d="M443.6,115.8L448.7,119.6L443.9,119.8L438.8,116.0Z" fill="#0bb10d"/><path d="M448.4,115.7L453.5,119.5L448.7,119.6L443.6,115.8Z" fill="#17b10a"/><path d="M453.3,115.8L458.3,119.6L453.5,119.5L448.4,115.7Z" fill="#23b009"/><path d="M458.1,116.1L463.2,119.8L458.3,119.6L453.3,115.8Z" fill="#2eb008"/><path d="M463.0,116.6L468.0,120.3L463.2,119.8L458.1,116.1Z" fill="#37b008"/><path d="M467.9,117.3L472.9,121.0L468.0,120.3L463.0,116.6Z" fill="#3fb007"/><path d="M472.8,118.2L477.8,121.8L472.9,121.0L467.9,117.3Z" fill="#44ad06"/><path d="M477.6,119.3L482.7,122.9L477.8,121.8L472.8,118.2Z" fill="#48aa05"/><path d="M482.5,120.6L487.5,124.1L482.7,122.9L477.6,119.3Z" fill="#4aa704"/><path d="M487.4,122.1L492.4,125.6L487.5,124.1L482.5,120.6Z" fill="#4aa403"/><path d="M492.3,123.8L497.3,127.3L492.4,125.6L487.4,122.1Z" fill="#49a103"/><path d="M497.3,125.8L502.2,129.2L497.3,127.3L492.3,123.8Z" fill="#479e02"/><path d="M502.2,127.9L507.1,131.3L502.2,129.2L497.3,125.8Z" fill="#439b01"/><path d="M507.1,130.3L512.0,133.6L507.1,131.3L502.2,127.9Z" fill="#3e9801"/><path d="M512.0,132.8L516.9,136.1L512.0,133.6L507.1,130.3Z" fill="#389500"/><path d="M516.9,135.6L521.8,138.9L516.9,136.1L512.0,132.8Z" fill="#319200"/><path d="M521.8,138.7L526.7,141.8L521.8,138.9L516.9,135.6Z" fill="#3eda00"/><path d="M526.7,141.9L531.6,145.0L526.7,141.8L521.8,138.7Z" fill="#33de01"/><path d="M531.6,145.4L536.5,148.5L531.6,145.0L526.7,141.9Z" fill="#26e302"/><path d="M536.5,149.1L541.4,152.2L536.5,148.5L531.6,145.4Z" fill="#16e704"/><path d="M541.4,153.1L546.3,156.1L541.4,152.2L536.5,149.1Z" fill="#05eb06"/><path d="M546.3,157.3L551.1,160.2L546.3,156.1L541.4,153.1Z" fill="#07ef1e"/><path d="M424.1,112.8L429.2,117.1L424.5,117.9L419.3,113.6Z" fill="#0eb21a"/><path d="M428.9,112.2L434.0,116.5L429.2,117.1L424.1,112.8Z" fill="#14b20e"/><path d="M433.7,111.8L438.8,116.0L434.0,116.5L428.9,112.2Z" fill="#24b10d"/><path d="M438.5,111.6L443.6,115.8L438.8,116.0L433.7,111.8Z" fill="#33b10c"/><path d="M443.3,111.6L448.4,115.7L443.6,115.8L438.5,111.6Z" fill="#40b10b"/><path d="M448.2,111.7L453.3,115.8L448.4,115.7L443.3,111.6Z" fill="#4cb10a"/><path d="M453.1,112.0L458.1,116.1L453.3,115.8L448.2,111.7Z" fill="#56b009"/><path d="M457.9,112.6L463.0,116.6L458.1,116.1L453.1,112.0Z" fill="#5fb008"/><path d="M462.8,113.3L467.9,117.3L463.0,116.6L457.9,112.6Z" fill="#67b008"/><path d="M467.7,114.2L472.8,118.2L467.9,117.3L462.8,113.3Z" fill="#6db007"/><path d="M472.6,115.4L477.6,119.3L472.8,118.2L467.7,114.2Z" fill="#70ad06"/><path d="M477.5,116.7L482.5,120.6L477.6,119.3L472.6,115.4Z" fill="#71aa05"/><path d="M482.4,118.2L487.4,122.1L482.5,120.6L477.5,116.7Z" fill="#71a704"/><path d="M487.3,120.0L492.3,123.8L487.4,122.1L482.4,118.2Z" fill="#6fa403"/><path d="M492.3,121.9L497.3,125.8L492.3,123.8L487.3,120.0Z" fill="#6ca103"/><path d="M497.2,124.1L502.2,127.9L497.3,125.8L492.3,121.9Z" fill="#679e02"/><path d="M502.1,126.5L507.1,130.3L502.2,127.9L497.2,124.1Z" fill="#619b01"/><path d="M507.0,129.1L512.0,132.8L507.1,130.3L502.1,126.5Z" fill="#5a9801"/><path d="M512.0,132.0L516.9,135.6L512.0,132.8L507.0,129.1Z" fill="#529500"/><path d="M516.9,135.0L521.8,138.7L516.9,135.6L512.0,132.0Z" fill="#499300"/><path d="M521.8,138.3L526.7,141.9L521.8,138.7L516.9,135.0Z" fill="#5fd900"/><path d="M526.7,141.9L531.6,145.4L526.7,141.9L521.8,138.3Z" fill="#52dd01"/><path d="M531.6,145.7L536.5,149.1L531.6,145.4L526.7,141.9Z" fill="#42e102"/><path d="M536.5,149.7L541.4,153.1L536.5,149.1L531.6,145.7Z" fill="#30e603"/><path d="M541.4,153.9L546.3,157.3L541.4,153.1L536.5,149.7Z" fill="#1cea05"/><path d="M418.9,108.2L424.1,112.8L419.3,113.6L414.2,108.9Z" fill="#2fb20f"/><path d="M423.7,107.6L428.9,112.2L424.1,112.8L418.9,108.2Z" fill="#40b20e"/><path d="M428.5,107.2L433.7,111.8L428.9,112.2L423.7,107.6Z" fill="#50b20e"/><path d="M433.4,107.0L438.5,111.6L433.7,111.8L428.5,107.2Z" fill="#5eb10d"/><path d="M438.2,107.0L443.3,111.6L438.5,111.6L433.4,107.0Z" fill="#6bb10c"/><path d="M443.1,107.2L448.2,111.7L443.3,111.6L438.2,107.0Z" fill="#77b10b"/><path d="M448.0,107.6L453.1,112.0L448.2,111.7L443.1,107.2Z" fill="#81b10a"/><path d="M452.8,108.1L457.9,112.6L453.1,112.0L448.0,107.6Z" fill="#8ab009"/><path d="M457.7,108.9L462.8,113.3L457.9,112.6L452.8,108.1Z" fill="#91b008"/><path d="M462.6,109.8L467.7,114.2L462.8,113.3L457.7,108.9Z" fill="#97b008"/><path d="M467.5,111.0L472.6,115.4L467.7,114.2L462.6,109.8Z" fill="#9baf07"/><path d="M472.5,112.3L477.5,116.7L472.6,115.4L467.5,111.0Z" fill="#9cad06"/><path d="M477.4,113.9L482.4,118.2L477.5,116.7L472.5,112.3Z" fill="#9baa05"/><path d="M482.3,115.7L487.3,120.0L482.4,118.2L477.4,113.9Z" fill="#99a704"/><path d="M487.2,117.7L492.3,121.9L487.3,120.0L482.3,115.7Z" fill="#95a403"/><path d="M492.2,119.9L497.2,124.1L492.3,121.9L487.2,117.7Z" fill="#8fa103"/><path d="M497.1,122.4L502.1,126.5L497.2,124.1L492.2,119.9Z" fill="#889f02"/><path d="M502.1,125.0L507.0,129.1L502.1,126.5L497.1,122.4Z" fill="#809c01"/><path d="M507.0,127.9L512.0,132.0L507.0,129.1L502.1,125.0Z" fill="#779901"/><path d="M511.9,131.0L516.9,135.0L512.0,132.0L507.0,127.9Z" fill="#6d9600"/><path d="M516.8,134.4L521.8,138.3L516.9,135.0L511.9,131.0Z" fill="#619300"/><path d="M521.8,137.9L526.7,141.9L521.8,138.3L516.8,134.4Z" fill="#80d800"/><path d="M526.7,141.8L531.6,145.7L526.7,141.9L521.8,137.9Z" fill="#71dc01"/><path d="M531.6,145.8L536.5,149.7L531.6,145.7L526.7,141.8Z" fill="#5fe002"/><path d="M536.5,150.1L541.4,153.9L536.5,149.7L531.6,145.8Z" fill="#4be403"/></g>
<circle cx="413.9" cy="104.6" r="2.5" fill="#c00606" stroke="#5a1010" stroke-width="0.7"/>
<circle cx="536.5" cy="115.6" r="2.5" fill="#c00606" stroke="#5a1010" stroke-width="0.7"/>
<circle cx="657.9" cy="129.5" r="2.5" fill="#fcc8c8" stroke="#8a5050" stroke-width="0.7"/>
<circle cx="536.5" cy="133.5" r="2.5" fill="#c00606" stroke="#5a1010" stroke-width="0.7"/>
<circle cx="536.5" cy="135.5" r="2.5" fill="#c00606" stroke="#5a1010" stroke-width="0.7"/>
<circle cx="417.2" cy="171.2" r="1.3" fill="#111"/><circle cx="416.2" cy="150.7" r="1.3" fill="#111"/><circle cx="415.2" cy="130.3" r="1.3" fill="#111"/><circle cx="414.2" cy="109.9" r="1.3" fill="#111"/><circle cx="413.2" cy="89.4" r="1.3" fill="#111"/><circle cx="412.2" cy="69.0" r="1.3" fill="#111"/><circle cx="411.2" cy="48.5" r="1.3" fill="#111"/><circle cx="536.5" cy="265.7" r="1.3" fill="#111"/><circle cx="507.1" cy="251.6" r="1.3" fill="#111"/><circle cx="477.8" cy="237.6" r="1.3" fill="#111"/><circle cx="448.4" cy="223.5" r="1.3" fill="#111"/><circle cx="419.0" cy="209.5" r="1.3" fill="#111"/><circle cx="536.5" cy="265.7" r="1.3" fill="#111"/><circle cx="565.9" cy="251.6" r="1.3" fill="#111"/><circle cx="595.2" cy="237.6" r="1.3" fill="#111"/><circle cx="624.6" cy="223.5" r="1.3" fill="#111"/><circle cx="654.0" cy="209.5" r="1.3" fill="#111"/>
<g font-size="9.1" fill="#3c3c3c"><text x="412.8" y="169.5" text-anchor="end">0</text><text x="411.8" y="149.1" text-anchor="end">5</text><text x="410.8" y="128.6" text-anchor="end">10</text><text x="409.8" y="108.2" text-anchor="end">15</text><text x="408.8" y="87.8" text-anchor="end">20</text><text x="407.8" y="67.3" text-anchor="end">25</text><text x="406.8" y="46.9" text-anchor="end">30</text><text x="532.3" y="275.1" text-anchor="end">10</text><text x="502.9" y="261.1" text-anchor="end">15</text><text x="473.5" y="247.1" text-anchor="end">20</text><text x="444.2" y="233.0" text-anchor="end">25</text><text x="414.8" y="219.0" text-anchor="end">30</text><text x="539.9" y="275.4" text-anchor="start">20</text><text x="569.3" y="261.4" text-anchor="start">30</text><text x="598.7" y="247.4" text-anchor="start">40</text><text x="628.0" y="233.3" text-anchor="start">50</text><text x="657.4" y="219.3" text-anchor="start">60</text></g>
<text x="433.3" y="262.0" font-size="8.2" fill="#3c3c3c" text-anchor="middle">B: Time (min)</text>
<text x="639.9" y="262.0" font-size="8.5" fill="#3c3c3c" text-anchor="middle">A: Amplitude (%)</text>
<text transform="translate(377.2,132.2) rotate(-90)" font-size="8.4" fill="#3c3c3c" text-anchor="middle">Akylamide concentration (ug/g DW)</text>
<text x="633.5" y="25.7" style="font-family:'Liberation Serif',serif;font-weight:bold;font-size:23.3px" fill="#000">D)</text></g>
<g id="pE"><path d="M420.2,520.4L542.4,479.6L664.5,520.4M419.2,499.5L542.4,460.6L665.5,499.5M418.2,478.5L542.4,441.6L666.5,478.5M417.2,457.6L542.4,422.7L667.5,457.6M416.2,436.7L542.4,403.7L668.5,436.7M415.2,415.8L542.4,384.7L669.5,415.8M414.2,394.9L542.4,365.8L670.5,394.9M420.2,520.4L414.2,394.9M450.7,510.2L446.2,387.6M481.3,500.0L478.3,380.3M511.8,489.8L510.3,373.0M542.4,479.6L542.4,365.8M664.5,520.4L670.5,394.9M640.1,512.2L644.9,389.0M615.6,504.1L619.3,383.2M591.2,495.9L593.6,377.4M566.8,487.7L568.0,371.6M542.4,479.6L542.4,365.8M422.1,559.6L414.2,394.9M662.6,559.6L670.5,394.9M542.4,515.1L542.4,365.8" fill="none" stroke="#262626" stroke-width="1.00"/>
<path d="M422.1,559.6L542.4,617.1L662.6,559.6L542.4,515.1Z" fill="#626262" stroke="#222" stroke-width="0.8"/>
<path d="M624.4,545.5L624.6,545.9L624.9,546.9L624.9,547.0L625.1,548.1L625.1,548.2L625.2,549.3L625.2,549.5L625.1,550.6L625.1,550.7L624.9,551.8L624.8,551.9L624.5,552.9L624.3,553.4L624.1,554.0L623.5,555.0L623.5,555.1L622.8,556.0L622.2,556.9L622.1,557.0L621.3,558.0L620.4,558.9L620.2,559.1L619.5,559.8L618.4,560.7L617.4,561.5L616.9,561.9L616.2,562.4L615.0,563.2L613.8,563.9L612.5,564.7L611.1,565.5L609.7,566.2L608.2,566.9L606.7,567.6L605.2,568.2L603.5,568.9L601.9,569.5L600.2,570.1L598.4,570.7L596.6,571.3L595.9,571.5L594.7,571.8L592.8,572.3L590.8,572.8L589.3,573.2L588.8,573.3L586.7,573.7L584.6,574.2L584.1,574.3L582.4,574.5L580.2,574.9L579.5,575.0L577.8,575.3L575.4,575.6L575.4,575.6L573.0,575.8L571.6,576.0L570.5,576.1L568.0,576.3L567.8,576.3L565.1,576.4L564.6,576.5L562.3,576.6L561.4,576.6L559.4,576.6L558.3,576.6L556.4,576.6L555.4,576.6L553.3,576.6L552.5,576.6L549.9,576.5L549.8,576.5L547.2,576.3L546.4,576.3L544.6,576.1L542.7,576.0L542.1,575.9L539.7,575.6L538.7,575.5L537.3,575.3L535.1,575.0L534.4,574.9L532.8,574.7L530.7,574.3L529.4,574.0L528.6,573.9L526.5,573.5L524.6,573.0L523.5,572.7L522.6,572.5L520.7,572.0L518.9,571.5L517.1,570.9L515.4,570.4L514.5,570.1L513.7,569.8L512.1,569.2L510.5,568.5L509.0,567.9L507.5,567.2L506.0,566.5L504.7,565.8L503.8,565.3L503.3,565.0L502.1,564.3L500.9,563.5L499.7,562.7L498.6,561.9L498.2,561.5L497.5,561.0L496.6,560.1L495.7,559.2L495.5,559.1L494.8,558.3L494.0,557.3L493.9,557.1L493.4,556.4L492.8,555.4L492.8,555.3L492.3,554.3L492.1,553.8L491.9,553.2L491.6,552.4L491.6,552.1L491.4,551.0L491.4,550.9L491.4,549.8L491.4,549.6L491.5,548.6L491.6,548.3L491.8,547.5L492.0,547.0L492.2,546.4L492.6,545.5L492.7,545.4L493.3,544.5L493.7,543.9L493.9,543.5L494.7,542.6L495.2,542.1L495.5,541.8L496.4,541.0L497.4,540.2L497.7,539.9L498.4,539.4L499.5,538.7L500.7,537.9L501.9,537.2L502.5,536.9L503.1,536.6L504.5,535.9L505.8,535.3L507.3,534.7L508.7,534.1L510.3,533.6L511.8,533.0L513.5,532.5L515.1,532.0L516.3,531.7L516.9,531.5L518.6,531.1L520.5,530.6L522.3,530.2L524.3,529.8L524.5,529.8L526.3,529.4L528.3,529.1L530.2,528.8L530.4,528.7L532.5,528.4L534.7,528.1L535.0,528.1L537.0,527.8L539.3,527.6L539.3,527.6L541.8,527.4L543.3,527.2L544.2,527.2L546.8,527.0L547.0,527.0L549.4,526.8L550.4,526.8L552.1,526.7L553.7,526.7L555.0,526.6L556.9,526.6L557.9,526.6L559.9,526.6L560.9,526.6L562.7,526.6L564.1,526.6L565.5,526.6L567.5,526.7L568.2,526.7L570.8,526.9L571.0,526.9L573.3,527.0L574.8,527.1" fill="none" stroke="#26dea8" stroke-width="1.8" stroke-linecap="butt"/>
<path d="M650.6,555.2L650.1,556.2L649.7,556.8L649.4,557.2L648.7,558.2L648.4,558.7L648.0,559.2L647.1,560.2L646.6,560.8L646.3,561.2L645.4,562.1L644.4,563.0L644.1,563.3L643.4,563.9L642.4,564.8L641.3,565.7L640.4,566.3L640.1,566.5L639.0,567.3L637.7,568.2L636.5,569.0L635.2,569.8L633.9,570.6L632.5,571.3L631.8,571.7L631.1,572.1L629.6,572.8L628.2,573.5L626.6,574.3L625.1,574.9L623.8,575.5L623.5,575.6L621.9,576.3L620.2,576.9L618.5,577.6L616.8,578.2L615.0,578.8L613.2,579.4L611.9,579.8L611.4,580.0L609.5,580.5L607.6,581.1L605.7,581.6L604.9,581.8L603.7,582.1L601.7,582.6L599.6,583.1L599.1,583.2L597.5,583.5L595.4,584.0L594.1,584.2L593.2,584.4L590.9,584.8L589.5,585.0L588.7,585.2L586.4,585.5L585.2,585.7L584.0,585.9L581.6,586.2L581.2,586.2L579.1,586.5L577.4,586.6L576.6,586.7L574.0,586.9L573.8,587.0L571.4,587.1L570.3,587.2L568.7,587.3L567.0,587.4L565.9,587.5L563.7,587.5L563.1,587.6L560.6,587.6L560.2,587.6L557.6,587.7L557.2,587.7L554.6,587.6L554.1,587.6L551.8,587.6L550.9,587.6L549.0,587.5L547.6,587.5L546.3,587.4L544.2,587.3L543.6,587.2L541.0,587.1L540.6,587.0L538.5,586.8L536.9,586.7L536.0,586.6L533.5,586.3L533.0,586.3L531.2,586.0L528.8,585.7L528.8,585.7L526.5,585.4L524.4,585.1L524.3,585.0L522.1,584.7L519.9,584.3L519.5,584.2L517.8,583.8L515.7,583.4L514.1,583.0L513.7,582.9L511.7,582.5L509.7,582.0L507.8,581.5L507.6,581.4L505.9,580.9L504.1,580.4L502.3,579.8L500.5,579.3L498.9,578.7L498.7,578.7L497.0,578.1L495.4,577.4L493.7,576.8L492.1,576.2L490.6,575.5L489.0,574.8L487.5,574.1L486.1,573.4L484.7,572.7L483.3,571.9L481.9,571.2L480.6,570.4L480.1,570.1L479.4,569.6L478.1,568.8L476.9,568.0L475.8,567.2L474.7,566.3L474.5,566.2L473.6,565.5L472.6,564.6L471.6,563.7L471.4,563.5L470.7,562.8L469.8,561.8L469.3,561.3L469.0,560.9L468.2,559.9L467.7,559.3L467.5,558.9L466.8,557.9L466.5,557.5L466.2,556.9L465.7,555.8L465.6,555.8L465.2,554.8L465.0,554.3L464.8,553.7L464.6,552.8L464.5,552.5L464.3,551.5L464.3,551.4L464.2,550.2L464.2,550.2L464.2,548.9L464.2,548.9L464.3,547.7L464.3,547.7L464.5,546.6L464.5,546.3L464.8,545.5L464.9,545.0L465.1,544.4L465.5,543.5M548.6,517.4L548.1,517.4L545.9,517.5L544.7,517.6L543.2,517.7L541.2,517.8L540.6,517.8L538.1,518.0L537.5,518.0L535.6,518.2L533.6,518.4" fill="none" stroke="#3cd832" stroke-width="1.8" stroke-linecap="butt"/>
<path d="M591.3,593.7L589.9,593.9L587.5,594.2L587.3,594.2L585.1,594.5L583.4,594.7L582.6,594.8L580.1,595.0L579.7,595.1L577.5,595.3L576.2,595.4L574.9,595.5L572.7,595.6L572.2,595.7L569.5,595.8L569.4,595.8L566.7,596.0L566.1,596.0L563.8,596.1L562.9,596.1L560.9,596.1L559.9,596.2L557.9,596.2L556.9,596.2L554.9,596.2L553.9,596.2L551.7,596.1L551.0,596.1L548.5,596.0L548.2,596.0L545.5,595.9L545.2,595.9L542.8,595.8L541.8,595.7L540.1,595.6L538.3,595.5L537.5,595.4L535.0,595.2L534.6,595.2L532.5,595.0L530.8,594.8L530.0,594.7L527.6,594.4L526.9,594.3L525.2,594.1L522.9,593.8L522.7,593.8L520.6,593.5L518.3,593.1L518.3,593.1L516.1,592.7L513.9,592.3L513.6,592.3L511.7,591.9L509.6,591.5L508.5,591.2L507.5,591.0L505.5,590.6L503.4,590.1L502.8,589.9L501.4,589.6L499.5,589.1L497.5,588.6L496.2,588.2L495.6,588.0L493.8,587.5L491.9,586.9L490.1,586.3L488.3,585.8L487.7,585.5L486.6,585.1L484.8,584.5L483.2,583.9L481.5,583.3L479.9,582.6L478.2,581.9L476.7,581.3L475.1,580.6L473.6,579.9L472.1,579.1L470.6,578.4L469.2,577.7L467.8,576.9L466.4,576.2L465.1,575.4L463.8,574.6L462.5,573.8L461.6,573.2L461.3,573.0L460.0,572.1L458.9,571.3L457.7,570.5L456.6,569.6L456.4,569.4L455.5,568.7L454.5,567.8L453.5,566.9L453.1,566.6L452.5,566.0L451.6,565.1L450.7,564.2L450.7,564.2L449.8,563.2L449.0,562.2L448.9,562.0L448.3,561.2L447.5,560.2L447.5,560.1L446.9,559.2L446.3,558.3L446.3,558.2L445.7,557.1L445.5,556.6L445.2,556.1L444.8,555.1L444.7,555.0L444.4,553.9L444.3,553.6L444.0,552.7L443.9,552.2L443.8,551.6" fill="none" stroke="#96dc1e" stroke-width="1.8" stroke-linecap="butt"/>
<path d="M571.0,603.4L570.8,603.4L568.0,603.5L567.8,603.5L565.2,603.6L564.6,603.6L562.3,603.7L561.5,603.7L559.3,603.7L558.5,603.8L556.3,603.8L555.5,603.8L553.2,603.7L552.6,603.7L550.1,603.7L549.7,603.7L546.9,603.6L546.8,603.6L544.1,603.5L543.5,603.5L541.4,603.4L540.1,603.3L538.7,603.2L536.6,603.1L536.1,603.0L533.5,602.8L533.1,602.8L531.0,602.6L529.3,602.4L528.5,602.3L526.0,602.1L525.5,602.0L523.6,601.8L521.5,601.5L521.2,601.5L518.8,601.1L517.3,600.9L516.5,600.8L514.2,600.5L513.0,600.2L511.9,600.1L509.7,599.7L508.3,599.4L507.5,599.3L505.4,598.9L503.4,598.5M427.9,557.5L428.5,558.5L428.7,558.9L429.1,559.6L429.7,560.6L429.8,560.7L430.4,561.6L431.1,562.6L431.1,562.6L431.9,563.6L432.7,564.6L432.8,564.7" fill="none" stroke="#e1d71e" stroke-width="1.8" stroke-linecap="butt"/>
<path d="M556.1,610.5L555.7,610.5L553.1,610.5L552.6,610.5L550.2,610.5L549.5,610.5L547.4,610.4L546.3,610.4L544.6,610.3L543.0,610.2L541.8,610.2L539.6,610.1L539.1,610.0L536.5,609.9L536.2,609.9L533.8,609.7L532.6,609.6L531.2,609.5L529.0,609.3L528.7,609.3L526.2,609.0L525.3,608.9" fill="none" stroke="#f0961e" stroke-width="1.8" stroke-linecap="butt"/>
<path d="M422.1,559.6L542.4,617.1L662.6,559.6L542.4,515.1Z" fill="none" stroke="#111" stroke-width="0.9"/>
<g stroke="#101010" stroke-width="0.45" stroke-linejoin="round"><path d="M542.4,432.9L547.3,429.6L542.4,425.4L537.4,428.7Z" fill="#4fff71"/><path d="M547.3,437.0L552.3,433.7L547.3,429.6L542.4,432.9Z" fill="#4dff82"/><path d="M552.3,440.8L557.3,437.5L552.3,433.7L547.3,437.0Z" fill="#4bff92"/><path d="M557.3,444.4L562.3,441.0L557.3,437.5L552.3,440.8Z" fill="#49ffa1"/><path d="M562.2,447.7L567.2,444.4L562.3,441.0L557.3,444.4Z" fill="#46ffae"/><path d="M567.2,450.8L572.2,447.5L567.2,444.4L562.2,447.7Z" fill="#44ffb9"/><path d="M572.1,453.7L577.1,450.4L572.2,447.5L567.2,450.8Z" fill="#41ffc4"/><path d="M577.1,456.4L582.1,453.0L577.1,450.4L572.1,453.7Z" fill="#3effcc"/><path d="M582.0,458.8L587.0,455.4L582.1,453.0L577.1,456.4Z" fill="#3bffd3"/><path d="M587.0,460.9L592.0,457.5L587.0,455.4L582.0,458.8Z" fill="#38ffd8"/><path d="M591.9,462.8L596.9,459.4L592.0,457.5L587.0,460.9Z" fill="#35ffdc"/><path d="M596.9,464.5L601.9,461.1L596.9,459.4L591.9,462.8Z" fill="#31ffdd"/><path d="M601.9,465.8L606.9,462.5L601.9,461.1L596.9,464.5Z" fill="#2effdd"/><path d="M606.8,467.0L611.8,463.6L606.9,462.5L601.9,465.8Z" fill="#2bffda"/><path d="M611.8,467.8L616.8,464.5L611.8,463.6L606.8,467.0Z" fill="#27ffd6"/><path d="M616.8,468.4L621.8,465.1L616.8,464.5L611.8,467.8Z" fill="#24ffcf"/><path d="M621.8,468.8L626.8,465.4L621.8,465.1L616.8,468.4Z" fill="#21ffc6"/><path d="M626.8,468.8L631.8,465.5L626.8,465.4L621.8,468.8Z" fill="#1effbb"/><path d="M631.8,468.6L636.9,465.3L631.8,465.5L626.8,468.8Z" fill="#1affad"/><path d="M636.9,468.2L641.9,464.8L636.9,465.3L631.8,468.6Z" fill="#17ff9c"/><path d="M641.9,467.4L647.0,464.1L641.9,464.8L636.9,468.2Z" fill="#15ff89"/><path d="M647.0,466.3L652.1,463.0L647.0,464.1L641.9,467.4Z" fill="#12ff74"/><path d="M652.1,465.0L657.2,461.7L652.1,463.0L647.0,466.3Z" fill="#0fff5b"/><path d="M657.3,463.4L662.3,460.1L657.2,461.7L652.1,465.0Z" fill="#0dfe40"/><path d="M662.4,461.5L667.5,458.2L662.3,460.1L657.3,463.4Z" fill="#0bf922"/><path d="M537.4,436.0L542.4,432.9L537.4,428.7L532.4,431.7Z" fill="#4dff7b"/><path d="M542.4,440.1L547.3,437.0L542.4,432.9L537.4,436.0Z" fill="#4bff8d"/><path d="M547.3,443.9L552.3,440.8L547.3,437.0L542.4,440.1Z" fill="#48ff9d"/><path d="M552.3,447.5L557.3,444.4L552.3,440.8L547.3,443.9Z" fill="#46ffac"/><path d="M557.3,450.8L562.2,447.7L557.3,444.4L552.3,447.5Z" fill="#43ffb9"/><path d="M562.2,454.0L567.2,450.8L562.2,447.7L557.3,450.8Z" fill="#41ffc5"/><path d="M567.2,456.9L572.1,453.7L567.2,450.8L562.2,454.0Z" fill="#3effcf"/><path d="M572.1,459.5L577.1,456.4L572.1,453.7L567.2,456.9Z" fill="#3bffd8"/><path d="M577.1,461.9L582.0,458.8L577.1,456.4L572.1,459.5Z" fill="#38ffdf"/><path d="M582.0,464.0L587.0,460.9L582.0,458.8L577.1,461.9Z" fill="#35ffe4"/><path d="M587.0,465.9L591.9,462.8L587.0,460.9L582.0,464.0Z" fill="#32ffe7"/><path d="M591.9,467.6L596.9,464.5L591.9,462.8L587.0,465.9Z" fill="#2effe9"/><path d="M596.9,469.0L601.9,465.8L596.9,464.5L591.9,467.6Z" fill="#2bffe9"/><path d="M601.8,470.1L606.8,467.0L601.9,465.8L596.9,469.0Z" fill="#28ffe6"/><path d="M606.8,471.0L611.8,467.8L606.8,467.0L601.8,470.1Z" fill="#24ffe2"/><path d="M611.8,471.6L616.8,468.4L611.8,467.8L606.8,471.0Z" fill="#21ffdb"/><path d="M616.8,471.9L621.8,468.8L616.8,468.4L611.8,471.6Z" fill="#1effd2"/><path d="M621.8,472.0L626.8,468.8L621.8,468.8L616.8,471.9Z" fill="#1bffc6"/><path d="M626.8,471.7L631.8,468.6L626.8,468.8L621.8,472.0Z" fill="#18ffb8"/><path d="M631.9,471.2L636.9,468.2L631.8,468.6L626.8,471.7Z" fill="#15ffa7"/><path d="M636.9,470.5L641.9,467.4L636.9,468.2L631.9,471.2Z" fill="#12ff94"/><path d="M642.0,469.4L647.0,466.3L641.9,467.4L636.9,470.5Z" fill="#0fff7e"/><path d="M647.1,468.0L652.1,465.0L647.0,466.3L642.0,469.4Z" fill="#0dfe65"/><path d="M652.2,466.4L657.3,463.4L652.1,465.0L647.1,468.0Z" fill="#0af949"/><path d="M657.4,464.5L662.4,461.5L657.3,463.4L652.2,466.4Z" fill="#08f42b"/><path d="M532.4,438.9L537.4,436.0L532.4,431.7L527.4,434.6Z" fill="#4aff84"/><path d="M537.4,442.9L542.4,440.1L537.4,436.0L532.4,438.9Z" fill="#48ff96"/><path d="M542.4,446.8L547.3,443.9L542.4,440.1L537.4,442.9Z" fill="#46ffa6"/><path d="M547.3,450.4L552.3,447.5L547.3,443.9L542.4,446.8Z" fill="#43ffb5"/><path d="M552.3,453.7L557.3,450.8L552.3,447.5L547.3,450.4Z" fill="#41ffc2"/><path d="M557.2,456.8L562.2,454.0L557.3,450.8L552.3,453.7Z" fill="#3effce"/><path d="M562.2,459.7L567.2,456.9L562.2,454.0L557.2,456.8Z" fill="#3bffd9"/><path d="M567.1,462.4L572.1,459.5L567.2,456.9L562.2,459.7Z" fill="#38ffe1"/><path d="M572.1,464.8L577.1,461.9L572.1,459.5L567.1,462.4Z" fill="#35ffe9"/><path d="M577.0,466.9L582.0,464.0L577.1,461.9L572.1,464.8Z" fill="#32ffee"/><path d="M582.0,468.8L587.0,465.9L582.0,464.0L577.0,466.9Z" fill="#2efff1"/><path d="M586.9,470.5L591.9,467.6L587.0,465.9L582.0,468.8Z" fill="#2bfff3"/><path d="M591.9,471.9L596.9,469.0L591.9,467.6L586.9,470.5Z" fill="#28fff3"/><path d="M596.9,473.0L601.8,470.1L596.9,469.0L591.9,471.9Z" fill="#24fff0"/><path d="M601.8,473.8L606.8,471.0L601.8,470.1L596.9,473.0Z" fill="#21ffeb"/><path d="M606.8,474.4L611.8,471.6L606.8,471.0L601.8,473.8Z" fill="#1effe5"/><path d="M611.8,474.8L616.8,471.9L611.8,471.6L606.8,474.4Z" fill="#1bffdb"/><path d="M616.8,474.8L621.8,472.0L616.8,471.9L611.8,474.8Z" fill="#18ffcf"/><path d="M621.8,474.6L626.8,471.7L621.8,472.0L616.8,474.8Z" fill="#15ffc1"/><path d="M626.9,474.1L631.9,471.2L626.8,471.7L621.8,474.6Z" fill="#12ffb0"/><path d="M631.9,473.3L636.9,470.5L631.9,471.2L626.9,474.1Z" fill="#0fff9d"/><path d="M637.0,472.2L642.0,469.4L636.9,470.5L631.9,473.3Z" fill="#0dfd86"/><path d="M642.1,470.8L647.1,468.0L642.0,469.4L637.0,472.2Z" fill="#0af86b"/><path d="M647.2,469.1L652.2,466.4L647.1,468.0L642.1,470.8Z" fill="#08f34f"/><path d="M652.3,467.2L657.4,464.5L652.2,466.4L647.2,469.1Z" fill="#06ee31"/><path d="M527.4,441.5L532.4,438.9L527.4,434.6L522.4,437.2Z" fill="#47ff8b"/><path d="M532.4,445.5L537.4,442.9L532.4,438.9L527.4,441.5Z" fill="#45ff9d"/><path d="M537.4,449.4L542.4,446.8L537.4,442.9L532.4,445.5Z" fill="#43ffae"/><path d="M542.4,453.0L547.3,450.4L542.4,446.8L537.4,449.4Z" fill="#40ffbd"/><path d="M547.3,456.4L552.3,453.7L547.3,450.4L542.4,453.0Z" fill="#3dffca"/><path d="M552.3,459.5L557.2,456.8L552.3,453.7L547.3,456.4Z" fill="#3bffd6"/><path d="M557.2,462.4L562.2,459.7L557.2,456.8L552.3,459.5Z" fill="#38ffe1"/><path d="M562.2,465.0L567.1,462.4L562.2,459.7L557.2,462.4Z" fill="#35ffea"/><path d="M567.1,467.4L572.1,464.8L567.1,462.4L562.2,465.0Z" fill="#32fff1"/><path d="M572.1,469.6L577.0,466.9L572.1,464.8L567.1,467.4Z" fill="#2efff6"/><path d="M577.0,471.5L582.0,468.8L577.0,466.9L572.1,469.6Z" fill="#2bfffa"/><path d="M582.0,473.1L586.9,470.5L582.0,468.8L577.0,471.5Z" fill="#28fffb"/><path d="M586.9,474.5L591.9,471.9L586.9,470.5L582.0,473.1Z" fill="#24fffb"/><path d="M591.9,475.6L596.9,473.0L591.9,471.9L586.9,474.5Z" fill="#21fff8"/><path d="M596.9,476.5L601.8,473.8L596.9,473.0L591.9,475.6Z" fill="#1efff4"/><path d="M601.8,477.1L606.8,474.4L601.8,473.8L596.9,476.5Z" fill="#1bffec"/><path d="M606.8,477.4L611.8,474.8L606.8,474.4L601.8,477.1Z" fill="#18ffe3"/><path d="M611.8,477.4L616.8,474.8L611.8,474.8L606.8,477.4Z" fill="#15ffd7"/><path d="M616.8,477.2L621.8,474.6L616.8,474.8L611.8,477.4Z" fill="#12ffc8"/><path d="M621.9,476.6L626.9,474.1L621.8,474.6L616.8,477.2Z" fill="#0fffb7"/><path d="M626.9,475.8L631.9,473.3L626.9,474.1L621.9,476.6Z" fill="#0cfda2"/><path d="M632.0,474.7L637.0,472.2L631.9,473.3L626.9,475.8Z" fill="#0af889"/><path d="M637.1,473.3L642.1,470.8L637.0,472.2L632.0,474.7Z" fill="#08f36e"/><path d="M642.2,471.6L647.2,469.1L642.1,470.8L637.1,473.3Z" fill="#06ed52"/><path d="M647.3,469.7L652.3,467.2L647.2,469.1L642.2,471.6Z" fill="#04e834"/><path d="M522.4,443.8L527.4,441.5L522.4,437.2L517.4,439.5Z" fill="#45ff91"/><path d="M527.4,447.9L532.4,445.5L527.4,441.5L522.4,443.8Z" fill="#42ffa3"/><path d="M532.4,451.8L537.4,449.4L532.4,445.5L527.4,447.9Z" fill="#40ffb4"/><path d="M537.4,455.4L542.4,453.0L537.4,449.4L532.4,451.8Z" fill="#3dffc3"/><path d="M542.4,458.7L547.3,456.4L542.4,453.0L537.4,455.4Z" fill="#3affd1"/><path d="M547.3,461.9L552.3,459.5L547.3,456.4L542.4,458.7Z" fill="#37ffdd"/><path d="M552.3,464.8L557.2,462.4L552.3,459.5L547.3,461.9Z" fill="#34ffe7"/><path d="M557.2,467.4L562.2,465.0L557.2,462.4L552.3,464.8Z" fill="#31fff0"/><path d="M562.2,469.8L567.1,467.4L562.2,465.0L557.2,467.4Z" fill="#2efff8"/><path d="M567.1,472.0L572.1,469.6L567.1,467.4L562.2,469.8Z" fill="#2bfffd"/><path d="M572.1,473.9L577.0,471.5L572.1,469.6L567.1,472.0Z" fill="#28feff"/><path d="M577.0,475.5L582.0,473.1L577.0,471.5L572.1,473.9Z" fill="#24fcff"/><path d="M582.0,476.9L586.9,474.5L582.0,473.1L577.0,475.5Z" fill="#21fdff"/><path d="M586.9,478.0L591.9,475.6L586.9,474.5L582.0,476.9Z" fill="#1effff"/><path d="M591.9,478.8L596.9,476.5L591.9,475.6L586.9,478.0Z" fill="#1bfffa"/><path d="M596.9,479.4L601.8,477.1L596.9,476.5L591.9,478.8Z" fill="#18fff2"/><path d="M601.8,479.7L606.8,477.4L601.8,477.1L596.9,479.4Z" fill="#15ffe9"/><path d="M606.8,479.7L611.8,477.4L606.8,477.4L601.8,479.7Z" fill="#12ffdc"/><path d="M611.9,479.5L616.8,477.2L611.8,477.4L606.8,479.7Z" fill="#0fffcd"/><path d="M616.9,478.9L621.9,476.6L616.8,477.2L611.9,479.5Z" fill="#0cfdba"/><path d="M621.9,478.1L626.9,475.8L621.9,476.6L616.9,478.9Z" fill="#0af7a3"/><path d="M627.0,477.0L632.0,474.7L626.9,475.8L621.9,478.1Z" fill="#08f28a"/><path d="M632.1,475.6L637.1,473.3L632.0,474.7L627.0,477.0Z" fill="#06ed6f"/><path d="M637.2,473.9L642.2,471.6L637.1,473.3L632.1,475.6Z" fill="#04e853"/><path d="M642.3,471.9L647.3,469.7L642.2,471.6L637.2,473.9Z" fill="#02e236"/><path d="M517.5,446.0L522.4,443.8L517.4,439.5L512.4,441.6Z" fill="#41ff95"/><path d="M522.5,450.0L527.4,447.9L522.4,443.8L517.5,446.0Z" fill="#3fffa7"/><path d="M527.4,453.9L532.4,451.8L527.4,447.9L522.5,450.0Z" fill="#3dffb8"/><path d="M532.4,457.5L537.4,455.4L532.4,451.8L527.4,453.9Z" fill="#3affc7"/><path d="M537.4,460.9L542.4,458.7L537.4,455.4L532.4,457.5Z" fill="#37ffd5"/><path d="M542.4,464.0L547.3,461.9L542.4,458.7L537.4,460.9Z" fill="#34ffe1"/><path d="M547.3,466.9L552.3,464.8L547.3,461.9L542.4,464.0Z" fill="#31ffec"/><path d="M552.3,469.6L557.2,467.4L552.3,464.8L547.3,466.9Z" fill="#2efff5"/><path d="M557.2,472.0L562.2,469.8L557.2,467.4L552.3,469.6Z" fill="#2bfffc"/><path d="M562.2,474.1L567.1,472.0L562.2,469.8L557.2,472.0Z" fill="#28fcff"/><path d="M567.1,476.0L572.1,473.9L567.1,472.0L562.2,474.1Z" fill="#24f9ff"/><path d="M572.0,477.6L577.0,475.5L572.1,473.9L567.1,476.0Z" fill="#21f7ff"/><path d="M577.0,479.0L582.0,476.9L577.0,475.5L572.0,477.6Z" fill="#1ef8ff"/><path d="M582.0,480.1L586.9,478.0L582.0,476.9L577.0,479.0Z" fill="#1bfbff"/><path d="M586.9,481.0L591.9,478.8L586.9,478.0L582.0,480.1Z" fill="#17fffe"/><path d="M591.9,481.5L596.9,479.4L591.9,478.8L586.9,481.0Z" fill="#14fff6"/><path d="M596.9,481.8L601.8,479.7L596.9,479.4L591.9,481.5Z" fill="#12ffec"/><path d="M601.9,481.8L606.8,479.7L601.8,479.7L596.9,481.8Z" fill="#0fffdf"/><path d="M606.9,481.5L611.9,479.5L606.8,479.7L601.9,481.8Z" fill="#0cfcce"/><path d="M611.9,481.0L616.9,478.9L611.9,479.5L606.9,481.5Z" fill="#0af7b9"/><path d="M616.9,480.1L621.9,478.1L616.9,478.9L611.9,481.0Z" fill="#08f2a1"/><path d="M622.0,479.0L627.0,477.0L621.9,478.1L616.9,480.1Z" fill="#06ec88"/><path d="M627.1,477.6L632.1,475.6L627.0,477.0L622.0,479.0Z" fill="#04e76e"/><path d="M632.2,475.8L637.2,473.9L632.1,475.6L627.1,477.6Z" fill="#02e252"/><path d="M637.3,473.8L642.3,471.9L637.2,473.9L632.2,475.8Z" fill="#01dd35"/><path d="M512.5,447.8L517.5,446.0L512.4,441.6L507.5,443.5Z" fill="#3eff97"/><path d="M517.5,451.9L522.5,450.0L517.5,446.0L512.5,447.8Z" fill="#3cffaa"/><path d="M522.5,455.8L527.4,453.9L522.5,450.0L517.5,451.9Z" fill="#39ffbb"/><path d="M527.5,459.4L532.4,457.5L527.4,453.9L522.5,455.8Z" fill="#37ffca"/><path d="M532.4,462.8L537.4,460.9L532.4,457.5L527.5,459.4Z" fill="#34ffd8"/><path d="M537.4,465.9L542.4,464.0L537.4,460.9L532.4,462.8Z" fill="#31ffe4"/><path d="M542.4,468.8L547.3,466.9L542.4,464.0L537.4,465.9Z" fill="#2effef"/><path d="M547.3,471.5L552.3,469.6L547.3,466.9L542.4,468.8Z" fill="#2bfff8"/><path d="M552.3,473.9L557.2,472.0L552.3,469.6L547.3,471.5Z" fill="#27ffff"/><path d="M557.2,476.0L562.2,474.1L557.2,472.0L552.3,473.9Z" fill="#24f9ff"/><path d="M562.1,477.9L567.1,476.0L562.2,474.1L557.2,476.0Z" fill="#21f6ff"/><path d="M567.1,479.5L572.0,477.6L567.1,476.0L562.1,477.9Z" fill="#1ef5ff"/><path d="M572.1,480.9L577.0,479.0L572.0,477.6L567.1,479.5Z" fill="#1bf6ff"/><path d="M577.0,482.0L582.0,480.1L577.0,479.0L572.1,480.9Z" fill="#17f9ff"/><path d="M582.0,482.8L586.9,481.0L582.0,480.1L577.0,482.0Z" fill="#14feff"/><path d="M586.9,483.3L591.9,481.5L586.9,481.0L582.0,482.8Z" fill="#11fff8"/><path d="M591.9,483.6L596.9,481.8L591.9,481.5L586.9,483.3Z" fill="#0fffed"/><path d="M596.9,483.6L601.9,481.8L596.9,481.8L591.9,483.6Z" fill="#0cfcde"/><path d="M601.9,483.3L606.9,481.5L601.9,481.8L596.9,483.6Z" fill="#0af7ca"/><path d="M606.9,482.7L611.9,481.0L606.9,481.5L601.9,483.3Z" fill="#07f1b5"/><path d="M612.0,481.9L616.9,480.1L611.9,481.0L606.9,482.7Z" fill="#05ec9d"/><path d="M617.0,480.7L622.0,479.0L616.9,480.1L612.0,481.9Z" fill="#04e684"/><path d="M622.1,479.3L627.1,477.6L622.0,479.0L617.0,480.7Z" fill="#02e16a"/><path d="M627.2,477.5L632.2,475.8L627.1,477.6L622.1,479.3Z" fill="#01dc4f"/><path d="M632.3,475.4L637.3,473.8L632.2,475.8L627.2,477.5Z" fill="#00d733"/><path d="M507.5,449.5L512.5,447.8L507.5,443.5L502.5,445.1Z" fill="#3bff98"/><path d="M512.5,453.6L517.5,451.9L512.5,447.8L507.5,449.5Z" fill="#39ffaa"/><path d="M517.5,457.4L522.5,455.8L517.5,451.9L512.5,453.6Z" fill="#36ffbb"/><path d="M522.5,461.0L527.5,459.4L522.5,455.8L517.5,457.4Z" fill="#33ffcb"/><path d="M527.5,464.4L532.4,462.8L527.5,459.4L522.5,461.0Z" fill="#30ffd9"/><path d="M532.4,467.6L537.4,465.9L532.4,462.8L527.5,464.4Z" fill="#2dffe5"/><path d="M537.4,470.5L542.4,468.8L537.4,465.9L532.4,467.6Z" fill="#2afff0"/><path d="M542.4,473.1L547.3,471.5L542.4,468.8L537.4,470.5Z" fill="#27fff9"/><path d="M547.3,475.5L552.3,473.9L547.3,471.5L542.4,473.1Z" fill="#24feff"/><path d="M552.3,477.6L557.2,476.0L552.3,473.9L547.3,475.5Z" fill="#21f9ff"/><path d="M557.2,479.5L562.1,477.9L557.2,476.0L552.3,477.6Z" fill="#1ef5ff"/><path d="M562.1,481.1L567.1,479.5L562.1,477.9L557.2,479.5Z" fill="#1af4ff"/><path d="M567.1,482.5L572.1,480.9L567.1,479.5L562.1,481.1Z" fill="#17f5ff"/><path d="M572.1,483.6L577.0,482.0L572.1,480.9L567.1,482.5Z" fill="#14f9ff"/><path d="M577.0,484.4L582.0,482.8L577.0,482.0L572.1,483.6Z" fill="#11ffff"/><path d="M582.0,484.9L586.9,483.3L582.0,482.8L577.0,484.4Z" fill="#0ffff7"/><path d="M587.0,485.2L591.9,483.6L586.9,483.3L582.0,484.9Z" fill="#0cfcea"/><path d="M592.0,485.1L596.9,483.6L591.9,483.6L587.0,485.2Z" fill="#09f6d8"/><path d="M597.0,484.8L601.9,483.3L596.9,483.6L592.0,485.1Z" fill="#07f1c4"/><path d="M602.0,484.2L606.9,482.7L601.9,483.3L597.0,484.8Z" fill="#05ebae"/><path d="M607.0,483.4L612.0,481.9L606.9,482.7L602.0,484.2Z" fill="#03e697"/><path d="M612.1,482.2L617.0,480.7L612.0,481.9L607.0,483.4Z" fill="#02e07f"/><path d="M617.1,480.7L622.1,479.3L617.0,480.7L612.1,482.2Z" fill="#01db65"/><path d="M622.2,478.9L627.2,477.5L622.1,479.3L617.1,480.7Z" fill="#00ac1c"/><path d="M627.3,476.8L632.3,475.4L627.2,477.5L622.2,478.9Z" fill="#00b005"/><path d="M502.5,450.8L507.5,449.5L502.5,445.1L497.5,446.5Z" fill="#38ff96"/><path d="M507.5,454.9L512.5,453.6L507.5,449.5L502.5,450.8Z" fill="#35ffa9"/><path d="M512.5,458.8L517.5,457.4L512.5,453.6L507.5,454.9Z" fill="#33ffba"/><path d="M517.5,462.4L522.5,461.0L517.5,457.4L512.5,458.8Z" fill="#30ffca"/><path d="M522.5,465.8L527.5,464.4L522.5,461.0L517.5,462.4Z" fill="#2dffd8"/><path d="M527.5,468.9L532.4,467.6L527.5,464.4L522.5,465.8Z" fill="#2affe4"/><path d="M532.4,471.8L537.4,470.5L532.4,467.6L527.5,468.9Z" fill="#27ffef"/><path d="M537.4,474.5L542.4,473.1L537.4,470.5L532.4,471.8Z" fill="#24fff8"/><path d="M542.4,476.9L547.3,475.5L542.4,473.1L537.4,474.5Z" fill="#21ffff"/><path d="M547.3,479.0L552.3,477.6L547.3,475.5L542.4,476.9Z" fill="#1dfaff"/><path d="M552.3,480.9L557.2,479.5L552.3,477.6L547.3,479.0Z" fill="#1af7ff"/><path d="M557.2,482.5L562.1,481.1L557.2,479.5L552.3,480.9Z" fill="#17f6ff"/><path d="M562.2,483.8L567.1,482.5L562.1,481.1L557.2,482.5Z" fill="#14f7ff"/><path d="M567.1,484.9L572.1,483.6L567.1,482.5L562.2,483.8Z" fill="#11fbff"/><path d="M572.1,485.7L577.0,484.4L572.1,483.6L567.1,484.9Z" fill="#0efffd"/><path d="M577.0,486.2L582.0,484.9L577.0,484.4L572.1,485.7Z" fill="#0cfcf1"/><path d="M582.0,486.5L587.0,485.2L582.0,484.9L577.0,486.2Z" fill="#09f6e1"/><path d="M587.0,486.4L592.0,485.1L587.0,485.2L582.0,486.5Z" fill="#07f0cf"/><path d="M592.0,486.1L597.0,484.8L592.0,485.1L587.0,486.4Z" fill="#05ebbb"/><path d="M597.0,485.5L602.0,484.2L597.0,484.8L592.0,486.1Z" fill="#03e5a6"/><path d="M602.0,484.6L607.0,483.4L602.0,484.2L597.0,485.5Z" fill="#02e08f"/><path d="M607.1,483.3L612.1,482.2L607.0,483.4L602.0,484.6Z" fill="#01da77"/><path d="M612.2,481.8L617.1,480.7L612.1,482.2L607.1,483.3Z" fill="#00ac2e"/><path d="M617.2,480.0L622.2,478.9L617.1,480.7L612.2,481.8Z" fill="#00b019"/><path d="M622.3,477.9L627.3,476.8L622.2,478.9L617.2,480.0Z" fill="#01b402"/><path d="M497.5,452.0L502.5,450.8L497.5,446.5L492.5,447.6Z" fill="#35ff93"/><path d="M502.6,456.1L507.5,454.9L502.5,450.8L497.5,452.0Z" fill="#32ffa6"/><path d="M507.6,459.9L512.5,458.8L507.5,454.9L502.6,456.1Z" fill="#2fffb7"/><path d="M512.6,463.5L517.5,462.4L512.5,458.8L507.6,459.9Z" fill="#2cffc7"/><path d="M517.5,466.9L522.5,465.8L517.5,462.4L512.6,463.5Z" fill="#29ffd5"/><path d="M522.5,470.1L527.5,468.9L522.5,465.8L517.5,466.9Z" fill="#26ffe1"/><path d="M527.5,472.9L532.4,471.8L527.5,468.9L522.5,470.1Z" fill="#23ffec"/><path d="M532.4,475.6L537.4,474.5L532.4,471.8L527.5,472.9Z" fill="#20fff5"/><path d="M537.4,478.0L542.4,476.9L537.4,474.5L532.4,475.6Z" fill="#1dfffc"/><path d="M542.4,480.1L547.3,479.0L542.4,476.9L537.4,478.0Z" fill="#1afeff"/><path d="M547.3,482.0L552.3,480.9L547.3,479.0L542.4,480.1Z" fill="#17fbff"/><path d="M552.3,483.6L557.2,482.5L552.3,480.9L547.3,482.0Z" fill="#14faff"/><path d="M557.2,484.9L562.2,483.8L557.2,482.5L552.3,483.6Z" fill="#11fcff"/><path d="M562.2,485.9L567.1,484.9L562.2,483.8L557.2,484.9Z" fill="#0efffe"/><path d="M567.1,486.7L572.1,485.7L567.1,484.9L562.2,485.9Z" fill="#0cfbf4"/><path d="M572.1,487.2L577.0,486.2L572.1,485.7L567.1,486.7Z" fill="#09f6e6"/><path d="M577.1,487.5L582.0,486.5L577.0,486.2L572.1,487.2Z" fill="#07f0d6"/><path d="M582.1,487.4L587.0,486.4L582.0,486.5L577.1,487.5Z" fill="#05eac4"/><path d="M587.1,487.0L592.0,486.1L587.0,486.4L582.1,487.4Z" fill="#03e5b1"/><path d="M592.1,486.4L597.0,485.5L592.0,486.1L587.1,487.0Z" fill="#02df9b"/><path d="M597.1,485.5L602.0,484.6L597.0,485.5L592.1,486.4Z" fill="#00da85"/><path d="M602.1,484.2L607.1,483.3L602.0,484.6L597.1,485.5Z" fill="#00ad3d"/><path d="M607.2,482.7L612.2,481.8L607.1,483.3L602.1,484.2Z" fill="#01b12a"/><path d="M612.3,480.9L617.2,480.0L612.2,481.8L607.2,482.7Z" fill="#01b515"/><path d="M617.4,478.7L622.3,477.9L617.2,480.0L612.3,480.9Z" fill="#07b902"/><path d="M492.6,452.8L497.5,452.0L492.5,447.6L487.5,448.5Z" fill="#31ff8e"/><path d="M497.6,456.9L502.6,456.1L497.5,452.0L492.6,452.8Z" fill="#2fffa1"/><path d="M502.6,460.8L507.6,459.9L502.6,456.1L497.6,456.9Z" fill="#2cffb2"/><path d="M507.6,464.4L512.6,463.5L507.6,459.9L502.6,460.8Z" fill="#29ffc2"/><path d="M512.6,467.8L517.5,466.9L512.6,463.5L507.6,464.4Z" fill="#26ffd0"/><path d="M517.5,470.9L522.5,470.1L517.5,466.9L512.6,467.8Z" fill="#23ffdc"/><path d="M522.5,473.8L527.5,472.9L522.5,470.1L517.5,470.9Z" fill="#20ffe6"/><path d="M527.5,476.4L532.4,475.6L527.5,472.9L522.5,473.8Z" fill="#1dffef"/><path d="M532.4,478.8L537.4,478.0L532.4,475.6L527.5,476.4Z" fill="#1afff6"/><path d="M537.4,480.9L542.4,480.1L537.4,478.0L532.4,478.8Z" fill="#17fffb"/><path d="M542.4,482.8L547.3,482.0L542.4,480.1L537.4,480.9Z" fill="#14fffd"/><path d="M547.3,484.4L552.3,483.6L547.3,482.0L542.4,482.8Z" fill="#11fffd"/><path d="M552.3,485.7L557.2,484.9L552.3,483.6L547.3,484.4Z" fill="#0efffb"/><path d="M557.2,486.7L562.2,485.9L557.2,484.9L552.3,485.7Z" fill="#0cfbf3"/><path d="M562.2,487.5L567.1,486.7L562.2,485.9L557.2,486.7Z" fill="#09f6e7"/><path d="M567.1,488.0L572.1,487.2L567.1,486.7L562.2,487.5Z" fill="#07f0d9"/><path d="M572.1,488.2L577.1,487.5L572.1,487.2L567.1,488.0Z" fill="#05eac9"/><path d="M577.1,488.1L582.1,487.4L577.1,487.5L572.1,488.2Z" fill="#03e4b7"/><path d="M582.1,487.7L587.1,487.0L582.1,487.4L577.1,488.1Z" fill="#01dfa4"/><path d="M587.1,487.1L592.1,486.4L587.1,487.0L582.1,487.7Z" fill="#00d98f"/><path d="M592.1,486.1L597.1,485.5L592.1,486.4L587.1,487.1Z" fill="#00ad48"/><path d="M597.2,484.8L602.1,484.2L597.1,485.5L592.1,486.1Z" fill="#01b237"/><path d="M602.2,483.3L607.2,482.7L602.1,484.2L597.2,484.8Z" fill="#01b624"/><path d="M607.3,481.4L612.3,480.9L607.2,482.7L602.2,483.3Z" fill="#02ba0e"/><path d="M612.4,479.2L617.4,478.7L612.3,480.9L607.3,481.4Z" fill="#10be03"/><path d="M487.6,453.4L492.6,452.8L487.5,448.5L482.5,449.1Z" fill="#2eff86"/><path d="M492.6,457.5L497.6,456.9L492.6,452.8L487.6,453.4Z" fill="#2bff99"/><path d="M497.6,461.4L502.6,460.8L497.6,456.9L492.6,457.5Z" fill="#28ffaa"/><path d="M502.6,465.0L507.6,464.4L502.6,460.8L497.6,461.4Z" fill="#26ffba"/><path d="M507.6,468.4L512.6,467.8L507.6,464.4L502.6,465.0Z" fill="#23ffc8"/><path d="M512.6,471.5L517.5,470.9L512.6,467.8L507.6,468.4Z" fill="#20ffd4"/><path d="M517.6,474.4L522.5,473.8L517.5,470.9L512.6,471.5Z" fill="#1dffdf"/><path d="M522.5,477.0L527.5,476.4L522.5,473.8L517.6,474.4Z" fill="#1affe7"/><path d="M527.5,479.4L532.4,478.8L527.5,476.4L522.5,477.0Z" fill="#17ffee"/><path d="M532.4,481.5L537.4,480.9L532.4,478.8L527.5,479.4Z" fill="#14fff2"/><path d="M537.4,483.3L542.4,482.8L537.4,480.9L532.4,481.5Z" fill="#11fff4"/><path d="M542.4,484.9L547.3,484.4L542.4,482.8L537.4,483.3Z" fill="#0efff4"/><path d="M547.3,486.2L552.3,485.7L547.3,484.4L542.4,484.9Z" fill="#0cfbee"/><path d="M552.3,487.2L557.2,486.7L552.3,485.7L547.3,486.2Z" fill="#09f5e5"/><path d="M557.2,488.0L562.2,487.5L557.2,486.7L552.3,487.2Z" fill="#07f0d8"/><path d="M562.2,488.4L567.1,488.0L562.2,487.5L557.2,488.0Z" fill="#05eaca"/><path d="M567.2,488.6L572.1,488.2L567.1,488.0L562.2,488.4Z" fill="#03e4ba"/><path d="M572.2,488.5L577.1,488.1L572.1,488.2L567.2,488.6Z" fill="#01dea9"/><path d="M577.2,488.1L582.1,487.7L577.1,488.1L572.2,488.5Z" fill="#00d996"/><path d="M582.2,487.4L587.1,487.1L582.1,487.7L577.2,488.1Z" fill="#00ae50"/><path d="M587.2,486.4L592.1,486.1L587.1,487.1L582.2,487.4Z" fill="#01b241"/><path d="M592.2,485.1L597.2,484.8L592.1,486.1L587.2,486.4Z" fill="#01b630"/><path d="M597.3,483.6L602.2,483.3L597.2,484.8L592.2,485.1Z" fill="#02bb1c"/><path d="M602.3,481.6L607.3,481.4L602.2,483.3L597.3,483.6Z" fill="#03bf06"/><path d="M607.4,479.4L612.4,479.2L607.3,481.4L602.3,481.6Z" fill="#1bc204"/><path d="M482.5,453.8L487.6,453.4L482.5,449.1L477.5,449.5Z" fill="#2aff7d"/><path d="M487.6,457.9L492.6,457.5L487.6,453.4L482.5,453.8Z" fill="#28ff8f"/><path d="M492.6,461.7L497.6,461.4L492.6,457.5L487.6,457.9Z" fill="#25ffa1"/><path d="M497.6,465.3L502.6,465.0L497.6,461.4L492.6,461.7Z" fill="#22ffb0"/><path d="M502.6,468.7L507.6,468.4L502.6,465.0L497.6,465.3Z" fill="#1fffbe"/><path d="M507.6,471.8L512.6,471.5L507.6,468.4L502.6,468.7Z" fill="#1cffca"/><path d="M512.6,474.7L517.6,474.4L512.6,471.5L507.6,471.8Z" fill="#19ffd5"/><path d="M517.5,477.3L522.5,477.0L517.6,474.4L512.6,474.7Z" fill="#16ffdd"/><path d="M522.5,479.7L527.5,479.4L522.5,477.0L517.5,477.3Z" fill="#14ffe3"/><path d="M527.5,481.7L532.4,481.5L527.5,479.4L522.5,479.7Z" fill="#11ffe7"/><path d="M532.4,483.6L537.4,483.3L532.4,481.5L527.5,481.7Z" fill="#0effe9"/><path d="M537.4,485.1L542.4,484.9L537.4,483.3L532.4,483.6Z" fill="#0bfbe5"/><path d="M542.4,486.4L547.3,486.2L542.4,484.9L537.4,485.1Z" fill="#09f5de"/><path d="M547.3,487.4L552.3,487.2L547.3,486.2L542.4,486.4Z" fill="#07efd4"/><path d="M552.3,488.2L557.2,488.0L552.3,487.2L547.3,487.4Z" fill="#05eac8"/><path d="M557.2,488.6L562.2,488.4L557.2,488.0L552.3,488.2Z" fill="#03e4ba"/><path d="M562.2,488.8L567.2,488.6L562.2,488.4L557.2,488.6Z" fill="#01deaa"/><path d="M567.2,488.6L572.2,488.5L567.2,488.6L562.2,488.8Z" fill="#00d899"/><path d="M572.2,488.2L577.2,488.1L572.2,488.5L567.2,488.6Z" fill="#00ae55"/><path d="M577.2,487.5L582.2,487.4L577.2,488.1L572.2,488.2Z" fill="#01b348"/><path d="M582.2,486.5L587.2,486.4L582.2,487.4L577.2,487.5Z" fill="#01b739"/><path d="M587.3,485.2L592.2,485.1L587.2,486.4L582.2,486.5Z" fill="#02bb27"/><path d="M592.3,483.5L597.3,483.6L592.2,485.1L587.3,485.2Z" fill="#03bf12"/><path d="M597.4,481.6L602.3,481.6L597.3,483.6L592.3,483.5Z" fill="#0dc304"/><path d="M602.5,479.3L607.4,479.4L602.3,481.6L597.4,481.6Z" fill="#2ac705"/><path d="M477.5,453.9L482.5,453.8L477.5,449.5L472.5,449.5Z" fill="#27ff71"/><path d="M482.6,457.9L487.6,457.9L482.5,453.8L477.5,453.9Z" fill="#24ff83"/><path d="M487.6,461.8L492.6,461.7L487.6,457.9L482.6,457.9Z" fill="#22ff95"/><path d="M492.6,465.4L497.6,465.3L492.6,461.7L487.6,461.8Z" fill="#1fffa4"/><path d="M497.6,468.7L502.6,468.7L497.6,465.3L492.6,465.4Z" fill="#1cffb2"/><path d="M502.6,471.9L507.6,471.8L502.6,468.7L497.6,468.7Z" fill="#19ffbe"/><path d="M507.6,474.7L512.6,474.7L507.6,471.8L502.6,471.9Z" fill="#16ffc8"/><path d="M512.6,477.3L517.5,477.3L512.6,474.7L507.6,474.7Z" fill="#13ffd0"/><path d="M517.5,479.7L522.5,479.7L517.5,477.3L512.6,477.3Z" fill="#11ffd6"/><path d="M522.5,481.7L527.5,481.7L522.5,479.7L517.5,479.7Z" fill="#0effda"/><path d="M527.5,483.6L532.4,483.6L527.5,481.7L522.5,481.7Z" fill="#0bfbd8"/><path d="M532.4,485.1L537.4,485.1L532.4,483.6L527.5,483.6Z" fill="#09f5d3"/><path d="M537.4,486.4L542.4,486.4L537.4,485.1L532.4,485.1Z" fill="#07efcb"/><path d="M542.4,487.4L547.3,487.4L542.4,486.4L537.4,486.4Z" fill="#05eac1"/><path d="M547.3,488.1L552.3,488.2L547.3,487.4L542.4,487.4Z" fill="#03e4b5"/><path d="M552.3,488.5L557.2,488.6L552.3,488.2L547.3,488.1Z" fill="#01dea7"/><path d="M557.3,488.6L562.2,488.8L557.2,488.6L552.3,488.5Z" fill="#00d898"/><path d="M562.2,488.5L567.2,488.6L562.2,488.8L557.3,488.6Z" fill="#00ae56"/><path d="M567.2,488.0L572.2,488.2L567.2,488.6L562.2,488.5Z" fill="#01b34b"/><path d="M572.3,487.3L577.2,487.5L572.2,488.2L567.2,488.0Z" fill="#02b73d"/><path d="M577.3,486.2L582.2,486.5L577.2,487.5L572.3,487.3Z" fill="#02bc2d"/><path d="M582.3,484.9L587.3,485.2L582.2,486.5L577.3,486.2Z" fill="#03c01b"/><path d="M587.3,483.2L592.3,483.5L587.3,485.2L582.3,484.9Z" fill="#04c405"/><path d="M592.4,481.2L597.4,481.6L592.3,483.5L587.3,483.2Z" fill="#1dc805"/><path d="M597.5,479.0L602.5,479.3L597.4,481.6L592.4,481.2Z" fill="#3acb06"/><path d="M472.5,453.7L477.5,453.9L472.5,449.5L467.4,449.3Z" fill="#24ff62"/><path d="M477.5,457.7L482.6,457.9L477.5,453.9L472.5,453.7Z" fill="#21ff75"/><path d="M482.6,461.6L487.6,461.8L482.6,457.9L477.5,457.7Z" fill="#1eff86"/><path d="M487.6,465.2L492.6,465.4L487.6,461.8L482.6,461.6Z" fill="#1cff96"/><path d="M492.6,468.5L497.6,468.7L492.6,465.4L487.6,465.2Z" fill="#19ffa3"/><path d="M497.6,471.6L502.6,471.9L497.6,468.7L492.6,468.5Z" fill="#16ffaf"/><path d="M502.6,474.5L507.6,474.7L502.6,471.9L497.6,471.6Z" fill="#13ffb9"/><path d="M507.6,477.1L512.6,477.3L507.6,474.7L502.6,474.5Z" fill="#11ffc1"/><path d="M512.6,479.4L517.5,479.7L512.6,477.3L507.6,477.1Z" fill="#0effc6"/><path d="M517.5,481.4L522.5,481.7L517.5,479.7L512.6,479.4Z" fill="#0bfbc7"/><path d="M522.5,483.2L527.5,483.6L522.5,481.7L517.5,481.4Z" fill="#09f5c3"/><path d="M527.5,484.8L532.4,485.1L527.5,483.6L522.5,483.2Z" fill="#07efbe"/><path d="M532.4,486.0L537.4,486.4L532.4,485.1L527.5,484.8Z" fill="#05e9b6"/><path d="M537.4,487.0L542.4,487.4L537.4,486.4L532.4,486.0Z" fill="#03e4ad"/><path d="M542.4,487.7L547.3,488.1L542.4,487.4L537.4,487.0Z" fill="#01dea1"/><path d="M547.3,488.1L552.3,488.5L547.3,488.1L542.4,487.7Z" fill="#00d894"/><path d="M552.3,488.2L557.3,488.6L552.3,488.5L547.3,488.1Z" fill="#00ae54"/><path d="M557.3,488.0L562.2,488.5L557.3,488.6L552.3,488.2Z" fill="#01b34a"/><path d="M562.3,487.5L567.2,488.0L562.2,488.5L557.3,488.0Z" fill="#02b73f"/><path d="M567.3,486.8L572.3,487.3L567.2,488.0L562.3,487.5Z" fill="#02bc31"/><path d="M572.3,485.7L577.3,486.2L572.3,487.3L567.3,486.8Z" fill="#03c020"/><path d="M577.3,484.3L582.3,484.9L577.3,486.2L572.3,485.7Z" fill="#04c40c"/><path d="M582.4,482.6L587.3,483.2L582.3,484.9L577.3,484.3Z" fill="#15c805"/><path d="M587.4,480.6L592.4,481.2L587.3,483.2L582.4,482.6Z" fill="#30cc06"/><path d="M592.5,478.3L597.5,479.0L592.4,481.2L587.4,480.6Z" fill="#4dcd07"/><path d="M467.4,453.2L472.5,453.7L467.4,449.3L462.4,448.9Z" fill="#21ff51"/><path d="M472.5,457.3L477.5,457.7L472.5,453.7L467.4,453.2Z" fill="#1eff64"/><path d="M477.5,461.1L482.6,461.6L477.5,457.7L472.5,457.3Z" fill="#1bff75"/><path d="M482.6,464.7L487.6,465.2L482.6,461.6L477.5,461.1Z" fill="#19ff84"/><path d="M487.6,468.0L492.6,468.5L487.6,465.2L482.6,464.7Z" fill="#16ff92"/><path d="M492.6,471.1L497.6,471.6L492.6,468.5L487.6,468.0Z" fill="#13ff9e"/><path d="M497.6,473.9L502.6,474.5L497.6,471.6L492.6,471.1Z" fill="#10ffa7"/><path d="M502.6,476.5L507.6,477.1L502.6,474.5L497.6,473.9Z" fill="#0effaf"/><path d="M507.6,478.8L512.6,479.4L507.6,477.1L502.6,476.5Z" fill="#0bfab1"/><path d="M512.5,480.9L517.5,481.4L512.6,479.4L507.6,478.8Z" fill="#09f5b0"/><path d="M517.5,482.7L522.5,483.2L517.5,481.4L512.5,480.9Z" fill="#07efad"/><path d="M522.5,484.2L527.5,484.8L522.5,483.2L517.5,482.7Z" fill="#05e9a8"/><path d="M527.4,485.4L532.4,486.0L527.5,484.8L522.5,484.2Z" fill="#03e4a0"/><path d="M532.4,486.3L537.4,487.0L532.4,486.0L527.4,485.4Z" fill="#01de97"/><path d="M537.4,487.0L542.4,487.7L537.4,487.0L532.4,486.3Z" fill="#00d88c"/><path d="M542.4,487.4L547.3,488.1L542.4,487.7L537.4,487.0Z" fill="#00ae4e"/><path d="M547.3,487.5L552.3,488.2L547.3,488.1L542.4,487.4Z" fill="#01b347"/><path d="M552.3,487.3L557.3,488.0L552.3,488.2L547.3,487.5Z" fill="#02b83d"/><path d="M557.3,486.7L562.3,487.5L557.3,488.0L552.3,487.3Z" fill="#02bc30"/><path d="M562.3,485.9L567.3,486.8L562.3,487.5L557.3,486.7Z" fill="#03c021"/><path d="M567.3,484.8L572.3,485.7L567.3,486.8L562.3,485.9Z" fill="#04c40f"/><path d="M572.4,483.4L577.3,484.3L572.3,485.7L567.3,484.8Z" fill="#10c905"/><path d="M577.4,481.7L582.4,482.6L577.3,484.3L572.4,483.4Z" fill="#29cc06"/><path d="M582.5,479.6L587.4,480.6L582.4,482.6L577.4,481.7Z" fill="#44cd07"/><path d="M587.6,477.2L592.5,478.3L587.4,480.6L582.5,479.6Z" fill="#61ce09"/><path d="M462.4,452.4L467.4,453.2L462.4,448.9L457.3,448.1Z" fill="#1eff3e"/><path d="M467.5,456.5L472.5,457.3L467.4,453.2L462.4,452.4Z" fill="#1bff51"/><path d="M472.5,460.3L477.5,461.1L472.5,457.3L467.5,456.5Z" fill="#18ff62"/><path d="M477.5,463.9L482.6,464.7L477.5,461.1L472.5,460.3Z" fill="#16ff71"/><path d="M482.6,467.2L487.6,468.0L482.6,464.7L477.5,463.9Z" fill="#13ff7e"/><path d="M487.6,470.3L492.6,471.1L487.6,468.0L482.6,467.2Z" fill="#10ff89"/><path d="M492.6,473.1L497.6,473.9L492.6,471.1L487.6,470.3Z" fill="#0eff93"/><path d="M497.6,475.7L502.6,476.5L497.6,473.9L492.6,473.1Z" fill="#0bfa97"/><path d="M502.5,478.0L507.6,478.8L502.6,476.5L497.6,475.7Z" fill="#09f599"/><path d="M507.5,480.0L512.5,480.9L507.6,478.8L502.5,478.0Z" fill="#07ef98"/><path d="M512.5,481.8L517.5,482.7L512.5,480.9L507.5,480.0Z" fill="#05ea95"/><path d="M517.5,483.2L522.5,484.2L517.5,482.7L512.5,481.8Z" fill="#03e490"/><path d="M522.4,484.5L527.4,485.4L522.5,484.2L517.5,483.2Z" fill="#01de89"/><path d="M527.4,485.4L532.4,486.3L527.4,485.4L522.4,484.5Z" fill="#00d880"/><path d="M532.4,486.0L537.4,487.0L532.4,486.3L527.4,485.4Z" fill="#00ae45"/><path d="M537.4,486.4L542.4,487.4L537.4,487.0L532.4,486.0Z" fill="#01b33f"/><path d="M542.4,486.4L547.3,487.5L542.4,487.4L537.4,486.4Z" fill="#02b837"/><path d="M547.3,486.2L552.3,487.3L547.3,487.5L542.4,486.4Z" fill="#02bc2c"/><path d="M552.3,485.7L557.3,486.7L552.3,487.3L547.3,486.2Z" fill="#03c01f"/><path d="M557.3,484.8L562.3,485.9L557.3,486.7L552.3,485.7Z" fill="#04c50f"/><path d="M562.4,483.7L567.3,484.8L562.3,485.9L557.3,484.8Z" fill="#0ec905"/><path d="M567.4,482.2L572.4,483.4L567.3,484.8L562.4,483.7Z" fill="#26cd07"/><path d="M572.4,480.4L577.4,481.7L572.4,483.4L567.4,482.2Z" fill="#3fce08"/><path d="M577.5,478.3L582.5,479.6L577.4,481.7L572.4,480.4Z" fill="#5ace09"/><path d="M582.6,475.9L587.6,477.2L582.5,479.6L577.5,478.3Z" fill="#76ce0a"/><path d="M457.3,451.4L462.4,452.4L457.3,448.1L452.2,447.1Z" fill="#1bff28"/><path d="M462.4,455.5L467.5,456.5L462.4,452.4L457.3,451.4Z" fill="#18ff3b"/><path d="M467.4,459.3L472.5,460.3L467.5,456.5L462.4,455.5Z" fill="#15ff4b"/><path d="M472.5,462.8L477.5,463.9L472.5,460.3L467.4,459.3Z" fill="#13ff5a"/><path d="M477.5,466.2L482.6,467.2L477.5,463.9L472.5,462.8Z" fill="#10ff68"/><path d="M482.5,469.2L487.6,470.3L482.6,467.2L477.5,466.2Z" fill="#0eff73"/><path d="M487.5,472.0L492.6,473.1L487.6,470.3L482.5,469.2Z" fill="#0bfa7a"/><path d="M492.5,474.6L497.6,475.7L492.6,473.1L487.5,472.0Z" fill="#09f57e"/><path d="M497.5,476.8L502.5,478.0L497.6,475.7L492.5,474.6Z" fill="#07ef7f"/><path d="M502.5,478.8L507.5,480.0L502.5,478.0L497.5,476.8Z" fill="#05ea7f"/><path d="M507.5,480.6L512.5,481.8L507.5,480.0L502.5,478.8Z" fill="#03e47c"/><path d="M512.5,482.0L517.5,483.2L512.5,481.8L507.5,480.6Z" fill="#01de77"/><path d="M517.4,483.2L522.4,484.5L517.5,483.2L512.5,482.0Z" fill="#00d870"/><path d="M522.4,484.1L527.4,485.4L522.4,484.5L517.4,483.2Z" fill="#00ae39"/><path d="M527.4,484.7L532.4,486.0L527.4,485.4L522.4,484.1Z" fill="#01b334"/><path d="M532.4,485.1L537.4,486.4L532.4,486.0L527.4,484.7Z" fill="#02b72d"/><path d="M537.4,485.1L542.4,486.4L537.4,486.4L532.4,485.1Z" fill="#02bc24"/><path d="M542.4,484.8L547.3,486.2L542.4,486.4L537.4,485.1Z" fill="#03c019"/><path d="M547.3,484.2L552.3,485.7L547.3,486.2L542.4,484.8Z" fill="#04c50b"/><path d="M552.4,483.4L557.3,484.8L552.3,485.7L547.3,484.2Z" fill="#11c905"/><path d="M557.4,482.2L562.4,483.7L557.3,484.8L552.4,483.4Z" fill="#26cd07"/><path d="M562.4,480.7L567.4,482.2L562.4,483.7L557.4,482.2Z" fill="#3dce08"/><path d="M567.5,478.9L572.4,480.4L567.4,482.2L562.4,480.7Z" fill="#57ce09"/><path d="M572.5,476.7L577.5,478.3L572.4,480.4L567.5,478.9Z" fill="#71ce0a"/><path d="M577.6,474.3L582.6,475.9L577.5,478.3L572.5,476.7Z" fill="#8ece0b"/><path d="M452.2,450.1L457.3,451.4L452.2,447.1L447.1,445.8Z" fill="#20ff18"/><path d="M457.3,454.2L462.4,455.5L457.3,451.4L452.2,450.1Z" fill="#15ff22"/><path d="M462.4,458.0L467.4,459.3L462.4,455.5L457.3,454.2Z" fill="#13ff33"/><path d="M467.4,461.5L472.5,462.8L467.4,459.3L462.4,458.0Z" fill="#10ff41"/><path d="M472.4,464.8L477.5,466.2L472.5,462.8L467.4,461.5Z" fill="#0eff4e"/><path d="M477.5,467.8L482.5,469.2L477.5,466.2L472.4,464.8Z" fill="#0bfa58"/><path d="M482.5,470.6L487.5,472.0L482.5,469.2L477.5,467.8Z" fill="#09f55e"/><path d="M487.5,473.1L492.5,474.6L487.5,472.0L482.5,470.6Z" fill="#07ef63"/><path d="M492.5,475.4L497.5,476.8L492.5,474.6L487.5,473.1Z" fill="#05ea64"/><path d="M497.5,477.4L502.5,478.8L497.5,476.8L492.5,475.4Z" fill="#03e464"/><path d="M502.5,479.1L507.5,480.6L502.5,478.8L497.5,477.4Z" fill="#01de61"/><path d="M507.4,480.5L512.5,482.0L507.5,480.6L502.5,479.1Z" fill="#00d95d"/><path d="M512.4,481.7L517.4,483.2L512.5,482.0L507.4,480.5Z" fill="#00ae29"/><path d="M517.4,482.6L522.4,484.1L517.4,483.2L512.4,481.7Z" fill="#01b326"/><path d="M522.4,483.2L527.4,484.7L522.4,484.1L517.4,482.6Z" fill="#02b720"/><path d="M527.4,483.4L532.4,485.1L527.4,484.7L522.4,483.2Z" fill="#02bc19"/><path d="M532.4,483.4L537.4,485.1L532.4,485.1L527.4,483.4Z" fill="#03c00f"/><path d="M537.3,483.1L542.4,484.8L537.4,485.1L532.4,483.4Z" fill="#06c504"/><path d="M542.4,482.5L547.3,484.2L542.4,484.8L537.3,483.1Z" fill="#17c905"/><path d="M547.4,481.6L552.4,483.4L547.3,484.2L542.4,482.5Z" fill="#2bcd07"/><path d="M552.4,480.4L557.4,482.2L552.4,483.4L547.4,481.6Z" fill="#40ce08"/><path d="M557.4,478.9L562.4,480.7L557.4,482.2L552.4,480.4Z" fill="#57ce09"/><path d="M562.5,477.0L567.5,478.9L562.4,480.7L557.4,478.9Z" fill="#70ce0a"/><path d="M567.5,474.8L572.5,476.7L567.5,478.9L562.5,477.0Z" fill="#8bce0b"/><path d="M572.6,472.3L577.6,474.3L572.5,476.7L567.5,474.8Z" fill="#a8ce0c"/><path d="M447.1,448.5L452.2,450.1L447.1,445.8L442.0,444.3Z" fill="#35ff15"/><path d="M452.2,452.6L457.3,454.2L452.2,450.1L447.1,448.5Z" fill="#1eff12"/><path d="M457.3,456.3L462.4,458.0L457.3,454.2L452.2,452.6Z" fill="#10ff17"/><path d="M462.3,459.9L467.4,461.5L462.4,458.0L457.3,456.3Z" fill="#0eff26"/><path d="M467.4,463.1L472.4,464.8L467.4,461.5L462.3,459.9Z" fill="#0bfa32"/><path d="M472.4,466.2L477.5,467.8L472.4,464.8L467.4,463.1Z" fill="#09f53b"/><path d="M477.4,468.9L482.5,470.6L477.5,467.8L472.4,466.2Z" fill="#07f042"/><path d="M482.4,471.4L487.5,473.1L482.5,470.6L477.4,468.9Z" fill="#05ea46"/><path d="M487.4,473.7L492.5,475.4L487.5,473.1L482.4,471.4Z" fill="#03e448"/><path d="M492.4,475.6L497.5,477.4L492.5,475.4L487.4,473.7Z" fill="#01df48"/><path d="M497.4,477.3L502.5,479.1L497.5,477.4L492.4,475.6Z" fill="#00d946"/><path d="M502.4,478.7L507.4,480.5L502.5,479.1L497.4,477.3Z" fill="#00ae16"/><path d="M507.4,479.9L512.4,481.7L507.4,480.5L502.4,478.7Z" fill="#01b214"/><path d="M512.4,480.7L517.4,482.6L512.4,481.7L507.4,479.9Z" fill="#01b710"/><path d="M517.4,481.3L522.4,483.2L517.4,482.6L512.4,480.7Z" fill="#02bc0a"/><path d="M522.3,481.5L527.4,483.4L522.4,483.2L517.4,481.3Z" fill="#05c003"/><path d="M527.3,481.5L532.4,483.4L527.4,483.4L522.3,481.5Z" fill="#12c404"/><path d="M532.3,481.1L537.3,483.1L532.4,483.4L527.3,481.5Z" fill="#21c905"/><path d="M537.3,480.5L542.4,482.5L537.3,483.1L532.3,481.1Z" fill="#33cd07"/><path d="M542.4,479.5L547.4,481.6L542.4,482.5L537.3,480.5Z" fill="#46ce08"/><path d="M547.4,478.3L552.4,480.4L547.4,481.6L542.4,479.5Z" fill="#5cce09"/><path d="M552.4,476.7L557.4,478.9L552.4,480.4L547.4,478.3Z" fill="#73ce0a"/><path d="M557.5,474.8L562.5,477.0L557.4,478.9L552.4,476.7Z" fill="#8cce0b"/><path d="M562.5,472.6L567.5,474.8L562.5,477.0L557.5,474.8Z" fill="#a7ce0c"/><path d="M567.6,470.0L572.6,472.3L567.5,474.8L562.5,472.6Z" fill="#c3cf0d"/><path d="M441.9,446.6L447.1,448.5L442.0,444.3L436.8,442.4Z" fill="#4eff12"/><path d="M447.0,450.7L452.2,452.6L447.1,448.5L441.9,446.6Z" fill="#37ff10"/><path d="M452.1,454.4L457.3,456.3L452.2,452.6L447.0,450.7Z" fill="#22ff0e"/><path d="M457.2,457.9L462.3,459.9L457.3,456.3L452.1,454.4Z" fill="#0ffa0b"/><path d="M462.3,461.2L467.4,463.1L462.3,459.9L457.2,457.9Z" fill="#09f513"/><path d="M467.3,464.2L472.4,466.2L467.4,463.1L462.3,461.2Z" fill="#07f01d"/><path d="M472.3,466.9L477.4,468.9L472.4,466.2L467.3,464.2Z" fill="#05ea24"/><path d="M477.4,469.4L482.4,471.4L477.4,468.9L472.3,466.9Z" fill="#03e528"/><path d="M482.4,471.6L487.4,473.7L482.4,471.4L477.4,469.4Z" fill="#02df2b"/><path d="M487.4,473.6L492.4,475.6L487.4,473.7L482.4,471.6Z" fill="#00d92b"/><path d="M492.4,475.2L497.4,477.3L492.4,475.6L487.4,473.6Z" fill="#01ad00"/><path d="M497.4,476.6L502.4,478.7L497.4,477.3L492.4,475.2Z" fill="#03b201"/><path d="M502.3,477.7L507.4,479.9L502.4,478.7L497.4,476.6Z" fill="#07b701"/><path d="M507.3,478.5L512.4,480.7L507.4,479.9L502.3,477.7Z" fill="#0dbb02"/><path d="M512.3,479.0L517.4,481.3L512.4,480.7L507.3,478.5Z" fill="#16c003"/><path d="M517.3,479.3L522.3,481.5L517.4,481.3L512.3,479.0Z" fill="#21c404"/><path d="M522.3,479.2L527.3,481.5L522.3,481.5L517.3,479.3Z" fill="#2fc805"/><path d="M527.3,478.8L532.3,481.1L527.3,481.5L522.3,479.2Z" fill="#3fcc06"/><path d="M532.3,478.1L537.3,480.5L532.3,481.1L527.3,478.8Z" fill="#50ce08"/><path d="M537.3,477.1L542.4,479.5L537.3,480.5L532.3,478.1Z" fill="#64ce09"/><path d="M542.4,475.8L547.4,478.3L542.4,479.5L537.3,477.1Z" fill="#79ce0a"/><path d="M547.4,474.2L552.4,476.7L547.4,478.3L542.4,475.8Z" fill="#90ce0b"/><path d="M552.4,472.3L557.5,474.8L552.4,476.7L547.4,474.2Z" fill="#a9ce0c"/><path d="M557.5,470.0L562.5,472.6L557.5,474.8L552.4,472.3Z" fill="#c4cf0d"/><path d="M562.6,467.4L567.6,470.0L562.5,472.6L557.5,470.0Z" fill="#cfbe0f"/><path d="M436.8,444.5L441.9,446.6L436.8,442.4L431.6,440.2Z" fill="#6aff10"/><path d="M441.9,448.5L447.0,450.7L441.9,446.6L436.8,444.5Z" fill="#53ff0e"/><path d="M447.0,452.2L452.1,454.4L447.0,450.7L441.9,448.5Z" fill="#3dfa0b"/><path d="M452.1,455.7L457.2,457.9L452.1,454.4L447.0,452.2Z" fill="#2bf509"/><path d="M457.1,458.9L462.3,461.2L457.2,457.9L452.1,455.7Z" fill="#1af007"/><path d="M462.2,461.9L467.3,464.2L462.3,461.2L457.1,458.9Z" fill="#0deb05"/><path d="M467.2,464.7L472.3,466.9L467.3,464.2L462.2,461.9Z" fill="#03e505"/><path d="M472.3,467.1L477.4,469.4L472.3,466.9L467.2,464.7Z" fill="#02e00a"/><path d="M477.3,469.3L482.4,471.6L477.4,469.4L472.3,467.1Z" fill="#00da0d"/><path d="M482.3,471.2L487.4,473.6L482.4,471.6L477.3,469.3Z" fill="#1aad00"/><path d="M487.3,472.8L492.4,475.2L487.4,473.6L482.3,471.2Z" fill="#1bb101"/><path d="M492.3,474.2L497.4,476.6L492.4,475.2L487.3,472.8Z" fill="#1eb601"/><path d="M497.3,475.3L502.3,477.7L497.4,476.6L492.3,474.2Z" fill="#23bb02"/><path d="M502.3,476.0L507.3,478.5L502.3,477.7L497.3,475.3Z" fill="#2bbf03"/><path d="M507.3,476.5L512.3,479.0L507.3,478.5L502.3,476.0Z" fill="#34c404"/><path d="M512.3,476.7L517.3,479.3L512.3,479.0L507.3,476.5Z" fill="#40c805"/><path d="M517.3,476.6L522.3,479.2L517.3,479.3L512.3,476.7Z" fill="#4fcc06"/><path d="M522.3,476.2L527.3,478.8L522.3,479.2L517.3,476.6Z" fill="#5ece08"/><path d="M527.3,475.5L532.3,478.1L527.3,478.8L522.3,476.2Z" fill="#70ce09"/><path d="M532.3,474.4L537.3,477.1L532.3,478.1L527.3,475.5Z" fill="#83ce0a"/><path d="M537.3,473.1L542.4,475.8L537.3,477.1L532.3,474.4Z" fill="#98ce0b"/><path d="M542.4,471.4L547.4,474.2L542.4,475.8L537.3,473.1Z" fill="#afce0c"/><path d="M547.4,469.4L552.4,472.3L547.4,474.2L542.4,471.4Z" fill="#c8cf0d"/><path d="M552.5,467.1L557.5,470.0L552.4,472.3L547.4,469.4Z" fill="#cfbb0f"/><path d="M557.5,464.4L562.6,467.4L557.5,470.0L552.5,467.1Z" fill="#cf9f10"/><path d="M431.6,442.0L436.8,444.5L431.6,440.2L426.4,437.8Z" fill="#88ff0e"/><path d="M436.7,446.0L441.9,448.5L436.8,444.5L431.6,442.0Z" fill="#70fb0b"/><path d="M441.8,449.7L447.0,452.2L441.9,448.5L436.7,446.0Z" fill="#5bf609"/><path d="M446.9,453.2L452.1,455.7L447.0,452.2L441.8,449.7Z" fill="#48f007"/><path d="M452.0,456.4L457.1,458.9L452.1,455.7L446.9,453.2Z" fill="#38eb05"/><path d="M457.0,459.4L462.2,461.9L457.1,458.9L452.0,456.4Z" fill="#2ae603"/><path d="M462.1,462.1L467.2,464.7L462.2,461.9L457.0,459.4Z" fill="#1fe002"/><path d="M467.1,464.5L472.3,467.1L467.2,464.7L462.1,462.1Z" fill="#17db01"/><path d="M472.2,466.6L477.3,469.3L472.3,467.1L467.1,464.5Z" fill="#37ac00"/><path d="M477.2,468.5L482.3,471.2L477.3,469.3L472.2,466.6Z" fill="#37b101"/><path d="M482.2,470.1L487.3,472.8L482.3,471.2L477.2,468.5Z" fill="#39b501"/><path d="M487.2,471.4L492.3,474.2L487.3,472.8L482.2,470.1Z" fill="#3cba02"/><path d="M492.2,472.5L497.3,475.3L492.3,474.2L487.2,471.4Z" fill="#42be03"/><path d="M497.2,473.2L502.3,476.0L497.3,475.3L492.2,472.5Z" fill="#4bc304"/><path d="M502.2,473.7L507.3,476.5L502.3,476.0L497.2,473.2Z" fill="#55c705"/><path d="M507.2,473.8L512.3,476.7L507.3,476.5L502.2,473.7Z" fill="#62cc06"/><path d="M512.2,473.7L517.3,476.6L512.3,476.7L507.2,473.8Z" fill="#70cd07"/><path d="M517.2,473.2L522.3,476.2L517.3,476.6L512.2,473.7Z" fill="#80ce09"/><path d="M522.2,472.5L527.3,475.5L522.3,476.2L517.2,473.2Z" fill="#91ce0a"/><path d="M527.2,471.4L532.3,474.4L527.3,475.5L522.2,472.5Z" fill="#a4ce0b"/><path d="M532.3,470.0L537.3,473.1L532.3,474.4L527.2,471.4Z" fill="#b9ce0c"/><path d="M537.3,468.3L542.4,471.4L537.3,473.1L532.3,470.0Z" fill="#cfcd0d"/><path d="M542.4,466.2L547.4,469.4L542.4,471.4L537.3,468.3Z" fill="#cfb50f"/><path d="M547.4,463.8L552.5,467.1L547.4,469.4L542.4,466.2Z" fill="#cf9b10"/><path d="M552.5,461.1L557.5,464.4L552.5,467.1L547.4,463.8Z" fill="#cf7f11"/><path d="M426.4,439.3L431.6,442.0L426.4,437.8L421.2,435.1Z" fill="#a7fb0b"/><path d="M431.5,443.2L436.7,446.0L431.6,442.0L426.4,439.3Z" fill="#8ff609"/><path d="M436.6,446.9L441.8,449.7L436.7,446.0L431.5,443.2Z" fill="#79f107"/><path d="M441.7,450.4L446.9,453.2L441.8,449.7L436.6,446.9Z" fill="#66ec05"/><path d="M446.8,453.5L452.0,456.4L446.9,453.2L441.7,450.4Z" fill="#56e604"/><path d="M451.9,456.5L457.0,459.4L452.0,456.4L446.8,453.5Z" fill="#49e102"/><path d="M456.9,459.1L462.1,462.1L457.0,459.4L451.9,456.5Z" fill="#3edb01"/><path d="M462.0,461.5L467.1,464.5L462.1,462.1L456.9,459.1Z" fill="#57ac00"/><path d="M467.0,463.7L472.2,466.6L467.1,464.5L462.0,461.5Z" fill="#56b000"/><path d="M472.0,465.5L477.2,468.5L472.2,466.6L467.0,463.7Z" fill="#56b501"/><path d="M477.1,467.1L482.2,470.1L477.2,468.5L472.0,465.5Z" fill="#59b902"/><path d="M482.1,468.4L487.2,471.4L482.2,470.1L477.1,467.1Z" fill="#5ebe03"/><path d="M487.1,469.4L492.2,472.5L487.2,471.4L482.1,468.4Z" fill="#65c204"/><path d="M492.1,470.1L497.2,473.2L492.2,472.5L487.1,469.4Z" fill="#6ec705"/><path d="M497.1,470.5L502.2,473.7L497.2,473.2L492.1,470.1Z" fill="#79cb06"/><path d="M502.1,470.6L507.2,473.8L502.2,473.7L497.1,470.5Z" fill="#86cd07"/><path d="M507.1,470.4L512.2,473.7L507.2,473.8L502.1,470.6Z" fill="#93ce08"/><path d="M512.1,469.9L517.2,473.2L512.2,473.7L507.1,470.4Z" fill="#a2ce0a"/><path d="M517.1,469.1L522.2,472.5L517.2,473.2L512.1,469.9Z" fill="#b4ce0b"/><path d="M522.2,468.0L527.2,471.4L522.2,472.5L517.1,469.1Z" fill="#c7ce0c"/><path d="M527.2,466.5L532.3,470.0L527.2,471.4L522.2,468.0Z" fill="#cfc10d"/><path d="M532.2,464.8L537.3,468.3L532.3,470.0L527.2,466.5Z" fill="#cfab0f"/><path d="M537.3,462.7L542.4,466.2L537.3,468.3L532.2,464.8Z" fill="#cf9310"/><path d="M542.4,460.3L547.4,463.8L542.4,466.2L537.3,462.7Z" fill="#cf7911"/><path d="M547.4,457.5L552.5,461.1L547.4,463.8L542.4,460.3Z" fill="#d05d12"/><path d="M421.1,436.2L426.4,439.3L421.2,435.1L416.0,432.0Z" fill="#c7f609"/><path d="M426.3,440.1L431.5,443.2L426.4,439.3L421.1,436.2Z" fill="#aff107"/><path d="M431.4,443.8L436.6,446.9L431.5,443.2L426.3,440.1Z" fill="#99ec05"/><path d="M436.5,447.2L441.7,450.4L436.6,446.9L431.4,443.8Z" fill="#87e704"/><path d="M441.6,450.4L446.8,453.5L441.7,450.4L436.5,447.2Z" fill="#76e202"/><path d="M446.7,453.3L451.9,456.5L446.8,453.5L441.6,450.4Z" fill="#69dc01"/><path d="M451.8,455.9L456.9,459.1L451.9,456.5L446.7,453.3Z" fill="#5ed700"/><path d="M456.8,458.3L462.0,461.5L456.9,459.1L451.8,455.9Z" fill="#78af00"/><path d="M461.8,460.4L467.0,463.7L462.0,461.5L456.8,458.3Z" fill="#77b401"/><path d="M466.9,462.2L472.0,465.5L467.0,463.7L461.8,460.4Z" fill="#79b802"/><path d="M471.9,463.8L477.1,467.1L472.0,465.5L466.9,462.2Z" fill="#7cbd03"/><path d="M476.9,465.0L482.1,468.4L477.1,467.1L471.9,463.8Z" fill="#82c104"/><path d="M481.9,466.0L487.1,469.4L482.1,468.4L476.9,465.0Z" fill="#8ac605"/><path d="M487.0,466.6L492.1,470.1L487.1,469.4L481.9,466.0Z" fill="#94ca06"/><path d="M492.0,467.0L497.1,470.5L492.1,470.1L487.0,466.6Z" fill="#9fcd07"/><path d="M497.0,467.1L502.1,470.6L497.1,470.5L492.0,467.0Z" fill="#abce08"/><path d="M502.0,466.8L507.1,470.4L502.1,470.6L497.0,467.1Z" fill="#b8ce09"/><path d="M507.0,466.3L512.1,469.9L507.1,470.4L502.0,466.8Z" fill="#c7ce0b"/><path d="M512.0,465.4L517.1,469.1L512.1,469.9L507.0,466.3Z" fill="#cec40c"/><path d="M517.1,464.3L522.2,468.0L517.1,469.1L512.0,465.4Z" fill="#cfb20d"/><path d="M522.1,462.8L527.2,466.5L522.2,468.0L517.1,464.3Z" fill="#cf9d0e"/><path d="M527.1,461.0L532.2,464.8L527.2,466.5L522.1,462.8Z" fill="#cf8710"/><path d="M532.2,458.8L537.3,462.7L532.2,464.8L527.1,461.0Z" fill="#cf6f11"/><path d="M537.3,456.3L542.4,460.3L537.3,462.7L532.2,458.8Z" fill="#d05512"/><path d="M542.4,453.5L547.4,457.5L542.4,460.3L537.3,456.3Z" fill="#d03913"/></g>
<circle cx="415.7" cy="427.5" r="2.5" fill="#c00606" stroke="#5a1010" stroke-width="0.7"/>
<circle cx="542.4" cy="422.8" r="2.5" fill="#fcc8c8" stroke="#8a5050" stroke-width="0.7"/>
<circle cx="667.4" cy="459.0" r="2.5" fill="#fcc8c8" stroke="#8a5050" stroke-width="0.7"/>
<circle cx="542.4" cy="488.0" r="2.5" fill="#fcc8c8" stroke="#8a5050" stroke-width="0.7"/>
<circle cx="420.2" cy="520.4" r="1.3" fill="#111"/><circle cx="419.2" cy="499.5" r="1.3" fill="#111"/><circle cx="418.2" cy="478.5" r="1.3" fill="#111"/><circle cx="417.2" cy="457.6" r="1.3" fill="#111"/><circle cx="416.2" cy="436.7" r="1.3" fill="#111"/><circle cx="415.2" cy="415.8" r="1.3" fill="#111"/><circle cx="414.2" cy="394.9" r="1.3" fill="#111"/><circle cx="542.4" cy="617.1" r="1.3" fill="#111"/><circle cx="518.3" cy="605.6" r="1.3" fill="#111"/><circle cx="494.2" cy="594.1" r="1.3" fill="#111"/><circle cx="470.2" cy="582.6" r="1.3" fill="#111"/><circle cx="446.2" cy="571.1" r="1.3" fill="#111"/><circle cx="422.1" cy="559.6" r="1.3" fill="#111"/><circle cx="542.4" cy="617.1" r="1.3" fill="#111"/><circle cx="572.4" cy="602.7" r="1.3" fill="#111"/><circle cx="602.5" cy="588.3" r="1.3" fill="#111"/><circle cx="632.5" cy="574.0" r="1.3" fill="#111"/><circle cx="662.6" cy="559.6" r="1.3" fill="#111"/>
<g font-size="9.3" fill="#3c3c3c"><text x="415.7" y="518.7" text-anchor="end">0</text><text x="414.7" y="497.8" text-anchor="end">5</text><text x="413.7" y="476.8" text-anchor="end">10</text><text x="412.7" y="455.9" text-anchor="end">15</text><text x="411.7" y="435.0" text-anchor="end">20</text><text x="410.7" y="414.1" text-anchor="end">25</text><text x="409.7" y="393.2" text-anchor="end">30</text><text x="538.1" y="626.8" text-anchor="end">5</text><text x="514.0" y="615.3" text-anchor="end">8</text><text x="489.9" y="603.8" text-anchor="end">11</text><text x="465.9" y="592.3" text-anchor="end">14</text><text x="441.9" y="580.8" text-anchor="end">17</text><text x="417.8" y="569.3" text-anchor="end">20</text><text x="545.9" y="627.1" text-anchor="start">20</text><text x="575.9" y="612.7" text-anchor="start">30</text><text x="606.0" y="598.3" text-anchor="start">40</text><text x="636.0" y="584.0" text-anchor="start">50</text><text x="666.1" y="569.6" text-anchor="start">60</text></g>
<text x="436.8" y="613.4" font-size="8.4" fill="#3c3c3c" text-anchor="middle">C: Solid ratio (w/v)</text>
<text x="648.2" y="613.4" font-size="8.7" fill="#3c3c3c" text-anchor="middle">A: Amplitude (%)</text>
<text transform="translate(379.3,480.5) rotate(-90)" font-size="8.6" fill="#3c3c3c" text-anchor="middle">Akylamide concentration (ug/g DW)</text>
<text x="652.5" y="370.2" style="font-family:'Liberation Serif',serif;font-weight:bold;font-size:22.6px" fill="#000">E)</text></g>
<g id="pF"><path d="M407.0,827.2L539.5,782.9L672.0,827.2M405.9,804.5L539.5,762.4L673.1,804.5M404.8,781.8L539.5,741.8L674.2,781.8M403.7,759.1L539.5,721.2L675.3,759.1M402.6,736.4L539.5,700.6L676.4,736.4M401.5,713.7L539.5,680.0L677.5,713.7M400.4,691.0L539.5,659.4L678.6,691.0M407.0,827.2L400.4,691.0M440.1,816.2L435.2,683.1M473.2,805.1L469.9,675.2M506.4,794.0L504.7,667.3M539.5,782.9L539.5,659.4M672.0,827.2L678.6,691.0M645.5,818.4L650.8,684.7M619.0,809.5L623.0,678.4M592.5,800.7L595.1,672.1M566.0,791.8L567.3,665.8M539.5,782.9L539.5,659.4M409.0,869.8L400.4,691.0M670.0,869.8L678.6,691.0M539.5,821.5L539.5,659.4" fill="none" stroke="#262626" stroke-width="1.00"/>
<path d="M409.0,869.8L539.5,932.2L670.0,869.8L539.5,821.5Z" fill="#626262" stroke="#222" stroke-width="0.8"/>
<path d="M652.3,863.3L651.9,863.2L649.3,863.1L647.9,863.0L646.7,862.9L644.2,862.7L643.4,862.7L641.6,862.5L639.1,862.3L638.7,862.3L636.7,862.1L634.2,861.8L633.9,861.8L631.8,861.6L629.4,861.3L628.8,861.2L627.1,861.0L624.7,860.7L623.3,860.5L622.4,860.4L620.2,860.1L618.0,859.7L617.3,859.6L615.8,859.3L613.6,858.9L611.5,858.5L610.3,858.3L609.5,858.1L607.4,857.7L605.5,857.2L603.5,856.7L601.6,856.2L600.2,855.8L599.8,855.6L598.0,855.1L596.3,854.5L594.6,853.9L593.0,853.3L591.4,852.6L589.9,852.0L588.6,851.3L588.4,851.3L587.0,850.5L585.7,849.8L584.4,849.0L583.2,848.2L582.3,847.6L582.0,847.4L580.9,846.6L579.9,845.7L579.2,845.1L578.9,844.8L577.9,843.9L577.1,843.0L577.0,843.0L576.2,842.1L575.5,841.2L575.4,841.1L574.7,840.1L574.3,839.4L574.1,839.1L573.4,838.1L573.3,837.8L572.9,837.1L572.5,836.2L572.4,836.0L571.9,834.9L571.8,834.7L571.5,833.8L571.3,833.3" fill="none" stroke="#2a40e0" stroke-width="1.8" stroke-linecap="butt"/>
<path d="M665.7,868.2L664.6,868.2L661.9,868.2L661.8,868.2L658.9,868.2L658.1,868.2L656.1,868.1L654.3,868.1L653.2,868.1L650.4,868.0L650.4,868.0L647.6,868.0L646.5,867.9L644.8,867.9L642.6,867.8L642.1,867.8L639.3,867.7L638.6,867.7L636.6,867.6L634.5,867.5L633.8,867.5L631.1,867.3L630.4,867.3L628.5,867.2L626.2,867.0L625.8,867.0L623.2,866.8L621.8,866.7L620.6,866.7L618.0,866.5L617.4,866.4L615.5,866.2L613.0,866.0L612.8,866.0L610.5,865.7L608.1,865.5L607.9,865.5L605.6,865.2L603.3,864.9L602.8,864.8L600.9,864.6L598.6,864.2L597.1,863.9L596.4,863.8L594.2,863.4L592.1,863.0L590.4,862.7L590.0,862.6L587.9,862.1L585.9,861.6L584.0,861.1L582.1,860.6L580.3,860.0L579.2,859.6L578.6,859.4L576.9,858.8L575.3,858.1L574.7,857.8L573.8,857.4L572.4,856.7L571.0,856.0L569.7,855.2L568.4,854.4L567.3,853.6L567.3,853.6L566.2,852.7L565.2,851.8L564.6,851.2L564.2,850.9L563.3,849.9L562.8,849.2L562.6,848.9L561.8,847.9L561.5,847.4L561.2,846.9L560.6,845.9L560.5,845.7L560.0,844.8L559.8,844.1L559.6,843.7L559.2,842.6L559.2,842.6L558.8,841.4L558.7,841.2L558.5,840.3L558.4,839.8L558.2,839.1L558.1,838.4L558.0,837.9L557.9,837.1L557.9,836.7L557.8,835.8L557.8,835.5L557.7,834.5L557.7,834.3L557.7,833.2L557.7,833.0L557.7,832.0L557.7,831.8L557.8,830.7L557.8,830.5L557.8,829.5L557.8,829.2L557.9,828.3" fill="none" stroke="#2f96ea" stroke-width="1.8" stroke-linecap="butt"/>
<path d="M439.0,884.1L440.4,884.4L442.8,884.9L444.6,885.4L445.0,885.5L447.2,886.0L449.4,886.6L451.2,887.1L451.5,887.2L453.5,887.8L455.5,888.4L457.3,889.1L459.2,889.8L460.9,890.5L462.6,891.3L464.1,892.1L465.6,892.9L467.0,893.8L468.4,894.7L469.6,895.6L470.2,896.1L470.8,896.6L471.8,897.6L472.8,898.7L473.0,898.9L473.7,899.8L474.5,900.9L474.7,901.2" fill="none" stroke="#2f96ea" stroke-width="1.8" stroke-linecap="butt"/>
<path d="M656.1,876.5L654.6,876.5L652.8,876.6L651.3,876.7L649.6,876.8L648.0,876.8L646.3,876.9L644.7,877.0L643.0,877.0L641.5,877.1L639.8,877.2L638.2,877.2L636.5,877.3L635.0,877.4L633.2,877.4L631.7,877.5L630.0,877.6L628.5,877.6L626.7,877.7L625.2,877.8L623.4,877.8L622.0,877.9L620.1,878.0L618.8,878.0L616.8,878.1L615.5,878.1L613.5,878.2L612.3,878.2L610.2,878.3L609.1,878.4L606.8,878.5L605.9,878.5L603.5,878.6L602.7,878.6L600.2,878.7L599.6,878.7L596.8,878.8L596.4,878.8L593.4,879.0L593.2,879.0L590.1,879.1L590.0,879.1L587.0,879.2L586.6,879.2L583.9,879.3L583.2,879.4L580.8,879.5L579.7,879.5L577.7,879.6L576.2,879.7L574.7,879.7L572.7,879.8L571.7,879.9L569.1,880.0L568.7,880.0L565.7,880.2L565.4,880.2L562.8,880.4L561.7,880.5L559.9,880.6L557.9,880.7L557.1,880.8L554.4,881.0L553.9,881.1L551.6,881.3L549.7,881.5L549.0,881.6L546.4,881.9L545.2,882.0L543.9,882.2L541.6,882.6L540.1,882.9L539.3,883.0L537.0,883.5L535.0,884.0L533.0,884.5L532.9,884.6L531.1,885.1L529.3,885.8L527.7,886.5L526.1,887.2L524.6,888.0L523.7,888.5L523.3,888.8L521.9,889.6L520.7,890.5L519.6,891.4L518.9,892.1L518.5,892.4L517.4,893.4L516.4,894.3L516.1,894.7L515.5,895.4L514.5,896.4L514.0,897.1L513.7,897.5L512.8,898.5L512.2,899.3L512.0,899.6L511.2,900.7L510.6,901.5L510.4,901.8L509.6,902.9L509.2,903.6L508.9,904.0L508.1,905.2L507.9,905.7L507.4,906.3L506.7,907.5L506.6,907.7L506.0,908.7L505.4,909.7L505.3,909.8L504.6,911.0L504.3,911.7L504.0,912.2L503.3,913.4L503.2,913.7L502.7,914.6M539.5,821.5L538.9,822.5L538.6,823.1L538.3,823.5L537.8,824.5L537.7,824.6L537.2,825.5L536.8,826.2L536.6,826.5L536.0,827.5L535.8,827.8L535.4,828.5L534.9,829.3L534.8,829.5L534.2,830.5L534.0,830.9L533.6,831.5L533.0,832.5L533.0,832.6L532.4,833.6L532.0,834.2L531.8,834.6L531.2,835.6L531.1,835.8L530.6,836.6L530.1,837.4L529.9,837.6L529.3,838.7L529.0,839.1L528.7,839.7L528.0,840.7L528.0,840.8L527.4,841.7L526.9,842.5L526.7,842.7L526.1,843.8L525.8,844.2L525.4,844.8L524.7,845.8L524.7,845.9L524.0,846.8L523.5,847.7L523.3,847.8L522.6,848.9L522.2,849.5L521.9,849.9L521.2,850.9L520.9,851.3L520.4,851.9L519.7,852.9L519.4,853.2L518.9,853.9L518.1,854.9L517.8,855.1L517.2,855.8L516.4,856.8L516.0,857.2L515.5,857.8L514.6,858.7L513.9,859.4L513.6,859.7L512.6,860.6L511.5,861.5L511.1,861.9L510.4,862.4L509.3,863.2L508.0,864.0L506.7,864.8L505.9,865.3L505.3,865.6L503.9,866.3L502.3,867.0L500.6,867.6L498.8,868.2L498.0,868.4L496.9,868.8L495.0,869.3L492.9,869.7L490.6,870.1L490.4,870.1L488.3,870.5L485.9,870.8L485.2,870.8L483.4,871.0L480.8,871.3L480.7,871.3L478.2,871.5L476.5,871.6L475.5,871.6L472.7,871.8L472.5,871.8L469.9,871.9L468.7,871.9L467.0,871.9L464.9,872.0L464.1,872.0L461.3,872.0L461.1,872.0L458.2,872.0L457.7,872.0L455.1,872.1L454.1,872.0L452.1,872.0L450.6,872.0L449.0,872.0L447.2,872.0L445.9,872.0L443.7,871.9L442.8,871.9L440.3,871.8L439.7,871.8L436.9,871.8L436.6,871.8L433.5,871.7L433.4,871.7L430.2,871.6L430.2,871.6L427.1,871.4L426.8,871.4L423.9,871.3L423.5,871.3L420.7,871.2L420.2,871.2L417.5,871.1L416.8,871.0L414.2,870.9L413.5,870.9L411.0,870.8" fill="none" stroke="#22d6c4" stroke-width="1.8" stroke-linecap="butt"/>
<path d="M642.1,883.1L639.5,883.4L638.4,883.5L636.5,883.6L634.7,883.8L633.6,883.9L631.0,884.1L630.7,884.2L627.8,884.4L627.3,884.5L625.0,884.7L623.5,884.9L622.1,885.0L619.6,885.3L619.3,885.3L616.5,885.6L615.7,885.7L613.7,885.9L611.7,886.1L611.0,886.2L608.2,886.5L607.7,886.6L605.5,886.8L603.6,887.0L602.8,887.1L600.2,887.5L599.3,887.6L597.6,887.8L595.0,888.2L595.0,888.2L592.4,888.5L590.4,888.8L589.9,888.9L587.4,889.3L585.7,889.6L584.9,889.7L582.5,890.1L580.6,890.5L580.1,890.5L577.8,891.0L575.5,891.4L575.2,891.5L573.2,891.9L571.0,892.4L569.0,892.9L568.8,892.9L566.7,893.4L564.6,894.0L562.5,894.5L561.5,894.8L560.5,895.1L558.6,895.7L556.7,896.3L554.8,897.0L553.0,897.6L551.2,898.3L549.5,899.0L547.8,899.7L546.1,900.4L544.5,901.2L542.9,902.0L541.4,902.7L539.9,903.5L538.5,904.4L537.1,905.2L535.7,906.1L534.4,906.9L533.3,907.6L533.0,907.8L531.8,908.7L530.5,909.6L529.3,910.6L528.2,911.5L528.1,911.5L526.9,912.5L525.8,913.4L524.7,914.4L524.4,914.7L523.6,915.4L522.5,916.4L521.5,917.5L521.4,917.6L520.5,918.5L519.4,919.5L518.7,920.3L518.5,920.6L517.5,921.7M519.6,828.9L518.9,829.6L518.0,830.5L517.8,830.8L517.2,831.4L516.3,832.3L515.8,832.8L515.4,833.2L514.4,834.1L513.6,834.8L513.5,835.0L512.5,835.8L511.6,836.7L511.2,837.0L510.6,837.6L509.6,838.4L508.6,839.3L508.5,839.3L507.5,840.1L506.4,841.0L505.5,841.7L505.3,841.8L504.2,842.6L503.1,843.5L501.9,844.3L501.7,844.4L500.7,845.1L499.5,845.9L498.2,846.6L497.0,847.4L496.4,847.7L495.6,848.2L494.3,848.9L492.9,849.6L491.5,850.3L490.0,851.0L488.6,851.7L487.0,852.4L485.5,853.0L483.8,853.7L482.2,854.3L480.5,854.9L478.8,855.5L477.0,856.0L475.2,856.6L473.3,857.1L471.4,857.6L469.4,858.0L469.2,858.1L467.4,858.5L465.3,858.9L463.2,859.3L461.5,859.7L461.1,859.7L458.9,860.1L456.7,860.5L455.3,860.7L454.4,860.8L452.1,861.1L449.8,861.4L449.8,861.4L447.4,861.7L445.0,861.9L444.8,861.9L442.5,862.2L440.0,862.4L440.0,862.4L437.5,862.6L435.5,862.7L434.9,862.8L432.3,862.9L431.1,863.0L429.7,863.1L427.0,863.2L426.8,863.2" fill="none" stroke="#26dc8c" stroke-width="1.8" stroke-linecap="butt"/>
<path d="M621.6,892.9L620.8,893.1L618.3,893.5L616.9,893.7L615.8,893.9L613.3,894.3L612.1,894.6L610.9,894.8L608.5,895.2L607.0,895.5L606.1,895.7L603.7,896.2L601.6,896.6L601.4,896.7L599.1,897.1L596.9,897.6L595.9,897.9L594.6,898.2L592.4,898.7L590.2,899.2L589.5,899.4L588.1,899.8L586.0,900.3L583.9,900.9L582.1,901.4L581.9,901.5L579.8,902.1L577.9,902.7L575.9,903.3L574.0,903.9L572.2,904.6L572.1,904.6L570.3,905.3L568.4,905.9L566.6,906.6L564.9,907.3L563.1,908.0L561.4,908.8L559.8,909.5L558.1,910.3L556.5,911.1L555.0,911.8L553.4,912.6L551.9,913.4L550.4,914.3L548.9,915.1L547.5,916.0L546.5,916.6L546.1,916.8L544.7,917.7L543.3,918.6L542.0,919.5L540.7,920.4L539.4,921.3L539.1,921.6L538.1,922.3L536.9,923.2L535.7,924.2L534.5,925.1L534.0,925.5L533.3,926.1L532.1,927.1L530.9,928.1" fill="none" stroke="#34d84a" stroke-width="1.8" stroke-linecap="butt"/>
<path d="M605.2,900.8L604.6,900.9L602.4,901.5L600.2,902.0L598.8,902.4L598.1,902.6L595.9,903.1L593.8,903.7L591.8,904.3L591.4,904.4L589.7,904.9L587.7,905.5L585.8,906.1L583.8,906.8L582.0,907.4L581.9,907.4L580.0,908.1L578.1,908.7L576.3,909.4L574.5,910.1L572.7,910.8L571.0,911.5L569.2,912.3L567.5,913.0L565.9,913.8L564.2,914.5L562.6,915.3L561.0,916.1L559.5,916.9L557.9,917.7L556.4,918.5L554.9,919.4L553.4,920.2L552.0,921.1L550.6,922.0L549.2,922.8L548.7,923.2L547.8,923.7L546.5,924.6L545.1,925.5L543.8,926.5L542.5,927.4L541.7,928.0L541.3,928.4L540.0,929.3L538.8,930.3L537.6,931.3" fill="none" stroke="#62d826" stroke-width="1.8" stroke-linecap="butt"/>
<path d="M409.0,869.8L539.5,932.2L670.0,869.8L539.5,821.5Z" fill="none" stroke="#111" stroke-width="0.9"/>
<g stroke="#101010" stroke-width="0.45" stroke-linejoin="round"><path d="M539.5,750.5L544.9,751.3L539.5,745.9L534.1,745.1Z" fill="#1ffffb"/><path d="M544.9,755.6L550.2,756.5L544.9,751.3L539.5,750.5Z" fill="#1cddff"/><path d="M550.2,760.5L555.6,761.4L550.2,756.5L544.9,755.6Z" fill="#19b9ff"/><path d="M555.6,765.1L560.9,766.1L555.6,761.4L550.2,760.5Z" fill="#1697ff"/><path d="M560.9,769.5L566.2,770.5L560.9,766.1L555.6,765.1Z" fill="#1477ff"/><path d="M566.2,773.6L571.5,774.6L566.2,770.5L560.9,769.5Z" fill="#115aff"/><path d="M571.6,777.4L576.9,778.4L571.5,774.6L566.2,773.6Z" fill="#0e40ff"/><path d="M576.9,780.9L582.2,782.0L576.9,778.4L571.6,777.4Z" fill="#0c28fc"/><path d="M582.2,784.2L587.5,785.3L582.2,782.0L576.9,780.9Z" fill="#0913f6"/><path d="M587.5,787.1L592.8,788.3L587.5,785.3L582.2,784.2Z" fill="#0707f0"/><path d="M592.8,789.8L598.1,791.0L592.8,788.3L587.5,787.1Z" fill="#0505ea"/><path d="M598.1,792.2L603.4,793.5L598.1,791.0L592.8,789.8Z" fill="#0303e4"/><path d="M603.5,794.3L608.7,795.6L603.4,793.5L598.1,792.2Z" fill="#0101de"/><path d="M608.8,796.1L614.0,797.4L608.7,795.6L603.5,794.3Z" fill="#0000d8"/><path d="M614.1,797.6L619.3,799.0L614.0,797.4L608.8,796.1Z" fill="#000095"/><path d="M619.5,798.7L624.7,800.2L619.3,799.0L614.1,797.6Z" fill="#010199"/><path d="M624.8,799.6L630.0,801.1L624.7,800.2L619.5,798.7Z" fill="#02029d"/><path d="M630.2,800.2L635.4,801.7L630.0,801.1L624.8,799.6Z" fill="#0303a2"/><path d="M635.6,800.4L640.8,802.0L635.4,801.7L630.2,800.2Z" fill="#0405a6"/><path d="M641.0,800.3L646.2,802.0L640.8,802.0L635.6,800.4Z" fill="#0512aa"/><path d="M646.4,799.9L651.6,801.7L646.2,802.0L641.0,800.3Z" fill="#0621ae"/><path d="M651.9,799.2L657.0,801.0L651.6,801.7L646.4,799.9Z" fill="#0732b0"/><path d="M657.3,798.1L662.5,800.0L657.0,801.0L651.9,799.2Z" fill="#0845b0"/><path d="M662.8,796.7L668.0,798.7L662.5,800.0L657.3,798.1Z" fill="#0a5ab0"/><path d="M668.3,795.0L673.5,797.0L668.0,798.7L662.8,796.7Z" fill="#0b72b1"/><path d="M534.1,749.8L539.5,750.5L534.1,745.1L528.7,744.4Z" fill="#21ffe3"/><path d="M539.5,754.9L544.9,755.6L539.5,750.5L534.1,749.8Z" fill="#1ef6ff"/><path d="M544.9,759.8L550.2,760.5L544.9,755.6L539.5,754.9Z" fill="#1bd3ff"/><path d="M550.2,764.3L555.6,765.1L550.2,760.5L544.9,759.8Z" fill="#18b3ff"/><path d="M555.6,768.7L560.9,769.5L555.6,765.1L550.2,764.3Z" fill="#1694ff"/><path d="M560.9,772.7L566.2,773.6L560.9,769.5L555.6,768.7Z" fill="#1379ff"/><path d="M566.2,776.5L571.6,777.4L566.2,773.6L560.9,772.7Z" fill="#105fff"/><path d="M571.6,780.0L576.9,780.9L571.6,777.4L566.2,776.5Z" fill="#0d48ff"/><path d="M576.9,783.2L582.2,784.2L576.9,780.9L571.6,780.0Z" fill="#0b34f9"/><path d="M582.2,786.1L587.5,787.1L582.2,784.2L576.9,783.2Z" fill="#0822f4"/><path d="M587.5,788.8L592.8,789.8L587.5,787.1L582.2,786.1Z" fill="#0615ee"/><path d="M592.9,791.1L598.1,792.2L592.8,789.8L587.5,788.8Z" fill="#040be7"/><path d="M598.2,793.1L603.5,794.3L598.1,792.2L592.9,791.1Z" fill="#0204e1"/><path d="M603.5,794.9L608.8,796.1L603.5,794.3L598.2,793.1Z" fill="#0101db"/><path d="M608.9,796.3L614.1,797.6L608.8,796.1L603.5,794.9Z" fill="#000193"/><path d="M614.2,797.4L619.5,798.7L614.1,797.6L608.9,796.3Z" fill="#010597"/><path d="M619.6,798.3L624.8,799.6L619.5,798.7L614.2,797.4Z" fill="#010a9b"/><path d="M625.0,798.7L630.2,800.2L624.8,799.6L619.6,798.3Z" fill="#0213a0"/><path d="M630.4,798.9L635.6,800.4L630.2,800.2L625.0,798.7Z" fill="#031da4"/><path d="M635.8,798.8L641.0,800.3L635.6,800.4L630.4,798.9Z" fill="#042aa8"/><path d="M641.2,798.3L646.4,799.9L641.0,800.3L635.8,798.8Z" fill="#063aac"/><path d="M646.7,797.5L651.9,799.2L646.4,799.9L641.2,798.3Z" fill="#074db0"/><path d="M652.1,796.4L657.3,798.1L651.9,799.2L646.7,797.5Z" fill="#0860b0"/><path d="M657.6,794.9L662.8,796.7L657.3,798.1L652.1,796.4Z" fill="#0976b0"/><path d="M663.1,793.1L668.3,795.0L662.8,796.7L657.6,794.9Z" fill="#0a8db1"/><path d="M528.7,749.3L534.1,749.8L528.7,744.4L523.3,743.9Z" fill="#23ffcd"/><path d="M534.1,754.4L539.5,754.9L534.1,749.8L528.7,749.3Z" fill="#20fff1"/><path d="M539.5,759.2L544.9,759.8L539.5,754.9L534.1,754.4Z" fill="#1decff"/><path d="M544.9,763.8L550.2,764.3L544.9,759.8L539.5,759.2Z" fill="#1bccff"/><path d="M550.2,768.0L555.6,768.7L550.2,764.3L544.9,763.8Z" fill="#18afff"/><path d="M555.6,772.1L560.9,772.7L555.6,768.7L550.2,768.0Z" fill="#1594ff"/><path d="M560.9,775.8L566.2,776.5L560.9,772.7L555.6,772.1Z" fill="#127cff"/><path d="M566.3,779.2L571.6,780.0L566.2,776.5L560.9,775.8Z" fill="#0f66ff"/><path d="M571.6,782.4L576.9,783.2L571.6,780.0L566.3,779.2Z" fill="#0c52fd"/><path d="M576.9,785.3L582.2,786.1L576.9,783.2L571.6,782.4Z" fill="#0a41f7"/><path d="M582.2,787.9L587.5,788.8L582.2,786.1L576.9,785.3Z" fill="#0733f1"/><path d="M587.6,790.2L592.9,791.1L587.5,788.8L582.2,787.9Z" fill="#0529eb"/><path d="M592.9,792.2L598.2,793.1L592.9,791.1L587.6,790.2Z" fill="#0322e5"/><path d="M598.3,793.9L603.5,794.9L598.2,793.1L592.9,792.2Z" fill="#011fde"/><path d="M603.6,795.3L608.9,796.3L603.5,794.9L598.3,793.9Z" fill="#001fd8"/><path d="M609.0,796.3L614.2,797.4L608.9,796.3L603.6,795.3Z" fill="#001995"/><path d="M614.3,797.1L619.6,798.3L614.2,797.4L609.0,796.3Z" fill="#011f99"/><path d="M619.7,797.5L625.0,798.7L619.6,798.3L614.3,797.1Z" fill="#02289d"/><path d="M625.1,797.6L630.4,798.9L625.0,798.7L619.7,797.5Z" fill="#0333a2"/><path d="M630.5,797.4L635.8,798.8L630.4,798.9L625.1,797.6Z" fill="#0441a6"/><path d="M636.0,796.9L641.2,798.3L635.8,798.8L630.5,797.4Z" fill="#0552aa"/><path d="M641.4,796.0L646.7,797.5L641.2,798.3L636.0,796.9Z" fill="#0665ae"/><path d="M646.9,794.8L652.1,796.4L646.7,797.5L641.4,796.0Z" fill="#077ab0"/><path d="M652.4,793.3L657.6,794.9L652.1,796.4L646.9,794.8Z" fill="#0990b0"/><path d="M657.9,791.4L663.1,793.1L657.6,794.9L652.4,793.3Z" fill="#0aa8b1"/><path d="M523.3,749.0L528.7,749.3L523.3,743.9L517.9,743.7Z" fill="#25ffba"/><path d="M528.7,754.0L534.1,754.4L528.7,749.3L523.3,749.0Z" fill="#23ffdc"/><path d="M534.1,758.8L539.5,759.2L534.1,754.4L528.7,754.0Z" fill="#20fffd"/><path d="M539.5,763.4L544.9,763.8L539.5,759.2L534.1,758.8Z" fill="#1de3ff"/><path d="M544.9,767.6L550.2,768.0L544.9,763.8L539.5,763.4Z" fill="#1ac7ff"/><path d="M550.2,771.6L555.6,772.1L550.2,768.0L544.9,767.6Z" fill="#17adff"/><path d="M555.6,775.3L560.9,775.8L555.6,772.1L550.2,771.6Z" fill="#1496ff"/><path d="M560.9,778.7L566.3,779.2L560.9,775.8L555.6,775.3Z" fill="#1181ff"/><path d="M566.3,781.8L571.6,782.4L566.3,779.2L560.9,778.7Z" fill="#0e6fff"/><path d="M571.6,784.7L576.9,785.3L571.6,782.4L566.3,781.8Z" fill="#0b5efb"/><path d="M576.9,787.2L582.2,787.9L576.9,785.3L571.6,784.7Z" fill="#0950f5"/><path d="M582.3,789.5L587.6,790.2L582.2,787.9L576.9,787.2Z" fill="#0646ee"/><path d="M587.6,791.4L592.9,792.2L587.6,790.2L582.3,789.5Z" fill="#043fe8"/><path d="M593.0,793.0L598.3,793.9L592.9,792.2L587.6,791.4Z" fill="#023ce2"/><path d="M598.3,794.4L603.6,795.3L598.3,793.9L593.0,793.0Z" fill="#013bdb"/><path d="M603.7,795.4L609.0,796.3L603.6,795.3L598.3,794.4Z" fill="#002b93"/><path d="M609.1,796.1L614.3,797.1L609.0,796.3L603.7,795.4Z" fill="#013297"/><path d="M614.5,796.5L619.7,797.5L614.3,797.1L609.1,796.1Z" fill="#013c9b"/><path d="M619.9,796.6L625.1,797.6L619.7,797.5L614.5,796.5Z" fill="#0248a0"/><path d="M625.3,796.3L630.5,797.4L625.1,797.6L619.9,796.6Z" fill="#0357a4"/><path d="M630.7,795.7L636.0,796.9L630.5,797.4L625.3,796.3Z" fill="#0468a8"/><path d="M636.2,794.8L641.4,796.0L636.0,796.9L630.7,795.7Z" fill="#067cac"/><path d="M641.7,793.5L646.9,794.8L641.4,796.0L636.2,794.8Z" fill="#0792b0"/><path d="M647.2,791.9L652.4,793.3L646.9,794.8L641.7,793.5Z" fill="#08a8b0"/><path d="M652.7,789.9L657.9,791.4L652.4,793.3L647.2,791.9Z" fill="#09b0a0"/><path d="M517.9,748.9L523.3,749.0L517.9,743.7L512.5,743.6Z" fill="#28ffa9"/><path d="M523.3,753.9L528.7,754.0L523.3,749.0L517.9,748.9Z" fill="#25ffca"/><path d="M528.7,758.6L534.1,758.8L528.7,754.0L523.3,753.9Z" fill="#22ffea"/><path d="M534.1,763.1L539.5,763.4L534.1,758.8L528.7,758.6Z" fill="#1ff7ff"/><path d="M539.5,767.4L544.9,767.6L539.5,763.4L534.1,763.1Z" fill="#1cdcff"/><path d="M544.9,771.3L550.2,771.6L544.9,767.6L539.5,767.4Z" fill="#19c3ff"/><path d="M550.2,775.0L555.6,775.3L550.2,771.6L544.9,771.3Z" fill="#16adff"/><path d="M555.6,778.3L560.9,778.7L555.6,775.3L550.2,775.0Z" fill="#1399ff"/><path d="M560.9,781.4L566.3,781.8L560.9,778.7L555.6,778.3Z" fill="#1088ff"/><path d="M566.3,784.2L571.6,784.7L566.3,781.8L560.9,781.4Z" fill="#0d7afe"/><path d="M571.6,786.7L576.9,787.2L571.6,784.7L566.3,784.2Z" fill="#0a6cf8"/><path d="M577.0,788.9L582.3,789.5L576.9,787.2L571.6,786.7Z" fill="#0862f2"/><path d="M582.3,790.8L587.6,791.4L582.3,789.5L577.0,788.9Z" fill="#055beb"/><path d="M587.7,792.4L593.0,793.0L587.6,791.4L582.3,790.8Z" fill="#0357e5"/><path d="M593.0,793.7L598.3,794.4L593.0,793.0L587.7,792.4Z" fill="#0156de"/><path d="M598.4,794.7L603.7,795.4L598.3,794.4L593.0,793.7Z" fill="#0059d8"/><path d="M603.8,795.3L609.1,796.1L603.7,795.4L598.4,794.7Z" fill="#004395"/><path d="M609.2,795.6L614.5,796.5L609.1,796.1L603.8,795.3Z" fill="#014d99"/><path d="M614.6,795.7L619.9,796.6L614.5,796.5L609.2,795.6Z" fill="#025a9e"/><path d="M620.0,795.3L625.3,796.3L619.9,796.6L614.6,795.7Z" fill="#036aa2"/><path d="M625.4,794.7L630.7,795.7L625.3,796.3L620.0,795.3Z" fill="#047ca6"/><path d="M630.9,793.7L636.2,794.8L630.7,795.7L625.4,794.7Z" fill="#0590aa"/><path d="M636.4,792.3L641.7,793.5L636.2,794.8L630.9,793.7Z" fill="#06a8ae"/><path d="M641.9,790.6L647.2,791.9L641.7,793.5L636.4,792.3Z" fill="#07b0a0"/><path d="M647.4,788.6L652.7,789.9L647.2,791.9L641.9,790.6Z" fill="#09b088"/><path d="M512.5,748.9L517.9,748.9L512.5,743.6L507.1,743.7Z" fill="#2aff9b"/><path d="M517.9,753.9L523.3,753.9L517.9,748.9L512.5,748.9Z" fill="#27ffbb"/><path d="M523.3,758.7L528.7,758.6L523.3,753.9L517.9,753.9Z" fill="#24ffd9"/><path d="M528.7,763.1L534.1,763.1L528.7,758.6L523.3,758.7Z" fill="#21fff5"/><path d="M534.1,767.3L539.5,767.4L534.1,763.1L528.7,763.1Z" fill="#1eefff"/><path d="M539.5,771.2L544.9,771.3L539.5,767.4L534.1,767.3Z" fill="#1bd7ff"/><path d="M544.9,774.8L550.2,775.0L544.9,771.3L539.5,771.2Z" fill="#18c2ff"/><path d="M550.2,778.2L555.6,778.3L550.2,775.0L544.9,774.8Z" fill="#15afff"/><path d="M555.6,781.2L560.9,781.4L555.6,778.3L550.2,778.2Z" fill="#129fff"/><path d="M560.9,784.0L566.3,784.2L560.9,781.4L555.6,781.2Z" fill="#0f92ff"/><path d="M566.3,786.4L571.6,786.7L566.3,784.2L560.9,784.0Z" fill="#0c86fb"/><path d="M571.6,788.6L577.0,788.9L571.6,786.7L566.3,786.4Z" fill="#097bf5"/><path d="M577.0,790.4L582.3,790.8L577.0,788.9L571.6,788.6Z" fill="#0674ef"/><path d="M582.4,792.0L587.7,792.4L582.3,790.8L577.0,790.4Z" fill="#0471e8"/><path d="M587.7,793.2L593.0,793.7L587.7,792.4L582.4,792.0Z" fill="#0270e2"/><path d="M593.1,794.1L598.4,794.7L593.0,793.7L587.7,793.2Z" fill="#0172db"/><path d="M598.5,794.7L603.8,795.3L598.4,794.7L593.1,794.1Z" fill="#005293"/><path d="M603.9,795.0L609.2,795.6L603.8,795.3L598.5,794.7Z" fill="#015d97"/><path d="M609.3,794.9L614.6,795.7L609.2,795.6L603.9,795.0Z" fill="#016b9b"/><path d="M614.7,794.6L620.0,795.3L614.6,795.7L609.3,794.9Z" fill="#027ba0"/><path d="M620.2,793.8L625.4,794.7L620.0,795.3L614.7,794.6Z" fill="#038ea4"/><path d="M625.6,792.8L630.9,793.7L625.4,794.7L620.2,793.8Z" fill="#05a3a8"/><path d="M631.1,791.4L636.4,792.3L630.9,793.7L625.6,792.8Z" fill="#06ac9d"/><path d="M636.6,789.6L641.9,790.6L636.4,792.3L631.1,791.4Z" fill="#07b08a"/><path d="M642.1,787.5L647.4,788.6L641.9,790.6L636.6,789.6Z" fill="#08b072"/><path d="M507.1,749.2L512.5,748.9L507.1,743.7L501.6,744.0Z" fill="#2dff8e"/><path d="M512.5,754.2L517.9,753.9L512.5,748.9L507.1,749.2Z" fill="#2affad"/><path d="M517.9,758.9L523.3,758.7L517.9,753.9L512.5,754.2Z" fill="#27ffcb"/><path d="M523.4,763.3L528.7,763.1L523.3,758.7L517.9,758.9Z" fill="#24ffe6"/><path d="M528.7,767.4L534.1,767.3L528.7,763.1L523.4,763.3Z" fill="#20ffff"/><path d="M534.1,771.3L539.5,771.2L534.1,767.3L528.7,767.4Z" fill="#1de9ff"/><path d="M539.5,774.9L544.9,774.8L539.5,771.2L534.1,771.3Z" fill="#1ad4ff"/><path d="M544.9,778.2L550.2,778.2L544.9,774.8L539.5,774.9Z" fill="#17c3ff"/><path d="M550.2,781.2L555.6,781.2L550.2,778.2L544.9,778.2Z" fill="#14b3ff"/><path d="M555.6,783.9L560.9,784.0L555.6,781.2L550.2,781.2Z" fill="#10a7ff"/><path d="M560.9,786.3L566.3,786.4L560.9,784.0L555.6,783.9Z" fill="#0d9dff"/><path d="M566.3,788.5L571.6,788.6L566.3,786.4L560.9,786.3Z" fill="#0a93f9"/><path d="M571.7,790.3L577.0,790.4L571.6,788.6L566.3,788.5Z" fill="#088df2"/><path d="M577.0,791.8L582.4,792.0L577.0,790.4L571.7,790.3Z" fill="#0589ec"/><path d="M582.4,792.9L587.7,793.2L582.4,792.0L577.0,791.8Z" fill="#0388e5"/><path d="M587.8,793.8L593.1,794.1L587.7,793.2L582.4,792.9Z" fill="#018bdf"/><path d="M593.2,794.3L598.5,794.7L593.1,794.1L587.8,793.8Z" fill="#0090d8"/><path d="M598.6,794.6L603.9,795.0L598.5,794.7L593.2,794.3Z" fill="#006c95"/><path d="M604.0,794.4L609.3,794.9L603.9,795.0L598.6,794.6Z" fill="#017a99"/><path d="M609.4,794.0L614.7,794.6L609.3,794.9L604.0,794.4Z" fill="#028a9e"/><path d="M614.9,793.2L620.2,793.8L614.7,794.6L609.4,794.0Z" fill="#039ea2"/><path d="M620.3,792.1L625.6,792.8L620.2,793.8L614.9,793.2Z" fill="#04a699"/><path d="M625.8,790.6L631.1,791.4L625.6,792.8L620.3,792.1Z" fill="#05aa88"/><path d="M631.3,788.8L636.6,789.6L631.1,791.4L625.8,790.6Z" fill="#06ae74"/><path d="M636.8,786.6L642.1,787.5L636.6,789.6L631.3,788.8Z" fill="#07b05d"/><path d="M501.7,749.7L507.1,749.2L501.6,744.0L496.2,744.5Z" fill="#2fff84"/><path d="M507.1,754.6L512.5,754.2L507.1,749.2L501.7,749.7Z" fill="#2cffa2"/><path d="M512.5,759.3L517.9,758.9L512.5,754.2L507.1,754.6Z" fill="#29ffbf"/><path d="M518.0,763.7L523.4,763.3L517.9,758.9L512.5,759.3Z" fill="#26ffd9"/><path d="M523.4,767.8L528.7,767.4L523.4,763.3L518.0,763.7Z" fill="#23fff1"/><path d="M528.7,771.6L534.1,771.3L528.7,767.4L523.4,767.8Z" fill="#1ff8ff"/><path d="M534.1,775.2L539.5,774.9L534.1,771.3L528.7,771.6Z" fill="#1ce4ff"/><path d="M539.5,778.4L544.9,778.2L539.5,774.9L534.1,775.2Z" fill="#19d3ff"/><path d="M544.9,781.4L550.2,781.2L544.9,778.2L539.5,778.4Z" fill="#15c5ff"/><path d="M550.2,784.1L555.6,783.9L550.2,781.2L544.9,781.4Z" fill="#12baff"/><path d="M555.6,786.4L560.9,786.3L555.6,783.9L550.2,784.1Z" fill="#0fb1ff"/><path d="M561.0,788.5L566.3,788.5L560.9,786.3L555.6,786.4Z" fill="#0caafc"/><path d="M566.3,790.3L571.7,790.3L566.3,788.5L561.0,788.5Z" fill="#09a3f6"/><path d="M571.7,791.7L577.0,791.8L571.7,790.3L566.3,790.3Z" fill="#079fef"/><path d="M577.1,792.9L582.4,792.9L577.0,791.8L571.7,791.7Z" fill="#049fe9"/><path d="M582.4,793.7L587.8,793.8L582.4,792.9L577.1,792.9Z" fill="#02a1e2"/><path d="M587.8,794.1L593.2,794.3L587.8,793.8L582.4,793.7Z" fill="#01a6db"/><path d="M593.2,794.3L598.6,794.6L593.2,794.3L587.8,794.1Z" fill="#007893"/><path d="M598.7,794.1L604.0,794.4L598.6,794.6L593.2,794.3Z" fill="#018797"/><path d="M604.1,793.6L609.4,794.0L604.0,794.4L598.7,794.1Z" fill="#01989c"/><path d="M609.5,792.8L614.9,793.2L609.4,794.0L604.1,793.6Z" fill="#02a094"/><path d="M615.0,791.6L620.3,792.1L614.9,793.2L609.5,792.8Z" fill="#03a486"/><path d="M620.5,790.0L625.8,790.6L620.3,792.1L615.0,791.6Z" fill="#05a875"/><path d="M626.0,788.2L631.3,788.8L625.8,790.6L620.5,790.0Z" fill="#06ac61"/><path d="M631.5,785.9L636.8,786.6L631.3,788.8L626.0,788.2Z" fill="#07b049"/><path d="M496.3,750.3L501.7,749.7L496.2,744.5L490.8,745.1Z" fill="#32ff7d"/><path d="M501.7,755.2L507.1,754.6L501.7,749.7L496.3,750.3Z" fill="#2fff9a"/><path d="M507.1,759.9L512.5,759.3L507.1,754.6L501.7,755.2Z" fill="#2cffb5"/><path d="M512.6,764.2L518.0,763.7L512.5,759.3L507.1,759.9Z" fill="#28ffce"/><path d="M518.0,768.3L523.4,767.8L518.0,763.7L512.6,764.2Z" fill="#25ffe5"/><path d="M523.4,772.1L528.7,771.6L523.4,767.8L518.0,768.3Z" fill="#22fffa"/><path d="M528.7,775.6L534.1,775.2L528.7,771.6L523.4,772.1Z" fill="#1ef2ff"/><path d="M534.1,778.9L539.5,778.4L534.1,775.2L528.7,775.6Z" fill="#1be2ff"/><path d="M539.5,781.8L544.9,781.4L539.5,778.4L534.1,778.9Z" fill="#17d5ff"/><path d="M544.9,784.4L550.2,784.1L544.9,781.4L539.5,781.8Z" fill="#14caff"/><path d="M550.2,786.8L555.6,786.4L550.2,784.1L544.9,784.4Z" fill="#11c2ff"/><path d="M555.6,788.8L561.0,788.5L555.6,786.4L550.2,786.8Z" fill="#0ebdff"/><path d="M561.0,790.5L566.3,790.3L561.0,788.5L555.6,788.8Z" fill="#0bb7f9"/><path d="M566.3,791.9L571.7,791.7L566.3,790.3L561.0,790.5Z" fill="#08b4f3"/><path d="M571.7,793.0L577.1,792.9L571.7,791.7L566.3,791.9Z" fill="#05b4ec"/><path d="M577.1,793.7L582.4,793.7L577.1,792.9L571.7,793.0Z" fill="#03b6e5"/><path d="M582.5,794.2L587.8,794.1L582.4,793.7L577.1,793.7Z" fill="#01bcdf"/><path d="M587.9,794.3L593.2,794.3L587.8,794.1L582.5,794.2Z" fill="#00c3d8"/><path d="M593.3,794.0L598.7,794.1L593.2,794.3L587.9,794.3Z" fill="#009295"/><path d="M598.7,793.5L604.1,793.6L598.7,794.1L593.3,794.0Z" fill="#01998f"/><path d="M604.2,792.5L609.5,792.8L604.1,793.6L598.7,793.5Z" fill="#029e83"/><path d="M609.7,791.3L615.0,791.6L609.5,792.8L604.2,792.5Z" fill="#03a275"/><path d="M615.1,789.7L620.5,790.0L615.0,791.6L609.7,791.3Z" fill="#04a663"/><path d="M620.6,787.7L626.0,788.2L620.5,790.0L615.1,789.7Z" fill="#05aa4e"/><path d="M626.2,785.4L631.5,785.9L626.0,788.2L620.6,787.7Z" fill="#06ae37"/><path d="M490.8,751.2L496.3,750.3L490.8,745.1L485.4,746.0Z" fill="#34ff77"/><path d="M496.3,756.1L501.7,755.2L496.3,750.3L490.8,751.2Z" fill="#31ff93"/><path d="M501.7,760.7L507.1,759.9L501.7,755.2L496.3,756.1Z" fill="#2effad"/><path d="M507.2,765.0L512.6,764.2L507.1,759.9L501.7,760.7Z" fill="#2bffc5"/><path d="M512.6,769.1L518.0,768.3L512.6,764.2L507.2,765.0Z" fill="#27ffdb"/><path d="M518.0,772.8L523.4,772.1L518.0,768.3L512.6,769.1Z" fill="#24ffef"/><path d="M523.4,776.3L528.7,775.6L523.4,772.1L518.0,772.8Z" fill="#20fdff"/><path d="M528.8,779.5L534.1,778.9L528.7,775.6L523.4,776.3Z" fill="#1deeff"/><path d="M534.1,782.4L539.5,781.8L534.1,778.9L528.8,779.5Z" fill="#19e2ff"/><path d="M539.5,785.0L544.9,784.4L539.5,781.8L534.1,782.4Z" fill="#16d8ff"/><path d="M544.9,787.3L550.2,786.8L544.9,784.4L539.5,785.0Z" fill="#13d1ff"/><path d="M550.2,789.2L555.6,788.8L550.2,786.8L544.9,787.3Z" fill="#0fcdff"/><path d="M555.6,790.9L561.0,790.5L555.6,788.8L550.2,789.2Z" fill="#0ccafd"/><path d="M561.0,792.3L566.3,791.9L561.0,790.5L555.6,790.9Z" fill="#09c7f6"/><path d="M566.4,793.3L571.7,793.0L566.3,791.9L561.0,792.3Z" fill="#07c7ef"/><path d="M571.8,794.0L577.1,793.7L571.7,793.0L566.4,793.3Z" fill="#04cae9"/><path d="M577.1,794.4L582.5,794.2L577.1,793.7L571.8,794.0Z" fill="#02cfe2"/><path d="M582.5,794.4L587.9,794.3L582.5,794.2L577.1,794.4Z" fill="#01d7db"/><path d="M588.0,794.1L593.3,794.0L587.9,794.3L582.5,794.4Z" fill="#00938a"/><path d="M593.4,793.5L598.7,793.5L593.3,794.0L588.0,794.1Z" fill="#019780"/><path d="M598.8,792.5L604.2,792.5L598.7,793.5L593.4,793.5Z" fill="#019c74"/><path d="M604.3,791.2L609.7,791.3L604.2,792.5L598.8,792.5Z" fill="#02a065"/><path d="M609.8,789.5L615.1,789.7L609.7,791.3L604.3,791.2Z" fill="#03a453"/><path d="M615.3,787.5L620.6,787.7L615.1,789.7L609.8,789.5Z" fill="#05a83e"/><path d="M620.8,785.1L626.2,785.4L620.6,787.7L615.3,787.5Z" fill="#06ac26"/><path d="M485.4,752.3L490.8,751.2L485.4,746.0L479.9,747.1Z" fill="#37ff74"/><path d="M490.9,757.1L496.3,756.1L490.8,751.2L485.4,752.3Z" fill="#34ff8f"/><path d="M496.3,761.7L501.7,760.7L496.3,756.1L490.9,757.1Z" fill="#30ffa8"/><path d="M501.8,766.0L507.2,765.0L501.7,760.7L496.3,761.7Z" fill="#2dffbf"/><path d="M507.2,770.0L512.6,769.1L507.2,765.0L501.8,766.0Z" fill="#2affd4"/><path d="M512.6,773.7L518.0,772.8L512.6,769.1L507.2,770.0Z" fill="#26ffe7"/><path d="M518.0,777.2L523.4,776.3L518.0,772.8L512.6,773.7Z" fill="#23fff8"/><path d="M523.4,780.3L528.8,779.5L523.4,776.3L518.0,777.2Z" fill="#1ff8ff"/><path d="M528.8,783.2L534.1,782.4L528.8,779.5L523.4,780.3Z" fill="#1cecff"/><path d="M534.1,785.7L539.5,785.0L534.1,782.4L528.8,783.2Z" fill="#18e3ff"/><path d="M539.5,788.0L544.9,787.3L539.5,785.0L534.1,785.7Z" fill="#14ddff"/><path d="M544.9,789.9L550.2,789.2L544.9,787.3L539.5,788.0Z" fill="#11daff"/><path d="M550.2,791.5L555.6,790.9L550.2,789.2L544.9,789.9Z" fill="#0edaff"/><path d="M555.6,792.8L561.0,792.3L555.6,790.9L550.2,791.5Z" fill="#0bd8f9"/><path d="M561.0,793.8L566.4,793.3L561.0,792.3L555.6,792.8Z" fill="#08d8f3"/><path d="M566.4,794.5L571.8,794.0L566.4,793.3L561.0,793.8Z" fill="#05dcec"/><path d="M571.8,794.8L577.1,794.4L571.8,794.0L566.4,794.5Z" fill="#03e1e5"/><path d="M577.2,794.8L582.5,794.4L577.1,794.4L571.8,794.8Z" fill="#01ded3"/><path d="M582.6,794.4L588.0,794.1L582.5,794.4L577.2,794.8Z" fill="#00d8bc"/><path d="M588.0,793.8L593.4,793.5L588.0,794.1L582.6,794.4Z" fill="#009574"/><path d="M593.5,792.7L598.8,792.5L593.4,793.5L588.0,793.8Z" fill="#019967"/><path d="M598.9,791.3L604.3,791.2L598.8,792.5L593.5,792.7Z" fill="#029e57"/><path d="M604.4,789.6L609.8,789.5L604.3,791.2L598.9,791.3Z" fill="#03a245"/><path d="M609.9,787.5L615.3,787.5L609.8,789.5L604.4,789.6Z" fill="#04a630"/><path d="M615.5,785.0L620.8,785.1L615.3,787.5L609.9,787.5Z" fill="#05aa17"/><path d="M480.0,753.5L485.4,752.3L479.9,747.1L474.5,748.4Z" fill="#39ff72"/><path d="M485.5,758.4L490.9,757.1L485.4,752.3L480.0,753.5Z" fill="#36ff8c"/><path d="M490.9,762.9L496.3,761.7L490.9,757.1L485.5,758.4Z" fill="#33ffa4"/><path d="M496.4,767.2L501.8,766.0L496.3,761.7L490.9,762.9Z" fill="#30ffbb"/><path d="M501.8,771.2L507.2,770.0L501.8,766.0L496.4,767.2Z" fill="#2cffcf"/><path d="M507.2,774.9L512.6,773.7L507.2,770.0L501.8,771.2Z" fill="#29ffe1"/><path d="M512.6,778.3L518.0,777.2L512.6,773.7L507.2,774.9Z" fill="#25fff1"/><path d="M518.0,781.4L523.4,780.3L518.0,777.2L512.6,778.3Z" fill="#21fffe"/><path d="M523.4,784.2L528.8,783.2L523.4,780.3L518.0,781.4Z" fill="#1ef5ff"/><path d="M528.7,786.7L534.1,785.7L528.8,783.2L523.4,784.2Z" fill="#1aedff"/><path d="M534.1,788.9L539.5,788.0L534.1,785.7L528.7,786.7Z" fill="#16e7ff"/><path d="M539.5,790.8L544.9,789.9L539.5,788.0L534.1,788.9Z" fill="#13e4ff"/><path d="M544.9,792.4L550.2,791.5L544.9,789.9L539.5,790.8Z" fill="#10e5ff"/><path d="M550.3,793.6L555.6,792.8L550.2,791.5L544.9,792.4Z" fill="#0ce7fd"/><path d="M555.6,794.6L561.0,793.8L555.6,792.8L550.3,793.6Z" fill="#09e8f6"/><path d="M561.0,795.2L566.4,794.5L561.0,793.8L555.6,794.6Z" fill="#07ebef"/><path d="M566.4,795.4L571.8,794.8L566.4,794.5L561.0,795.2Z" fill="#04e9e0"/><path d="M571.8,795.4L577.2,794.8L571.8,794.8L566.4,795.4Z" fill="#02e2c9"/><path d="M577.2,795.0L582.6,794.4L577.2,794.8L571.8,795.4Z" fill="#01dbb1"/><path d="M582.7,794.2L588.0,793.8L582.6,794.4L577.2,795.0Z" fill="#009369"/><path d="M588.1,793.1L593.5,792.7L588.0,793.8L582.7,794.2Z" fill="#01975b"/><path d="M593.6,791.7L598.9,791.3L593.5,792.7L588.1,793.1Z" fill="#019c4b"/><path d="M599.0,789.9L604.4,789.6L598.9,791.3L593.6,791.7Z" fill="#02a039"/><path d="M604.5,787.7L609.9,787.5L604.4,789.6L599.0,789.9Z" fill="#03a423"/><path d="M610.1,785.2L615.5,785.0L609.9,787.5L604.5,787.7Z" fill="#04a80a"/><path d="M474.6,755.0L480.0,753.5L474.5,748.4L469.1,749.9Z" fill="#3cff72"/><path d="M480.1,759.8L485.5,758.4L480.0,753.5L474.6,755.0Z" fill="#38ff8b"/><path d="M485.5,764.3L490.9,762.9L485.5,758.4L480.1,759.8Z" fill="#35ffa3"/><path d="M491.0,768.6L496.4,767.2L490.9,762.9L485.5,764.3Z" fill="#32ffb8"/><path d="M496.4,772.5L501.8,771.2L496.4,767.2L491.0,768.6Z" fill="#2effcc"/><path d="M501.8,776.2L507.2,774.9L501.8,771.2L496.4,772.5Z" fill="#2bffdd"/><path d="M507.2,779.6L512.6,778.3L507.2,774.9L501.8,776.2Z" fill="#27ffec"/><path d="M512.6,782.7L518.0,781.4L512.6,778.3L507.2,779.6Z" fill="#23fff9"/><path d="M518.0,785.4L523.4,784.2L518.0,781.4L512.6,782.7Z" fill="#20fbff"/><path d="M523.4,787.9L528.7,786.7L523.4,784.2L518.0,785.4Z" fill="#1cf3ff"/><path d="M528.7,790.1L534.1,788.9L528.7,786.7L523.4,787.9Z" fill="#18efff"/><path d="M534.1,791.9L539.5,790.8L534.1,788.9L528.7,790.1Z" fill="#15edff"/><path d="M539.5,793.4L544.9,792.4L539.5,790.8L534.1,791.9Z" fill="#11eeff"/><path d="M544.9,794.7L550.3,793.6L544.9,792.4L539.5,793.4Z" fill="#0ef3ff"/><path d="M550.3,795.5L555.6,794.6L550.3,793.6L544.9,794.7Z" fill="#0bf5f9"/><path d="M555.6,796.1L561.0,795.2L555.6,794.6L550.3,795.5Z" fill="#08f3ec"/><path d="M561.0,796.3L566.4,795.4L561.0,795.2L555.6,796.1Z" fill="#05ecd8"/><path d="M566.4,796.2L571.8,795.4L566.4,795.4L561.0,796.3Z" fill="#03e5c1"/><path d="M571.9,795.7L577.2,795.0L571.8,795.4L566.4,796.2Z" fill="#01dea8"/><path d="M577.3,794.9L582.7,794.2L577.2,795.0L571.9,795.7Z" fill="#00d88e"/><path d="M582.7,793.7L588.1,793.1L582.7,794.2L577.3,794.9Z" fill="#009551"/><path d="M588.2,792.2L593.6,791.7L588.1,793.1L582.7,793.7Z" fill="#019a41"/><path d="M593.7,790.4L599.0,789.9L593.6,791.7L588.2,792.2Z" fill="#029e2e"/><path d="M599.2,788.1L604.5,787.7L599.0,789.9L593.7,790.4Z" fill="#03a218"/><path d="M604.7,785.5L610.1,785.2L604.5,787.7L599.2,788.1Z" fill="#09a604"/><path d="M469.2,756.7L474.6,755.0L469.1,749.9L463.7,751.7Z" fill="#3eff74"/><path d="M474.7,761.5L480.1,759.8L474.6,755.0L469.2,756.7Z" fill="#3bff8d"/><path d="M480.1,766.0L485.5,764.3L480.1,759.8L474.7,761.5Z" fill="#38ffa3"/><path d="M485.6,770.2L491.0,768.6L485.5,764.3L480.1,766.0Z" fill="#34ffb8"/><path d="M491.0,774.1L496.4,772.5L491.0,768.6L485.6,770.2Z" fill="#31ffcb"/><path d="M496.4,777.8L501.8,776.2L496.4,772.5L491.0,774.1Z" fill="#2dffdb"/><path d="M501.8,781.1L507.2,779.6L501.8,776.2L496.4,777.8Z" fill="#29ffe9"/><path d="M507.2,784.1L512.6,782.7L507.2,779.6L501.8,781.1Z" fill="#26fff5"/><path d="M512.6,786.9L518.0,785.4L512.6,782.7L507.2,784.1Z" fill="#22ffff"/><path d="M518.0,789.3L523.4,787.9L518.0,785.4L512.6,786.9Z" fill="#1ef8ff"/><path d="M523.4,791.4L528.7,790.1L523.4,787.9L518.0,789.3Z" fill="#1af4ff"/><path d="M528.7,793.2L534.1,791.9L528.7,790.1L523.4,791.4Z" fill="#17f3ff"/><path d="M534.1,794.7L539.5,793.4L534.1,791.9L528.7,793.2Z" fill="#13f5ff"/><path d="M539.5,795.9L544.9,794.7L539.5,793.4L534.1,794.7Z" fill="#0ffaff"/><path d="M544.9,796.7L550.3,795.5L544.9,794.7L539.5,795.9Z" fill="#0cfdf9"/><path d="M550.3,797.2L555.6,796.1L550.3,795.5L544.9,796.7Z" fill="#09f6e7"/><path d="M555.7,797.4L561.0,796.3L555.6,796.1L550.3,797.2Z" fill="#07efd2"/><path d="M561.1,797.2L566.4,796.2L561.0,796.3L555.7,797.4Z" fill="#04e8bb"/><path d="M566.5,796.7L571.9,795.7L566.4,796.2L561.1,797.2Z" fill="#02e1a1"/><path d="M571.9,795.8L577.3,794.9L571.9,795.7L566.5,796.7Z" fill="#01db86"/><path d="M577.3,794.6L582.7,793.7L577.3,794.9L571.9,795.8Z" fill="#009349"/><path d="M582.8,793.0L588.2,792.2L582.7,793.7L577.3,794.6Z" fill="#019738"/><path d="M588.3,791.1L593.7,790.4L588.2,792.2L582.8,793.0Z" fill="#019c25"/><path d="M593.8,788.8L599.2,788.1L593.7,790.4L588.3,791.1Z" fill="#02a00e"/><path d="M599.3,786.1L604.7,785.5L599.2,788.1L593.8,788.8Z" fill="#12a403"/><path d="M463.8,758.6L469.2,756.7L463.7,751.7L458.3,753.6Z" fill="#40ff78"/><path d="M469.3,763.4L474.7,761.5L469.2,756.7L463.8,758.6Z" fill="#3dff90"/><path d="M474.7,767.8L480.1,766.0L474.7,761.5L469.3,763.4Z" fill="#3affa5"/><path d="M480.2,772.0L485.6,770.2L480.1,766.0L474.7,767.8Z" fill="#37ffb9"/><path d="M485.6,775.9L491.0,774.1L485.6,770.2L480.2,772.0Z" fill="#33ffcb"/><path d="M491.0,779.5L496.4,777.8L491.0,774.1L485.6,775.9Z" fill="#2fffdb"/><path d="M496.4,782.8L501.8,781.1L496.4,777.8L491.0,779.5Z" fill="#2cffe9"/><path d="M501.8,785.8L507.2,784.1L501.8,781.1L496.4,782.8Z" fill="#28fff4"/><path d="M507.2,788.5L512.6,786.9L507.2,784.1L501.8,785.8Z" fill="#24fffd"/><path d="M512.6,790.9L518.0,789.3L512.6,786.9L507.2,788.5Z" fill="#20fbff"/><path d="M518.0,793.0L523.4,791.4L518.0,789.3L512.6,790.9Z" fill="#1cf7ff"/><path d="M523.4,794.8L528.7,793.2L523.4,791.4L518.0,793.0Z" fill="#18f7ff"/><path d="M528.7,796.2L534.1,794.7L528.7,793.2L523.4,794.8Z" fill="#15f9ff"/><path d="M534.1,797.3L539.5,795.9L534.1,794.7L528.7,796.2Z" fill="#11ffff"/><path d="M539.5,798.1L544.9,796.7L539.5,795.9L534.1,797.3Z" fill="#0efff6"/><path d="M544.9,798.6L550.3,797.2L544.9,796.7L539.5,798.1Z" fill="#0bf9e4"/><path d="M550.3,798.7L555.7,797.4L550.3,797.2L544.9,798.6Z" fill="#08f2ce"/><path d="M555.7,798.4L561.1,797.2L555.7,797.4L550.3,798.7Z" fill="#05ebb6"/><path d="M561.1,797.9L566.5,796.7L561.1,797.2L555.7,798.4Z" fill="#03e59c"/><path d="M566.5,796.9L571.9,795.8L566.5,796.7L561.1,797.9Z" fill="#01de80"/><path d="M571.9,795.7L577.3,794.6L571.9,795.8L566.5,796.9Z" fill="#00d763"/><path d="M577.4,794.0L582.8,793.0L577.3,794.6L571.9,795.7Z" fill="#009531"/><path d="M582.9,792.0L588.3,791.1L582.8,793.0L577.4,794.0Z" fill="#019a1d"/><path d="M588.4,789.6L593.8,788.8L588.3,791.1L582.9,792.0Z" fill="#029e07"/><path d="M593.9,786.9L599.3,786.1L593.8,788.8L588.4,789.6Z" fill="#19a203"/><path d="M458.4,760.8L463.8,758.6L458.3,753.6L452.9,755.8Z" fill="#43ff7d"/><path d="M463.9,765.5L469.3,763.4L463.8,758.6L458.4,760.8Z" fill="#3fff94"/><path d="M469.4,769.9L474.7,767.8L469.3,763.4L463.9,765.5Z" fill="#3cffa9"/><path d="M474.8,774.1L480.2,772.0L474.7,767.8L469.4,769.9Z" fill="#39ffbd"/><path d="M480.2,777.9L485.6,775.9L480.2,772.0L474.8,774.1Z" fill="#35ffce"/><path d="M485.7,781.5L491.0,779.5L485.6,775.9L480.2,777.9Z" fill="#32ffdd"/><path d="M491.1,784.8L496.4,782.8L491.0,779.5L485.7,781.5Z" fill="#2effea"/><path d="M496.5,787.8L501.8,785.8L496.4,782.8L491.1,784.8Z" fill="#2afff5"/><path d="M501.9,790.4L507.2,788.5L501.8,785.8L496.5,787.8Z" fill="#26fffd"/><path d="M507.2,792.8L512.6,790.9L507.2,788.5L501.9,790.4Z" fill="#22fbff"/><path d="M512.6,794.8L518.0,793.0L512.6,790.9L507.2,792.8Z" fill="#1ef8ff"/><path d="M518.0,796.5L523.4,794.8L518.0,793.0L512.6,794.8Z" fill="#1af8ff"/><path d="M523.4,797.9L528.7,796.2L523.4,794.8L518.0,796.5Z" fill="#16fcff"/><path d="M528.7,799.0L534.1,797.3L528.7,796.2L523.4,797.9Z" fill="#13fffc"/><path d="M534.1,799.7L539.5,798.1L534.1,797.3L528.7,799.0Z" fill="#0ffff2"/><path d="M539.5,800.1L544.9,798.6L539.5,798.1L534.1,799.7Z" fill="#0cfce3"/><path d="M544.9,800.2L550.3,798.7L544.9,798.6L539.5,800.1Z" fill="#09f5cd"/><path d="M550.3,799.9L555.7,798.4L550.3,798.7L544.9,800.2Z" fill="#06efb4"/><path d="M555.7,799.3L561.1,797.9L555.7,798.4L550.3,799.9Z" fill="#04e899"/><path d="M561.1,798.3L566.5,796.9L561.1,797.9L555.7,799.3Z" fill="#02e17c"/><path d="M566.5,797.0L571.9,795.7L566.5,796.9L561.1,798.3Z" fill="#01da5e"/><path d="M572.0,795.2L577.4,794.0L571.9,795.7L566.5,797.0Z" fill="#00932c"/><path d="M577.5,793.2L582.9,792.0L577.4,794.0L572.0,795.2Z" fill="#019818"/><path d="M582.9,790.7L588.4,789.6L582.9,792.0L577.5,793.2Z" fill="#039c02"/><path d="M588.4,787.9L593.9,786.9L588.4,789.6L582.9,790.7Z" fill="#1fa002"/><path d="M453.0,763.1L458.4,760.8L452.9,755.8L447.5,758.1Z" fill="#45ff84"/><path d="M458.5,767.8L463.9,765.5L458.4,760.8L453.0,763.1Z" fill="#42ff9b"/><path d="M464.0,772.2L469.4,769.9L463.9,765.5L458.5,767.8Z" fill="#3effaf"/><path d="M469.4,776.3L474.8,774.1L469.4,769.9L464.0,772.2Z" fill="#3bffc2"/><path d="M474.9,780.2L480.2,777.9L474.8,774.1L469.4,776.3Z" fill="#37ffd2"/><path d="M480.3,783.7L485.7,781.5L480.2,777.9L474.9,780.2Z" fill="#34ffe1"/><path d="M485.7,787.0L491.1,784.8L485.7,781.5L480.3,783.7Z" fill="#30ffed"/><path d="M491.1,789.9L496.5,787.8L491.1,784.8L485.7,787.0Z" fill="#2cfff7"/><path d="M496.5,792.5L501.9,790.4L496.5,787.8L491.1,789.9Z" fill="#28ffff"/><path d="M501.9,794.8L507.2,792.8L501.9,790.4L496.5,792.5Z" fill="#24faff"/><path d="M507.2,796.8L512.6,794.8L507.2,792.8L501.9,794.8Z" fill="#20f7ff"/><path d="M512.6,798.5L518.0,796.5L512.6,794.8L507.2,796.8Z" fill="#1cf8ff"/><path d="M518.0,799.9L523.4,797.9L518.0,796.5L512.6,798.5Z" fill="#18fcff"/><path d="M523.4,800.9L528.7,799.0L523.4,797.9L518.0,799.9Z" fill="#14fffb"/><path d="M528.7,801.6L534.1,799.7L528.7,799.0L523.4,800.9Z" fill="#11fff1"/><path d="M534.1,801.9L539.5,800.1L534.1,799.7L528.7,801.6Z" fill="#0dffe4"/><path d="M539.5,801.9L544.9,800.2L539.5,800.1L534.1,801.9Z" fill="#0af8cd"/><path d="M544.9,801.6L550.3,799.9L544.9,800.2L539.5,801.9Z" fill="#08f2b4"/><path d="M550.3,800.9L555.7,799.3L550.3,799.9L544.9,801.6Z" fill="#05eb98"/><path d="M555.7,799.9L561.1,798.3L555.7,799.3L550.3,800.9Z" fill="#03e47b"/><path d="M561.1,798.5L566.5,797.0L561.1,798.3L555.7,799.9Z" fill="#01dd5b"/><path d="M566.6,796.7L572.0,795.2L566.5,797.0L561.1,798.5Z" fill="#00d73b"/><path d="M572.0,794.6L577.5,793.2L572.0,795.2L566.6,796.7Z" fill="#009513"/><path d="M577.5,792.1L582.9,790.7L577.5,793.2L572.0,794.6Z" fill="#069a01"/><path d="M583.0,789.2L588.4,787.9L582.9,790.7L577.5,792.1Z" fill="#229e02"/><path d="M447.6,765.7L453.0,763.1L447.5,758.1L442.1,760.7Z" fill="#47ff8d"/><path d="M453.1,770.4L458.5,767.8L453.0,763.1L447.6,765.7Z" fill="#44ffa3"/><path d="M458.6,774.7L464.0,772.2L458.5,767.8L453.1,770.4Z" fill="#41ffb6"/><path d="M464.1,778.8L469.4,776.3L464.0,772.2L458.6,774.7Z" fill="#3dffc8"/><path d="M469.5,782.6L474.9,780.2L469.4,776.3L464.1,778.8Z" fill="#3affd8"/><path d="M474.9,786.2L480.3,783.7L474.9,780.2L469.5,782.6Z" fill="#36ffe7"/><path d="M480.3,789.4L485.7,787.0L480.3,783.7L474.9,786.2Z" fill="#32fff2"/><path d="M485.7,792.3L491.1,789.9L485.7,787.0L480.3,789.4Z" fill="#2efffc"/><path d="M491.1,794.9L496.5,792.5L491.1,789.9L485.7,792.3Z" fill="#2afbff"/><path d="M496.5,797.1L501.9,794.8L496.5,792.5L491.1,794.9Z" fill="#26f6ff"/><path d="M501.9,799.1L507.2,796.8L501.9,794.8L496.5,797.1Z" fill="#22f4ff"/><path d="M507.2,800.7L512.6,798.5L507.2,796.8L501.9,799.1Z" fill="#1ef6ff"/><path d="M512.6,802.0L518.0,799.9L512.6,798.5L507.2,800.7Z" fill="#1afaff"/><path d="M518.0,803.0L523.4,800.9L518.0,799.9L512.6,802.0Z" fill="#16fffd"/><path d="M523.4,803.7L528.7,801.6L523.4,800.9L518.0,803.0Z" fill="#12fff2"/><path d="M528.7,804.0L534.1,801.9L528.7,801.6L523.4,803.7Z" fill="#0fffe4"/><path d="M534.1,803.9L539.5,801.9L534.1,801.9L528.7,804.0Z" fill="#0cfbcf"/><path d="M539.5,803.5L544.9,801.6L539.5,801.9L534.1,803.9Z" fill="#09f5b5"/><path d="M544.9,802.8L550.3,800.9L544.9,801.6L539.5,803.5Z" fill="#06ee99"/><path d="M550.3,801.7L555.7,799.9L550.3,800.9L544.9,802.8Z" fill="#04e77b"/><path d="M555.7,800.2L561.1,798.5L555.7,799.9L550.3,801.7Z" fill="#02e05b"/><path d="M561.2,798.4L566.6,796.7L561.1,798.5L555.7,800.2Z" fill="#00da39"/><path d="M566.6,796.2L572.0,794.6L566.6,796.7L561.2,798.4Z" fill="#009311"/><path d="M572.1,793.6L577.5,792.1L572.0,794.6L566.6,796.2Z" fill="#099801"/><path d="M577.6,790.7L583.0,789.2L577.5,792.1L572.1,793.6Z" fill="#259c02"/><path d="M442.3,768.5L447.6,765.7L442.1,760.7L436.8,763.5Z" fill="#49ff97"/><path d="M447.8,773.1L453.1,770.4L447.6,765.7L442.3,768.5Z" fill="#46ffac"/><path d="M453.2,777.5L458.6,774.7L453.1,770.4L447.8,773.1Z" fill="#43ffbf"/><path d="M458.7,781.6L464.1,778.8L458.6,774.7L453.2,777.5Z" fill="#3fffd1"/><path d="M464.1,785.3L469.5,782.6L464.1,778.8L458.7,781.6Z" fill="#3cffe0"/><path d="M469.6,788.8L474.9,786.2L469.5,782.6L464.1,785.3Z" fill="#38ffee"/><path d="M475.0,792.0L480.3,789.4L474.9,786.2L469.6,788.8Z" fill="#34fff9"/><path d="M480.4,794.9L485.7,792.3L480.3,789.4L475.0,792.0Z" fill="#30fcff"/><path d="M485.7,797.4L491.1,794.9L485.7,792.3L480.4,794.9Z" fill="#2cf5ff"/><path d="M491.1,799.7L496.5,797.1L491.1,794.9L485.7,797.4Z" fill="#28f1ff"/><path d="M496.5,801.6L501.9,799.1L496.5,797.1L491.1,799.7Z" fill="#24efff"/><path d="M501.9,803.2L507.2,800.7L501.9,799.1L496.5,801.6Z" fill="#20f1ff"/><path d="M507.2,804.5L512.6,802.0L507.2,800.7L501.9,803.2Z" fill="#1cf6ff"/><path d="M512.6,805.4L518.0,803.0L512.6,802.0L507.2,804.5Z" fill="#18fdff"/><path d="M518.0,806.0L523.4,803.7L518.0,803.0L512.6,805.4Z" fill="#14fff5"/><path d="M523.3,806.2L528.7,804.0L523.4,803.7L518.0,806.0Z" fill="#10ffe7"/><path d="M528.7,806.1L534.1,803.9L528.7,804.0L523.3,806.2Z" fill="#0dfed4"/><path d="M534.1,805.7L539.5,803.5L534.1,803.9L528.7,806.1Z" fill="#0af8b9"/><path d="M539.5,804.9L544.9,802.8L539.5,803.5L534.1,805.7Z" fill="#07f19c"/><path d="M544.9,803.7L550.3,801.7L544.9,802.8L539.5,804.9Z" fill="#05ea7d"/><path d="M550.3,802.2L555.7,800.2L550.3,801.7L544.9,803.7Z" fill="#03e35c"/><path d="M555.7,800.3L561.2,798.4L555.7,800.2L550.3,802.2Z" fill="#01dd3a"/><path d="M561.2,798.1L566.6,796.2L561.2,798.4L555.7,800.3Z" fill="#00d717"/><path d="M566.7,795.4L572.1,793.6L566.6,796.2L561.2,798.1Z" fill="#0a9600"/><path d="M572.1,792.4L577.6,790.7L572.1,793.6L566.7,795.4Z" fill="#269a01"/><path d="M436.9,771.5L442.3,768.5L436.8,763.5L431.4,766.6Z" fill="#4bffa2"/><path d="M442.4,776.1L447.8,773.1L442.3,768.5L436.9,771.5Z" fill="#48ffb7"/><path d="M447.9,780.5L453.2,777.5L447.8,773.1L442.4,776.1Z" fill="#45ffca"/><path d="M453.4,784.5L458.7,781.6L453.2,777.5L447.9,780.5Z" fill="#41ffdb"/><path d="M458.8,788.3L464.1,785.3L458.7,781.6L453.4,784.5Z" fill="#3effea"/><path d="M464.2,791.7L469.6,788.8L464.1,785.3L458.8,788.3Z" fill="#3afff7"/><path d="M469.6,794.9L475.0,792.0L469.6,788.8L464.2,791.7Z" fill="#36fcff"/><path d="M475.0,797.7L480.4,794.9L475.0,792.0L469.6,794.9Z" fill="#32f3ff"/><path d="M480.4,800.2L485.7,797.4L480.4,794.9L475.0,797.7Z" fill="#2eedff"/><path d="M485.8,802.4L491.1,799.7L485.7,797.4L480.4,800.2Z" fill="#2ae9ff"/><path d="M491.1,804.3L496.5,801.6L491.1,799.7L485.8,802.4Z" fill="#25e8ff"/><path d="M496.5,805.9L501.9,803.2L496.5,801.6L491.1,804.3Z" fill="#21eaff"/><path d="M501.9,807.1L507.2,804.5L501.9,803.2L496.5,805.9Z" fill="#1defff"/><path d="M507.2,808.0L512.6,805.4L507.2,804.5L501.9,807.1Z" fill="#19f8ff"/><path d="M512.6,808.5L518.0,806.0L512.6,805.4L507.2,808.0Z" fill="#15fffb"/><path d="M518.0,808.7L523.3,806.2L518.0,806.0L512.6,808.5Z" fill="#12ffec"/><path d="M523.3,808.6L528.7,806.1L523.3,806.2L518.0,808.7Z" fill="#0effd9"/><path d="M528.7,808.1L534.1,805.7L528.7,806.1L523.3,808.6Z" fill="#0bfabf"/><path d="M534.1,807.2L539.5,804.9L534.1,805.7L528.7,808.1Z" fill="#08f4a1"/><path d="M539.5,806.0L544.9,803.7L539.5,804.9L534.1,807.2Z" fill="#06ed81"/><path d="M544.9,804.4L550.3,802.2L544.9,803.7L539.5,806.0Z" fill="#04e65f"/><path d="M550.3,802.5L555.7,800.3L550.3,802.2L544.9,804.4Z" fill="#02e03c"/><path d="M555.8,800.2L561.2,798.1L555.7,800.3L550.3,802.5Z" fill="#00d918"/><path d="M561.2,797.5L566.7,795.4L561.2,798.1L555.8,800.2Z" fill="#099400"/><path d="M566.7,794.4L572.1,792.4L566.7,795.4L561.2,797.5Z" fill="#259801"/><path d="M431.6,774.7L436.9,771.5L431.4,766.6L426.1,769.9Z" fill="#4dffaf"/><path d="M437.1,779.4L442.4,776.1L436.9,771.5L431.6,774.7Z" fill="#4affc3"/><path d="M442.6,783.7L447.9,780.5L442.4,776.1L437.1,779.4Z" fill="#46ffd6"/><path d="M448.0,787.7L453.4,784.5L447.9,780.5L442.6,783.7Z" fill="#43ffe6"/><path d="M453.5,791.4L458.8,788.3L453.4,784.5L448.0,787.7Z" fill="#3ffff5"/><path d="M458.9,794.8L464.2,791.7L458.8,788.3L453.5,791.4Z" fill="#3cfcff"/><path d="M464.3,798.0L469.6,794.9L464.2,791.7L458.9,794.8Z" fill="#38f2ff"/><path d="M469.7,800.8L475.0,797.7L469.6,794.9L464.3,798.0Z" fill="#34eaff"/><path d="M475.0,803.3L480.4,800.2L475.0,797.7L469.7,800.8Z" fill="#2fe4ff"/><path d="M480.4,805.4L485.8,802.4L480.4,800.2L475.0,803.3Z" fill="#2be0ff"/><path d="M485.8,807.3L491.1,804.3L485.8,802.4L480.4,805.4Z" fill="#27e0ff"/><path d="M491.2,808.8L496.5,805.9L491.1,804.3L485.8,807.3Z" fill="#23e2ff"/><path d="M496.5,810.0L501.9,807.1L496.5,805.9L491.2,808.8Z" fill="#1fe7ff"/><path d="M501.9,810.8L507.2,808.0L501.9,807.1L496.5,810.0Z" fill="#1bf0ff"/><path d="M507.2,811.3L512.6,808.5L507.2,808.0L501.9,810.8Z" fill="#17fcff"/><path d="M512.6,811.5L518.0,808.7L512.6,808.5L507.2,811.3Z" fill="#13fff3"/><path d="M518.0,811.3L523.3,808.6L518.0,808.7L512.6,811.5Z" fill="#10ffe0"/><path d="M523.3,810.7L528.7,808.1L523.3,808.6L518.0,811.3Z" fill="#0cfdc8"/><path d="M528.7,809.8L534.1,807.2L528.7,808.1L523.3,810.7Z" fill="#0af6a9"/><path d="M534.1,808.6L539.5,806.0L534.1,807.2L528.7,809.8Z" fill="#07f088"/><path d="M539.5,806.9L544.9,804.4L539.5,806.0L534.1,808.6Z" fill="#04e965"/><path d="M544.9,804.9L550.3,802.5L544.9,804.4L539.5,806.9Z" fill="#02e341"/><path d="M550.3,802.5L555.8,800.2L550.3,802.5L544.9,804.9Z" fill="#01dc1b"/><path d="M555.8,799.7L561.2,797.5L555.8,800.2L550.3,802.5Z" fill="#079200"/><path d="M561.3,796.6L566.7,794.4L561.2,797.5L555.8,799.7Z" fill="#249600"/><path d="M426.3,778.2L431.6,774.7L426.1,769.9L420.8,773.4Z" fill="#4effbd"/><path d="M431.8,782.8L437.1,779.4L431.6,774.7L426.3,778.2Z" fill="#4bffd1"/><path d="M437.2,787.1L442.6,783.7L437.1,779.4L431.8,782.8Z" fill="#48ffe3"/><path d="M442.7,791.1L448.0,787.7L442.6,783.7L437.2,787.1Z" fill="#45fff3"/><path d="M448.1,794.8L453.5,791.4L448.0,787.7L442.7,791.1Z" fill="#41fdff"/><path d="M453.5,798.2L458.9,794.8L453.5,791.4L448.1,794.8Z" fill="#3df0ff"/><path d="M458.9,801.3L464.3,798.0L458.9,794.8L453.5,798.2Z" fill="#39e6ff"/><path d="M464.3,804.1L469.7,800.8L464.3,798.0L458.9,801.3Z" fill="#35deff"/><path d="M469.7,806.5L475.0,803.3L469.7,800.8L464.3,804.1Z" fill="#31d8ff"/><path d="M475.1,808.7L480.4,805.4L475.0,803.3L469.7,806.5Z" fill="#2dd5ff"/><path d="M480.4,810.5L485.8,807.3L480.4,805.4L475.1,808.7Z" fill="#29d5ff"/><path d="M485.8,811.9L491.2,808.8L485.8,807.3L480.4,810.5Z" fill="#25d8ff"/><path d="M491.2,813.1L496.5,810.0L491.2,808.8L485.8,811.9Z" fill="#20ddff"/><path d="M496.5,813.9L501.9,810.8L496.5,810.0L491.2,813.1Z" fill="#1ce6ff"/><path d="M501.9,814.4L507.2,811.3L501.9,810.8L496.5,813.9Z" fill="#18f2ff"/><path d="M507.2,814.5L512.6,811.5L507.2,811.3L501.9,814.4Z" fill="#15fffc"/><path d="M512.6,814.2L518.0,811.3L512.6,811.5L507.2,814.5Z" fill="#11ffe9"/><path d="M517.9,813.6L523.3,810.7L518.0,811.3L512.6,814.2Z" fill="#0effd1"/><path d="M523.3,812.7L528.7,809.8L523.3,810.7L517.9,813.6Z" fill="#0bf9b2"/><path d="M528.7,811.3L534.1,808.6L528.7,809.8L523.3,812.7Z" fill="#08f391"/><path d="M534.1,809.6L539.5,806.9L534.1,808.6L528.7,811.3Z" fill="#05ec6d"/><path d="M539.5,807.6L544.9,804.9L539.5,806.9L534.1,809.6Z" fill="#03e547"/><path d="M544.9,805.1L550.3,802.5L544.9,804.9L539.5,807.6Z" fill="#02df21"/><path d="M550.4,802.3L555.8,799.7L550.3,802.5L544.9,805.1Z" fill="#07d900"/><path d="M555.8,799.0L561.3,796.6L555.8,799.7L550.4,802.3Z" fill="#219400"/><path d="M421.0,782.0L426.3,778.2L420.8,773.4L415.5,777.1Z" fill="#50ffcd"/><path d="M426.5,786.5L431.8,782.8L426.3,778.2L421.0,782.0Z" fill="#4dffe0"/><path d="M431.9,790.8L437.2,787.1L431.8,782.8L426.5,786.5Z" fill="#4afff2"/><path d="M437.4,794.8L442.7,791.1L437.2,787.1L431.9,790.8Z" fill="#46fcff"/><path d="M442.8,798.4L448.1,794.8L442.7,791.1L437.4,794.8Z" fill="#43eeff"/><path d="M448.2,801.8L453.5,798.2L448.1,794.8L442.8,798.4Z" fill="#3fe2ff"/><path d="M453.6,804.9L458.9,801.3L453.5,798.2L448.2,801.8Z" fill="#3bd8ff"/><path d="M459.0,807.6L464.3,804.1L458.9,801.3L453.6,804.9Z" fill="#37d1ff"/><path d="M464.4,810.0L469.7,806.5L464.3,804.1L459.0,807.6Z" fill="#33cbff"/><path d="M469.8,812.1L475.1,808.7L469.7,806.5L464.4,810.0Z" fill="#2fc9ff"/><path d="M475.1,813.9L480.4,810.5L475.1,808.7L469.8,812.1Z" fill="#2ac8ff"/><path d="M480.5,815.3L485.8,811.9L480.4,810.5L475.1,813.9Z" fill="#26cbff"/><path d="M485.8,816.4L491.2,813.1L485.8,811.9L480.5,815.3Z" fill="#22d1ff"/><path d="M491.2,817.2L496.5,813.9L491.2,813.1L485.8,816.4Z" fill="#1edaff"/><path d="M496.5,817.6L501.9,814.4L496.5,813.9L491.2,817.2Z" fill="#1ae7ff"/><path d="M501.9,817.7L507.2,814.5L501.9,814.4L496.5,817.6Z" fill="#16f7ff"/><path d="M507.2,817.4L512.6,814.2L507.2,814.5L501.9,817.7Z" fill="#12fff3"/><path d="M512.6,816.8L517.9,813.6L512.6,814.2L507.2,817.4Z" fill="#0fffdc"/><path d="M517.9,815.7L523.3,812.7L517.9,813.6L512.6,816.8Z" fill="#0cfcbe"/><path d="M523.3,814.4L528.7,811.3L523.3,812.7L517.9,815.7Z" fill="#09f59c"/><path d="M528.7,812.6L534.1,809.6L528.7,811.3L523.3,814.4Z" fill="#06ef77"/><path d="M534.1,810.5L539.5,807.6L534.1,809.6L528.7,812.6Z" fill="#04e850"/><path d="M539.5,808.0L544.9,805.1L539.5,807.6L534.1,810.5Z" fill="#02e229"/><path d="M544.9,805.0L550.4,802.3L544.9,805.1L539.5,808.0Z" fill="#02dc01"/><path d="M550.4,801.8L555.8,799.0L550.4,802.3L544.9,805.0Z" fill="#1c9200"/><path d="M415.7,785.9L421.0,782.0L415.5,777.1L410.2,781.1Z" fill="#52ffdd"/><path d="M421.2,790.5L426.5,786.5L421.0,782.0L415.7,785.9Z" fill="#4efff0"/><path d="M426.7,794.7L431.9,790.8L426.5,786.5L421.2,790.5Z" fill="#4bfcff"/><path d="M432.1,798.7L437.4,794.8L431.9,790.8L426.7,794.7Z" fill="#48edff"/><path d="M437.5,802.3L442.8,798.4L437.4,794.8L432.1,798.7Z" fill="#44dfff"/><path d="M442.9,805.6L448.2,801.8L442.8,798.4L437.5,802.3Z" fill="#40d3ff"/><path d="M448.3,808.7L453.6,804.9L448.2,801.8L442.9,805.6Z" fill="#3cc9ff"/><path d="M453.7,811.4L459.0,807.6L453.6,804.9L448.3,808.7Z" fill="#38c2ff"/><path d="M459.1,813.8L464.4,810.0L459.0,807.6L453.7,811.4Z" fill="#34bdff"/><path d="M464.4,815.8L469.8,812.1L464.4,810.0L459.1,813.8Z" fill="#30baff"/><path d="M469.8,817.6L475.1,813.9L469.8,812.1L464.4,815.8Z" fill="#2cbaff"/><path d="M475.1,819.0L480.5,815.3L475.1,813.9L469.8,817.6Z" fill="#28bdff"/><path d="M480.5,820.1L485.8,816.4L480.5,815.3L475.1,819.0Z" fill="#23c3ff"/><path d="M485.8,820.8L491.2,817.2L485.8,816.4L480.5,820.1Z" fill="#1fcdff"/><path d="M491.2,821.2L496.5,817.6L491.2,817.2L485.8,820.8Z" fill="#1bd9ff"/><path d="M496.5,821.2L501.9,817.7L496.5,817.6L491.2,821.2Z" fill="#17eaff"/><path d="M501.8,820.8L507.2,817.4L501.9,817.7L496.5,821.2Z" fill="#14feff"/><path d="M507.2,820.1L512.6,816.8L507.2,817.4L501.8,820.8Z" fill="#10ffe9"/><path d="M512.6,819.1L517.9,815.7L512.6,816.8L507.2,820.1Z" fill="#0dfecc"/><path d="M517.9,817.6L523.3,814.4L517.9,815.7L512.6,819.1Z" fill="#0af8a9"/><path d="M523.3,815.8L528.7,812.6L523.3,814.4L517.9,817.6Z" fill="#07f183"/><path d="M528.7,813.6L534.1,810.5L528.7,812.6L523.3,815.8Z" fill="#05eb5c"/><path d="M534.1,811.0L539.5,808.0L534.1,810.5L528.7,813.6Z" fill="#03e433"/><path d="M539.5,808.1L544.9,805.0L539.5,808.0L534.1,811.0Z" fill="#01de09"/><path d="M544.9,804.7L550.4,801.8L544.9,805.0L539.5,808.1Z" fill="#22d800"/><path d="M410.4,790.1L415.7,785.9L410.2,781.1L404.9,785.3Z" fill="#53ffef"/><path d="M415.9,794.6L421.2,790.5L415.7,785.9L410.4,790.1Z" fill="#50fcff"/><path d="M421.4,798.9L426.7,794.7L421.2,790.5L415.9,794.6Z" fill="#4debff"/><path d="M426.8,802.8L432.1,798.7L426.7,794.7L421.4,798.9Z" fill="#49dbff"/><path d="M432.2,806.4L437.5,802.3L432.1,798.7L426.8,802.8Z" fill="#46ceff"/><path d="M437.7,809.7L442.9,805.6L437.5,802.3L432.2,806.4Z" fill="#42c2ff"/><path d="M443.0,812.7L448.3,808.7L442.9,805.6L437.7,809.7Z" fill="#3eb9ff"/><path d="M448.4,815.4L453.7,811.4L448.3,808.7L443.0,812.7Z" fill="#3ab1ff"/><path d="M453.8,817.8L459.1,813.8L453.7,811.4L448.4,815.4Z" fill="#36acff"/><path d="M459.1,819.8L464.4,815.8L459.1,813.8L453.8,817.8Z" fill="#31aaff"/><path d="M464.5,821.5L469.8,817.6L464.4,815.8L459.1,819.8Z" fill="#2daaff"/><path d="M469.8,822.9L475.1,819.0L469.8,817.6L464.5,821.5Z" fill="#29adff"/><path d="M475.2,823.9L480.5,820.1L475.1,819.0L469.8,822.9Z" fill="#25b4ff"/><path d="M480.5,824.6L485.8,820.8L480.5,820.1L475.2,823.9Z" fill="#21bdff"/><path d="M485.8,824.9L491.2,821.2L485.8,820.8L480.5,824.6Z" fill="#1dcaff"/><path d="M491.2,824.9L496.5,821.2L491.2,821.2L485.8,824.9Z" fill="#19daff"/><path d="M496.5,824.5L501.8,820.8L496.5,821.2L491.2,824.9Z" fill="#15efff"/><path d="M501.8,823.8L507.2,820.1L501.8,820.8L496.5,824.5Z" fill="#11fff7"/><path d="M507.2,822.6L512.6,819.1L507.2,820.1L501.8,823.8Z" fill="#0effdc"/><path d="M512.5,821.2L517.9,817.6L512.6,819.1L507.2,822.6Z" fill="#0bfab8"/><path d="M517.9,819.3L523.3,815.8L517.9,817.6L512.5,821.2Z" fill="#08f492"/><path d="M523.3,817.0L528.7,813.6L523.3,815.8L517.9,819.3Z" fill="#06ed69"/><path d="M528.7,814.4L534.1,811.0L528.7,813.6L523.3,817.0Z" fill="#04e73f"/><path d="M534.1,811.4L539.5,808.1L534.1,811.0L528.7,814.4Z" fill="#02e114"/><path d="M539.5,807.9L544.9,804.7L539.5,808.1L534.1,811.4Z" fill="#19db01"/></g>
<circle cx="404.8" cy="782.7" r="2.5" fill="#c00606" stroke="#5a1010" stroke-width="0.7"/>
<circle cx="673.3" cy="800.8" r="2.5" fill="#fcc8c8" stroke="#8a5050" stroke-width="0.7"/>
<circle cx="539.5" cy="785.6" r="2.5" fill="#c00606" stroke="#5a1010" stroke-width="0.7"/>
<circle cx="539.5" cy="787.0" r="2.5" fill="#c00606" stroke="#5a1010" stroke-width="0.7"/>
<circle cx="539.5" cy="804.7" r="2.5" fill="#c00606" stroke="#5a1010" stroke-width="0.7"/>
<circle cx="407.0" cy="827.2" r="1.3" fill="#111"/><circle cx="405.9" cy="804.5" r="1.3" fill="#111"/><circle cx="404.8" cy="781.8" r="1.3" fill="#111"/><circle cx="403.7" cy="759.1" r="1.3" fill="#111"/><circle cx="402.6" cy="736.4" r="1.3" fill="#111"/><circle cx="401.5" cy="713.7" r="1.3" fill="#111"/><circle cx="400.4" cy="691.0" r="1.3" fill="#111"/><circle cx="539.5" cy="932.2" r="1.3" fill="#111"/><circle cx="513.4" cy="919.7" r="1.3" fill="#111"/><circle cx="487.3" cy="907.2" r="1.3" fill="#111"/><circle cx="461.2" cy="894.8" r="1.3" fill="#111"/><circle cx="435.1" cy="882.3" r="1.3" fill="#111"/><circle cx="409.0" cy="869.8" r="1.3" fill="#111"/><circle cx="539.5" cy="932.2" r="1.3" fill="#111"/><circle cx="572.1" cy="916.6" r="1.3" fill="#111"/><circle cx="604.8" cy="901.0" r="1.3" fill="#111"/><circle cx="637.4" cy="885.4" r="1.3" fill="#111"/><circle cx="670.0" cy="869.8" r="1.3" fill="#111"/>
<g font-size="10.1" fill="#3c3c3c"><text x="402.1" y="825.4" text-anchor="end">0</text><text x="401.0" y="802.7" text-anchor="end">5</text><text x="399.9" y="780.0" text-anchor="end">10</text><text x="398.8" y="757.3" text-anchor="end">15</text><text x="397.7" y="734.6" text-anchor="end">20</text><text x="396.6" y="711.9" text-anchor="end">25</text><text x="395.5" y="689.2" text-anchor="end">30</text><text x="534.8" y="942.7" text-anchor="end">5</text><text x="508.7" y="930.2" text-anchor="end">8</text><text x="482.6" y="917.8" text-anchor="end">11</text><text x="456.5" y="905.3" text-anchor="end">14</text><text x="430.4" y="892.8" text-anchor="end">17</text><text x="404.3" y="880.3" text-anchor="end">20</text><text x="543.3" y="943.0" text-anchor="start">10</text><text x="575.9" y="927.4" text-anchor="start">15</text><text x="608.5" y="911.8" text-anchor="start">20</text><text x="641.2" y="896.2" text-anchor="start">25</text><text x="673.8" y="880.7" text-anchor="start">30</text></g>
<text x="424.9" y="928.1" font-size="9.1" fill="#3c3c3c" text-anchor="middle">C: Solid ratio (w/v)</text>
<text x="654.3" y="928.1" font-size="9.4" fill="#3c3c3c" text-anchor="middle">B: Time (min)</text>
<text transform="translate(362.5,783.9) rotate(-90)" font-size="9.3" fill="#3c3c3c" text-anchor="middle">Akylamide concentration (ug/g DW)</text>
<text x="653.0" y="676.8" style="font-family:'Liberation Serif',serif;font-weight:bold;font-size:23.5px" fill="#000">F)</text></g>
</svg>
</body></html>
